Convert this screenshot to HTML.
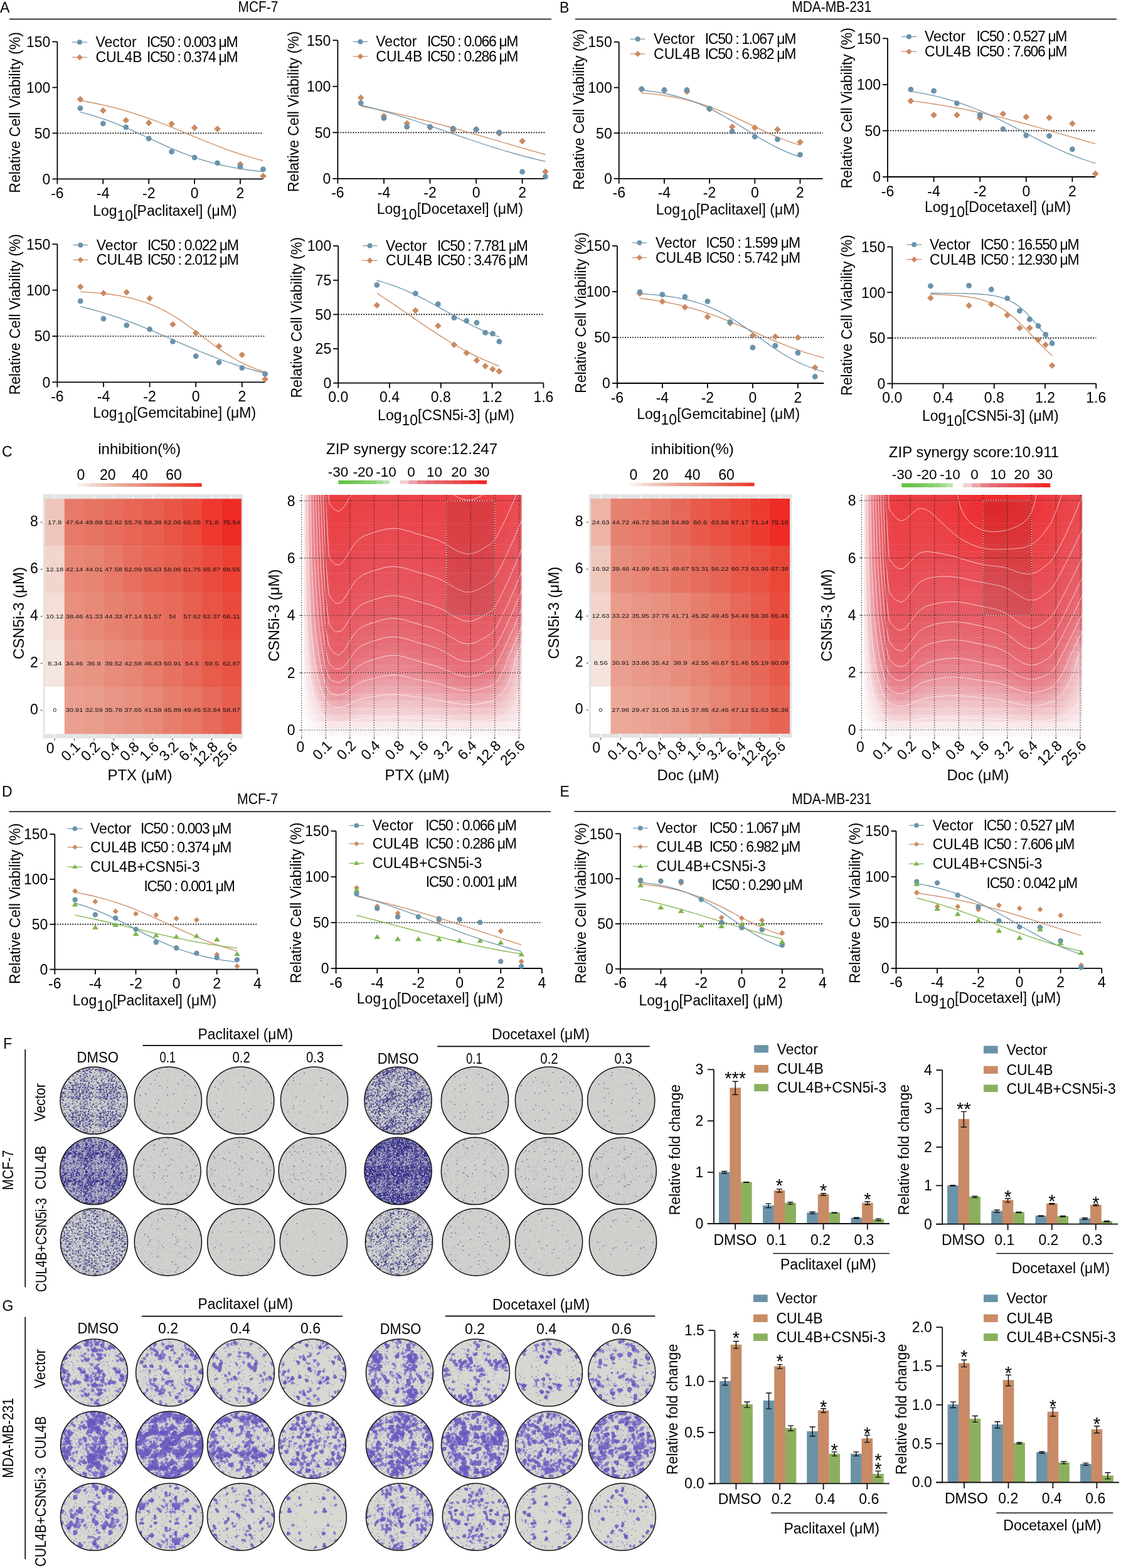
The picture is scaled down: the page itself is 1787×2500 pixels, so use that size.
<!DOCTYPE html>
<html><head><meta charset="utf-8"><title>Figure</title>
<style>html,body{margin:0;padding:0;background:#fff;}svg{display:block;}</style></head>
<body><svg width="1787" height="2500" viewBox="0 0 1787 2500" font-family='"Liberation Sans", Arial, sans-serif' font-size="23">
<rect width="1787" height="2500" fill="#fff"/>
<defs><pattern id="p1" patternUnits="userSpaceOnUse" width="44" height="44"><path d="M15 14h0M9 8h0M28 23h0M18 20h0M39 30h0M4 18h0M7 7h0M3 3h0M40 6h0M43 27h0M34 22h0M43 27h0M-1 27h0M42 44h0M42 0h0M3 4h0M35 34h0M31 34h0M22 26h0M42 39h0M32 16h0M12 13h0M10 35h0M16 20h0M21 36h0M5 25h0M18 31h0M29 21h0M31 7h0M38 2h0M35 32h0M8 21h0M18 24h0M15 20h0M7 16h0M36 3h0M12 44h0M12 0h0M37 4h0M3 23h0M33 19h0M13 18h0M10 28h0M1 4h0M45 4h0M14 39h0M36 30h0M38 37h0M7 31h0M1 14h0M45 14h0M17 32h0M28 27h0M3 20h0M19 38h0M29 6h0M4 25h0M31 38h0M11 17h0M21 30h0M8 1h0M8 45h0M6 33h0M8 42h0M17 39h0M37 21h0M34 40h0M4 29h0M7 23h0M34 22h0M22 9h0M6 35h0M38 19h0M41 33h0M6 41h0M5 13h0M39 31h0M8 4h0M34 27h0M31 4h0M9 12h0M20 33h0M8 28h0M2 24h0M0 22h0M44 22h0M17 9h0M32 32h0M40 17h0M32 11h0M2 18h0M5 35h0M9 29h0M2 21h0M13 19h0M41 11h0M25 32h0M33 26h0M29 39h0M11 22h0M36 35h0M34 16h0M15 30h0M21 30h0M31 22h0M33 16h0M18 2h0M42 24h0M31 4h0M28 42h0M12 34h0M38 2h0M40 8h0M27 16h0M2 27h0M22 17h0M8 25h0M35 33h0M20 42h0M1 24h0M45 24h0M36 35h0M31 37h0M36 38h0M1 18h0M45 18h0M11 40h0M11 42h0M33 36h0M18 13h0M17 25h0M21 25h0M6 22h0M43 22h0M-1 22h0M7 25h0M33 39h0M27 24h0M15 18h0M39 31h0M8 21h0M29 21h0M40 30h0M16 0h0M16 44h0M23 18h0M34 32h0M8 34h0M40 40h0M39 15h0M39 36h0M33 25h0M41 13h0M41 12h0M2 15h0M10 15h0M21 18h0M32 11h0M32 12h0M21 43h0M21 -1h0M12 44h0M12 0h0M30 19h0M12 18h0M31 44h0M31 0h0M44 14h0M0 14h0M26 22h0M6 5h0M9 3h0M24 20h0M13 17h0M28 20h0M24 25h0M4 40h0M25 33h0M1 9h0M23 41h0M35 11h0M13 27h0M33 23h0M32 29h0M28 15h0M0 41h0M44 41h0M32 21h0M11 10h0M35 23h0M2 41h0M7 40h0M14 3h0M3 15h0M36 31h0M27 33h0M4 39h0M26 15h0M23 25h0M30 35h0M10 15h0M8 35h0M28 40h0M0 14h0M44 14h0M43 12h0M-1 12h0M38 33h0M28 24h0M20 30h0M43 28h0M-1 28h0M22 8h0M16 32h0M20 5h0M2 36h0M27 25h0M33 11h0M11 17h0M5 42h0M3 38h0M39 33h0M28 36h0M28 16h0M29 14h0M25 12h0M20 28h0M4 17h0M26 32h0M44 36h0M0 36h0M38 27h0M11 25h0M26 14h0M1 8h0M45 8h0M33 10h0M12 14h0M26 27h0M12 18h0M22 44h0M22 0h0M37 17h0M41 40h0M4 44h0M4 0h0M40 36h0M17 21h0M24 30h0M29 17h0M8 25h0M30 21h0M7 40h0M39 28h0M30 25h0M18 9h0M37 12h0M42 6h0M4 16h0M0 8h0M44 8h0M27 23h0M30 4h0M6 40h0M19 14h0M26 11h0M36 32h0M4 31h0M32 5h0M8 28h0M1 23h0M45 23h0M23 3h0M27 31h0M24 18h0M4 12h0M20 22h0M5 8h0M2 1h0M2 45h0M28 6h0M34 24h0M35 8h0M32 27h0M40 32h0M9 31h0M2 33h0M26 10h0M42 27h0M36 26h0M21 6h0M9 14h0M1 25h0M45 25h0M32 14h0M23 10h0M34 4h0M30 14h0M3 16h0M9 21h0M29 39h0M8 32h0M4 1h0M5 36h0M3 21h0M11 44h0M11 0h0M38 27h0M25 1h0M25 26h0M40 8h0M13 19h0M34 27h0M6 1h0M1 44h0M1 0h0M32 10h0M11 28h0M37 21h0M4 27h0M32 12h0M12 37h0M43 6h0M30 28h0M30 22h0M11 7h0M25 21h0M35 34h0M31 11h0M2 41h0M40 5h0M32 21h0M4 7h0M8 8h0M34 22h0M11 22h0M34 43h0M34 -1h0M30 8h0M14 20h0M12 26h0M32 32h0M4 21h0M35 10h0M12 14h0M39 43h0M39 -1h0M20 2h0M20 16h0M44 30h0M0 30h0M30 35h0M42 8h0M21 14h0M2 40h0M7 39h0M32 2h0M33 18h0M22 5h0M22 27h0M7 31h0M44 19h0M0 19h0M44 35h0M0 35h0M30 38h0M15 15h0M2 31h0M35 19h0M36 18h0M33 18h0M26 28h0M27 36h0M42 37h0M9 24h0M24 33h0M2 5h0M37 32h0M29 20h0M28 12h0M29 42h0M33 28h0M14 18h0M11 19h0M10 22h0M40 17h0M32 22h0M9 28h0M41 3h0M12 42h0M40 1h0M40 45h0M4 38h0M10 16h0M38 36h0M28 28h0M1 37h0M45 37h0M6 24h0M33 32h0M35 36h0M38 33h0M23 34h0M2 30h0M10 12h0M44 18h0M0 18h0M1 22h0M45 22h0M42 27h0M41 27h0M30 25h0M2 3h0M44 32h0M0 32h0M5 22h0M30 34h0M27 38h0M25 0h0M25 44h0M5 40h0M17 32h0M4 9h0M44 28h0M0 28h0M3 8h0M44 44h0M0 0h0M0 44h0M44 0h0M33 5h0M36 13h0M24 37h0M3 37h0" stroke="#403a90" stroke-width="1.3" stroke-linecap="round" stroke-opacity="0.8"/><path d="M37 37h0M28 25h0M39 19h0M37 18h0M1 36h0M45 36h0M24 10h0M40 30h0M38 25h0M2 42h0M29 25h0M16 28h0M26 35h0M16 32h0M40 18h0M32 14h0M7 35h0M15 6h0M40 1h0M40 45h0M17 19h0M1 27h0M45 27h0M39 18h0M38 22h0M9 22h0M9 12h0M33 35h0M43 4h0M-1 4h0M37 13h0M35 15h0M40 12h0M4 13h0M39 32h0M33 21h0M28 35h0M4 19h0M13 4h0M7 20h0M16 2h0M30 7h0M8 18h0M40 43h0M40 -1h0M6 8h0M28 25h0M4 2h0M14 27h0M31 30h0M44 17h0M0 17h0M5 18h0M38 24h0M6 24h0M44 33h0M0 33h0M28 18h0M41 7h0M9 16h0M11 37h0M7 0h0M7 44h0M24 11h0M22 33h0M39 29h0M11 26h0M12 28h0M36 35h0M0 33h0M44 33h0M28 21h0M38 35h0M14 25h0M3 14h0M34 33h0M28 44h0M28 0h0M20 34h0M12 37h0M34 29h0M13 38h0M20 34h0M38 36h0M26 21h0M23 18h0M44 24h0M0 24h0M14 34h0M15 20h0M7 35h0M22 4h0M2 36h0M22 21h0M19 5h0M10 33h0M27 21h0M6 26h0M10 10h0M5 34h0M40 28h0M42 21h0M27 15h0M5 30h0M29 15h0M11 31h0M43 26h0M-1 26h0M34 13h0M29 33h0M29 21h0M44 12h0M0 12h0M35 26h0M35 41h0M16 16h0M17 44h0M17 0h0M2 7h0M2 6h0M41 15h0M34 29h0M14 9h0M11 32h0" stroke="#2e2a7e" stroke-width="2" stroke-linecap="round" stroke-opacity="0.9"/></pattern>
<pattern id="p2" patternUnits="userSpaceOnUse" width="44" height="44"><path d="M3 8h0M4 34h0M16 21h0M14 28h0M18 9h0M19 13h0M5 36h0M30 29h0M39 17h0M17 19h0M18 29h0M0 20h0M44 20h0M24 15h0M1 31h0M45 31h0M0 25h0M44 25h0M7 2h0M8 3h0M7 30h0M32 16h0M29 21h0M22 38h0M14 38h0M30 30h0M0 4h0M44 4h0M1 15h0M42 38h0M37 5h0M31 34h0M36 35h0M6 8h0M35 32h0M39 20h0M39 6h0M42 39h0M15 3h0M24 30h0M15 2h0M12 36h0M4 41h0M11 9h0M5 43h0M5 -1h0M40 14h0M4 29h0M39 0h0M39 44h0M28 38h0M20 25h0M35 10h0M12 29h0M24 24h0M15 41h0M13 30h0M39 18h0M2 10h0M3 6h0M5 15h0M16 20h0M29 30h0M30 16h0M29 24h0M6 24h0M14 30h0M32 11h0M19 20h0M13 2h0M2 44h0M2 0h0M33 19h0M29 12h0M31 42h0M34 20h0M43 41h0M-1 41h0" stroke="#5a58a0" stroke-width="1.1" stroke-linecap="round" stroke-opacity="0.4"/><path d="M3 18h0M20 12h0M27 6h0M33 38h0M3 30h0M12 28h0M30 43h0M30 -1h0M35 15h0" stroke="#2c2a78" stroke-width="1.6" stroke-linecap="round" stroke-opacity="0.9"/></pattern>
<pattern id="p3" patternUnits="userSpaceOnUse" width="44" height="44"><path d="M39 32h0M17 10h0M6 36h0M30 27h0M19 22h0M10 23h0M6 27h0M28 30h0M11 4h0M15 30h0M22 33h0M19 18h0M40 7h0M9 26h0M28 19h0M25 19h0M29 39h0M36 28h0M21 42h0M20 28h0M38 30h0M17 33h0M26 40h0M27 24h0M43 23h0M18 41h0M42 8h0M3 38h0M39 17h0M11 30h0M41 9h0M20 29h0M10 18h0M6 21h0M10 4h0M17 7h0M5 7h0M18 14h0M32 18h0M11 8h0M13 33h0M9 20h0M36 36h0M20 37h0" stroke="#5a58a0" stroke-width="1.1" stroke-linecap="round" stroke-opacity="0.4"/><path d="M28 10h0M4 8h0M35 17h0M37 43h0M40 21h0M0 12h0M44 12h0" stroke="#2c2a78" stroke-width="1.6" stroke-linecap="round" stroke-opacity="0.9"/></pattern>
<pattern id="p4" patternUnits="userSpaceOnUse" width="44" height="44"><path d="M4 10h0M36 1h0M10 5h0M6 23h0M8 18h0M32 32h0M18 35h0M25 36h0M11 16h0M26 42h0M27 21h0M11 12h0M10 43h0M10 -1h0M39 39h0M23 31h0M13 21h0M6 18h0M11 4h0M40 4h0M36 31h0M4 21h0M44 43h0M0 -1h0M0 43h0M44 -1h0M25 34h0M31 13h0M24 26h0M17 36h0M20 33h0M3 20h0M2 28h0M38 24h0M25 27h0M10 17h0M26 28h0M17 21h0M15 24h0M30 14h0M30 37h0M24 43h0M24 -1h0M14 40h0M8 16h0M36 1h0M27 38h0M42 30h0M15 15h0" stroke="#5a58a0" stroke-width="1.1" stroke-linecap="round" stroke-opacity="0.4"/><path d="M28 3h0M1 39h0M45 39h0M28 7h0M19 13h0M38 13h0M32 33h0" stroke="#2c2a78" stroke-width="1.6" stroke-linecap="round" stroke-opacity="0.9"/></pattern>
<pattern id="p5" patternUnits="userSpaceOnUse" width="44" height="44"><path d="M28 38h0M17 14h0M28 18h0M24 11h0M9 40h0M6 7h0M15 3h0M24 36h0M0 20h0M44 20h0M28 40h0M8 23h0M41 2h0M38 2h0M5 31h0M32 28h0M24 32h0M37 30h0M39 37h0M23 32h0M1 40h0M38 43h0M38 -1h0M24 5h0M14 25h0M28 37h0M14 10h0M24 10h0M37 4h0M32 28h0M31 22h0M21 31h0M10 29h0M42 22h0M10 17h0M27 12h0M6 16h0M40 20h0M6 6h0M8 38h0M30 10h0M3 14h0M22 38h0M16 36h0M3 4h0M14 19h0M43 30h0M27 10h0M7 26h0M32 11h0M42 7h0M7 32h0M31 0h0M31 44h0M10 32h0M30 20h0M11 37h0M3 37h0M6 5h0M4 16h0M12 18h0M43 5h0M-1 5h0M30 41h0M19 39h0M2 20h0M42 24h0M30 22h0M7 5h0M11 30h0M31 27h0M22 24h0M6 27h0M42 12h0M41 14h0M18 7h0M5 27h0M5 11h0M4 5h0M29 0h0M29 44h0M31 8h0M36 31h0M10 27h0M26 15h0M29 35h0M5 42h0M3 35h0M4 10h0M11 23h0M8 21h0M33 36h0M25 10h0M41 9h0M37 17h0M37 10h0M7 31h0M3 30h0M42 31h0M37 13h0M36 4h0M33 10h0M1 22h0M45 22h0M20 37h0M2 4h0M16 5h0M30 2h0M16 20h0M4 1h0M9 36h0M17 19h0M39 14h0M41 10h0M11 37h0M0 8h0M44 8h0M43 37h0M-1 37h0M41 43h0M3 10h0M34 3h0M9 30h0M3 40h0M40 21h0M36 37h0M4 38h0M17 19h0M3 2h0M5 38h0M16 15h0M39 28h0M15 21h0M33 17h0M37 29h0M11 16h0M34 18h0M11 16h0M33 5h0M1 7h0M45 7h0M6 18h0M9 42h0M24 21h0M44 40h0M0 40h0M22 23h0M13 38h0M24 42h0M39 35h0M23 43h0M3 7h0M5 44h0M5 0h0M4 11h0M36 31h0M14 16h0M27 27h0M40 10h0M31 32h0M22 23h0M30 38h0M10 36h0M4 25h0M30 21h0M6 23h0M33 24h0M11 26h0M33 11h0M5 37h0M20 44h0M20 0h0M13 37h0M30 42h0M41 9h0M8 34h0M20 23h0M11 37h0M12 18h0M13 2h0M6 37h0M33 17h0M44 16h0M0 16h0M7 31h0M24 14h0M26 40h0M4 6h0M8 8h0M13 34h0M32 20h0M3 10h0M27 26h0M37 24h0M17 42h0M38 37h0M20 0h0M20 44h0M19 34h0M0 43h0M44 -1h0M44 43h0M0 -1h0M20 13h0M6 23h0M15 31h0M26 23h0M5 8h0M33 23h0M30 26h0M42 31h0M1 24h0M45 24h0M15 18h0M9 37h0M24 10h0M25 36h0M11 33h0M31 40h0M28 27h0M31 26h0M34 13h0M12 27h0M16 29h0M28 13h0M11 28h0M16 37h0M31 29h0M19 29h0M3 18h0M12 19h0M11 43h0M9 40h0M44 28h0M0 28h0M6 4h0M26 28h0M33 15h0M18 42h0M34 32h0M25 16h0M3 33h0M3 3h0M8 9h0M21 32h0M42 41h0M26 4h0M21 5h0M27 16h0M16 23h0M33 7h0M3 16h0M37 8h0M8 28h0M29 3h0M15 38h0M20 35h0M28 33h0M28 14h0M17 27h0M5 26h0M41 39h0M38 11h0M9 18h0M26 33h0M5 29h0M17 23h0M33 6h0M26 16h0M33 15h0M12 11h0M44 32h0M0 32h0M26 26h0M19 18h0M8 15h0M31 12h0M11 3h0M22 37h0M20 28h0M18 39h0M36 36h0M29 2h0M36 43h0M7 35h0M25 35h0M27 14h0M1 10h0M12 29h0M29 43h0M18 30h0M7 27h0M2 36h0M0 42h0M44 42h0M10 22h0M12 36h0M17 32h0M42 44h0M42 0h0M43 37h0M-1 37h0M6 26h0M39 38h0M39 43h0M39 -1h0M9 37h0M22 26h0M6 22h0M5 21h0M40 38h0M37 3h0M18 32h0M7 30h0M3 27h0M5 36h0M31 12h0M29 1h0M29 45h0M13 35h0M36 27h0M21 23h0M0 33h0M44 33h0M33 26h0M10 39h0M17 43h0M17 -1h0M36 12h0M4 37h0M1 33h0M7 39h0M17 1h0M34 24h0M39 40h0M34 38h0M1 36h0M45 36h0M5 18h0M40 11h0M25 30h0M17 31h0M34 19h0M29 3h0M30 0h0M30 44h0M10 6h0M15 26h0M38 8h0M32 5h0M13 34h0M43 17h0M-1 17h0M39 4h0M12 25h0M4 2h0M8 31h0M35 11h0M37 39h0M42 25h0M21 7h0M25 44h0M25 0h0M18 16h0M22 40h0M11 42h0M31 0h0M31 44h0M8 2h0M28 2h0M4 36h0M18 22h0M2 38h0M16 17h0M14 33h0M40 42h0M29 38h0M34 6h0M23 40h0M40 16h0M31 21h0M32 14h0M32 32h0M26 37h0M44 18h0M0 18h0M37 14h0M27 27h0M7 0h0M7 44h0M22 19h0M28 9h0M35 8h0M27 43h0M27 -1h0M32 7h0M20 27h0M2 34h0M41 27h0M21 22h0M8 25h0M6 5h0M42 36h0M17 5h0M29 9h0M6 39h0M30 23h0M34 42h0M1 24h0M45 24h0M22 21h0M9 30h0M38 24h0M38 28h0M44 10h0M0 10h0M2 0h0M2 44h0M28 31h0M7 38h0M40 38h0M7 29h0M42 7h0M13 1h0M13 45h0M33 42h0M31 14h0M27 26h0M34 24h0M43 18h0M-1 18h0M20 4h0M13 6h0M4 4h0M30 13h0M37 10h0M38 39h0M35 38h0M26 9h0M13 4h0M30 24h0M1 41h0M16 31h0M40 33h0M44 34h0M0 34h0M41 41h0M30 6h0M26 15h0M23 12h0M32 24h0M29 32h0M6 33h0M16 32h0M38 41h0M31 22h0M37 12h0M3 38h0M37 38h0M1 13h0M45 13h0M9 32h0M2 19h0M19 31h0M30 8h0M38 13h0M12 22h0M43 12h0M11 37h0M11 1h0M35 20h0M39 11h0M2 32h0M3 29h0M39 28h0M6 42h0M5 22h0M34 34h0M10 17h0M14 42h0M6 33h0M38 38h0M42 7h0M17 39h0M7 42h0M42 32h0M8 2h0M18 31h0M18 31h0M34 30h0M34 12h0M24 25h0M3 15h0M1 23h0M45 23h0M11 22h0M3 31h0M39 27h0M43 36h0M-1 36h0M2 3h0M37 3h0M38 36h0M18 44h0M18 0h0M10 34h0M43 37h0M-1 37h0M3 28h0M41 32h0M15 40h0M40 10h0M2 42h0M21 36h0M34 8h0M11 0h0M11 44h0M7 25h0M40 39h0M35 43h0M35 -1h0M7 31h0M36 1h0M22 10h0" stroke="#403a90" stroke-width="1.3" stroke-linecap="round" stroke-opacity="0.8"/><path d="M13 20h0M38 2h0M9 35h0M33 17h0M29 39h0M20 27h0M39 42h0M33 11h0M2 44h0M2 0h0M34 12h0M34 8h0M33 8h0M15 36h0M40 43h0M40 -1h0M2 40h0M24 20h0M40 43h0M40 -1h0M15 27h0M13 34h0M34 40h0M32 40h0M19 21h0M33 12h0M33 1h0M33 45h0M34 4h0M31 16h0M27 14h0M27 42h0M1 28h0M45 28h0M34 19h0M43 30h0M-1 30h0M42 31h0M10 25h0M44 39h0M0 39h0M33 40h0M18 10h0M18 3h0M20 2h0M28 10h0M2 23h0M31 30h0M16 39h0M8 26h0M29 1h0M29 45h0M9 37h0M36 8h0M29 30h0M4 4h0M1 37h0M45 37h0M20 38h0M9 1h0M9 45h0M24 5h0M40 12h0M8 8h0M11 44h0M11 0h0M2 39h0M14 22h0M8 24h0M2 35h0M24 9h0M20 30h0M26 26h0M34 18h0M29 0h0M29 44h0M30 26h0M9 28h0M14 32h0M13 15h0M1 38h0M45 38h0M39 2h0M14 23h0M20 5h0M12 42h0M26 16h0M12 36h0M13 43h0M13 -1h0M16 7h0M1 35h0M45 35h0M43 41h0M-1 41h0M34 32h0M5 13h0M4 37h0M42 41h0M29 32h0M6 26h0M36 8h0M9 4h0M23 1h0M23 45h0M22 14h0M44 4h0M0 4h0M11 27h0M35 37h0M6 35h0M40 22h0M9 31h0M38 9h0M41 16h0M17 5h0M24 30h0M11 29h0M22 30h0M3 11h0M22 33h0M34 34h0M0 35h0M44 35h0M40 15h0M15 36h0M22 12h0M28 21h0M5 37h0M32 6h0M11 27h0M39 40h0M30 23h0M31 13h0M31 3h0M10 33h0M14 29h0M43 23h0M-1 23h0M41 37h0M15 33h0M15 10h0M34 24h0M27 4h0M12 35h0M20 13h0M5 29h0M42 2h0M7 40h0M27 13h0M12 22h0M41 22h0M21 44h0M21 0h0M44 40h0M0 40h0" stroke="#2e2a7e" stroke-width="2" stroke-linecap="round" stroke-opacity="0.9"/></pattern>
<pattern id="p6" patternUnits="userSpaceOnUse" width="44" height="44"><path d="M16 7h0M19 17h0M20 39h0M40 10h0M44 27h0M0 27h0M42 36h0M23 11h0M41 44h0M41 0h0M28 5h0M36 34h0M39 43h0M39 -1h0M43 32h0M17 23h0M22 34h0M28 36h0M23 26h0M42 35h0M41 31h0M6 18h0M13 12h0M6 5h0M21 34h0M38 43h0M26 1h0M26 45h0M8 2h0M38 14h0M32 20h0M26 38h0M29 3h0M28 16h0M43 12h0M-1 12h0M11 41h0M18 4h0M35 40h0M22 7h0M38 15h0M11 2h0M39 10h0M5 16h0M31 44h0M31 0h0M9 27h0M12 38h0M21 30h0M37 24h0M21 0h0M21 44h0M7 30h0M34 25h0M2 33h0M37 38h0M33 29h0M15 16h0M8 28h0M15 36h0M10 12h0M4 12h0M34 36h0" stroke="#5a58a0" stroke-width="1.1" stroke-linecap="round" stroke-opacity="0.4"/><path d="M40 2h0M30 25h0M15 41h0M30 14h0M37 20h0M21 21h0M21 1h0M21 45h0M36 13h0" stroke="#2c2a78" stroke-width="1.6" stroke-linecap="round" stroke-opacity="0.9"/></pattern>
<pattern id="p7" patternUnits="userSpaceOnUse" width="44" height="44"><path d="M29 30h0M33 12h0M21 6h0M12 22h0M3 15h0M36 8h0M19 2h0M32 4h0M8 33h0M20 24h0M27 22h0M19 7h0M6 9h0M11 14h0M39 9h0M6 12h0M6 36h0M42 34h0M42 24h0M20 17h0M29 10h0M23 17h0M29 38h0M29 6h0M26 32h0M24 3h0M4 24h0M32 22h0M32 24h0M36 10h0M37 33h0M5 10h0M13 35h0M28 3h0M32 14h0M38 12h0M4 15h0M20 19h0M24 5h0M12 2h0M43 21h0M-1 21h0M13 7h0M27 0h0M27 44h0M7 29h0M23 31h0M37 14h0M34 35h0M36 24h0M34 2h0M8 25h0" stroke="#5a58a0" stroke-width="1.1" stroke-linecap="round" stroke-opacity="0.4"/><path d="M24 27h0M18 2h0M14 9h0M29 10h0M33 24h0M17 27h0M39 15h0M2 38h0" stroke="#2c2a78" stroke-width="1.6" stroke-linecap="round" stroke-opacity="0.9"/></pattern>
<pattern id="p8" patternUnits="userSpaceOnUse" width="44" height="44"><path d="M40 12h0M14 8h0M26 41h0M32 6h0M16 3h0M7 22h0M7 12h0M11 19h0M38 10h0M27 18h0M13 13h0M34 37h0M32 39h0M32 13h0M10 25h0M27 34h0M40 35h0M43 30h0M30 35h0M22 35h0M38 22h0M15 17h0M27 25h0M22 17h0M32 30h0M41 42h0M1 18h0M45 18h0M33 24h0M27 11h0M17 38h0M30 39h0M40 40h0M38 40h0M40 41h0M18 18h0M20 34h0M43 30h0M-1 30h0M19 4h0M6 3h0M7 0h0M7 44h0M18 13h0M42 7h0M4 40h0M41 22h0M24 15h0M18 12h0M4 43h0M4 -1h0M38 38h0M6 28h0M3 32h0" stroke="#5a58a0" stroke-width="1.1" stroke-linecap="round" stroke-opacity="0.4"/><path d="M3 27h0M7 43h0M7 -1h0M40 19h0M40 34h0M8 38h0M39 11h0M30 13h0M1 20h0M45 20h0" stroke="#2c2a78" stroke-width="1.6" stroke-linecap="round" stroke-opacity="0.9"/></pattern>
<pattern id="p9" patternUnits="userSpaceOnUse" width="44" height="44"><rect width="44" height="44" fill="#37318a"/><path d="M7 28h0M19 26h0M12 16h0M44 41h0M0 41h0M20 40h0M39 9h0M10 20h0M22 14h0M39 20h0M40 11h0M21 5h0M14 32h0M16 14h0M23 2h0M4 4h0M42 8h0M2 1h0M2 45h0M31 29h0M38 33h0M31 16h0M35 0h0M35 44h0M32 29h0M24 4h0M0 5h0M44 5h0M36 8h0M17 38h0M24 8h0M23 40h0M36 28h0M13 9h0M8 8h0M40 15h0M19 13h0M39 16h0M41 27h0M43 18h0M-1 18h0M4 5h0M15 34h0M26 11h0M38 28h0M34 38h0M6 41h0M18 31h0M39 10h0M17 21h0M27 12h0M25 0h0M25 44h0M23 38h0M42 14h0M27 3h0M30 38h0M1 25h0M45 25h0M25 4h0M19 35h0M36 7h0M17 19h0M20 41h0M10 42h0M15 22h0M11 40h0M20 23h0M35 9h0M22 2h0M43 23h0M-1 23h0M34 17h0M12 14h0M26 19h0M17 10h0M5 41h0M15 5h0M3 31h0M37 10h0M6 40h0M9 1h0M9 45h0M2 37h0M20 16h0M27 41h0M0 15h0M44 15h0M16 6h0M4 11h0M44 28h0M0 28h0M28 10h0M17 19h0M25 15h0M41 29h0M8 13h0M28 34h0M40 8h0M9 4h0M38 30h0M18 5h0M32 26h0M20 7h0M41 28h0M4 18h0M6 41h0M22 1h0M38 28h0M37 5h0M7 34h0M30 35h0M33 20h0M24 22h0M2 28h0M22 24h0M24 9h0M42 14h0M29 1h0M29 45h0M8 9h0M24 25h0M27 43h0M27 -1h0M38 24h0M37 36h0M23 0h0M23 44h0M22 6h0M31 22h0M25 22h0M4 30h0M22 4h0M33 42h0M32 9h0M21 11h0M23 3h0M7 31h0M5 15h0M24 12h0M29 10h0M24 10h0M40 13h0M22 33h0M29 7h0M42 22h0M10 18h0M43 33h0M25 4h0M3 21h0M22 42h0M2 32h0M22 41h0M3 28h0M8 22h0M5 33h0M12 42h0M13 10h0M6 16h0M33 6h0M22 7h0M19 6h0M23 4h0M1 41h0M45 41h0M38 39h0M2 10h0M40 11h0M19 20h0M7 10h0M33 18h0M34 9h0M25 40h0M32 1h0M32 45h0M6 9h0M22 28h0M17 11h0M35 13h0M32 11h0M34 1h0M26 40h0M40 5h0M36 11h0M4 11h0M38 32h0M36 38h0M25 42h0M4 15h0M12 14h0M33 7h0M29 29h0M15 29h0M37 1h0M37 45h0M10 5h0M29 12h0M42 43h0M42 -1h0M15 5h0M37 12h0M25 42h0M39 17h0M0 0h0M44 44h0M44 0h0M0 44h0M23 43h0M36 20h0M44 11h0M0 11h0M21 10h0M39 32h0M13 24h0M40 21h0M10 15h0M22 22h0M35 41h0M19 3h0M17 5h0M7 14h0M39 6h0M6 5h0M37 14h0M15 40h0M18 29h0M25 38h0M39 8h0M21 5h0M38 24h0M33 8h0M35 18h0M40 37h0M27 5h0M5 34h0M42 41h0M17 29h0M42 11h0M5 1h0M27 24h0M18 1h0M18 45h0M34 9h0M37 14h0M16 11h0M1 12h0M29 36h0M43 5h0M-1 5h0M38 19h0M17 3h0M28 0h0M28 44h0M24 8h0M27 26h0M24 43h0M18 3h0M24 38h0M35 25h0M12 18h0M43 11h0M-1 11h0M22 33h0M19 29h0M37 11h0M24 42h0M15 19h0M18 20h0M17 41h0M31 6h0M31 9h0M20 13h0M43 13h0M41 14h0M1 36h0M31 31h0M3 6h0M8 41h0M34 33h0M18 5h0M38 11h0M30 35h0M41 17h0M31 15h0M32 8h0M36 34h0M21 32h0M44 29h0M0 29h0M8 15h0M40 25h0M3 17h0M14 1h0M14 45h0M37 4h0M22 15h0M5 14h0M31 31h0M32 20h0M21 14h0M18 36h0M12 23h0M19 15h0M14 5h0M29 42h0M2 32h0M31 29h0M38 24h0M18 17h0M23 40h0M13 33h0M35 37h0M9 18h0M19 35h0M38 31h0M35 24h0M1 13h0M45 13h0M25 4h0M27 17h0M22 12h0M32 18h0M29 39h0M2 26h0M24 5h0M32 41h0M33 18h0M24 40h0M42 11h0M38 1h0M38 45h0M42 22h0M17 41h0M19 28h0M44 10h0M0 10h0M13 32h0M36 30h0M27 9h0M43 34h0M-1 34h0M13 8h0M24 17h0M16 19h0M18 2h0M44 13h0M0 13h0M4 6h0M27 31h0M25 1h0M2 12h0M42 16h0M42 19h0M2 20h0M18 28h0M16 6h0M6 16h0M42 38h0M44 18h0M0 18h0M29 10h0M20 29h0M19 6h0M8 27h0M2 20h0M40 19h0M21 5h0M7 10h0M38 11h0M39 16h0M9 9h0M22 2h0M34 9h0M7 12h0M2 8h0M36 15h0M17 19h0M19 32h0M36 5h0M24 32h0M6 13h0M17 4h0M44 18h0M0 18h0M28 5h0M30 36h0M3 37h0M36 12h0M19 30h0M22 16h0M32 44h0M32 0h0M4 34h0M10 12h0M19 12h0M10 31h0M31 29h0M33 36h0M23 11h0M2 29h0M8 17h0M28 7h0M42 28h0M25 28h0M16 13h0M1 36h0M45 36h0M0 41h0M44 41h0M15 19h0M23 12h0M0 0h0M44 44h0M44 0h0M0 44h0M32 24h0M20 16h0M24 28h0M28 12h0M2 40h0M12 23h0M12 21h0M4 34h0M6 41h0M9 21h0M7 13h0M1 35h0M45 35h0M34 18h0M22 2h0M2 33h0M25 40h0M37 26h0M7 24h0M7 39h0M32 41h0M12 24h0M28 23h0M22 19h0M37 26h0M31 16h0M0 19h0M44 19h0M20 2h0M12 36h0M26 12h0M8 8h0M43 18h0M-1 18h0M10 12h0M42 3h0M0 25h0M44 25h0M2 34h0M20 4h0M19 21h0M10 8h0M36 3h0M5 30h0M22 3h0M34 4h0M43 9h0M-1 9h0M24 10h0M23 38h0M19 16h0M32 16h0M18 24h0M9 1h0M35 10h0M30 10h0M20 16h0M0 34h0M44 34h0M21 42h0M30 1h0M30 45h0M9 38h0M26 20h0M12 3h0M24 5h0M12 15h0M30 22h0M40 13h0M3 34h0M20 22h0M33 12h0M23 8h0M22 9h0M1 39h0M45 39h0M42 26h0M28 15h0M34 11h0M31 9h0M3 40h0M41 19h0M28 17h0M27 15h0M8 13h0M35 13h0M41 23h0M28 2h0M11 13h0M33 18h0M28 3h0M18 43h0M18 -1h0M12 13h0M22 26h0M4 33h0M16 15h0M25 43h0M32 21h0M21 29h0M34 3h0M10 35h0M7 24h0M30 9h0M24 44h0M24 0h0M4 16h0M2 36h0M28 12h0M34 38h0M8 42h0M43 12h0M15 4h0M13 25h0M27 20h0M20 22h0M12 14h0M24 15h0M9 10h0M38 12h0M26 2h0M41 24h0M2 3h0M2 22h0M25 20h0M35 14h0M23 24h0M27 10h0M30 31h0M20 26h0M37 17h0M29 43h0M29 -1h0M39 16h0M14 5h0M28 33h0M10 38h0M35 14h0M29 37h0M22 27h0M32 6h0M8 0h0M8 44h0M19 13h0M36 33h0M0 38h0M44 38h0M16 41h0M29 13h0M26 38h0M32 9h0M41 18h0M42 7h0M5 31h0M32 43h0M32 -1h0M19 2h0M16 20h0M39 43h0M18 14h0M21 22h0M38 19h0M24 17h0M0 29h0M44 29h0M22 22h0M4 31h0M8 30h0M29 19h0M37 18h0M19 33h0M36 42h0M38 32h0M28 26h0M32 2h0M33 12h0M34 28h0M17 21h0M24 20h0M39 39h0M11 19h0M44 18h0M0 18h0M22 6h0M36 0h0M36 44h0M19 43h0M19 -1h0M23 19h0M16 12h0M41 26h0M8 18h0M28 28h0M19 36h0M39 32h0M14 35h0M13 28h0M39 13h0M21 22h0M15 14h0M20 12h0M23 20h0M34 13h0M33 17h0M27 6h0M44 2h0M0 2h0M42 14h0M44 12h0M0 12h0M21 28h0M11 19h0M2 34h0M16 39h0M10 15h0M40 4h0M23 23h0M22 6h0M4 3h0M23 32h0M35 39h0M1 22h0M24 18h0M2 26h0M41 4h0M34 39h0M8 17h0M16 7h0M13 36h0M9 44h0M9 0h0M25 36h0M34 42h0M15 3h0M30 28h0M26 10h0M10 12h0M11 23h0M7 2h0M31 0h0M31 44h0M43 29h0M-1 29h0M17 41h0M36 11h0M24 4h0M15 3h0M42 21h0M25 10h0M42 37h0M27 16h0M39 1h0M37 26h0M26 38h0M31 13h0M7 36h0M28 37h0M24 13h0M33 32h0M37 32h0M30 27h0M24 29h0M26 9h0M33 12h0M2 24h0M41 24h0M9 18h0M22 19h0M1 39h0M45 39h0M17 5h0M28 14h0M20 40h0M28 17h0M9 8h0M7 34h0M33 44h0M33 0h0M28 42h0M11 33h0M14 6h0M39 43h0M39 -1h0M7 41h0M31 44h0M31 0h0M5 30h0M34 41h0M11 17h0M18 20h0M21 32h0M3 33h0M5 1h0M5 45h0M14 44h0M14 0h0M39 27h0M34 0h0M34 44h0M10 25h0M41 22h0M32 0h0M32 44h0M15 20h0M1 1h0M1 45h0M16 10h0M24 3h0M14 21h0M38 6h0M24 40h0M7 15h0M32 5h0M2 35h0M33 17h0M24 8h0M17 18h0M3 21h0M8 18h0M37 22h0M23 16h0M23 41h0M9 11h0M30 23h0M15 31h0M3 42h0M27 18h0M34 40h0M16 6h0M17 42h0M9 26h0M27 33h0M26 4h0M10 33h0M32 10h0M38 43h0M38 -1h0M43 10h0M-1 10h0M11 8h0M0 21h0M44 21h0M33 28h0M6 23h0M37 9h0M8 31h0M24 21h0M23 38h0M13 38h0M33 30h0M0 27h0M44 27h0M30 10h0M14 10h0M34 8h0M26 14h0M43 1h0M-1 45h0M-1 1h0M43 45h0M38 42h0M36 8h0M5 7h0M19 10h0M0 18h0M44 18h0M1 43h0M45 43h0M22 6h0M23 42h0M16 7h0M10 20h0M32 41h0M40 5h0M19 21h0M18 17h0M27 30h0M31 24h0M1 34h0M45 34h0M28 35h0M5 38h0M38 27h0M34 3h0M17 15h0M20 22h0M10 6h0M17 13h0M20 6h0M25 40h0M15 20h0M17 17h0M40 3h0M4 24h0M30 11h0M26 21h0M20 3h0M38 15h0M6 27h0M2 6h0M30 9h0M31 16h0M26 11h0M17 26h0M19 29h0M32 8h0M9 29h0M38 32h0M12 18h0M28 38h0M10 16h0M41 24h0M34 15h0M18 10h0M4 36h0M6 30h0M37 41h0M3 41h0M14 21h0M1 36h0M21 8h0M4 38h0M26 37h0M24 16h0M18 32h0M27 13h0M33 29h0M30 13h0M35 34h0M34 4h0M37 6h0M15 11h0M28 24h0M30 20h0M12 28h0M39 10h0M30 26h0M29 0h0M29 44h0M12 16h0M33 6h0M41 12h0M10 33h0M33 18h0M2 11h0M26 20h0M30 8h0M8 1h0M11 10h0M41 12h0M1 11h0M45 11h0M40 20h0M10 17h0M30 1h0M6 16h0M3 24h0M39 29h0M8 42h0M23 42h0M41 24h0M22 23h0M5 24h0M22 30h0M1 42h0M45 42h0M21 15h0M43 13h0M-1 13h0M14 32h0M25 24h0M25 43h0M43 16h0M18 19h0M28 8h0M9 27h0M32 12h0M32 23h0M23 16h0M4 15h0M7 33h0M21 5h0M40 23h0M33 5h0M15 13h0" stroke="#bdbecd" stroke-width="1.4" stroke-linecap="round" stroke-opacity="0.9"/><path d="M38 19h0M3 6h0M41 39h0M24 42h0M22 15h0M16 9h0M32 22h0M34 34h0M13 6h0M18 11h0M26 33h0M21 38h0M5 36h0M31 25h0M43 13h0M-1 13h0M34 14h0M12 4h0M34 40h0M41 18h0M44 9h0M0 9h0M28 30h0M18 3h0M40 40h0M40 28h0M38 6h0M29 20h0M11 17h0M10 2h0M24 17h0M1 18h0M45 18h0M19 27h0M26 32h0M22 28h0M6 14h0M40 33h0M22 8h0M22 12h0M21 2h0M40 17h0M41 32h0M35 30h0M3 36h0M25 14h0M30 12h0M2 23h0M26 38h0M35 34h0M1 24h0M45 24h0M2 38h0M20 24h0M36 25h0M18 26h0M37 30h0M15 17h0M23 3h0M35 42h0M0 9h0M44 9h0M23 27h0M2 18h0M46 18h0M26 44h0M26 0h0M26 4h0M24 15h0M31 30h0M10 21h0M24 0h0M24 44h0M35 43h0M35 -1h0M34 13h0M42 35h0M3 20h0M22 10h0M13 24h0M27 11h0M36 12h0M17 11h0M10 7h0M0 26h0M44 26h0M17 39h0M14 12h0M21 6h0M38 20h0M24 18h0M30 16h0M26 2h0M1 13h0M45 13h0M25 40h0M18 1h0M18 45h0M14 30h0M3 22h0M34 3h0M16 1h0M16 45h0M20 19h0M21 5h0M13 44h0M13 0h0M26 14h0M24 40h0M26 6h0M28 10h0M31 10h0M36 31h0M40 22h0M43 20h0M-1 20h0M31 2h0M31 46h0M44 4h0M0 4h0M31 43h0M31 -1h0M5 33h0M40 30h0M17 18h0M22 39h0M8 23h0M16 15h0M44 16h0M0 16h0M34 0h0M34 44h0M32 3h0M32 15h0M41 1h0M41 45h0M36 10h0M0 30h0M44 30h0M33 21h0M11 7h0M39 4h0M36 28h0M12 8h0M40 8h0M9 20h0M23 12h0M15 33h0M32 6h0M41 31h0M27 12h0M18 8h0M34 14h0M11 22h0M21 43h0M21 -1h0M15 27h0M36 5h0M6 16h0M22 19h0M13 19h0M24 38h0M3 18h0M17 4h0M15 28h0M23 18h0M21 11h0M22 24h0M37 13h0M39 10h0M7 18h0M42 24h0M-2 24h0M6 6h0M10 44h0M10 0h0M3 38h0M44 6h0M0 6h0M18 15h0M43 21h0M-1 21h0M32 26h0M34 13h0M24 31h0M22 14h0M34 1h0M34 45h0M10 25h0M16 12h0" stroke="#c6c7d2" stroke-width="2.2" stroke-linecap="round" stroke-opacity="0.8"/></pattern>
<pattern id="p10" patternUnits="userSpaceOnUse" width="44" height="44"><path d="M17 12h0M10 32h0M40 15h0M35 14h0M34 10h0M25 18h0M38 34h0M5 4h0M20 10h0M10 42h0M41 1h0M41 45h0M1 28h0M45 28h0M42 39h0M30 32h0M21 22h0M38 5h0M30 32h0M7 34h0M7 43h0M34 20h0M26 43h0M16 9h0M30 40h0M7 34h0M17 30h0M21 42h0M25 42h0M42 6h0M41 33h0M6 25h0M12 2h0M2 16h0M38 3h0M26 38h0M16 32h0M26 34h0M21 43h0M21 -1h0M18 9h0M5 11h0M5 41h0M6 37h0M34 21h0M2 9h0M41 18h0M34 6h0M2 16h0M15 9h0M28 25h0M25 14h0M18 12h0M24 17h0M29 42h0M14 26h0M4 36h0M23 26h0M25 5h0M39 0h0M39 44h0M8 21h0M41 31h0M40 15h0M24 26h0M10 4h0M15 4h0M0 8h0M44 8h0M38 27h0M33 25h0M21 39h0M15 12h0M13 3h0M1 12h0M45 12h0M28 9h0M21 13h0M33 10h0M20 33h0M32 40h0M1 21h0M45 21h0M8 39h0M11 35h0M23 34h0M35 38h0M39 18h0M30 40h0M35 20h0M36 34h0M20 20h0M19 41h0M10 42h0M6 11h0M32 31h0M14 13h0M25 33h0M17 21h0M19 36h0M40 28h0M11 19h0M18 28h0M14 27h0M23 24h0M43 18h0M11 0h0M11 44h0M0 30h0M44 30h0M39 29h0M9 1h0M20 3h0M3 28h0M7 21h0M37 22h0M17 22h0M40 8h0M31 10h0M27 2h0M2 9h0M31 10h0M32 14h0M37 39h0M33 9h0M3 20h0M12 1h0M12 45h0M32 36h0M37 40h0" stroke="#5a58a0" stroke-width="1.1" stroke-linecap="round" stroke-opacity="0.4"/><path d="M25 22h0M44 17h0M0 17h0M34 13h0M41 27h0M44 37h0M0 37h0M27 22h0M7 9h0M3 27h0M9 1h0M9 45h0M26 29h0M4 11h0M39 31h0" stroke="#2c2a78" stroke-width="1.6" stroke-linecap="round" stroke-opacity="0.9"/></pattern>
<pattern id="p11" patternUnits="userSpaceOnUse" width="44" height="44"><path d="M21 16h0M10 26h0M41 7h0M20 15h0M27 11h0M3 30h0M14 28h0M40 26h0M40 35h0M3 11h0M29 21h0M0 36h0M44 36h0M29 19h0M23 8h0M24 6h0M29 41h0M10 12h0M25 38h0M7 17h0M27 7h0M3 33h0M27 26h0M24 4h0M21 21h0M23 7h0M3 23h0M31 29h0M41 16h0M17 14h0M22 30h0M38 4h0M25 34h0M33 19h0M3 14h0M26 34h0M10 14h0M16 2h0M43 16h0M19 43h0M34 12h0M41 36h0M25 20h0M37 40h0M30 14h0M38 29h0M41 36h0M30 39h0M19 27h0M33 19h0M6 36h0M24 20h0M24 13h0M37 13h0M11 28h0M22 14h0M4 20h0M18 24h0M28 12h0M3 3h0M24 41h0M32 41h0M7 9h0M32 18h0M18 37h0M4 41h0M8 26h0M29 25h0M31 13h0M10 29h0M42 3h0M5 44h0M5 0h0M2 6h0M22 14h0M31 20h0M35 5h0M10 8h0M35 44h0M35 0h0M17 10h0M3 8h0M43 42h0M-1 42h0M41 8h0M3 44h0M3 0h0M32 39h0M39 38h0M0 38h0M44 38h0M25 43h0M25 -1h0M9 17h0M6 34h0M26 38h0M24 35h0M16 3h0M3 3h0M1 32h0M32 44h0M32 0h0M35 9h0M8 16h0M15 6h0M34 32h0M18 25h0M26 25h0M27 28h0M43 13h0M-1 13h0M4 6h0M26 21h0M41 24h0M40 37h0M16 10h0M29 18h0M7 2h0M36 43h0M36 -1h0M32 6h0M1 27h0M45 27h0M18 41h0M20 30h0M1 2h0M33 27h0M39 16h0M24 21h0M34 27h0M37 7h0" stroke="#5a58a0" stroke-width="1.1" stroke-linecap="round" stroke-opacity="0.4"/><path d="M29 16h0M35 18h0M7 0h0M7 44h0M22 6h0M33 39h0M14 33h0M30 24h0M4 43h0M4 -1h0M14 3h0M34 42h0" stroke="#2c2a78" stroke-width="1.6" stroke-linecap="round" stroke-opacity="0.9"/></pattern>
<pattern id="p12" patternUnits="userSpaceOnUse" width="44" height="44"><path d="M19 17h0M21 42h0M32 2h0M16 43h0M34 27h0M28 30h0M7 18h0M12 8h0M30 2h0M8 31h0M39 13h0M38 37h0M7 40h0M7 21h0M4 4h0M29 37h0M5 14h0M27 26h0M6 30h0M5 41h0M29 29h0M41 10h0M9 28h0M39 41h0M35 26h0M16 35h0M28 39h0M33 22h0M28 9h0M12 34h0M31 1h0M9 18h0M25 16h0M16 42h0M17 20h0M41 14h0M23 7h0M37 36h0M10 28h0M11 37h0M22 13h0M43 21h0M25 42h0M13 20h0M40 16h0M38 27h0M42 26h0M39 22h0M10 15h0M22 27h0M20 16h0M12 22h0M30 28h0M2 11h0M30 21h0M13 26h0M2 22h0M41 16h0M7 30h0M27 15h0M11 0h0M11 44h0M4 35h0M18 38h0M43 32h0M16 5h0M40 8h0M6 18h0M12 12h0M8 2h0M1 41h0M4 19h0M28 25h0M38 42h0M27 19h0M28 16h0M8 21h0M22 11h0M20 16h0M3 42h0M23 25h0M4 14h0M2 39h0M28 22h0M31 19h0M23 44h0M23 0h0M5 30h0M18 8h0M7 26h0M4 36h0M18 13h0M19 18h0M20 13h0M18 11h0M33 26h0M16 15h0M15 43h0M29 41h0M39 32h0M27 14h0M27 5h0M21 31h0M22 22h0M29 26h0M25 25h0M17 24h0M0 27h0M44 27h0M10 29h0M3 24h0M13 21h0M37 32h0M37 25h0M39 43h0M39 -1h0M38 10h0M5 14h0M24 10h0M44 23h0M0 23h0M42 6h0M1 23h0M45 23h0M36 13h0M43 5h0M41 44h0M41 0h0M32 29h0M29 12h0M0 30h0M44 30h0M32 16h0M16 4h0M3 34h0M18 32h0M39 1h0M1 41h0M45 41h0" stroke="#5a58a0" stroke-width="1.1" stroke-linecap="round" stroke-opacity="0.4"/><path d="M10 9h0M22 33h0M25 37h0M43 3h0M-1 3h0M29 12h0M34 33h0M41 22h0M11 35h0M44 32h0M0 32h0M28 24h0M30 32h0M29 11h0" stroke="#2c2a78" stroke-width="1.6" stroke-linecap="round" stroke-opacity="0.9"/></pattern>
<pattern id="p13" patternUnits="userSpaceOnUse" width="44" height="44"><rect width="44" height="44" fill="#37318a"/><path d="M5 43h0M5 -1h0M20 5h0M43 13h0M38 33h0M27 10h0M36 38h0M13 43h0M13 -1h0M4 4h0M34 36h0M35 8h0M23 4h0M3 19h0M11 8h0M8 4h0M15 25h0M0 22h0M44 22h0M27 2h0M12 31h0M29 15h0M19 12h0M24 10h0M35 40h0M29 33h0M9 35h0M22 41h0M6 8h0M3 15h0M29 20h0M28 14h0M5 4h0M40 29h0M2 0h0M2 44h0M39 38h0M20 11h0M29 9h0M33 43h0M19 25h0M30 43h0M30 -1h0M13 18h0M15 29h0M19 27h0M19 40h0M22 11h0M38 36h0M40 41h0M0 24h0M44 24h0M2 9h0M43 42h0M-1 42h0M13 24h0M2 24h0M43 30h0M-1 30h0M0 5h0M44 5h0M12 24h0M20 26h0M8 18h0M38 35h0M13 8h0M27 13h0M16 12h0M30 43h0M9 17h0M19 10h0M0 16h0M44 16h0M24 38h0M15 44h0M15 0h0M27 14h0M8 1h0M8 45h0M25 3h0M27 11h0M27 22h0M18 8h0M20 8h0M5 43h0M5 -1h0M38 31h0M20 10h0M20 37h0M35 3h0M10 40h0M35 32h0M36 35h0M11 44h0M11 0h0M38 39h0M1 22h0M41 16h0M4 23h0M3 36h0M37 40h0M20 25h0M27 33h0M17 0h0M17 44h0M18 15h0M37 17h0M23 16h0M8 43h0M8 -1h0M22 21h0M23 2h0M40 33h0M40 34h0M28 9h0M6 9h0M5 44h0M5 0h0M15 8h0M12 11h0M35 36h0M2 36h0M25 1h0M10 8h0M36 39h0M6 34h0M6 16h0M0 29h0M44 29h0M21 9h0M6 0h0M6 44h0M36 9h0M19 26h0M9 8h0M20 18h0M34 5h0M36 10h0M41 22h0M3 7h0M8 15h0M24 4h0M11 1h0M11 45h0M23 13h0M15 20h0M13 16h0M42 21h0M5 35h0M22 39h0M37 10h0M42 42h0M8 34h0M27 42h0M38 30h0M29 0h0M29 44h0M36 33h0M44 40h0M0 40h0M7 13h0M7 42h0M8 42h0M35 41h0M18 14h0M18 8h0M7 28h0M34 43h0M7 30h0M43 32h0M29 42h0M10 28h0M29 11h0M42 23h0M7 33h0M29 11h0M7 34h0M4 22h0M26 26h0M15 36h0M32 10h0M43 18h0M-1 18h0M13 14h0M20 11h0M28 6h0M32 19h0M37 44h0M37 0h0M6 24h0M3 42h0M4 11h0M16 31h0M38 22h0M42 25h0M29 19h0M13 24h0M4 15h0M3 32h0M28 6h0M7 27h0M8 30h0M3 12h0M18 22h0M8 5h0M11 38h0M26 11h0M22 34h0M25 24h0M2 10h0M42 2h0M12 4h0M28 3h0M37 13h0M1 10h0M22 41h0M18 41h0M29 4h0M34 39h0M31 8h0M16 18h0M27 23h0M37 27h0M32 42h0M11 1h0M11 45h0M7 1h0M7 45h0M0 1h0M44 45h0M44 1h0M0 45h0M35 35h0M31 40h0M24 6h0M40 21h0M15 39h0M36 42h0M40 36h0M40 38h0M19 5h0M29 40h0M27 15h0M32 31h0M20 31h0M36 30h0M34 41h0M12 2h0M33 1h0M33 45h0M28 0h0M28 44h0M0 32h0M44 32h0M26 8h0M22 7h0M4 6h0M28 18h0M32 18h0M6 43h0M6 -1h0M6 19h0M8 26h0M37 7h0M2 2h0M29 14h0M36 22h0M13 35h0M18 26h0M6 39h0M33 41h0M22 20h0M22 26h0M44 29h0M0 29h0M14 1h0M14 45h0M14 4h0M43 18h0M-1 18h0M12 37h0M18 4h0M20 6h0M6 26h0M21 21h0M8 36h0M29 7h0M40 44h0M40 0h0M39 22h0M14 23h0M6 12h0M14 39h0M20 37h0M28 38h0M43 3h0M33 3h0M11 28h0M9 10h0M9 30h0M19 12h0M18 6h0M5 9h0M31 34h0M18 2h0M12 4h0M38 20h0M38 26h0M25 9h0M8 10h0M10 36h0M12 29h0M17 32h0M9 29h0M10 42h0M34 6h0M35 34h0M30 37h0M29 22h0M16 2h0M28 7h0M37 12h0M8 13h0M11 8h0M20 4h0M29 4h0M32 5h0M30 6h0M37 24h0M4 18h0M35 6h0M30 30h0M40 19h0M33 40h0M4 43h0M27 14h0M11 43h0M11 -1h0M14 36h0M0 42h0M44 42h0M0 26h0M44 26h0M13 11h0M22 41h0M12 39h0M6 30h0M31 6h0M5 3h0M43 0h0M43 44h0M25 38h0M36 6h0M10 32h0M33 9h0M13 39h0M36 34h0M16 30h0M39 7h0M21 4h0M23 35h0M38 7h0M40 33h0M3 34h0M5 8h0M6 14h0M9 17h0M0 15h0M44 15h0M15 40h0M33 27h0M29 36h0M42 16h0M17 28h0M38 30h0M8 7h0M26 24h0M10 12h0M30 5h0M36 12h0M14 35h0M7 34h0M34 7h0M43 5h0M3 13h0M9 38h0M9 13h0M40 2h0M29 42h0M5 28h0M40 19h0M30 0h0M30 44h0M0 39h0M44 39h0M7 37h0M8 36h0M14 3h0M8 32h0M37 30h0M29 35h0M16 6h0M28 9h0M6 6h0M37 15h0M36 36h0M19 33h0M39 41h0M9 34h0M38 6h0M30 14h0M24 6h0M29 10h0M18 42h0M30 2h0M34 2h0M6 12h0M8 44h0M8 0h0M11 42h0M11 20h0M35 43h0M35 -1h0M25 44h0M25 0h0M30 23h0M16 6h0M16 13h0M31 39h0M4 19h0M41 9h0M39 32h0M36 7h0M35 4h0M39 17h0M34 13h0M31 36h0M0 40h0M44 40h0M31 32h0M25 21h0M19 7h0M23 32h0M41 37h0M4 38h0M24 40h0M26 0h0M26 44h0M26 16h0M28 1h0M34 1h0M34 45h0M16 5h0M13 34h0M41 4h0M8 44h0M8 0h0M14 31h0M18 8h0M22 34h0M9 39h0M44 34h0M0 34h0M16 12h0M32 22h0M16 20h0M35 36h0M30 4h0M3 26h0M8 25h0M17 10h0M42 39h0M42 36h0M38 42h0M43 35h0M4 28h0M22 12h0M3 12h0M28 4h0M20 35h0M43 11h0M30 28h0M32 9h0M17 42h0M24 16h0M14 43h0M14 -1h0M36 18h0M0 32h0M44 32h0M16 3h0M12 3h0M42 38h0M14 10h0M37 13h0M31 4h0M33 16h0M21 5h0M10 21h0M9 35h0M26 41h0M32 17h0M39 4h0M29 3h0M15 41h0M19 29h0M7 15h0M12 4h0M33 28h0M37 29h0M39 16h0M29 8h0M5 33h0M29 42h0M27 8h0M1 29h0M45 29h0M39 9h0M35 32h0" stroke="#bdbecd" stroke-width="1.4" stroke-linecap="round" stroke-opacity="0.9"/><path d="M24 39h0M23 43h0M23 -1h0M17 4h0M11 0h0M11 44h0M43 27h0M-1 27h0M5 8h0M36 43h0M36 -1h0M33 33h0M15 16h0M24 2h0M32 42h0M6 23h0M40 2h0M22 38h0M30 38h0M43 29h0M-1 29h0M39 37h0M1 19h0M45 19h0M36 35h0M8 42h0M8 -2h0M29 38h0M29 17h0M36 38h0M27 30h0M25 44h0M25 0h0M6 28h0M33 7h0M41 24h0M0 26h0M44 26h0M30 32h0M24 43h0M24 -1h0M37 43h0M37 -1h0M16 32h0M6 21h0M34 9h0M34 2h0M38 16h0M6 6h0M29 10h0M35 29h0M14 24h0M22 41h0M15 24h0M23 15h0M20 42h0M13 5h0M0 7h0M44 7h0M37 2h0M25 27h0M1 16h0M45 16h0M14 35h0M9 3h0M0 38h0M44 38h0M39 29h0M38 12h0M18 5h0M24 23h0M2 5h0M22 20h0M2 16h0M14 0h0M14 44h0M16 9h0M15 34h0M8 4h0M26 40h0M34 21h0M31 4h0M42 41h0M18 42h0M37 3h0M15 4h0M41 7h0M13 15h0M22 1h0M22 45h0M42 34h0M39 4h0M22 30h0M9 41h0M35 38h0M18 8h0M10 33h0M30 34h0M30 10h0M23 38h0M0 26h0M44 26h0M14 22h0M7 12h0M8 11h0M6 27h0M36 17h0M1 39h0M45 39h0M9 27h0" stroke="#c6c7d2" stroke-width="2.2" stroke-linecap="round" stroke-opacity="0.8"/></pattern>
<pattern id="p14" patternUnits="userSpaceOnUse" width="44" height="44"><path d="M6 2h0M38 35h0M42 33h0M26 7h0M38 23h0M38 34h0M35 28h0M35 19h0M31 23h0M27 43h0M39 32h0M26 10h0M37 18h0M16 38h0M21 31h0M8 33h0M42 27h0M37 25h0M32 20h0M14 41h0M29 41h0M15 11h0M24 26h0M3 4h0M26 1h0M6 42h0M42 40h0M13 43h0M16 36h0M13 42h0M8 3h0M8 27h0M3 29h0M36 36h0M37 30h0M22 23h0M12 24h0M26 22h0M39 35h0M14 39h0M15 22h0M5 30h0M3 7h0M38 40h0M23 35h0M22 2h0M6 27h0M35 21h0M41 40h0M1 4h0M29 42h0M26 34h0M27 29h0M4 37h0M36 38h0M43 32h0M5 25h0M0 33h0M44 33h0M42 10h0M5 36h0M40 11h0M36 32h0M4 27h0M43 16h0M0 0h0M44 44h0M44 0h0M0 44h0M28 42h0M8 29h0M23 21h0M29 18h0M15 20h0M33 27h0M13 15h0M4 37h0M20 6h0M41 27h0M36 18h0M10 10h0M28 42h0M13 21h0M21 27h0M36 28h0M0 30h0M44 30h0M20 40h0M36 34h0M44 38h0M0 38h0M10 42h0M26 24h0M14 36h0M27 26h0M24 42h0M25 29h0M0 1h0M44 45h0M44 1h0M0 45h0M16 35h0M34 22h0M14 27h0M41 14h0M30 3h0M22 10h0M44 24h0M0 24h0M34 40h0M23 25h0M25 33h0M38 25h0M22 10h0M34 42h0M33 10h0M44 24h0M0 24h0M39 6h0M25 6h0M25 5h0" stroke="#5a58a0" stroke-width="1.1" stroke-linecap="round" stroke-opacity="0.4"/><path d="M35 22h0M37 14h0M24 8h0M9 10h0M25 2h0M40 26h0M26 19h0M42 28h0M10 17h0M5 23h0" stroke="#2c2a78" stroke-width="1.6" stroke-linecap="round" stroke-opacity="0.9"/></pattern>
<pattern id="p15" patternUnits="userSpaceOnUse" width="44" height="44"><path d="M25 20h0M14 33h0M14 2h0M24 23h0M36 19h0M30 16h0M22 4h0M20 9h0M18 12h0M31 16h0M18 19h0M28 17h0M33 31h0M15 25h0M28 1h0M28 45h0M18 13h0M16 18h0M42 33h0M13 2h0M33 17h0M2 13h0M7 44h0M7 0h0M11 22h0M2 38h0M22 1h0M22 45h0M26 38h0M21 24h0M41 18h0M25 39h0M29 23h0M15 27h0M34 32h0M9 13h0M23 5h0M34 12h0M13 12h0M10 37h0M16 4h0M35 35h0M3 6h0M2 22h0M28 12h0M35 7h0M15 18h0M19 24h0M24 8h0M2 16h0M16 19h0M2 38h0M4 6h0M20 26h0M4 37h0M21 31h0M19 20h0M18 17h0M19 28h0M31 25h0M6 8h0M22 10h0M16 33h0M41 4h0M12 20h0M6 36h0M43 34h0M-1 34h0M36 12h0M10 3h0M20 18h0M4 30h0M16 29h0M39 4h0M22 34h0M32 15h0M20 8h0M9 11h0M2 27h0M1 25h0M45 25h0M31 38h0M34 21h0M21 31h0M20 12h0M4 7h0M13 26h0M12 10h0M22 2h0M14 42h0M9 22h0M13 12h0M3 0h0M3 44h0M1 18h0M45 18h0M20 25h0M18 22h0M30 26h0M28 4h0M37 23h0M38 33h0M6 35h0M1 34h0M36 2h0M28 8h0M35 30h0M40 11h0M15 20h0M1 20h0M45 20h0M16 15h0M7 13h0M36 16h0M16 12h0M36 28h0M4 6h0M2 3h0M42 4h0M21 23h0M14 12h0M9 8h0M13 29h0M31 11h0M14 7h0M9 17h0M27 0h0M27 44h0M3 6h0" stroke="#5a58a0" stroke-width="1.1" stroke-linecap="round" stroke-opacity="0.4"/><path d="M33 36h0M16 32h0M2 31h0M4 1h0M4 45h0M7 32h0M41 4h0M32 3h0M6 12h0M39 28h0M34 16h0" stroke="#2c2a78" stroke-width="1.6" stroke-linecap="round" stroke-opacity="0.9"/></pattern>
<pattern id="p16" patternUnits="userSpaceOnUse" width="44" height="44"><path d="M19 7h0M17 19h0M0 31h0M44 31h0M28 26h0M28 40h0M21 24h0M41 39h0M8 5h0M40 27h0M1 9h0M45 9h0M15 18h0M12 14h0M24 40h0M31 41h0M0 13h0M44 13h0M39 26h0M14 11h0M37 44h0M37 0h0M28 33h0M32 33h0M20 36h0M28 40h0M40 12h0M22 17h0M5 13h0M43 17h0M-1 17h0M5 20h0M28 36h0M15 28h0M11 43h0M11 -1h0M20 35h0M40 31h0M20 31h0M25 30h0M42 16h0M14 12h0M20 36h0M14 23h0M44 11h0M0 11h0M5 2h0M33 3h0M16 30h0M21 23h0M26 0h0M26 44h0M27 29h0M43 20h0M-1 20h0M23 3h0M18 3h0M25 6h0M34 9h0M7 16h0M36 17h0M42 31h0M9 33h0M6 33h0M24 26h0M40 24h0M18 13h0M27 33h0M21 27h0M32 23h0M3 27h0M2 15h0M25 18h0M37 12h0M22 33h0M25 13h0M37 40h0M27 42h0M42 16h0M2 8h0M41 31h0M1 34h0M39 32h0M35 36h0M9 27h0M3 30h0M30 34h0M34 41h0M2 33h0M37 18h0M16 6h0M13 8h0M29 14h0M9 43h0M9 -1h0M4 29h0M3 28h0M13 3h0M4 5h0M26 30h0M22 32h0M27 18h0M1 24h0M45 24h0M38 39h0M14 25h0M38 5h0M14 10h0M26 5h0M1 33h0M45 33h0M11 24h0M22 27h0M15 13h0M38 20h0M13 12h0M38 23h0M21 34h0M1 33h0M17 3h0M32 8h0M2 18h0M7 20h0M28 22h0M41 8h0M29 10h0M9 3h0M1 4h0M14 28h0M23 31h0M32 9h0M20 32h0M30 28h0M24 28h0M15 38h0M26 22h0M25 14h0M43 42h0M-1 42h0M20 14h0M42 13h0M4 41h0M30 4h0M27 1h0M27 45h0M9 19h0M40 24h0M25 6h0M32 36h0M14 30h0M34 10h0M4 39h0M12 18h0M32 36h0" stroke="#5a58a0" stroke-width="1.1" stroke-linecap="round" stroke-opacity="0.4"/><path d="M27 25h0M28 29h0M29 44h0M29 0h0M32 41h0M8 27h0M27 43h0M18 36h0M19 11h0M35 41h0M27 43h0M27 -1h0M38 36h0M2 15h0" stroke="#2c2a78" stroke-width="1.6" stroke-linecap="round" stroke-opacity="0.9"/></pattern>
<pattern id="p17" patternUnits="userSpaceOnUse" width="44" height="44"><path d="M31 14h0M25 1h0M25 45h0M32 19h0M9 1h0M8 31h0M26 40h0M42 36h0M0 17h0M44 17h0M32 31h0M42 38h0M11 30h0M10 37h0M16 40h0M24 10h0M23 36h0M12 10h0M10 4h0M11 18h0M27 40h0M20 5h0M7 16h0M43 22h0M27 6h0M40 17h0M37 29h0M30 30h0M17 15h0M20 8h0M20 34h0M6 13h0M4 7h0M2 11h0M8 2h0M10 36h0M17 4h0M4 41h0M13 18h0M26 11h0M19 38h0M14 9h0M4 40h0M37 25h0M24 36h0M8 30h0M21 41h0M28 6h0M42 38h0M32 38h0M18 43h0M18 -1h0M28 39h0M14 31h0M30 10h0M2 6h0M8 2h0M4 34h0M44 24h0M0 24h0M35 7h0M16 22h0M2 33h0M23 0h0M23 44h0M33 16h0M31 15h0M37 28h0M2 14h0M24 8h0M5 32h0M31 4h0M6 35h0M17 4h0M9 39h0M41 33h0M10 44h0M10 0h0M27 43h0M11 21h0M30 31h0M32 20h0M14 4h0M14 11h0M18 16h0M13 26h0M32 39h0M27 1h0M27 45h0M33 5h0M24 44h0M24 0h0M24 15h0M10 28h0M4 38h0M41 21h0M40 7h0M39 27h0M5 35h0M15 36h0M27 30h0M4 32h0M43 31h0M-1 31h0M12 38h0M25 19h0M44 3h0M0 3h0M4 25h0M2 24h0M42 12h0M18 37h0M17 20h0M2 26h0M23 26h0M9 24h0M18 40h0M44 11h0M0 11h0M35 5h0M28 16h0M9 9h0M10 26h0M32 30h0M11 26h0M6 35h0M5 13h0M5 20h0M2 34h0M42 14h0M26 35h0M1 36h0M42 40h0M43 5h0M19 0h0M19 44h0M11 6h0M18 9h0M5 4h0M29 19h0M34 8h0M19 7h0M40 38h0M14 38h0M8 22h0M8 5h0M3 33h0M17 38h0M27 26h0M19 24h0M28 28h0M43 28h0M18 0h0M18 44h0M5 2h0M22 4h0M13 15h0M36 1h0M36 45h0M41 32h0M4 27h0M37 42h0M2 43h0M2 -1h0M40 27h0M20 33h0M42 23h0M24 37h0M38 22h0M23 35h0M29 2h0M35 32h0M3 6h0M15 29h0M14 34h0M8 21h0M10 33h0M1 38h0M45 38h0M11 27h0M2 30h0M23 9h0M27 28h0M1 41h0M10 0h0M10 44h0M14 35h0M14 12h0M29 17h0M38 9h0M5 23h0M17 7h0M38 13h0M43 0h0M43 44h0M22 19h0M11 27h0M34 30h0M34 9h0M40 11h0M21 9h0M22 43h0M22 -1h0M28 32h0M39 22h0M31 44h0M31 0h0M28 42h0M5 35h0M40 19h0M43 28h0M27 16h0M22 26h0M34 20h0M0 35h0M44 35h0M24 40h0M4 26h0M27 3h0M40 38h0M31 34h0M33 2h0M35 16h0M19 30h0M25 23h0M10 10h0M33 38h0M25 4h0M19 17h0M36 14h0M7 36h0M36 25h0M33 42h0M36 24h0M1 21h0M45 21h0M24 10h0M22 9h0M19 9h0M18 23h0M34 41h0M22 31h0M26 26h0M5 34h0M2 42h0M28 25h0M18 9h0M5 13h0M14 28h0M19 14h0M26 44h0M26 0h0M28 14h0M25 22h0M33 26h0M23 3h0M22 8h0M0 42h0M44 42h0M6 30h0M30 17h0M38 13h0M3 33h0M30 36h0M42 27h0M25 34h0M9 36h0M3 7h0M11 38h0M15 41h0M22 34h0M39 20h0M40 6h0M12 34h0M15 39h0M4 13h0M40 23h0M40 23h0M35 7h0M26 12h0M10 7h0M11 38h0M14 6h0M9 12h0M4 32h0M43 16h0M-1 16h0M22 0h0M22 44h0M33 41h0M21 37h0M11 10h0M20 9h0M30 17h0M10 28h0M38 4h0M23 40h0M14 20h0M14 13h0M0 6h0M44 6h0M3 40h0M5 20h0M4 25h0M25 3h0M32 2h0M28 31h0M2 40h0M12 12h0M22 29h0M22 13h0M10 27h0M16 12h0M22 5h0M29 35h0M11 2h0M18 38h0M38 1h0M19 9h0M27 7h0M18 8h0M40 16h0M19 41h0M21 15h0M32 29h0M19 9h0M3 3h0M6 39h0M17 44h0M17 0h0M44 31h0M0 31h0M8 11h0M16 3h0M30 20h0M12 37h0M0 7h0M44 7h0M4 13h0M15 32h0M22 27h0M24 21h0" stroke="#403a90" stroke-width="1.3" stroke-linecap="round" stroke-opacity="0.8"/><path d="M19 26h0M2 40h0M29 24h0M20 38h0M3 44h0M3 0h0M28 19h0M36 22h0M21 34h0M37 14h0M17 3h0M1 44h0M45 0h0M45 44h0M1 0h0M3 22h0M32 38h0M31 0h0M31 44h0M7 38h0M18 21h0M14 39h0M10 30h0M4 6h0M41 21h0M3 29h0M15 14h0M10 11h0M28 13h0M18 32h0M8 33h0M36 31h0M23 4h0M20 7h0M4 6h0M5 43h0M5 -1h0M37 18h0M39 40h0M42 22h0M13 42h0M4 36h0M10 20h0M15 34h0M37 33h0M11 15h0M10 32h0M19 38h0M6 35h0M2 40h0M14 19h0M10 2h0M39 28h0M26 25h0M4 36h0M40 13h0M40 9h0M6 3h0M18 22h0M14 27h0M16 21h0M24 3h0M37 16h0M22 3h0M23 12h0M35 39h0M33 19h0M20 15h0M6 17h0M40 37h0M7 10h0M0 18h0M44 18h0M24 3h0M14 35h0M23 13h0M34 15h0M18 15h0M7 29h0M20 30h0M32 38h0M15 30h0M39 32h0M39 7h0M34 39h0M20 43h0M20 -1h0M5 23h0M17 41h0M23 21h0M39 38h0M5 19h0M5 29h0M10 24h0M11 37h0" stroke="#2e2a7e" stroke-width="2" stroke-linecap="round" stroke-opacity="0.9"/></pattern>
<pattern id="p18" patternUnits="userSpaceOnUse" width="44" height="44"><path d="M36 27h0M35 1h0M19 38h0M33 20h0M10 15h0M19 5h0M41 28h0M23 8h0M14 18h0M6 15h0M16 32h0M40 0h0M40 44h0M6 38h0M0 11h0M44 11h0M25 23h0M10 33h0M31 0h0M31 44h0M31 17h0M22 25h0M29 35h0M8 8h0M9 8h0M35 38h0M16 30h0M35 38h0M34 26h0M35 14h0M26 12h0M18 17h0M22 0h0M22 44h0M19 22h0M40 31h0M7 17h0M33 4h0M38 2h0M30 25h0M42 16h0M14 8h0M12 14h0M26 12h0M8 38h0M3 42h0M11 34h0M32 42h0M34 0h0M34 44h0M33 43h0M35 23h0M2 1h0M2 45h0M11 32h0M7 25h0M33 25h0M32 35h0M32 0h0M32 44h0M29 25h0M36 11h0M6 2h0M20 7h0M34 26h0M16 15h0M4 6h0M39 8h0M24 25h0M33 7h0M17 6h0M5 16h0M23 14h0M17 24h0M1 38h0M1 18h0M45 18h0M31 0h0M31 44h0M6 1h0M6 45h0M6 26h0M33 42h0M23 39h0M18 23h0M42 1h0M40 13h0M19 41h0M19 40h0M30 6h0M43 1h0M-1 1h0M30 14h0M42 11h0M8 11h0M31 18h0M27 40h0M31 36h0M12 4h0M22 8h0M33 24h0M26 9h0M18 36h0M28 14h0M24 23h0M37 28h0M4 4h0M10 36h0M17 0h0M17 44h0M28 20h0M10 3h0" stroke="#5a58a0" stroke-width="1.1" stroke-linecap="round" stroke-opacity="0.4"/><path d="M31 23h0M41 9h0M16 36h0M32 10h0M11 32h0M18 0h0M18 44h0M20 41h0M22 18h0M16 4h0M38 6h0" stroke="#2c2a78" stroke-width="1.6" stroke-linecap="round" stroke-opacity="0.9"/></pattern>
<pattern id="p19" patternUnits="userSpaceOnUse" width="44" height="44"><path d="M43 25h0M17 28h0M6 14h0M34 21h0M17 43h0M23 20h0M4 26h0M22 12h0M41 27h0M24 38h0M17 43h0M17 -1h0M30 17h0M20 43h0M27 1h0M27 45h0M38 18h0M13 21h0M9 29h0M27 20h0M21 15h0M30 37h0M2 28h0M36 44h0M36 0h0M34 42h0M28 37h0M32 11h0M32 27h0M23 10h0M42 36h0M35 11h0M8 8h0M17 15h0M33 18h0M44 2h0M0 2h0M17 38h0M22 30h0M37 28h0M8 2h0M43 18h0M-1 18h0M23 5h0M22 16h0M7 30h0M30 27h0M37 43h0M37 3h0M23 29h0M39 24h0M20 13h0M10 37h0M1 32h0M45 32h0M43 2h0M8 12h0M36 36h0M40 27h0M23 22h0M24 32h0M13 40h0M8 43h0M8 -1h0M21 2h0M4 29h0M40 4h0" stroke="#5a58a0" stroke-width="1.1" stroke-linecap="round" stroke-opacity="0.4"/><path d="M1 15h0M45 15h0M35 9h0M18 12h0M0 5h0M44 5h0M15 28h0M31 29h0" stroke="#2c2a78" stroke-width="1.6" stroke-linecap="round" stroke-opacity="0.9"/></pattern>
<pattern id="p20" patternUnits="userSpaceOnUse" width="44" height="44"><path d="M11 0h0M11 44h0M19 4h0M26 3h0M14 20h0M40 4h0M6 35h0M1 40h0M45 40h0M25 12h0M37 34h0M15 35h0M9 27h0M23 36h0M14 18h0M34 23h0M30 28h0M29 39h0M21 29h0M16 1h0M33 8h0M36 40h0M29 8h0M15 17h0M3 20h0M25 15h0M8 4h0M28 1h0M28 45h0M16 10h0M23 32h0M40 28h0M44 42h0M0 42h0M28 10h0M21 8h0M44 20h0M0 20h0M33 2h0M6 8h0M11 16h0M12 19h0M18 5h0M3 16h0M4 19h0M0 24h0M44 24h0M3 30h0M18 43h0M18 -1h0M12 21h0" stroke="#5a58a0" stroke-width="1.1" stroke-linecap="round" stroke-opacity="0.4"/><path d="M33 15h0M15 28h0M43 39h0M18 32h0" stroke="#2c2a78" stroke-width="1.6" stroke-linecap="round" stroke-opacity="0.9"/></pattern>
<pattern id="p21" patternUnits="userSpaceOnUse" width="44" height="44"><path d="M10 4h0M6 8h0M16 13h0M5 40h0M29 44h0M29 0h0M31 33h0M9 12h0M11 8h0M2 28h0M28 16h0M20 4h0M43 22h0M4 27h0M27 4h0M28 1h0M2 22h0M42 21h0M2 1h0M2 45h0M3 36h0M11 4h0M22 27h0M19 28h0M4 2h0M5 8h0M13 8h0M21 34h0M2 19h0M3 19h0M8 4h0M42 43h0M42 -1h0M37 20h0M16 15h0M39 40h0M36 32h0M34 19h0M14 13h0M43 36h0M-1 36h0M16 27h0M38 31h0M1 13h0M45 13h0M37 43h0M37 -1h0M20 5h0M8 14h0M18 40h0M3 26h0M35 23h0M32 29h0M29 4h0M41 16h0M15 20h0M11 31h0M2 41h0M39 17h0M39 39h0M4 22h0M14 12h0M39 24h0M7 0h0M7 44h0M36 20h0M39 38h0M38 6h0M11 26h0M37 33h0M42 4h0M19 0h0M19 44h0M28 30h0M28 34h0M34 16h0M1 35h0M45 35h0M19 27h0M25 32h0M40 22h0M36 22h0M14 32h0M39 43h0M39 -1h0M12 37h0M5 38h0M6 1h0M6 45h0M13 22h0M0 12h0M44 12h0M20 24h0M7 18h0M33 20h0M37 39h0M3 6h0M30 39h0M22 30h0M22 21h0M0 36h0M44 36h0M20 3h0M44 20h0M0 20h0M33 6h0M6 5h0M23 1h0M23 45h0M40 30h0M4 5h0M20 44h0M20 0h0M42 36h0M1 10h0M45 10h0M23 8h0M38 23h0M0 37h0M44 37h0M33 31h0M2 24h0M1 24h0M45 24h0M34 14h0M39 29h0M42 9h0M22 18h0M10 23h0M27 32h0M40 4h0M4 11h0M7 14h0M32 14h0M8 42h0M2 24h0M35 6h0M33 42h0M42 38h0M35 41h0M29 37h0M36 24h0M44 6h0M0 6h0M12 34h0M31 37h0M6 3h0M1 28h0M45 28h0M1 14h0M10 23h0M28 27h0M41 22h0M10 26h0M40 23h0M2 23h0M12 10h0M18 25h0M17 31h0M38 31h0M28 14h0M31 35h0M5 42h0M42 23h0M31 33h0M19 34h0M43 11h0M3 22h0M31 15h0M35 13h0M15 20h0M5 40h0M38 26h0M2 24h0M21 14h0M20 36h0M33 0h0M33 44h0M2 38h0M39 31h0M14 25h0M19 37h0M27 17h0M43 35h0M-1 35h0M18 26h0M8 10h0M22 23h0M25 21h0M38 14h0M1 4h0M9 10h0M43 18h0M-1 18h0M39 18h0M16 38h0M16 2h0M37 27h0M10 13h0M9 12h0M34 27h0M18 36h0M37 39h0M42 36h0M21 8h0M41 31h0M39 14h0M7 36h0M41 36h0M41 24h0M17 36h0M37 11h0M1 12h0M45 12h0M15 38h0M11 4h0M1 29h0M45 29h0M5 32h0M25 29h0M3 34h0M29 11h0M20 42h0M34 18h0M13 10h0M12 43h0M12 -1h0M0 42h0M44 42h0M28 15h0M37 25h0M1 29h0M45 29h0M41 9h0M42 28h0M38 6h0M32 30h0M3 9h0M8 2h0M13 14h0M6 38h0M40 16h0M1 20h0M0 8h0M44 8h0M15 9h0M3 35h0M42 27h0M43 14h0M-1 14h0M41 22h0M40 6h0M3 0h0M3 44h0M39 28h0M6 2h0M26 40h0M3 10h0M18 25h0M34 8h0M20 40h0M32 22h0M40 26h0M4 34h0M17 1h0M17 45h0M2 17h0M24 6h0M42 14h0M14 35h0M42 4h0M3 20h0M42 23h0M5 32h0M27 17h0M31 42h0M28 8h0M38 13h0M24 36h0M30 1h0M30 45h0M36 33h0M8 16h0M32 32h0M43 28h0M-1 28h0M39 17h0M5 16h0M42 23h0M43 0h0M-1 44h0M-1 0h0M43 44h0M9 7h0M44 30h0M0 30h0M2 19h0M28 16h0M9 7h0M8 37h0M30 19h0M13 33h0M5 20h0M39 19h0M15 32h0M12 19h0M6 42h0M4 20h0M43 31h0M-1 31h0M11 29h0M23 28h0M30 2h0M11 38h0M31 5h0M10 30h0M22 14h0M6 3h0M2 39h0M6 4h0M16 24h0M12 10h0M41 24h0M26 12h0M26 23h0M2 38h0M16 31h0" stroke="#403a90" stroke-width="1.3" stroke-linecap="round" stroke-opacity="0.8"/><path d="M43 12h0M-1 12h0M21 31h0M34 3h0M36 24h0M19 42h0M19 39h0M8 35h0M22 30h0M30 34h0M12 44h0M12 0h0M10 36h0M0 22h0M44 22h0M32 0h0M32 44h0M36 33h0M34 40h0M17 34h0M11 42h0M34 21h0M15 34h0M24 43h0M24 -1h0M7 43h0M7 -1h0M27 32h0M11 17h0M24 22h0M43 25h0M-1 25h0M28 24h0M20 8h0M36 38h0M17 7h0M35 17h0M27 4h0M39 27h0M43 21h0M-1 21h0M30 35h0M18 8h0M21 36h0M24 40h0M29 36h0M40 38h0M34 43h0M34 -1h0M42 33h0M15 7h0M17 26h0M7 2h0M18 36h0M7 36h0M44 7h0M0 7h0M8 43h0M8 -1h0M21 40h0M36 2h0M17 7h0M43 33h0M-1 33h0M35 28h0M1 23h0M45 23h0M0 35h0M44 35h0M8 6h0M22 14h0M43 31h0M-1 31h0M31 36h0M28 32h0M10 43h0M10 -1h0M43 30h0M-1 30h0M2 39h0M41 32h0M17 34h0M22 34h0M20 33h0M32 36h0M41 36h0M9 16h0M28 0h0M28 44h0M11 41h0M7 21h0M4 21h0M3 10h0M9 12h0M31 37h0M8 26h0M10 35h0M2 18h0" stroke="#2e2a7e" stroke-width="2" stroke-linecap="round" stroke-opacity="0.9"/></pattern>
<pattern id="p22" patternUnits="userSpaceOnUse" width="44" height="44"><path d="M36 28h0M33 13h0M22 8h0M22 6h0M41 12h0M27 24h0M19 39h0M28 34h0M8 7h0M2 34h0M26 4h0M20 23h0M21 27h0M43 16h0M28 34h0M37 19h0M24 32h0M29 34h0M25 10h0M27 22h0M30 20h0M25 33h0M13 16h0M4 19h0M8 27h0M8 15h0M18 41h0M13 22h0M26 30h0M41 26h0M1 10h0M45 10h0M8 32h0M42 20h0M25 12h0M30 11h0M29 14h0M26 40h0M41 33h0M9 25h0M20 23h0M35 43h0M35 -1h0M11 23h0M43 21h0M-1 21h0M20 7h0M3 26h0M10 34h0M35 20h0M7 39h0M22 23h0M15 18h0M23 34h0M18 25h0M39 1h0M39 45h0M6 43h0M14 8h0M40 41h0M2 39h0M20 9h0M26 33h0M23 20h0M2 20h0M4 14h0M42 43h0M42 -1h0M43 18h0M-1 18h0M21 38h0M18 10h0M22 20h0M42 18h0M3 14h0M33 34h0M22 10h0M28 5h0M2 2h0M14 36h0M36 4h0M38 25h0M18 29h0M9 8h0M30 42h0M10 25h0M21 1h0M42 42h0M35 7h0M33 10h0M10 32h0M8 10h0M14 42h0M23 21h0M35 31h0M26 28h0" stroke="#5a58a0" stroke-width="1.1" stroke-linecap="round" stroke-opacity="0.4"/><path d="M22 30h0M15 20h0M0 22h0M44 22h0M30 0h0M30 44h0M2 40h0M26 4h0M34 7h0M35 14h0M16 30h0M15 36h0" stroke="#2c2a78" stroke-width="1.6" stroke-linecap="round" stroke-opacity="0.9"/></pattern>
<pattern id="p23" patternUnits="userSpaceOnUse" width="44" height="44"><path d="M16 34h0M17 18h0M35 21h0M23 0h0M23 44h0M28 13h0M8 28h0M18 11h0M19 11h0M18 33h0M1 38h0M45 38h0M29 28h0M7 28h0M0 25h0M44 25h0M16 40h0M4 22h0M25 42h0M20 18h0M23 35h0M31 16h0M31 22h0M32 21h0M7 8h0M42 1h0M26 34h0M17 35h0M23 42h0M38 4h0M32 14h0M31 37h0M30 37h0M18 17h0M39 31h0M26 43h0M26 38h0M11 15h0M22 43h0M22 -1h0M43 24h0M-1 24h0M30 32h0M24 32h0M19 25h0M38 36h0M8 23h0M25 32h0M15 27h0M44 36h0M0 36h0M4 1h0M4 45h0M7 2h0M4 32h0M44 11h0M0 11h0M5 41h0M31 26h0M14 14h0M35 38h0M7 9h0M9 3h0M37 20h0M27 41h0M18 32h0M5 24h0M7 43h0M32 11h0M27 5h0M10 26h0M1 13h0M45 13h0" stroke="#5a58a0" stroke-width="1.1" stroke-linecap="round" stroke-opacity="0.4"/><path d="M23 0h0M23 44h0M36 6h0M44 18h0M0 18h0M28 10h0M3 12h0M10 26h0" stroke="#2c2a78" stroke-width="1.6" stroke-linecap="round" stroke-opacity="0.9"/></pattern>
<pattern id="p24" patternUnits="userSpaceOnUse" width="44" height="44"><path d="M14 42h0M31 6h0M41 5h0M4 26h0M43 1h0M43 45h0M42 32h0M31 16h0M17 12h0M22 11h0M4 16h0M3 32h0M9 12h0M19 32h0M37 36h0M11 36h0M41 25h0M41 28h0M11 10h0M35 9h0M42 43h0M33 6h0M4 37h0M10 13h0M25 30h0M19 19h0M25 24h0M27 17h0M0 5h0M44 5h0M10 24h0M12 9h0M38 7h0M38 26h0M26 44h0M26 0h0M6 31h0M34 42h0M17 13h0M12 16h0M25 20h0M7 3h0M11 11h0M2 0h0M2 44h0M14 38h0M23 29h0M15 42h0M31 1h0M25 9h0M3 41h0M40 25h0M40 1h0M37 17h0M10 12h0M20 35h0M20 42h0M12 0h0M12 44h0M37 19h0M32 28h0" stroke="#5a58a0" stroke-width="1.1" stroke-linecap="round" stroke-opacity="0.4"/><path d="M14 9h0M32 12h0M9 10h0M6 20h0M38 6h0M29 1h0M29 45h0" stroke="#2c2a78" stroke-width="1.6" stroke-linecap="round" stroke-opacity="0.9"/></pattern>
<filter id="soft" x="-5%" y="-5%" width="110%" height="110%"><feGaussianBlur stdDeviation="0.7"/></filter>
<pattern id="p25" patternUnits="userSpaceOnUse" width="56" height="56"><path d="M44 34h0M40 6h0M0 29h0M56 29h0M28 19h0M41 51h0M26 28h0M41 38h0M49 28h0M42 29h0M16 38h0M3 53h0M44 15h0M20 3h0M40 14h0M11 9h0M39 3h0M46 54h0M36 12h0M30 11h0M24 10h0M26 6h0M6 19h0M16 1h0M16 57h0M22 11h0M31 2h0M0 19h0M56 19h0M29 33h0M53 27h0M35 31h0M38 20h0M43 46h0M4 49h0M35 51h0M2 20h0M32 18h0M42 28h0M25 3h0M51 49h0M44 28h0M34 23h0M39 24h0M31 54h0M18 35h0M27 55h0M27 -1h0M34 10h0M35 28h0M46 6h0M37 5h0M42 1h0M42 57h0M52 4h0M30 30h0M39 19h0M37 10h0M20 13h0M19 1h0M19 57h0M30 23h0M28 50h0M44 10h0M8 15h0M46 39h0M49 6h0M53 12h0M12 26h0M28 27h0M50 17h0M55 11h0M-1 11h0M49 14h0M40 15h0M40 8h0M8 26h0M22 48h0M50 14h0M39 10h0M36 38h0M21 2h0M12 45h0M9 13h0M52 15h0M45 2h0M18 5h0M41 49h0M32 44h0M37 15h0M29 10h0M43 2h0M29 44h0M30 19h0M42 31h0M42 53h0M34 7h0M7 10h0M16 11h0M40 4h0M51 9h0M28 27h0M18 13h0M26 10h0M31 47h0M34 39h0M31 2h0M43 14h0M32 36h0M32 3h0M7 41h0M49 11h0M23 16h0M24 9h0M20 46h0M32 2h0M42 49h0M53 30h0M37 3h0M33 13h0M34 56h0M34 0h0M36 6h0M53 21h0M2 28h0M53 48h0M23 17h0M47 3h0M30 33h0M32 18h0M45 18h0M52 22h0M39 21h0M43 47h0M48 8h0M50 22h0M25 7h0M13 29h0M3 19h0M43 49h0M34 18h0M42 53h0M23 44h0M52 51h0M50 50h0M50 16h0M49 34h0M11 41h0M26 33h0M23 56h0M23 0h0M53 24h0M1 22h0M57 22h0M38 54h0M25 46h0M16 7h0M29 13h0M38 0h0M38 56h0M34 11h0M25 15h0M39 50h0M22 41h0M25 44h0M38 39h0M10 11h0M15 43h0M30 5h0M25 35h0M21 15h0M9 11h0M27 53h0M39 22h0M40 15h0M37 14h0M44 20h0M32 4h0M18 36h0M29 32h0M21 34h0M38 24h0M39 38h0M38 15h0M23 14h0M15 49h0M1 22h0M44 10h0M42 26h0M43 55h0M43 -1h0M35 34h0M2 8h0M48 26h0M53 37h0M34 11h0M20 53h0M47 10h0M4 50h0M42 28h0M46 21h0M48 19h0M32 26h0M11 28h0M3 15h0M38 14h0M19 26h0M39 27h0M20 9h0M48 45h0M48 2h0M40 25h0M39 46h0M47 41h0M12 9h0M34 50h0M25 48h0M33 27h0M41 43h0M36 41h0M36 48h0M48 24h0M49 19h0M36 7h0M10 14h0M47 34h0M38 9h0M15 4h0M25 12h0M29 34h0M30 11h0M43 55h0M43 -1h0M36 21h0M14 26h0M42 15h0M22 15h0M42 18h0M54 54h0M55 44h0M31 13h0M41 27h0M17 7h0M37 11h0M36 34h0M41 50h0M41 40h0M44 20h0M38 16h0M48 29h0M41 17h0M25 40h0M32 49h0M31 20h0M46 7h0M41 13h0M45 13h0M38 10h0M35 38h0M19 23h0M34 10h0M48 34h0M39 38h0M24 46h0M37 27h0" stroke="#a093d6" stroke-width="1.6" stroke-linecap="round" stroke-opacity="0.5"/><path d="M30 17h0M35 29h0M29 7h0M43 16h0M16 5h0M22 54h0M43 24h0M36 17h0M47 44h0M30 45h0M8 53h0M47 7h0M44 47h0M26 39h0M4 45h0M17 40h0M49 6h0M43 4h0M33 23h0M26 39h0M34 54h0M41 15h0M36 25h0M35 6h0M34 23h0M36 2h0M23 4h0M33 8h0M39 24h0M17 9h0M38 21h0M6 31h0M21 54h0M27 10h0M48 40h0M20 40h0M30 15h0M40 19h0M33 25h0M48 22h0M52 1h0M52 57h0M41 9h0M29 17h0M31 53h0M38 50h0M12 42h0M56 35h0M0 35h0M17 28h0M2 43h0M39 36h0M25 41h0M34 47h0M31 13h0M47 56h0M47 0h0M6 34h0M21 13h0M18 41h0M5 49h0M4 56h0M4 0h0M36 41h0M54 48h0M36 46h0M18 52h0M55 21h0M-1 21h0M45 42h0M27 7h0M44 0h0M44 56h0M48 16h0M30 1h0M30 57h0M35 31h0M29 16h0M33 47h0M29 25h0M32 3h0M48 24h0M45 8h0M45 47h0M3 15h0M49 46h0M28 11h0M10 16h0M53 7h0M33 16h0M25 16h0M38 25h0M40 21h0M50 17h0M5 18h0M9 14h0M37 48h0M25 8h0M6 5h0M31 18h0M34 35h0M46 17h0M29 55h0M29 -1h0M53 32h0M28 32h0M52 43h0M15 34h0M15 34h0" stroke="#7d6dcb" stroke-width="2" stroke-linecap="round" stroke-opacity="0.7"/><path d="M44 49h0M45 48h0M42 49h0M34 16h0M35 17h0M34 14h0M5 22h0M4 22h0M6 23h0M34 23h0M35 24h0M35 24h0M46 12h0M47 11h0M46 10h0M22 3h0M23 1h0M23 57h0M21 4h0M51 2h0M51 58h0M50 3h0M50 1h0M50 57h0M19 42h0M20 42h0M20 42h0M53 13h0M51 12h0M53 12h0M40 6h0M42 6h0M40 8h0M37 32h0M37 34h0M36 33h0M39 10h0M40 9h0M38 11h0M56 32h0M0 32h0M56 33h0M0 33h0M55 33h0M-1 33h0M29 13h0M28 14h0M29 11h0M33 11h0M33 13h0M33 9h0M34 19h0M34 18h0M33 19h0M46 25h0M47 26h0M47 24h0M15 19h0M13 19h0M15 20h0M23 39h0M24 38h0M24 37h0M29 24h0M29 25h0M28 23h0M46 3h0M45 3h0M46 4h0M23 31h0M24 30h0M22 31h0M14 21h0M15 22h0M14 22h0M34 47h0M34 49h0M33 47h0M43 39h0M44 40h0M41 39h0M47 1h0M47 57h0M49 2h0M49 58h0M46 1h0M46 57h0M50 38h0M51 37h0M48 38h0M50 25h0M51 24h0M51 26h0M45 14h0M44 13h0M44 13h0M38 22h0M38 24h0M39 24h0M43 26h0M44 24h0M45 25h0M14 20h0M16 20h0M13 20h0M36 26h0M37 27h0M37 27h0M56 23h0M0 23h0M57 24h0M1 24h0M56 22h0M0 22h0M19 34h0M18 33h0M21 35h0M35 33h0M34 32h0M36 34h0M26 11h0M25 10h0M27 12h0M36 5h0M37 6h0M36 6h0" stroke="#7361c7" stroke-width="3.4" stroke-linecap="round" stroke-opacity="0.8"/><path d="M37 25h0M39 24h0M39 23h0M9 20h0M8 18h0M11 20h0M46 37h0M48 37h0M46 39h0M16 55h0M16 -1h0M17 57h0M17 1h0M14 54h0M14 -2h0M9 20h0M7 21h0M7 19h0M26 15h0M26 17h0M24 16h0M46 32h0M49 32h0M44 31h0M41 24h0M39 24h0M40 26h0M45 3h0M45 59h0M45 0h0M45 56h0M47 4h0M42 13h0M43 15h0M41 15h0M25 9h0M27 10h0M26 11h0M42 53h0M42 -3h0M40 53h0M44 54h0M44 -2h0M22 4h0M20 3h0M20 59h0M19 4h0M52 19h0M52 16h0M50 17h0M27 41h0M29 39h0M25 40h0M54 9h0M-2 9h0M53 7h0M53 7h0" stroke="#6450bd" stroke-width="5.1" stroke-linecap="round" stroke-opacity="0.8"/></pattern>
<pattern id="p26" patternUnits="userSpaceOnUse" width="56" height="56"><path d="M43 35h0M18 39h0M31 16h0M12 44h0M26 31h0M52 28h0M6 42h0M40 54h0M54 22h0M8 45h0M37 4h0M22 20h0M40 38h0M27 19h0M45 12h0M52 32h0M29 6h0M55 34h0M-1 34h0M19 24h0M4 3h0M11 42h0M23 27h0M7 43h0M11 7h0M37 45h0M40 52h0M45 17h0M40 32h0M25 37h0M2 30h0M23 53h0M47 2h0M10 18h0M20 50h0M33 18h0M9 5h0M2 31h0M36 7h0M37 24h0M6 16h0M55 24h0M-1 24h0M13 54h0M20 28h0M28 31h0M4 20h0M38 25h0M25 19h0M3 24h0M6 45h0M36 26h0M31 24h0M18 28h0M17 27h0M42 10h0M32 43h0M50 31h0M49 24h0M40 21h0M27 2h0M19 46h0M37 53h0M17 26h0M45 53h0M23 36h0M53 41h0M20 44h0M10 41h0M17 45h0M45 45h0M10 4h0M37 19h0M42 16h0M40 34h0M22 4h0M7 16h0M24 10h0M42 18h0M17 19h0M40 34h0M45 26h0M40 49h0M21 39h0M14 13h0M17 15h0M52 21h0M14 11h0M37 7h0M41 43h0M31 37h0M32 49h0M12 23h0M5 26h0M13 20h0M15 54h0M9 44h0M23 15h0M15 8h0M3 16h0M37 10h0M45 21h0M17 26h0M2 8h0M21 41h0M20 49h0M28 27h0M43 13h0M5 22h0M34 25h0M47 28h0M33 15h0M18 51h0M50 56h0M50 0h0M25 23h0M16 44h0M40 18h0M35 32h0M55 30h0M22 24h0M39 25h0M16 1h0M16 57h0M36 19h0M16 8h0M41 15h0M13 19h0M35 36h0M2 25h0M33 6h0M15 52h0M20 34h0M4 40h0M37 35h0M50 16h0M8 52h0M33 41h0M18 21h0M17 41h0M48 26h0M16 39h0M53 37h0M53 27h0M17 44h0M45 14h0M7 1h0M7 57h0M52 27h0M54 2h0M34 18h0M28 40h0M19 21h0M14 37h0M18 21h0M9 40h0M38 20h0M14 19h0M32 33h0M44 31h0" stroke="#a093d6" stroke-width="1.6" stroke-linecap="round" stroke-opacity="0.5"/><path d="M2 38h0M13 7h0M21 13h0M33 36h0M18 29h0M9 21h0M17 30h0M35 42h0M16 30h0M46 18h0M54 46h0M40 41h0M24 1h0M24 57h0M8 12h0M0 3h0M56 3h0M48 26h0M38 24h0M12 24h0M8 37h0M21 0h0M21 56h0M21 22h0M28 31h0M34 43h0M11 53h0M49 12h0M24 9h0M30 39h0M21 21h0M10 34h0M14 15h0M48 20h0M51 49h0M40 33h0M14 27h0M32 8h0M16 52h0M48 21h0M55 45h0M-1 45h0M9 0h0M9 56h0M23 41h0M46 9h0M35 15h0M35 2h0M6 51h0M14 13h0M10 52h0M35 11h0M46 13h0M48 25h0M18 33h0M52 35h0M34 13h0M15 23h0M4 49h0M15 42h0M10 24h0M19 30h0M50 24h0M29 23h0M9 32h0M5 1h0M5 57h0M27 55h0M27 -1h0" stroke="#7d6dcb" stroke-width="2" stroke-linecap="round" stroke-opacity="0.7"/><path d="M35 28h0M35 29h0M35 26h0M30 39h0M32 39h0M29 39h0M55 29h0M-1 29h0M54 29h0M54 30h0M-2 30h0M50 25h0M51 23h0M52 25h0M5 38h0M7 39h0M6 37h0M11 33h0M11 31h0M10 34h0M33 31h0M35 32h0M34 29h0M15 17h0M15 18h0M17 16h0M20 23h0M18 24h0M18 24h0M17 22h0M17 23h0M16 21h0M27 34h0M29 33h0M26 34h0M37 32h0M38 31h0M38 34h0M41 1h0M41 57h0M41 -1h0M41 55h0M41 2h0M48 41h0M47 40h0M47 40h0M14 2h0M14 58h0M15 1h0M15 57h0M15 4h0M33 31h0M32 33h0M34 33h0M46 36h0M46 37h0M47 36h0M22 23h0M21 25h0M20 24h0M42 5h0M40 5h0M42 4h0M32 55h0M32 -1h0M33 54h0M33 -2h0M31 54h0M31 -2h0M37 37h0M36 38h0M36 36h0M37 15h0M36 16h0M35 15h0M32 50h0M31 50h0M33 52h0" stroke="#7361c7" stroke-width="3.4" stroke-linecap="round" stroke-opacity="0.8"/><path d="M26 27h0M27 29h0M24 26h0M31 36h0M33 37h0M31 34h0M3 43h0M2 45h0M58 45h0M1 43h0M57 43h0M24 32h0M26 31h0M26 31h0M43 22h0M43 19h0M41 21h0M49 19h0M51 18h0M46 18h0M43 20h0M41 20h0M42 22h0M22 15h0M24 15h0M22 17h0M18 49h0M16 50h0M19 51h0M6 51h0M7 50h0M8 50h0M42 5h0M44 6h0M44 5h0M38 4h0M39 2h0M39 58h0M40 5h0" stroke="#6450bd" stroke-width="4.6" stroke-linecap="round" stroke-opacity="0.8"/></pattern>
<pattern id="p27" patternUnits="userSpaceOnUse" width="56" height="56"><path d="M28 14h0M37 43h0M40 14h0M30 7h0M11 2h0M3 54h0M3 54h0M10 3h0M54 30h0M55 34h0M-1 34h0M49 36h0M1 17h0M57 17h0M11 32h0M42 17h0M39 14h0M26 11h0M49 1h0M1 20h0M9 5h0M50 40h0M40 54h0M2 43h0M34 10h0M43 38h0M50 1h0M50 57h0M42 2h0M1 30h0M57 30h0M20 45h0M23 51h0M10 39h0M36 36h0M44 15h0M47 16h0M13 38h0M45 45h0M53 6h0M45 49h0M8 26h0M26 45h0M50 7h0M17 14h0M26 26h0M53 39h0M3 49h0M10 42h0M19 29h0M7 48h0M29 40h0M7 54h0M0 20h0M56 20h0M55 1h0M-1 1h0M29 32h0M21 22h0M31 21h0M52 17h0M36 53h0M27 21h0M44 39h0M52 50h0M27 48h0M6 33h0M44 41h0M14 31h0M22 40h0M15 4h0M5 4h0M43 3h0M30 24h0M9 39h0M14 38h0M15 34h0M49 34h0M52 38h0M3 52h0M7 31h0M3 39h0M21 5h0M28 39h0M43 3h0M21 34h0M19 46h0M16 36h0M24 19h0M33 1h0M33 57h0M6 34h0M19 5h0M14 48h0M40 6h0M10 25h0M52 37h0M31 20h0M20 13h0M55 1h0M55 57h0M-1 1h0M-1 57h0M56 35h0M0 35h0M54 25h0M56 47h0M0 47h0M51 46h0M4 36h0M18 55h0M18 -1h0M55 43h0M26 38h0M19 14h0M49 53h0M10 37h0M26 54h0M13 39h0M42 34h0M24 54h0M7 44h0M39 18h0M55 55h0M55 -1h0M-1 55h0M-1 -1h0M1 19h0M57 19h0M32 42h0M30 1h0M30 57h0M50 27h0M24 41h0M39 17h0M40 14h0M18 36h0M56 49h0M0 49h0M49 6h0M53 54h0" stroke="#a093d6" stroke-width="1.6" stroke-linecap="round" stroke-opacity="0.5"/><path d="M31 43h0M26 36h0M45 22h0M4 30h0M42 50h0M23 27h0M45 53h0M16 56h0M16 0h0M45 23h0M31 43h0M23 46h0M18 8h0M36 17h0M45 12h0M30 8h0M23 9h0M30 50h0M44 8h0M46 31h0M49 29h0M15 41h0M9 32h0M44 30h0M48 50h0M29 50h0M37 12h0M23 21h0M37 27h0M50 24h0M28 5h0M7 56h0M7 0h0M49 18h0M7 9h0M6 19h0M26 20h0M9 55h0M9 -1h0M28 20h0M9 52h0M31 5h0M52 12h0M52 36h0M47 15h0M51 1h0M51 57h0M46 53h0M21 22h0M46 39h0M13 0h0M13 56h0M17 53h0M4 38h0" stroke="#7d6dcb" stroke-width="2" stroke-linecap="round" stroke-opacity="0.7"/><path d="M47 28h0M45 28h0M46 29h0M30 33h0M29 34h0M28 33h0M45 5h0M46 4h0M44 6h0M29 6h0M30 7h0M29 4h0M46 35h0M44 34h0M47 35h0M52 45h0M52 43h0M53 45h0M32 15h0M33 14h0M33 16h0M23 10h0M23 8h0M25 10h0M11 37h0M9 36h0M11 38h0M16 41h0M16 42h0M17 42h0M54 30h0M-2 30h0M55 29h0M-1 29h0M53 29h0M4 35h0M5 35h0M2 36h0M17 45h0M16 44h0M18 44h0M28 17h0M26 16h0M27 15h0M41 46h0M42 48h0M40 45h0M15 47h0M14 47h0M14 48h0M9 15h0M10 14h0M7 15h0M31 32h0M29 31h0M32 31h0" stroke="#7361c7" stroke-width="3.4" stroke-linecap="round" stroke-opacity="0.8"/><path d="M40 14h0M38 12h0M38 13h0M11 53h0M11 -3h0M9 52h0M14 52h0M5 49h0M7 51h0M5 47h0M15 50h0M15 52h0M16 47h0M3 30h0M59 30h0M4 32h0M5 32h0M13 54h0M13 -2h0M15 53h0M15 -3h0M14 57h0M14 1h0" stroke="#6450bd" stroke-width="5.6" stroke-linecap="round" stroke-opacity="0.8"/></pattern>
<pattern id="p28" patternUnits="userSpaceOnUse" width="56" height="56"><path d="M50 24h0M47 55h0M47 -1h0M21 42h0M27 47h0M47 43h0M55 3h0M24 50h0M11 25h0M54 7h0M5 1h0M5 57h0M55 20h0M-1 20h0M41 43h0M31 10h0M27 49h0M32 28h0M7 11h0M16 32h0M5 20h0M40 40h0M14 54h0M52 52h0M9 22h0M43 16h0M19 21h0M18 12h0M38 9h0M7 48h0M7 17h0M45 35h0M54 36h0M7 27h0M4 21h0M6 21h0M36 15h0M18 19h0M50 4h0M56 55h0M56 -1h0M0 55h0M0 -1h0M34 42h0M27 34h0M7 11h0M1 11h0M57 11h0M36 49h0M45 10h0M3 2h0M2 4h0M10 3h0M10 16h0M10 21h0M6 54h0M41 27h0M55 2h0M-1 2h0M39 45h0M48 18h0M50 29h0M56 15h0M0 15h0M13 17h0M13 10h0M1 22h0M55 20h0M-1 20h0M35 53h0M10 17h0M12 30h0M16 56h0M16 0h0M50 7h0M43 33h0M1 1h0M12 2h0M50 22h0M33 3h0M41 52h0M55 47h0M53 6h0M56 53h0M0 53h0M14 11h0M0 41h0M56 41h0M15 11h0M5 48h0M4 10h0M30 14h0M12 23h0M3 49h0M30 22h0M5 49h0M44 29h0M53 5h0M49 22h0M12 23h0M47 28h0M56 52h0M0 52h0M21 33h0M54 13h0M4 21h0M55 10h0M38 41h0M1 48h0M45 19h0M38 9h0M15 56h0M15 0h0M11 26h0M5 18h0M50 30h0M3 51h0M34 37h0M23 30h0M56 6h0M0 6h0M50 49h0M38 7h0M1 45h0M57 45h0M47 28h0M50 44h0" stroke="#a093d6" stroke-width="1.6" stroke-linecap="round" stroke-opacity="0.5"/><path d="M7 11h0M2 51h0M2 16h0M13 2h0M54 3h0M21 41h0M1 19h0M57 19h0M40 44h0M6 23h0M43 36h0M40 9h0M22 22h0M44 12h0M4 8h0M50 21h0M28 3h0M29 35h0M49 17h0M55 40h0M-1 40h0M42 34h0M7 15h0M37 40h0M49 48h0M43 10h0M19 21h0M26 24h0M15 15h0M19 21h0M53 51h0M17 20h0M37 50h0M3 43h0M10 16h0M28 7h0M21 37h0M44 28h0M54 1h0M54 57h0M44 52h0M13 54h0M55 41h0M-1 41h0M55 4h0M-1 4h0M21 22h0M50 56h0M50 0h0M51 40h0" stroke="#7d6dcb" stroke-width="2" stroke-linecap="round" stroke-opacity="0.7"/><path d="M3 30h0M2 31h0M58 31h0M5 29h0M45 35h0M46 34h0M43 35h0M53 41h0M55 41h0M-1 41h0M53 43h0M46 32h0M47 30h0M48 33h0M18 21h0M19 20h0M17 22h0M11 12h0M12 13h0M10 13h0M30 36h0M31 37h0M31 35h0M14 18h0M12 19h0M15 17h0M8 21h0M7 19h0M7 22h0M44 54h0M45 53h0M46 54h0M4 48h0M4 46h0M2 47h0M12 3h0M12 1h0M12 57h0M11 2h0M4 8h0M2 8h0M3 8h0M44 46h0M42 46h0M45 46h0M18 15h0M17 14h0M20 15h0M35 34h0M35 35h0M36 33h0" stroke="#7361c7" stroke-width="3.4" stroke-linecap="round" stroke-opacity="0.8"/><path d="M46 0h0M46 56h0M47 2h0M47 58h0M44 -1h0M44 55h0M40 16h0M41 18h0M42 17h0M36 39h0M37 37h0M38 40h0M28 44h0M28 46h0M26 43h0M29 12h0M30 10h0M31 12h0M19 13h0M18 12h0M17 15h0M4 5h0M6 3h0M5 3h0M5 59h0M46 54h0M46 -2h0M45 56h0M45 0h0M44 54h0M44 -2h0M5 21h0M6 19h0M7 20h0" stroke="#6450bd" stroke-width="4.6" stroke-linecap="round" stroke-opacity="0.8"/></pattern>
<pattern id="p29" patternUnits="userSpaceOnUse" width="56" height="56"><path d="M17 19h0M38 47h0M24 33h0M43 5h0M9 12h0M53 4h0M35 40h0M33 54h0M7 41h0M46 13h0M16 19h0M5 18h0M44 46h0M6 2h0M36 2h0M20 30h0M16 44h0M38 48h0M37 33h0M38 43h0M6 53h0M2 38h0M37 47h0M38 49h0M43 52h0M40 48h0M41 53h0M39 33h0M43 36h0M35 34h0M45 30h0M43 28h0M2 2h0M14 53h0M27 24h0M20 7h0M21 4h0M25 36h0M23 6h0M37 53h0M28 30h0M13 12h0M32 23h0M25 48h0M15 36h0M43 42h0M26 51h0M25 23h0M13 12h0M29 4h0M46 13h0M14 12h0M34 25h0M31 4h0M19 14h0M20 32h0M43 27h0M41 47h0M35 51h0M53 23h0M7 32h0M36 20h0M44 48h0M50 20h0M37 50h0M40 53h0M16 11h0M41 19h0M31 41h0M19 32h0M30 12h0M33 0h0M33 56h0M48 31h0M15 4h0M53 5h0M42 53h0M50 24h0M38 16h0M45 36h0M15 9h0M26 32h0M55 27h0M-1 27h0M15 32h0M12 50h0M2 23h0M48 41h0M18 29h0M33 10h0M33 35h0M26 31h0M17 31h0M23 15h0M29 6h0M44 44h0M52 49h0M35 50h0M40 25h0M10 34h0M52 7h0M4 2h0M50 11h0M35 9h0M36 1h0M36 57h0M32 34h0M26 21h0M37 43h0M26 46h0M3 21h0M20 43h0M49 3h0M28 10h0M28 23h0M38 42h0M45 30h0M38 35h0M52 8h0M12 9h0M38 38h0M12 33h0M38 24h0M17 8h0M22 31h0M47 41h0M2 37h0M47 26h0M20 15h0M52 49h0M39 28h0M53 48h0M20 25h0M55 22h0M15 2h0M5 31h0M53 27h0M44 27h0M3 45h0M36 33h0M41 37h0M31 54h0M47 13h0M33 30h0M43 51h0M0 27h0M56 27h0M37 52h0M17 18h0M43 52h0M18 18h0M29 22h0M7 53h0M38 31h0M25 16h0M31 14h0M49 13h0M14 26h0M37 1h0M37 57h0M23 10h0M42 29h0M12 51h0M14 30h0M48 23h0M41 9h0M41 9h0M49 41h0M11 8h0M1 17h0M57 17h0M43 37h0M49 37h0M13 23h0M7 1h0M7 57h0M17 10h0M10 5h0M35 34h0M29 53h0M42 40h0M5 15h0M24 23h0M11 4h0M42 43h0M39 41h0M40 43h0M13 10h0M35 37h0M0 24h0M56 24h0M26 27h0M11 10h0M18 16h0M14 39h0M8 11h0M29 54h0M48 27h0M44 41h0M41 44h0M29 31h0M3 53h0M32 32h0M30 42h0M29 27h0M13 8h0M54 32h0M24 30h0M17 25h0M37 1h0M37 57h0M20 28h0M27 13h0M33 28h0M48 37h0M40 19h0M40 32h0M48 14h0M5 4h0M4 29h0M37 39h0M3 39h0M27 6h0M42 31h0M31 33h0M8 8h0M36 17h0M39 26h0M43 3h0M49 51h0M49 11h0M20 34h0M20 27h0M10 53h0M42 43h0M42 48h0M31 32h0M8 5h0M30 4h0M43 52h0M1 8h0M57 8h0M5 19h0M10 14h0M22 27h0M33 43h0M0 31h0M56 31h0M15 0h0M15 56h0M41 42h0M55 22h0M-1 22h0M49 53h0M41 40h0M55 28h0M-1 28h0M37 33h0M31 0h0M31 56h0M32 7h0M35 39h0M36 23h0M12 45h0M22 41h0M15 8h0M43 33h0M49 26h0M29 24h0M2 7h0M37 34h0M52 8h0M55 41h0M-1 41h0M38 38h0M55 43h0M-1 43h0M29 37h0M28 42h0M40 53h0M12 32h0M29 48h0M53 45h0M54 22h0M12 48h0M17 6h0M4 43h0" stroke="#a093d6" stroke-width="1.6" stroke-linecap="round" stroke-opacity="0.5"/><path d="M8 5h0M34 34h0M9 47h0M47 41h0M23 18h0M18 31h0M45 44h0M30 37h0M5 9h0M45 32h0M32 1h0M32 57h0M38 16h0M38 49h0M45 46h0M1 27h0M57 27h0M10 5h0M40 39h0M24 5h0M33 33h0M20 29h0M4 43h0M56 44h0M0 44h0M39 40h0M46 31h0M31 49h0M53 31h0M23 18h0M0 4h0M56 4h0M30 29h0M39 29h0M35 26h0M43 21h0M2 26h0M40 53h0M28 37h0M31 35h0M13 8h0M40 34h0M28 15h0M10 5h0M39 49h0M11 54h0M11 55h0M11 -1h0M45 31h0M54 47h0M34 21h0M34 17h0M13 12h0M52 37h0M21 4h0M41 48h0M38 48h0M15 52h0M35 4h0M41 46h0M49 37h0M39 38h0M47 31h0M33 15h0M53 9h0M32 50h0M39 45h0M47 36h0M56 17h0M0 17h0M13 54h0M7 4h0M12 19h0M15 44h0M38 29h0M49 43h0M27 22h0M34 53h0M44 53h0M28 29h0M12 28h0M23 51h0M10 3h0M29 41h0M46 33h0M32 10h0M51 45h0M3 46h0M34 32h0M26 32h0M26 27h0M33 1h0M33 57h0M14 54h0M4 16h0M26 39h0M31 49h0M37 3h0M10 22h0M33 18h0M28 35h0M35 50h0M48 43h0M52 4h0M26 26h0M0 32h0M56 32h0M37 43h0M41 51h0M34 44h0M23 48h0M54 35h0M46 3h0M34 45h0M50 18h0M40 2h0" stroke="#7d6dcb" stroke-width="2" stroke-linecap="round" stroke-opacity="0.7"/><path d="M37 37h0M36 36h0M37 36h0M17 15h0M16 13h0M16 13h0M18 21h0M17 19h0M19 21h0M17 7h0M17 6h0M19 8h0M38 35h0M38 37h0M38 37h0M46 1h0M46 57h0M45 0h0M45 56h0M44 1h0M44 57h0M37 33h0M36 31h0M38 33h0M13 48h0M14 49h0M14 50h0M12 47h0M11 46h0M10 47h0M27 49h0M27 50h0M28 47h0M30 5h0M29 7h0M31 4h0M33 45h0M33 44h0M32 46h0M44 45h0M43 44h0M42 45h0M38 41h0M40 41h0M40 40h0M39 1h0M39 57h0M38 0h0M38 56h0M39 2h0M16 37h0M15 36h0M17 36h0M41 13h0M39 13h0M39 13h0M37 49h0M39 49h0M36 48h0M31 25h0M32 24h0M32 27h0M36 43h0M34 42h0M35 42h0M10 9h0M9 9h0M10 10h0M44 39h0M42 39h0M45 39h0M29 35h0M28 36h0M27 35h0M30 52h0M31 51h0M30 50h0M46 38h0M45 40h0M45 37h0M46 16h0M45 16h0M46 14h0M26 29h0M27 30h0M24 30h0M32 26h0M31 25h0M32 24h0M19 32h0M19 30h0M18 30h0M45 44h0M46 43h0M43 43h0M36 42h0M35 40h0M36 43h0M39 12h0M37 11h0M38 10h0M43 49h0M44 48h0M43 48h0M31 1h0M31 57h0M32 2h0M29 1h0M29 57h0M6 5h0M6 6h0M7 3h0M43 17h0M43 19h0M42 16h0M55 17h0M-1 17h0M55 15h0M-1 15h0M56 18h0M0 18h0M49 7h0M48 6h0M49 8h0M39 6h0M39 8h0M38 8h0M56 37h0M0 37h0M57 38h0M1 38h0M56 35h0M0 35h0" stroke="#7361c7" stroke-width="3.4" stroke-linecap="round" stroke-opacity="0.8"/><path d="M45 50h0M47 50h0M47 51h0M36 24h0M35 22h0M37 21h0M16 34h0M18 34h0M18 35h0M39 41h0M39 43h0M40 43h0M41 30h0M40 32h0M41 27h0M20 10h0M22 12h0M22 12h0M36 54h0M36 -2h0M34 55h0M34 -1h0M34 53h0M34 -3h0M37 38h0M39 37h0M39 37h0M54 12h0M-2 12h0M54 14h0M-2 14h0M52 10h0M47 33h0M45 32h0M45 35h0M41 41h0M42 43h0M43 41h0M44 54h0M44 -2h0M43 55h0M43 -1h0M42 53h0M34 17h0M36 16h0M34 19h0M36 34h0M35 36h0M34 35h0M41 54h0M41 -2h0M43 53h0M43 55h0M43 -1h0M48 38h0M48 36h0M47 36h0M37 37h0M38 39h0M39 36h0M1 17h0M57 17h0M1 20h0M57 20h0M3 18h0M59 18h0" stroke="#6450bd" stroke-width="5.1" stroke-linecap="round" stroke-opacity="0.8"/></pattern>
<pattern id="p30" patternUnits="userSpaceOnUse" width="56" height="56"><path d="M52 45h0M19 31h0M14 48h0M39 40h0M44 56h0M44 0h0M21 45h0M17 14h0M53 2h0M39 49h0M16 49h0M18 50h0M29 43h0M19 16h0M18 46h0M32 29h0M36 22h0M45 56h0M45 0h0M26 3h0M29 0h0M29 56h0M19 45h0M8 45h0M15 46h0M2 49h0M15 43h0M33 3h0M1 27h0M57 27h0M45 56h0M45 0h0M6 45h0M22 52h0M10 22h0M14 36h0M44 53h0M11 52h0M12 53h0M14 28h0M8 23h0M23 46h0M21 28h0M37 25h0M9 53h0M6 32h0M29 14h0M48 4h0M28 1h0M28 57h0M44 45h0M19 6h0M26 14h0M14 34h0M38 17h0M32 40h0M46 47h0M17 49h0M15 30h0M38 49h0M14 41h0M35 27h0M9 51h0M6 45h0M49 47h0M41 8h0M16 44h0M9 21h0M38 12h0M20 44h0M30 5h0M31 42h0M37 42h0M14 19h0M21 1h0M21 57h0M15 52h0M27 48h0M13 51h0M41 38h0M6 55h0M6 -1h0M44 55h0M44 -1h0M30 34h0M39 1h0M39 57h0M50 44h0M0 43h0M56 43h0M10 37h0M2 45h0M33 11h0M4 55h0M4 -1h0M14 41h0M11 23h0M35 10h0M8 48h0M3 4h0M31 2h0M20 50h0M38 4h0M9 51h0M38 53h0M33 16h0M20 16h0M25 44h0M27 54h0M23 32h0M13 1h0M13 57h0M40 28h0M4 2h0M14 45h0M36 40h0M36 3h0M13 2h0M27 30h0M25 51h0M47 51h0M56 55h0M56 -1h0M0 55h0M0 -1h0M8 38h0M55 53h0M38 49h0M23 28h0M2 3h0M28 17h0M27 10h0M6 22h0M28 51h0M34 5h0M1 55h0M1 -1h0M17 36h0M40 38h0M15 29h0M17 13h0M39 53h0M11 56h0M11 0h0M6 45h0M9 15h0M3 54h0M24 42h0M17 50h0M11 42h0M4 48h0M9 2h0M41 13h0M16 42h0M53 35h0M2 27h0M7 40h0M2 19h0M8 19h0M2 54h0M13 43h0M9 46h0M41 47h0M48 13h0M47 30h0M16 41h0M24 27h0M55 45h0M8 30h0M45 41h0M14 40h0M39 15h0M14 37h0M10 1h0M49 28h0M35 43h0M14 43h0M55 29h0M34 14h0M54 22h0" stroke="#a093d6" stroke-width="1.6" stroke-linecap="round" stroke-opacity="0.5"/><path d="M23 17h0M38 49h0M12 30h0M22 41h0M17 25h0M36 3h0M33 32h0M48 8h0M27 28h0M23 38h0M15 45h0M3 16h0M45 4h0M2 35h0M4 46h0M14 51h0M17 31h0M44 15h0M3 10h0M31 54h0M36 54h0M13 24h0M15 51h0M12 52h0M7 50h0M20 48h0M12 45h0M13 50h0M32 45h0M12 49h0M40 17h0M37 1h0M37 57h0M18 43h0M39 6h0M40 11h0M48 38h0M40 24h0M6 6h0M7 39h0M30 10h0M37 10h0M34 14h0M4 55h0M4 -1h0M8 54h0M32 55h0M32 -1h0M8 43h0M42 34h0M30 38h0M15 48h0M18 42h0M20 31h0M42 56h0M42 0h0M49 30h0M35 19h0M25 2h0M23 43h0M21 42h0M28 51h0M23 1h0M23 57h0M53 39h0M48 36h0M26 30h0M6 49h0M16 48h0M52 50h0" stroke="#7d6dcb" stroke-width="2" stroke-linecap="round" stroke-opacity="0.7"/><path d="M6 56h0M6 0h0M5 55h0M5 -1h0M8 56h0M8 0h0M35 50h0M34 51h0M33 51h0M11 44h0M12 45h0M11 45h0M19 39h0M18 37h0M19 38h0M51 32h0M52 31h0M49 32h0M28 13h0M28 12h0M30 12h0M22 43h0M23 41h0M23 41h0M32 1h0M32 57h0M33 2h0M33 58h0M34 0h0M34 56h0M18 53h0M17 54h0M17 53h0M10 46h0M8 46h0M11 46h0M18 33h0M17 35h0M16 32h0M32 24h0M32 23h0M31 23h0M28 50h0M29 49h0M29 50h0M23 38h0M23 36h0M24 39h0M37 9h0M37 11h0M38 8h0M46 41h0M48 40h0M46 39h0M50 18h0M50 20h0M52 19h0M32 16h0M30 15h0M31 15h0M44 29h0M44 30h0M45 30h0M41 2h0M41 58h0M43 1h0M43 57h0M40 3h0M8 46h0M7 45h0M7 48h0M22 1h0M22 57h0M24 1h0M24 57h0M21 1h0M21 57h0M19 25h0M18 24h0M18 26h0M22 52h0M23 52h0M22 53h0" stroke="#7361c7" stroke-width="3.4" stroke-linecap="round" stroke-opacity="0.8"/><path d="M21 40h0M21 38h0M23 41h0M38 56h0M38 0h0M40 54h0M40 -2h0M37 57h0M37 1h0M8 47h0M10 46h0M10 45h0M8 51h0M6 52h0M6 50h0M33 19h0M35 19h0M35 17h0M30 32h0M28 32h0M31 30h0M0 47h0M56 47h0M0 49h0M56 49h0M-2 47h0M54 47h0M12 43h0M14 42h0M14 44h0M19 50h0M17 50h0M18 48h0M5 43h0M6 41h0M4 42h0M53 42h0M52 44h0M51 42h0M24 45h0M24 43h0M22 46h0M42 8h0M40 7h0M44 8h0" stroke="#6450bd" stroke-width="4.6" stroke-linecap="round" stroke-opacity="0.8"/></pattern>
<pattern id="p31" patternUnits="userSpaceOnUse" width="56" height="56"><path d="M8 56h0M8 0h0M48 7h0M40 48h0M2 33h0M48 16h0M5 28h0M9 22h0M11 25h0M16 30h0M15 28h0M30 38h0M49 40h0M35 28h0M7 1h0M7 57h0M45 33h0M21 21h0M20 34h0M50 26h0M49 24h0M42 40h0M34 31h0M26 26h0M6 55h0M6 -1h0M17 52h0M34 29h0M49 29h0M18 9h0M13 11h0M21 9h0M21 20h0M29 36h0M46 38h0M38 21h0M31 41h0M49 29h0M54 44h0M21 20h0M41 36h0M24 5h0M15 43h0M13 37h0M33 13h0M52 24h0M48 20h0M18 17h0M1 38h0M41 26h0M9 22h0M36 33h0M29 6h0M12 41h0M47 45h0M52 21h0M25 24h0M36 42h0M26 20h0M35 50h0M15 6h0M36 40h0M17 6h0M41 36h0M32 38h0M46 54h0M29 13h0M23 17h0M24 31h0M37 50h0M29 24h0M34 19h0M42 5h0M22 22h0M34 40h0M19 28h0M53 24h0M15 26h0M9 6h0M51 20h0M40 22h0M6 39h0M31 23h0M17 13h0M17 1h0M17 57h0M5 29h0M25 3h0M32 22h0M31 20h0M30 20h0M20 37h0M46 1h0M46 57h0M53 29h0M14 23h0M21 19h0M44 27h0M32 15h0M41 21h0M23 32h0M27 22h0" stroke="#a093d6" stroke-width="1.6" stroke-linecap="round" stroke-opacity="0.5"/><path d="M12 26h0M28 27h0M18 27h0M26 27h0M16 36h0M10 26h0M44 28h0M7 49h0M44 22h0M8 11h0M45 15h0M40 30h0M42 34h0M48 29h0M18 41h0M56 24h0M0 24h0M15 11h0M30 29h0M8 52h0M14 18h0M23 39h0M11 14h0M27 38h0M30 6h0M15 51h0M21 49h0M24 26h0M36 36h0M48 27h0M38 34h0M36 21h0M35 29h0M52 13h0M18 1h0M18 57h0M18 28h0M43 8h0M19 17h0M47 11h0M27 18h0" stroke="#7d6dcb" stroke-width="2" stroke-linecap="round" stroke-opacity="0.7"/><path d="M47 23h0M46 24h0M48 24h0M38 27h0M39 28h0M37 29h0M51 31h0M51 30h0M49 30h0M38 15h0M36 14h0M37 16h0M14 18h0M13 17h0M15 20h0M24 35h0M23 35h0M25 36h0M43 23h0M44 23h0M42 22h0M50 25h0M51 24h0M52 25h0M15 25h0M15 23h0M15 23h0M53 32h0M51 31h0M51 32h0M26 22h0M27 23h0M27 24h0M32 7h0M32 9h0M33 7h0M17 17h0M16 16h0M18 16h0M33 9h0M32 9h0M35 9h0" stroke="#7361c7" stroke-width="3.4" stroke-linecap="round" stroke-opacity="0.8"/><path d="M37 28h0M38 30h0M35 27h0M22 34h0M24 36h0M23 36h0M23 34h0M24 36h0M25 35h0M51 24h0M53 25h0M50 26h0M25 15h0M27 14h0M27 16h0M29 44h0M31 45h0M31 42h0M34 36h0M32 35h0M32 35h0M51 27h0M53 26h0M53 26h0M-3 26h0" stroke="#6450bd" stroke-width="4.6" stroke-linecap="round" stroke-opacity="0.8"/></pattern>
<pattern id="p32" patternUnits="userSpaceOnUse" width="56" height="56"><path d="M52 7h0M51 54h0M49 19h0M21 27h0M47 32h0M12 17h0M27 34h0M38 1h0M38 57h0M14 17h0M36 8h0M4 3h0M6 0h0M6 56h0M53 1h0M53 57h0M43 20h0M23 10h0M42 35h0M34 25h0M25 37h0M1 33h0M57 33h0M27 17h0M41 55h0M41 -1h0M7 49h0M10 19h0M18 8h0M48 1h0M48 57h0M17 15h0M18 41h0M11 36h0M9 33h0M23 13h0M46 41h0M9 39h0M21 32h0M30 28h0M23 22h0M17 4h0M6 32h0M1 41h0M57 41h0M49 26h0M19 48h0M41 29h0M24 44h0M55 42h0M-1 42h0M50 20h0M49 30h0M1 52h0M57 52h0M4 52h0M8 54h0M53 36h0M10 16h0M51 44h0M50 21h0M6 46h0M42 21h0M1 9h0M57 9h0M26 25h0M40 24h0M55 16h0M-1 16h0M13 16h0M19 34h0M28 39h0M45 23h0M19 11h0M21 21h0M54 37h0M51 33h0M0 10h0M56 10h0M30 35h0M13 20h0M19 32h0M12 2h0M35 13h0M23 50h0M23 48h0M29 32h0M45 30h0M9 15h0M34 28h0M46 9h0M21 21h0M2 29h0M10 37h0M22 23h0M23 31h0M39 23h0M7 36h0M47 45h0M25 10h0M38 42h0M24 53h0M35 9h0M28 54h0M8 48h0M45 56h0M45 0h0M11 18h0M30 34h0M53 17h0M14 22h0M51 15h0M34 35h0M5 23h0M40 47h0M36 39h0M18 20h0M52 39h0M6 31h0M51 12h0M13 37h0M26 35h0M31 30h0M4 35h0M8 45h0M29 2h0M15 27h0M5 44h0M50 1h0M50 57h0M29 45h0M34 10h0M26 52h0M48 33h0M46 28h0M46 23h0" stroke="#a093d6" stroke-width="1.6" stroke-linecap="round" stroke-opacity="0.5"/><path d="M3 48h0M25 25h0M45 40h0M53 44h0M47 25h0M26 22h0M50 19h0M3 45h0M2 7h0M48 15h0M7 23h0M20 25h0M22 17h0M5 28h0M45 16h0M49 21h0M41 33h0M46 21h0M29 21h0M53 36h0M41 54h0M10 29h0M5 45h0M55 20h0M-1 20h0M13 40h0M16 39h0M9 29h0M2 28h0M47 6h0M35 39h0M3 24h0M26 39h0M18 23h0M32 32h0M41 15h0M42 28h0M55 44h0M-1 44h0M16 10h0M19 18h0M46 16h0M15 25h0M2 45h0M39 34h0M30 7h0M8 18h0M11 27h0M22 54h0M49 30h0M3 26h0" stroke="#7d6dcb" stroke-width="2" stroke-linecap="round" stroke-opacity="0.7"/><path d="M13 49h0M11 48h0M15 49h0M3 52h0M2 51h0M58 51h0M5 52h0M50 16h0M50 17h0M49 14h0M44 6h0M43 7h0M43 6h0M55 17h0M-1 17h0M54 15h0M-2 15h0M53 16h0M2 23h0M58 23h0M0 23h0M56 23h0M2 24h0M28 25h0M29 26h0M30 25h0M8 26h0M9 27h0M9 25h0M33 5h0M33 4h0M33 4h0M24 31h0M23 32h0M25 31h0M22 34h0M23 36h0M22 33h0M25 45h0M27 46h0M27 46h0M17 16h0M16 15h0M17 14h0M6 26h0M8 26h0M5 25h0M46 15h0M46 16h0M47 16h0M54 16h0M54 18h0M-2 18h0M55 15h0M-1 15h0M23 5h0M24 5h0M24 5h0M3 12h0M5 12h0M2 10h0" stroke="#7361c7" stroke-width="3.4" stroke-linecap="round" stroke-opacity="0.8"/><path d="M53 31h0M-3 31h0M51 33h0M51 30h0M3 22h0M59 22h0M2 24h0M58 24h0M2 19h0M58 19h0M25 39h0M23 37h0M26 37h0M38 11h0M41 10h0M36 12h0M5 43h0M5 46h0M5 41h0M38 32h0M36 34h0M35 32h0" stroke="#6450bd" stroke-width="5.6" stroke-linecap="round" stroke-opacity="0.8"/></pattern>
<pattern id="p33" patternUnits="userSpaceOnUse" width="56" height="56"><path d="M51 8h0M36 8h0M5 44h0M23 30h0M44 50h0M30 31h0M25 39h0M36 37h0M48 19h0M43 4h0M35 23h0M6 53h0M9 21h0M6 29h0M48 43h0M44 48h0M46 41h0M21 1h0M21 57h0M39 33h0M34 16h0M51 25h0M23 37h0M7 3h0M46 53h0M46 33h0M37 33h0M44 38h0M37 8h0M35 43h0M22 49h0M27 28h0M31 15h0M43 33h0M23 9h0M2 8h0M54 23h0M51 55h0M51 -1h0M28 48h0M31 25h0M23 25h0M2 30h0M27 53h0M8 2h0M33 4h0M0 20h0M56 20h0M41 39h0M37 25h0M33 22h0M38 1h0M38 57h0M40 9h0M34 35h0M2 17h0M44 33h0M8 14h0M40 20h0M21 27h0M49 28h0M54 14h0M55 11h0M-1 11h0M45 18h0M32 33h0M42 50h0M20 11h0M47 56h0M47 0h0M29 15h0M41 36h0M4 1h0M4 57h0M43 5h0M37 4h0M39 30h0M45 29h0M38 25h0M28 44h0M2 15h0M23 3h0M10 24h0M38 8h0M16 51h0M28 28h0M51 55h0M51 -1h0M30 41h0M25 34h0M42 27h0M53 20h0M55 55h0M-1 55h0M32 52h0M48 12h0M27 21h0M27 25h0M40 32h0M0 26h0M56 26h0M41 26h0M30 30h0M37 7h0M40 17h0M19 53h0M9 9h0M47 32h0M8 14h0M12 31h0M29 21h0M13 15h0M36 9h0M12 54h0M46 40h0M5 24h0M36 42h0M50 36h0M46 50h0M53 28h0M51 3h0M32 17h0M36 43h0M32 27h0M52 23h0M40 47h0M2 1h0M2 57h0M46 42h0M29 25h0M36 25h0M31 29h0M49 21h0M50 52h0M21 28h0M24 38h0M1 20h0M57 20h0M53 4h0M52 3h0M29 43h0M40 34h0M36 38h0M53 8h0M55 16h0M51 0h0M51 56h0M43 37h0M3 51h0M41 24h0M41 29h0M1 47h0M34 32h0M44 41h0M51 46h0M45 32h0M37 33h0M6 39h0M26 51h0M51 13h0M55 18h0M53 46h0M23 9h0M50 14h0M5 48h0M36 27h0M33 36h0M44 6h0M1 27h0M57 27h0M35 21h0M38 17h0M33 16h0M3 27h0M47 4h0M43 47h0M35 39h0M39 35h0M31 25h0M38 23h0M42 46h0M31 31h0M46 27h0M37 36h0M37 47h0M48 38h0M30 48h0M53 0h0M53 56h0M3 26h0M33 21h0M20 19h0M37 16h0M40 31h0M6 33h0M10 10h0M50 47h0M37 41h0M56 15h0M0 15h0M9 10h0M15 8h0M41 15h0M49 14h0M34 13h0M1 17h0M41 26h0M45 39h0M47 10h0M6 13h0M49 21h0M46 48h0M51 48h0M40 44h0M26 25h0M39 15h0M32 29h0M41 4h0M35 44h0M40 23h0M30 29h0M9 53h0M45 16h0M6 31h0M34 18h0M40 41h0M39 33h0M3 52h0M1 32h0M57 32h0M38 4h0M46 7h0M31 35h0M29 13h0M4 7h0M10 11h0M49 7h0M50 28h0M17 15h0M53 29h0M47 46h0M54 16h0M28 31h0M51 2h0M42 54h0M23 4h0M25 55h0M25 -1h0M36 44h0M21 24h0M52 55h0M52 -1h0M48 22h0M49 53h0M32 20h0M50 54h0M40 28h0M27 8h0M30 25h0M33 39h0M4 52h0M54 39h0M22 12h0M23 27h0M21 31h0M53 29h0M56 16h0M0 16h0M34 34h0M36 42h0M26 15h0M41 7h0M50 27h0M42 13h0M37 16h0M8 40h0M51 33h0M33 29h0M0 45h0M56 45h0M42 20h0M34 25h0M2 40h0M33 45h0M13 27h0M46 15h0M2 3h0M29 20h0M35 32h0M48 23h0M44 52h0M33 47h0M41 41h0M38 41h0M46 15h0M48 46h0M9 13h0M47 20h0M27 33h0M18 7h0M15 34h0M8 34h0M43 37h0M42 2h0M30 6h0M39 27h0M13 17h0M36 20h0M55 55h0M55 -1h0M-1 55h0M-1 -1h0M55 20h0M-1 20h0M43 44h0M20 51h0M41 33h0M48 46h0M25 36h0M37 17h0M11 40h0M30 47h0M7 27h0M44 35h0M42 31h0M34 48h0M45 26h0M7 26h0M47 40h0M18 44h0M13 8h0M30 54h0M43 31h0M6 51h0M35 25h0M40 25h0M36 24h0M18 15h0M4 23h0M45 28h0M4 55h0M4 -1h0M55 37h0M-1 37h0M5 37h0M41 34h0M53 38h0M23 35h0M26 31h0M52 8h0M42 25h0M25 25h0M14 10h0M32 13h0M17 44h0M48 32h0M18 11h0M31 51h0M20 19h0M30 34h0M45 4h0M4 11h0M31 19h0M4 4h0M43 3h0M24 25h0M15 51h0M52 28h0M40 28h0M6 10h0M45 1h0M45 57h0M50 50h0M38 3h0M24 32h0M33 32h0M22 32h0M25 9h0M35 9h0M33 44h0M43 10h0M14 2h0M2 30h0M39 25h0M35 11h0M32 16h0M47 44h0M19 24h0M25 12h0M44 16h0M50 41h0M31 24h0M43 20h0M50 49h0M52 53h0M40 38h0M30 17h0M10 49h0M41 8h0M9 15h0M45 25h0M11 54h0M5 25h0M40 15h0M45 15h0M35 25h0M15 7h0M37 32h0M30 27h0M35 32h0M2 6h0M18 37h0M9 47h0M47 10h0M39 29h0M35 16h0M32 8h0M42 38h0M31 3h0M50 32h0M49 16h0M48 33h0M34 45h0M53 23h0M13 42h0M9 41h0M51 55h0M51 -1h0M39 21h0M48 21h0M47 21h0M24 18h0M43 11h0M11 37h0M41 16h0M50 53h0M5 37h0M17 9h0M43 34h0M43 43h0M42 8h0M48 14h0M53 43h0M15 51h0M34 10h0M17 27h0M37 14h0M54 49h0M30 22h0M38 21h0M21 8h0M51 21h0M47 3h0M35 32h0M55 52h0M-1 52h0M45 52h0M32 8h0M29 38h0M32 12h0M39 19h0M21 1h0M45 18h0M35 22h0M40 34h0M13 42h0M32 41h0M35 50h0M52 19h0M44 26h0M23 10h0M44 16h0M39 8h0M32 12h0M49 41h0M24 48h0M12 5h0M31 28h0M33 50h0M3 34h0M47 18h0M43 29h0M31 49h0M15 45h0M44 11h0M18 35h0M48 13h0M12 10h0M22 47h0M46 1h0M46 57h0M41 40h0M10 12h0M28 3h0M46 44h0M32 31h0M54 2h0M31 34h0M55 38h0M-1 38h0M2 47h0M22 26h0M47 17h0M33 30h0M36 12h0M30 33h0M49 17h0M21 35h0M42 13h0M48 13h0M51 6h0M37 23h0M2 46h0M55 55h0M55 -1h0M-1 55h0M-1 -1h0" stroke="#a093d6" stroke-width="1.6" stroke-linecap="round" stroke-opacity="0.5"/><path d="M42 31h0M39 47h0M55 34h0M-1 34h0M36 38h0M41 7h0M32 7h0M27 19h0M45 43h0M35 12h0M14 6h0M2 28h0M29 38h0M21 21h0M13 54h0M53 5h0M20 9h0M34 25h0M41 32h0M32 25h0M14 11h0M29 30h0M21 13h0M5 12h0M17 18h0M49 18h0M43 44h0M13 37h0M8 55h0M8 -1h0M39 34h0M38 39h0M40 10h0M4 27h0M14 32h0M41 38h0M49 3h0M52 52h0M21 33h0M13 38h0M52 53h0M12 9h0M41 27h0M4 24h0M44 17h0M47 7h0M33 30h0M52 30h0M35 28h0M38 34h0M42 34h0M45 27h0M32 24h0M39 26h0M41 2h0M53 54h0M36 35h0M37 12h0M55 54h0M-1 54h0M3 6h0M41 3h0M35 17h0M38 15h0M19 4h0M37 19h0M48 18h0M14 12h0M54 16h0M46 11h0M39 30h0M13 2h0M8 12h0M40 13h0M39 25h0M47 11h0M38 13h0M22 41h0M25 3h0M38 35h0M47 53h0M49 40h0M43 52h0M39 51h0M5 31h0M44 10h0M6 44h0M50 42h0M33 15h0M52 12h0M25 17h0M29 33h0M37 55h0M37 -1h0M10 5h0M28 12h0M2 1h0M2 57h0M38 28h0M39 27h0M42 25h0M46 36h0M32 28h0M31 34h0M44 46h0M52 35h0M5 34h0M56 30h0M0 30h0M29 23h0M39 55h0M39 -1h0M45 33h0M11 41h0M50 39h0M26 7h0M33 10h0M53 33h0M42 32h0M48 8h0M49 39h0M50 27h0M18 33h0M37 38h0M51 30h0M55 24h0M-1 24h0M11 22h0M0 4h0M56 4h0M54 1h0M54 57h0M53 42h0M38 13h0M14 10h0M45 35h0M36 55h0M36 -1h0M23 31h0M45 48h0M16 1h0M16 57h0M42 7h0M24 26h0M25 11h0M31 56h0M31 0h0M36 26h0M55 1h0M55 57h0M-1 1h0M-1 57h0M52 31h0M28 33h0M0 33h0M56 33h0M10 26h0M54 43h0M38 22h0M34 22h0M16 56h0M16 0h0M51 32h0M54 19h0M1 6h0M57 6h0M28 27h0M43 19h0M30 54h0M46 28h0M18 1h0M18 57h0M54 16h0M10 21h0M33 0h0M33 56h0M31 35h0M9 6h0M43 6h0M35 30h0M6 41h0M46 19h0M38 34h0M49 26h0M45 2h0M14 3h0M42 24h0M45 20h0M35 31h0M45 28h0M23 24h0M12 50h0M13 12h0M17 40h0M10 19h0M39 33h0M24 37h0M35 24h0M49 19h0M30 18h0M44 55h0M44 -1h0M46 38h0M45 19h0M35 29h0M31 43h0M25 36h0M45 17h0M51 50h0M52 40h0M42 34h0M33 38h0M9 47h0M49 20h0M21 15h0" stroke="#7d6dcb" stroke-width="2" stroke-linecap="round" stroke-opacity="0.7"/><path d="M43 52h0M44 52h0M42 52h0M39 1h0M39 57h0M38 0h0M38 56h0M41 2h0M41 58h0M33 26h0M33 24h0M34 26h0M3 31h0M2 29h0M3 29h0M18 29h0M18 27h0M19 27h0M22 33h0M21 34h0M21 32h0M37 18h0M39 18h0M38 18h0M42 35h0M41 36h0M41 36h0M31 49h0M33 49h0M30 50h0M15 37h0M16 39h0M14 36h0M25 7h0M27 7h0M26 9h0M44 25h0M45 24h0M45 24h0M29 23h0M28 21h0M29 21h0M15 6h0M16 7h0M15 4h0M40 29h0M39 30h0M39 30h0M25 14h0M26 16h0M26 13h0M6 20h0M4 21h0M6 21h0M40 17h0M39 16h0M38 18h0M32 12h0M34 12h0M31 11h0M40 38h0M42 38h0M42 37h0M48 11h0M47 11h0M47 13h0M27 8h0M29 7h0M29 8h0M46 7h0M44 7h0M47 8h0M36 53h0M35 52h0M38 53h0M40 31h0M38 31h0M40 30h0M51 3h0M53 3h0M51 5h0M50 6h0M48 7h0M51 5h0M31 24h0M29 23h0M31 25h0M39 19h0M38 19h0M41 18h0M44 40h0M44 42h0M45 39h0M33 28h0M31 29h0M33 29h0M36 36h0M37 35h0M35 36h0M34 31h0M34 33h0M32 31h0M51 26h0M51 28h0M50 26h0M54 53h0M53 54h0M53 -2h0M52 52h0M43 28h0M44 29h0M41 28h0M33 22h0M31 22h0M33 24h0M51 6h0M51 4h0M52 5h0M51 18h0M52 20h0M52 18h0M2 12h0M58 12h0M2 11h0M1 11h0M57 11h0M48 29h0M47 29h0M48 31h0M28 45h0M28 47h0M26 45h0M40 51h0M41 53h0M38 52h0M31 27h0M30 27h0M30 27h0M54 50h0M55 50h0M-1 50h0M53 48h0M38 32h0M37 32h0M37 34h0M41 8h0M40 6h0M40 6h0M37 7h0M36 5h0M35 7h0M29 19h0M28 20h0M28 18h0M47 3h0M48 3h0M46 5h0M41 26h0M40 25h0M42 25h0M50 19h0M48 18h0M51 18h0M40 9h0M39 10h0M39 7h0M34 26h0M35 27h0M34 28h0M38 27h0M37 29h0M37 26h0M17 34h0M16 33h0M19 35h0M48 48h0M48 47h0M49 48h0M42 53h0M42 55h0M42 -1h0M40 53h0M10 18h0M11 19h0M10 19h0M36 7h0M35 7h0M35 7h0M48 3h0M50 3h0M49 2h0M49 58h0M16 6h0M18 6h0M15 5h0M47 26h0M49 27h0M47 27h0M44 37h0M44 38h0M45 35h0M50 3h0M51 4h0M52 2h0M40 30h0M41 31h0M38 30h0M55 6h0M-1 6h0M56 8h0M0 8h0M56 5h0M0 5h0M7 32h0M5 32h0M7 34h0M15 56h0M15 0h0M17 55h0M17 -1h0M16 55h0M16 -1h0M36 18h0M37 18h0M36 17h0M41 2h0M41 58h0M41 4h0M40 1h0M40 57h0M30 32h0M31 34h0M29 33h0" stroke="#7361c7" stroke-width="3.4" stroke-linecap="round" stroke-opacity="0.8"/><path d="M49 54h0M49 -2h0M50 52h0M51 55h0M51 -1h0M52 17h0M54 19h0M-2 19h0M53 15h0M-3 15h0M35 24h0M34 27h0M37 24h0M46 38h0M46 41h0M45 36h0M32 41h0M32 43h0M29 42h0M24 54h0M24 -2h0M24 57h0M24 1h0M22 53h0M37 26h0M38 24h0M34 25h0M48 21h0M50 23h0M48 24h0M53 4h0M-3 4h0M51 2h0M51 58h0M54 2h0M54 58h0M-2 2h0M-2 58h0M42 20h0M43 18h0M41 23h0M0 47h0M56 47h0M1 45h0M57 45h0M2 45h0M58 45h0M53 44h0M-3 44h0M56 44h0M0 44h0M54 42h0M-2 42h0M29 29h0M28 27h0M30 32h0M46 44h0M47 41h0M43 43h0M53 21h0M-3 21h0M55 23h0M-1 23h0M52 19h0M49 27h0M51 28h0M50 29h0M24 36h0M22 36h0M22 36h0M1 12h0M57 12h0M0 14h0M56 14h0M-2 12h0M54 12h0M32 25h0M33 27h0M35 26h0M36 27h0M38 30h0M37 30h0M33 35h0M32 33h0M30 35h0M37 14h0M39 11h0M35 14h0M47 15h0M45 14h0M45 17h0M35 41h0M33 43h0M35 39h0M52 18h0M54 20h0M-2 20h0M51 20h0M40 37h0M38 37h0M41 40h0" stroke="#6450bd" stroke-width="5.6" stroke-linecap="round" stroke-opacity="0.8"/></pattern>
<pattern id="p34" patternUnits="userSpaceOnUse" width="56" height="56"><path d="M14 14h0M28 20h0M10 12h0M8 33h0M47 38h0M34 11h0M15 37h0M17 41h0M6 19h0M0 40h0M56 40h0M45 4h0M30 42h0M1 27h0M52 6h0M28 10h0M0 18h0M56 18h0M14 48h0M44 36h0M29 23h0M30 50h0M34 37h0M21 15h0M49 17h0M24 37h0M11 9h0M32 42h0M5 23h0M39 11h0M38 54h0M23 6h0M10 49h0M25 2h0M54 45h0M13 8h0M9 20h0M6 24h0M44 41h0M40 8h0M12 8h0M10 14h0M28 24h0M52 38h0M51 17h0M13 25h0M25 53h0M48 38h0M44 18h0M32 53h0M13 4h0M25 51h0M2 13h0M41 46h0M50 55h0M50 -1h0M10 22h0M22 10h0M26 15h0M21 48h0M25 37h0M14 35h0M10 28h0M55 35h0M-1 35h0M56 7h0M0 7h0M23 53h0M6 14h0M39 49h0M0 1h0M0 57h0M56 1h0M56 57h0M54 52h0M47 2h0M22 39h0M4 17h0M30 19h0M31 43h0M7 14h0M35 38h0M42 6h0M21 4h0M11 56h0M11 0h0M15 5h0M5 18h0M24 40h0M7 47h0M12 35h0M30 44h0M9 4h0M37 55h0M37 -1h0M4 5h0M24 5h0M14 11h0M51 30h0M13 19h0M28 37h0M12 50h0M15 9h0M5 51h0M15 51h0M17 40h0M8 15h0M14 33h0M47 49h0M2 47h0M33 49h0M43 12h0M19 40h0M16 28h0M53 10h0M30 39h0M6 45h0M22 20h0M13 39h0M12 48h0M29 51h0M43 15h0M27 52h0M5 17h0M48 3h0M34 13h0M28 35h0M29 48h0M1 11h0M57 11h0M4 34h0M2 51h0M5 50h0M14 6h0M35 52h0M5 20h0M25 42h0M38 40h0M26 31h0M15 54h0M48 24h0M15 14h0M47 39h0M39 46h0M25 6h0M5 12h0M39 53h0M9 6h0M31 47h0M11 49h0M6 15h0M2 49h0M15 38h0M40 25h0M14 36h0M35 17h0M2 55h0M2 -1h0M24 53h0M33 53h0M29 45h0M52 32h0M15 29h0M33 48h0M5 11h0M3 12h0M51 52h0M56 8h0M0 8h0M18 31h0M20 19h0M24 17h0M46 6h0M5 21h0M55 53h0M-1 53h0M36 17h0M5 52h0M30 7h0M39 55h0M3 28h0M52 17h0M6 55h0M6 -1h0M47 10h0M18 18h0M7 46h0M13 17h0M37 23h0M42 49h0M49 54h0M26 42h0M11 24h0M21 40h0M38 3h0M24 24h0M11 23h0M54 41h0M12 20h0M28 9h0M53 16h0M9 25h0M54 18h0M5 36h0M1 9h0M20 6h0M48 1h0M1 3h0M57 3h0M17 6h0M47 56h0M47 0h0M44 48h0M24 13h0M42 41h0M54 45h0M52 26h0M39 44h0M33 16h0M50 51h0M32 35h0M46 23h0M34 24h0M12 18h0M26 10h0M22 31h0M44 7h0M7 21h0M8 22h0M24 38h0M15 40h0M7 12h0M28 43h0M31 52h0M20 37h0M12 48h0M11 7h0M7 51h0M18 51h0M29 5h0M9 39h0M13 48h0M42 2h0M49 13h0M52 9h0M14 4h0M52 55h0M52 -1h0M42 25h0M28 55h0M28 -1h0M16 49h0M24 46h0M4 28h0M22 38h0M26 7h0M19 11h0M23 54h0M36 41h0M11 11h0M54 13h0M36 46h0M25 49h0M21 24h0M45 41h0M15 49h0M46 52h0M17 31h0M55 56h0M55 0h0M-1 56h0M-1 0h0M29 45h0M52 4h0M1 29h0M57 29h0M40 49h0M30 35h0M35 47h0M3 17h0M0 1h0M0 57h0M56 1h0M56 57h0M34 48h0M26 27h0M37 15h0M14 52h0M31 4h0M20 21h0M31 15h0M48 1h0M8 55h0M8 -1h0M50 45h0M22 11h0M54 8h0M14 45h0M4 55h0M4 9h0M52 45h0M52 9h0M13 26h0M16 46h0M33 54h0M40 20h0M10 8h0M16 53h0M15 4h0M25 38h0M35 46h0M36 43h0M15 40h0M11 1h0M11 57h0M49 10h0M2 12h0M35 29h0M22 44h0M49 30h0M36 3h0M38 14h0M37 34h0M2 39h0M48 30h0M19 51h0M17 36h0M13 6h0M7 30h0M52 43h0M42 16h0M31 48h0M40 49h0M29 54h0M28 41h0M28 1h0M8 1h0M27 55h0M27 -1h0M55 34h0M-1 34h0M6 9h0M24 49h0M10 23h0M55 46h0M-1 46h0M42 40h0M55 54h0M-1 54h0M25 45h0M30 51h0M13 39h0M40 47h0M54 53h0M42 47h0M47 22h0M6 12h0M43 11h0M6 48h0M1 31h0M57 31h0M25 41h0M18 14h0M30 5h0M7 27h0M19 35h0M1 3h0M57 3h0M39 27h0M28 2h0M34 46h0M56 9h0M0 9h0M28 12h0M4 30h0M3 49h0M33 33h0M33 46h0M23 53h0M13 41h0M13 28h0M17 13h0M37 43h0M56 6h0M0 6h0M53 11h0M50 19h0M10 21h0M10 7h0M52 52h0M52 7h0M16 32h0M19 12h0M47 2h0M18 55h0M18 -1h0M8 31h0M18 21h0M19 4h0M49 40h0M41 7h0M22 20h0M35 4h0M34 8h0M4 3h0M1 4h0M20 48h0M30 1h0M30 57h0M24 38h0M28 39h0M8 10h0M38 44h0M48 21h0M26 47h0M34 44h0M44 48h0M48 39h0M11 24h0M9 18h0M50 4h0M7 39h0M44 3h0M21 46h0M7 50h0M17 17h0M50 34h0M11 21h0M45 35h0M53 19h0M31 45h0M5 1h0M5 57h0M43 47h0M4 11h0M2 5h0M18 6h0M27 49h0M50 24h0M42 51h0M49 8h0M33 48h0M26 45h0M32 3h0M42 4h0M24 43h0M50 11h0M54 20h0M4 27h0M21 31h0M44 31h0M35 5h0M19 37h0M47 28h0M22 44h0M8 48h0M55 29h0M-1 29h0M5 44h0M43 41h0M29 36h0M23 27h0M13 39h0M32 23h0M10 7h0M9 11h0M31 54h0M47 55h0M24 13h0M3 7h0M46 37h0M14 41h0M53 16h0M16 36h0M12 16h0M52 1h0M52 57h0M8 22h0M47 43h0M28 30h0M4 49h0M54 42h0M32 41h0M22 35h0M23 28h0M18 12h0M28 45h0M43 10h0M9 36h0M21 33h0M35 40h0M35 16h0M10 33h0M17 13h0M18 27h0M12 53h0M45 47h0M29 35h0M50 6h0M7 50h0M17 44h0M29 35h0M3 22h0M4 7h0M13 48h0M16 24h0M28 47h0M47 41h0M56 38h0M0 38h0M49 21h0M55 5h0M23 13h0M35 2h0M43 15h0M24 49h0M4 7h0M47 16h0M55 35h0M-1 35h0M48 5h0M15 21h0M33 55h0M33 -1h0M45 21h0M27 35h0M16 50h0M19 54h0M29 6h0M0 4h0M56 4h0M1 55h0M1 -1h0M57 55h0M57 -1h0M52 27h0M2 47h0M46 3h0M7 1h0M7 57h0M23 43h0M25 11h0M8 23h0M44 50h0M5 31h0M20 43h0M4 56h0M4 0h0M32 42h0M8 41h0M8 37h0M49 28h0M0 24h0M56 24h0M40 27h0M14 41h0M7 39h0M12 19h0M56 40h0M0 40h0M26 54h0M13 36h0M33 32h0M26 23h0M47 32h0M39 14h0M8 26h0M16 10h0M3 40h0M16 37h0M1 11h0M57 11h0M52 1h0M4 16h0M8 34h0M52 21h0M2 17h0M20 14h0M11 47h0M55 37h0M-1 37h0M15 30h0M11 4h0M4 53h0M13 12h0M31 8h0M8 36h0M2 17h0M16 7h0M26 22h0M8 6h0M15 38h0M5 42h0M46 8h0M21 48h0M19 39h0M13 2h0M56 49h0M0 49h0M40 44h0M14 20h0M16 12h0M50 55h0M50 -1h0M34 6h0M12 51h0M3 5h0M16 2h0M8 42h0M41 55h0M41 -1h0M50 27h0M8 3h0M6 26h0M30 43h0M31 51h0M40 38h0M14 35h0M30 16h0M52 10h0M24 5h0M1 29h0M9 18h0M7 17h0M18 12h0M25 39h0M54 10h0M10 19h0M19 15h0M50 19h0M28 42h0M13 20h0M53 46h0M11 51h0M2 20h0M42 18h0M54 55h0M31 25h0M4 42h0M12 40h0M32 21h0M25 2h0M5 2h0M8 11h0M2 13h0M47 46h0M19 50h0M53 8h0M15 19h0M51 14h0M37 30h0M54 10h0M31 51h0M54 25h0M22 4h0M4 44h0M35 25h0M41 45h0M49 9h0M35 7h0M2 17h0M53 46h0M38 7h0M32 44h0M42 54h0M56 1h0M0 1h0M50 0h0M50 56h0M33 31h0M7 7h0M29 48h0M3 36h0M19 47h0M20 42h0M10 22h0M52 3h0M45 21h0M49 50h0M0 15h0M56 15h0M19 43h0M1 45h0M57 45h0M49 3h0M4 19h0M50 28h0M4 34h0M14 55h0M14 -1h0M20 14h0M11 9h0M4 4h0M10 25h0M7 34h0M46 12h0M52 1h0M52 57h0M53 1h0M53 57h0M53 38h0M15 8h0M33 31h0M7 5h0M48 13h0M49 19h0M10 53h0M22 52h0M24 3h0M37 50h0M37 43h0M35 38h0M10 53h0M5 34h0M28 36h0M27 52h0M27 41h0M25 26h0M19 52h0M50 56h0M50 0h0M13 9h0M29 54h0M38 54h0M37 18h0M5 33h0M29 5h0M45 40h0M56 49h0M0 49h0M11 25h0M13 15h0M7 36h0M47 2h0M20 24h0M6 11h0" stroke="#a093d6" stroke-width="1.6" stroke-linecap="round" stroke-opacity="0.5"/><path d="M26 19h0M34 36h0M16 38h0M54 8h0M14 31h0M30 53h0M43 51h0M19 14h0M43 19h0M21 4h0M14 1h0M14 57h0M6 33h0M1 30h0M57 30h0M18 16h0M16 43h0M39 47h0M36 1h0M36 57h0M7 9h0M20 52h0M47 26h0M44 10h0M17 46h0M12 34h0M38 37h0M32 8h0M37 25h0M13 39h0M54 17h0M51 19h0M49 53h0M4 4h0M49 18h0M46 7h0M43 38h0M23 23h0M18 1h0M18 57h0M5 42h0M21 44h0M42 0h0M42 56h0M32 36h0M14 21h0M38 16h0M49 40h0M14 21h0M40 46h0M23 45h0M47 6h0M44 15h0M48 14h0M46 23h0M14 10h0M6 47h0M16 3h0M6 3h0M37 26h0M55 43h0M-1 43h0M1 7h0M57 7h0M41 23h0M56 8h0M0 8h0M41 10h0M23 54h0M9 12h0M36 47h0M11 44h0M47 11h0M16 20h0M5 45h0M51 6h0M3 54h0M7 18h0M48 46h0M13 12h0M32 48h0M18 35h0M26 2h0M10 10h0M30 25h0M50 17h0M4 43h0M21 1h0M21 57h0M7 12h0M34 14h0M27 55h0M27 -1h0M46 2h0M42 55h0M42 -1h0M10 48h0M55 13h0M-1 13h0M46 53h0M35 49h0M10 14h0M39 24h0M15 1h0M15 57h0M12 56h0M12 0h0M1 8h0M57 8h0M46 3h0M44 5h0M25 42h0M48 2h0M10 11h0M11 38h0M17 27h0M29 0h0M29 56h0M11 55h0M11 -1h0M21 24h0M30 20h0M42 21h0M38 40h0M51 7h0M24 38h0M14 42h0M20 18h0M47 10h0M3 5h0M31 36h0M43 20h0M4 10h0M32 6h0M5 27h0M7 41h0M46 43h0M7 52h0M24 45h0M15 4h0M7 41h0M2 21h0M42 1h0M42 57h0M49 54h0M13 13h0M4 49h0M17 11h0M17 48h0M46 8h0M15 14h0M14 56h0M14 0h0M33 47h0M49 51h0M34 1h0M34 57h0M23 38h0M16 26h0M11 38h0M10 9h0M7 48h0M40 24h0M23 36h0M43 6h0M28 19h0M26 7h0M23 26h0M45 14h0M49 47h0M55 45h0M-1 45h0M27 3h0M16 41h0M15 45h0M28 38h0M8 43h0M36 14h0M1 2h0M57 2h0M41 21h0M0 43h0M56 43h0M32 0h0M32 56h0M1 16h0M57 16h0M42 8h0M6 14h0M26 5h0M22 45h0M15 10h0M31 43h0M22 36h0M7 14h0M22 19h0M50 47h0M11 17h0M18 40h0M38 51h0M21 44h0M3 4h0M12 6h0M9 3h0M43 11h0M51 40h0M21 10h0M9 45h0M17 55h0M17 -1h0M22 45h0M12 27h0M52 8h0M51 2h0M5 50h0M14 3h0M15 10h0M12 48h0M45 6h0M16 47h0M6 10h0M52 23h0M5 16h0M36 44h0M23 8h0M41 35h0M21 53h0M48 3h0M43 8h0M17 48h0M12 46h0M51 13h0M26 3h0M4 4h0M34 47h0M23 42h0M39 32h0M41 3h0M17 40h0M23 21h0M2 37h0M39 16h0M21 19h0M47 24h0M52 44h0M6 13h0M45 24h0M49 6h0M27 44h0M24 27h0M22 54h0M46 42h0M10 40h0M46 6h0M10 23h0M25 53h0M42 8h0M15 15h0M11 25h0M35 21h0M33 8h0M54 0h0M54 56h0M20 8h0M25 45h0M36 38h0M23 51h0M42 36h0M32 51h0M19 52h0M36 5h0M34 53h0M51 53h0M38 1h0M38 57h0M21 4h0M17 33h0M42 12h0M47 25h0M4 20h0M24 51h0M54 43h0M46 12h0M25 11h0M55 34h0M-1 34h0M47 10h0M52 2h0M36 15h0M10 24h0M6 51h0M5 34h0M18 10h0M26 22h0M30 30h0M13 11h0M44 53h0" stroke="#7d6dcb" stroke-width="2" stroke-linecap="round" stroke-opacity="0.7"/><path d="M3 27h0M4 28h0M2 26h0M58 26h0M42 50h0M44 50h0M42 52h0M44 43h0M44 45h0M42 43h0M5 54h0M5 -2h0M6 55h0M6 -1h0M4 56h0M4 0h0M31 0h0M31 56h0M32 -1h0M32 55h0M33 1h0M33 57h0M54 2h0M54 58h0M-2 2h0M-2 58h0M55 1h0M55 57h0M-1 1h0M-1 57h0M52 2h0M52 58h0M50 39h0M50 37h0M48 39h0M39 53h0M40 52h0M41 53h0M39 16h0M40 15h0M40 16h0M50 5h0M51 3h0M48 4h0M36 6h0M35 5h0M37 4h0M20 37h0M20 35h0M19 35h0M42 49h0M43 50h0M42 47h0M30 48h0M29 50h0M31 48h0M32 18h0M31 20h0M32 20h0M10 50h0M9 48h0M11 48h0M8 22h0M6 22h0M8 24h0M36 40h0M36 39h0M34 41h0M14 21h0M13 22h0M15 20h0M7 0h0M7 56h0M6 1h0M6 57h0M8 2h0M8 58h0M27 47h0M29 47h0M28 46h0M42 18h0M41 19h0M41 17h0M31 21h0M29 22h0M32 20h0M35 7h0M34 6h0M33 8h0M54 42h0M-2 42h0M55 43h0M-1 43h0M53 43h0M51 31h0M49 32h0M51 33h0M13 15h0M13 13h0M12 15h0M36 6h0M35 5h0M37 4h0M14 34h0M15 36h0M15 34h0M34 37h0M33 38h0M35 35h0M1 38h0M57 38h0M2 39h0M1 36h0M57 36h0M47 2h0M47 58h0M47 4h0M45 3h0M7 49h0M7 50h0M7 47h0M52 4h0M51 3h0M52 3h0M22 42h0M21 44h0M23 42h0M4 2h0M4 58h0M2 3h0M5 3h0M51 6h0M52 7h0M50 5h0M6 17h0M7 15h0M8 18h0M26 23h0M26 25h0M25 22h0M26 39h0M25 37h0M28 38h0M26 55h0M26 -1h0M27 53h0M26 53h0M44 53h0M45 53h0M42 54h0M55 47h0M-1 47h0M55 48h0M-1 48h0M53 47h0M25 36h0M25 38h0M26 35h0M43 55h0M43 -1h0M42 56h0M42 0h0M42 56h0M42 0h0M24 27h0M23 28h0M22 26h0M51 14h0M51 12h0M49 15h0M5 11h0M4 12h0M7 11h0M22 2h0M22 58h0M22 3h0M22 3h0M16 12h0M14 11h0M15 11h0M39 26h0M37 26h0M40 26h0M46 52h0M46 54h0M46 54h0M28 9h0M28 10h0M28 10h0M50 8h0M48 7h0M51 7h0M17 42h0M16 43h0M15 43h0M49 55h0M49 -1h0M47 56h0M47 0h0M47 55h0M47 -1h0M15 28h0M14 29h0M14 29h0M7 7h0M5 6h0M5 7h0M32 44h0M33 44h0M33 45h0M38 46h0M39 47h0M36 46h0M38 11h0M39 12h0M39 10h0M4 28h0M5 29h0M4 30h0M49 13h0M48 14h0M47 14h0M42 30h0M40 30h0M43 30h0M6 48h0M6 49h0M5 49h0M23 44h0M24 43h0M21 43h0M19 41h0M18 42h0M18 41h0M9 2h0M9 58h0M11 0h0M11 56h0M11 0h0M11 56h0M52 6h0M52 8h0M51 6h0M51 15h0M53 15h0M50 14h0M40 23h0M41 24h0M39 21h0M33 28h0M34 27h0M33 26h0M47 46h0M46 45h0M46 44h0M26 17h0M26 16h0M28 17h0M19 28h0M17 27h0M18 26h0M8 29h0M8 27h0M9 29h0M36 44h0M36 45h0M34 43h0M39 4h0M38 3h0M38 5h0M19 35h0M20 35h0M19 34h0M30 46h0M29 45h0M31 47h0M41 36h0M40 36h0M41 35h0M29 27h0M30 25h0M31 26h0M9 12h0M8 11h0M9 14h0M38 39h0M37 41h0M37 40h0M40 13h0M39 14h0M40 14h0M23 17h0M22 19h0M22 19h0M51 47h0M51 45h0M52 46h0M17 4h0M16 3h0M17 3h0M7 13h0M7 15h0M8 14h0M47 19h0M45 19h0M46 20h0M2 21h0M58 21h0M1 21h0M57 21h0M3 23h0M42 13h0M40 13h0M43 12h0M39 44h0M41 44h0M40 42h0M17 17h0M17 15h0M16 16h0M19 43h0M19 44h0M18 42h0M11 20h0M10 19h0M10 19h0M42 30h0M42 32h0M41 31h0M49 54h0M49 -2h0M48 53h0M48 56h0M48 0h0M14 44h0M12 44h0M15 45h0M49 6h0M49 8h0M51 7h0" stroke="#7361c7" stroke-width="3.4" stroke-linecap="round" stroke-opacity="0.8"/><path d="M54 20h0M-2 20h0M57 18h0M1 18h0M57 18h0M1 18h0M37 9h0M34 9h0M39 12h0M35 18h0M37 21h0M33 21h0M51 6h0M55 5h0M-1 5h0M54 4h0M54 60h0M-2 4h0M-2 60h0M23 26h0M20 25h0M25 23h0M43 13h0M45 16h0M46 15h0M53 48h0M-3 48h0M55 45h0M-1 45h0M51 51h0M4 22h0M3 25h0M59 25h0M1 20h0M57 20h0M16 41h0M20 41h0M17 45h0M26 43h0M23 42h0M23 45h0M42 1h0M42 57h0M45 3h0M45 59h0M39 3h0M39 59h0M42 9h0M41 6h0M44 7h0M13 19h0M10 17h0M11 22h0M14 46h0M10 47h0M10 47h0M48 37h0M52 36h0M45 39h0M21 35h0M24 33h0M22 39h0M37 46h0M40 45h0M34 44h0M2 50h0M58 50h0M5 52h0M5 -4h0M2 54h0M2 -2h0M58 54h0M58 -2h0M22 8h0M19 9h0M23 11h0" stroke="#6450bd" stroke-width="7.6" stroke-linecap="round" stroke-opacity="0.8"/></pattern>
<pattern id="p35" patternUnits="userSpaceOnUse" width="56" height="56"><path d="M14 18h0M1 10h0M57 10h0M34 15h0M16 27h0M39 30h0M8 14h0M11 22h0M12 9h0M53 23h0M32 33h0M14 20h0M13 37h0M53 23h0M48 34h0M20 26h0M11 31h0M13 38h0M13 44h0M4 15h0M45 27h0M2 7h0M55 24h0M-1 24h0M12 24h0M8 6h0M5 38h0M24 38h0M25 15h0M55 33h0M-1 33h0M17 46h0M17 17h0M5 35h0M47 51h0M13 44h0M29 52h0M8 18h0M47 27h0M13 16h0M6 6h0M34 5h0M0 39h0M56 39h0M7 34h0M54 45h0M9 25h0M17 22h0M36 18h0M49 51h0M17 1h0M17 57h0M17 21h0M28 21h0M30 30h0M54 30h0M27 16h0M53 9h0M15 25h0M24 16h0M11 39h0M19 42h0M20 20h0M5 42h0M1 30h0M57 30h0M6 54h0M54 21h0M42 21h0M9 19h0M8 21h0M17 56h0M17 0h0M3 7h0M10 28h0M4 25h0M13 26h0M22 50h0M55 38h0M-1 38h0M47 17h0M2 23h0M3 37h0M19 16h0M2 38h0M48 32h0M52 11h0M15 39h0M40 41h0M49 15h0M0 36h0M56 36h0M24 49h0M10 23h0M25 3h0M20 14h0M30 38h0M1 36h0M16 22h0M15 32h0M36 8h0M13 25h0M7 1h0M47 8h0M2 55h0M2 -1h0M0 12h0M56 12h0M13 25h0M15 22h0M26 17h0M12 33h0M34 52h0M9 1h0M9 57h0M27 27h0M47 40h0M11 25h0M52 10h0M14 22h0M33 16h0M1 26h0M17 38h0M54 6h0M19 32h0M40 9h0M8 47h0M46 5h0M51 17h0M42 16h0M3 12h0M10 46h0M3 32h0M13 29h0M51 23h0M6 17h0M5 13h0M3 12h0M7 26h0M32 3h0M50 32h0M3 41h0M19 24h0M49 44h0M18 14h0M13 24h0M9 37h0M14 19h0M37 50h0M5 20h0M47 17h0M21 42h0M44 33h0M23 17h0M12 26h0M54 20h0M26 19h0M45 18h0M4 12h0M4 19h0M19 29h0M19 38h0M51 24h0M11 9h0M8 21h0M48 27h0M32 14h0M21 19h0M36 9h0M46 56h0M46 0h0M47 52h0M27 34h0M32 23h0M43 38h0M15 25h0M5 7h0M24 25h0M10 38h0M49 40h0M49 11h0M48 23h0M9 19h0M47 22h0M37 22h0M13 29h0M30 15h0M2 37h0M34 20h0M24 16h0M55 20h0M-1 20h0M7 51h0M35 26h0M39 6h0M52 11h0M53 10h0M50 19h0M44 26h0M9 7h0M8 9h0M16 37h0M48 41h0M31 2h0M3 27h0M9 13h0M39 21h0M43 17h0M4 20h0M33 50h0M54 43h0M41 20h0M11 25h0M53 31h0M37 6h0M50 24h0M27 11h0M10 18h0M10 11h0M16 3h0M53 29h0M2 24h0M42 26h0M9 40h0M28 9h0M51 21h0M14 13h0M46 20h0M8 13h0M1 26h0M57 26h0M23 34h0M31 51h0M21 29h0M39 30h0M5 23h0M25 3h0M7 34h0M1 48h0M46 33h0M53 26h0M17 20h0M13 22h0M35 31h0M21 21h0M9 11h0M48 25h0M44 20h0M15 9h0M7 29h0M10 48h0M1 49h0M39 3h0M54 43h0M54 36h0M23 9h0M50 27h0M20 16h0M52 15h0M48 19h0M51 23h0M15 17h0M25 2h0M42 36h0M30 36h0M46 47h0M48 22h0M32 48h0M7 17h0M27 8h0M20 50h0M29 18h0M55 50h0M14 50h0M8 31h0M26 13h0M13 50h0M49 51h0M3 53h0M4 6h0M20 22h0M32 40h0M4 19h0M25 34h0M18 50h0M8 20h0M12 22h0M5 25h0M45 34h0M19 20h0M13 18h0M38 29h0M14 33h0M47 28h0M51 13h0M0 11h0M56 11h0M41 17h0M55 1h0M55 57h0M-1 1h0M-1 57h0M10 17h0M56 37h0M0 37h0M54 34h0M30 31h0M20 29h0M26 23h0M30 19h0M23 23h0M23 5h0M13 23h0M8 0h0M8 56h0M56 52h0M0 52h0M55 11h0M-1 11h0M0 46h0M56 46h0M51 34h0M23 10h0M27 29h0M21 21h0M42 40h0M19 37h0M34 5h0M3 30h0M37 24h0M55 53h0M-1 53h0" stroke="#a093d6" stroke-width="1.6" stroke-linecap="round" stroke-opacity="0.5"/><path d="M11 24h0M20 11h0M55 27h0M-1 27h0M51 15h0M31 14h0M52 26h0M18 32h0M35 11h0M9 27h0M55 18h0M-1 18h0M7 21h0M16 53h0M14 45h0M26 4h0M0 52h0M56 52h0M11 53h0M34 5h0M42 20h0M22 18h0M11 36h0M32 16h0M17 14h0M47 20h0M19 12h0M7 26h0M13 49h0M4 53h0M36 41h0M52 21h0M2 30h0M54 19h0M13 4h0M8 26h0M49 27h0M2 9h0M4 17h0M2 29h0M48 42h0M40 13h0M18 50h0M55 42h0M-1 42h0M1 18h0M57 18h0M2 29h0M18 20h0M7 1h0M7 57h0M17 34h0M54 31h0M12 21h0M56 23h0M0 23h0M1 17h0M57 17h0M35 46h0M11 14h0M19 28h0M11 5h0M18 24h0M19 33h0M38 3h0M5 42h0M9 38h0M6 43h0M30 28h0M39 34h0M7 9h0M48 27h0M19 16h0M15 19h0M1 21h0M57 21h0M55 46h0M-1 46h0M45 37h0M28 42h0M4 16h0M11 31h0M10 2h0M27 35h0M51 28h0M35 18h0M44 26h0M15 32h0M11 23h0M56 55h0M56 -1h0M0 55h0M0 -1h0M28 26h0M20 9h0M1 35h0M57 35h0M54 22h0M49 36h0M6 37h0M7 38h0M29 52h0M10 20h0M54 22h0M12 5h0M34 47h0M28 10h0M48 22h0M13 19h0M10 17h0M54 16h0M54 13h0M22 27h0M53 43h0M24 45h0M2 41h0M21 52h0M48 45h0M43 25h0M16 14h0M21 55h0M21 -1h0M2 37h0M8 20h0M22 2h0M47 26h0M37 43h0M47 18h0M31 55h0M31 -1h0M49 11h0M14 2h0M18 30h0M54 42h0M44 25h0M7 42h0M1 28h0M57 28h0M3 37h0M3 48h0" stroke="#7d6dcb" stroke-width="2" stroke-linecap="round" stroke-opacity="0.7"/><path d="M53 28h0M52 27h0M54 28h0M-2 28h0M52 2h0M52 58h0M53 4h0M51 3h0M42 48h0M42 47h0M41 49h0M29 9h0M29 7h0M27 9h0M1 24h0M57 24h0M1 23h0M57 23h0M1 26h0M57 26h0M13 41h0M14 41h0M14 41h0M11 36h0M12 36h0M11 37h0M15 15h0M14 15h0M14 16h0M23 25h0M23 23h0M21 25h0M55 29h0M-1 29h0M56 28h0M0 28h0M55 31h0M-1 31h0M3 15h0M4 14h0M2 15h0M58 15h0M23 35h0M22 36h0M21 34h0M26 32h0M27 34h0M25 31h0M56 11h0M0 11h0M57 10h0M1 10h0M54 11h0M-2 11h0M5 14h0M6 12h0M5 12h0M5 22h0M5 24h0M4 21h0M46 48h0M46 46h0M44 48h0M9 18h0M9 16h0M11 17h0M33 43h0M32 41h0M34 42h0M16 30h0M17 29h0M16 29h0M9 16h0M10 17h0M9 18h0M17 33h0M18 34h0M16 34h0M45 11h0M44 9h0M45 9h0M4 14h0M4 15h0M5 13h0M37 19h0M38 19h0M36 20h0M39 20h0M39 21h0M40 20h0M4 28h0M3 26h0M2 28h0M18 18h0M17 18h0M20 18h0M52 24h0M52 26h0M50 24h0M5 31h0M4 33h0M3 32h0M55 31h0M-1 31h0M56 32h0M0 32h0M53 32h0M6 19h0M5 18h0M7 18h0M20 53h0M19 51h0M19 54h0M19 -2h0M15 12h0M16 11h0M16 13h0M7 55h0M7 -1h0M6 53h0M8 55h0M8 -1h0M48 25h0M49 24h0M49 25h0M33 17h0M34 16h0M34 16h0M13 29h0M12 28h0M15 29h0M10 24h0M11 26h0M10 26h0M12 11h0M11 13h0M13 13h0M42 13h0M44 13h0M44 13h0M49 44h0M49 46h0M49 43h0M5 8h0M6 9h0M5 9h0M27 24h0M26 24h0M29 24h0M15 17h0M14 17h0M15 15h0" stroke="#7361c7" stroke-width="3.4" stroke-linecap="round" stroke-opacity="0.8"/><path d="M50 36h0M48 35h0M50 39h0M13 15h0M16 16h0M14 17h0M49 23h0M47 22h0M51 21h0M14 27h0M17 28h0M11 27h0M28 24h0M29 26h0M31 24h0M27 22h0M28 25h0M25 21h0M7 3h0M7 59h0M5 3h0M5 59h0M10 4h0M33 40h0M34 38h0M30 39h0M6 21h0M3 21h0M3 22h0M25 24h0M23 26h0M22 22h0M53 20h0M-3 20h0M52 23h0M51 19h0M15 22h0M15 19h0M17 24h0M3 46h0M59 46h0M2 48h0M58 48h0M4 44h0M5 48h0M8 49h0M3 50h0M59 50h0M40 18h0M40 15h0M42 20h0M2 7h0M58 7h0M0 9h0M56 9h0M2 5h0M58 5h0" stroke="#6450bd" stroke-width="5.6" stroke-linecap="round" stroke-opacity="0.8"/></pattern>
<pattern id="p36" patternUnits="userSpaceOnUse" width="56" height="56"><path d="M53 31h0M54 20h0M38 8h0M54 47h0M46 51h0M8 48h0M49 52h0M35 36h0M18 7h0M28 45h0M44 35h0M38 5h0M30 24h0M38 2h0M30 47h0M37 20h0M39 45h0M43 13h0M50 13h0M25 7h0M3 10h0M42 37h0M9 1h0M46 10h0M31 48h0M41 44h0M39 45h0M36 30h0M52 6h0M53 1h0M53 57h0M36 25h0M41 25h0M15 0h0M15 56h0M11 6h0M2 48h0M20 13h0M6 54h0M36 24h0M48 20h0M34 5h0M7 26h0M50 46h0M53 50h0M43 43h0M45 48h0M54 11h0M38 28h0M30 37h0M5 3h0M48 3h0M36 41h0M38 2h0M30 35h0M36 38h0M32 15h0M43 52h0M37 25h0M1 9h0M57 9h0M33 16h0M2 15h0M44 38h0M38 18h0M10 13h0M33 12h0M28 37h0M54 51h0M37 24h0M36 8h0M7 22h0M47 52h0M51 33h0M46 33h0M3 34h0M20 43h0M37 41h0M11 38h0M11 6h0M28 22h0M23 31h0M42 33h0M55 1h0M55 57h0M-1 1h0M-1 57h0M23 54h0M34 14h0M54 54h0M30 41h0M42 25h0M5 47h0M13 4h0M46 3h0M31 14h0M50 34h0M12 53h0M54 53h0M41 25h0M25 26h0M53 30h0M31 7h0M36 33h0M32 46h0M29 23h0M44 49h0M39 11h0M2 13h0M50 46h0M41 6h0M28 22h0M52 49h0M38 39h0M32 33h0M12 11h0M44 56h0M44 0h0M50 4h0M35 24h0M22 16h0M40 6h0M20 9h0M10 34h0M17 44h0M38 15h0M0 16h0M56 16h0M31 8h0M51 0h0M51 56h0M30 32h0M35 28h0M38 36h0M46 50h0M28 18h0M1 15h0M41 38h0M40 43h0M34 36h0M21 29h0M37 35h0M37 14h0M35 15h0M36 13h0M20 26h0M47 54h0M30 30h0M29 43h0M34 6h0M46 55h0M42 16h0M53 42h0M44 35h0M4 22h0M4 44h0M35 4h0M38 48h0M12 22h0M45 50h0M38 20h0M37 29h0M37 19h0M29 33h0M32 49h0M34 26h0M20 15h0M21 50h0M39 34h0M43 11h0M2 5h0M53 50h0M23 7h0M10 41h0M40 40h0M32 46h0M6 26h0M35 42h0M28 45h0M38 1h0M38 57h0M45 42h0M17 13h0M37 18h0M30 34h0M51 9h0M33 30h0M50 50h0M9 11h0M13 21h0M39 45h0M48 49h0M25 34h0M28 25h0M25 26h0M50 44h0M38 15h0M38 48h0M56 5h0M0 5h0M47 9h0M3 2h0M40 6h0M35 45h0M55 13h0M-1 13h0M33 12h0M12 27h0M42 38h0M15 50h0M35 23h0M36 26h0M50 1h0M50 57h0M41 16h0M26 40h0M41 52h0M47 11h0M4 51h0M10 21h0M43 42h0M49 14h0M45 38h0M39 36h0M42 44h0M29 4h0M2 29h0M56 55h0M56 -1h0M0 55h0M0 -1h0M38 52h0M40 43h0M51 46h0M4 7h0M24 42h0M12 51h0M35 39h0M42 32h0M7 55h0M27 38h0M44 10h0M22 21h0M45 20h0M38 37h0M23 33h0" stroke="#a093d6" stroke-width="1.6" stroke-linecap="round" stroke-opacity="0.5"/><path d="M2 10h0M40 41h0M38 10h0M55 38h0M-1 38h0M33 14h0M20 45h0M29 38h0M49 11h0M2 56h0M2 0h0M2 49h0M5 55h0M5 -1h0M41 14h0M53 54h0M43 33h0M31 16h0M31 22h0M41 44h0M39 34h0M24 20h0M38 52h0M9 9h0M17 9h0M9 16h0M8 45h0M41 7h0M54 42h0M5 32h0M33 16h0M2 37h0M55 3h0M-1 3h0M10 14h0M12 34h0M48 15h0M22 30h0M45 39h0M23 18h0M36 12h0M47 55h0M47 -1h0M30 22h0M25 13h0M17 30h0M54 20h0M13 53h0M29 18h0M45 49h0M38 36h0M29 51h0M49 7h0M52 54h0M41 36h0M1 36h0M57 36h0M44 46h0M43 12h0M2 35h0M25 34h0M14 47h0M30 10h0M30 34h0M14 5h0M31 14h0M53 53h0M1 22h0M57 22h0M52 46h0M12 15h0M51 47h0M7 43h0M42 7h0M13 5h0M31 42h0M43 48h0M32 52h0M31 45h0M20 26h0M6 34h0M51 46h0M34 20h0M6 8h0M2 48h0M32 8h0M51 53h0M40 45h0M22 10h0M42 27h0M48 39h0M19 46h0M37 6h0M32 13h0M23 36h0M10 55h0M10 -1h0M20 11h0M25 29h0M49 4h0" stroke="#7d6dcb" stroke-width="2" stroke-linecap="round" stroke-opacity="0.7"/><path d="M31 11h0M33 10h0M32 12h0M37 9h0M38 8h0M37 10h0M29 12h0M29 10h0M31 12h0M2 10h0M3 9h0M3 9h0M1 2h0M1 58h0M57 2h0M57 58h0M0 3h0M56 3h0M2 2h0M2 58h0M19 35h0M19 34h0M18 37h0M36 21h0M35 20h0M35 22h0M51 32h0M50 31h0M49 33h0M35 44h0M34 43h0M34 43h0M20 32h0M21 33h0M18 31h0M42 40h0M42 38h0M43 38h0M55 21h0M-1 21h0M54 22h0M-2 22h0M57 21h0M1 21h0M23 5h0M24 5h0M21 6h0M45 48h0M46 47h0M47 48h0M55 5h0M-1 5h0M55 7h0M-1 7h0M56 4h0M0 4h0M28 33h0M29 34h0M28 32h0M5 2h0M5 58h0M5 3h0M6 1h0M6 57h0M42 48h0M43 49h0M41 47h0M43 49h0M45 49h0M42 50h0M52 32h0M54 33h0M-2 33h0M53 34h0M13 10h0M13 8h0M13 11h0M54 0h0M54 56h0M-2 0h0M-2 56h0M55 1h0M55 57h0M-1 1h0M-1 57h0M55 0h0M55 56h0M-1 0h0M-1 56h0M36 1h0M36 57h0M38 2h0M38 58h0M35 0h0M35 56h0M48 1h0M48 57h0M48 3h0M47 2h0M47 58h0M52 51h0M52 52h0M51 50h0M28 20h0M28 22h0M27 21h0M18 51h0M20 51h0M18 53h0M32 48h0M31 49h0M33 46h0M43 50h0M44 51h0M43 49h0M7 53h0M5 54h0M6 55h0M6 -1h0M14 2h0M14 58h0M13 2h0M16 2h0M16 58h0M46 36h0M48 36h0M48 37h0M31 10h0M30 9h0M30 10h0M37 33h0M38 35h0M37 35h0" stroke="#7361c7" stroke-width="3.4" stroke-linecap="round" stroke-opacity="0.8"/><path d="M26 22h0M27 24h0M26 20h0M55 12h0M-1 12h0M57 12h0M1 12h0M57 11h0M1 11h0M23 39h0M23 37h0M21 39h0M26 29h0M25 31h0M27 31h0M29 52h0M27 51h0M31 52h0M34 38h0M32 39h0M32 37h0M4 42h0M3 40h0M2 42h0M58 42h0M46 15h0M44 17h0M47 14h0M10 18h0M9 20h0M7 18h0M34 29h0M36 29h0M37 29h0M44 15h0M45 17h0M42 16h0M49 2h0M49 58h0M47 3h0M47 59h0M51 2h0M51 58h0M17 39h0M15 38h0M17 37h0M37 26h0M35 25h0M39 28h0M42 39h0M44 40h0M44 39h0M47 7h0M45 8h0M45 7h0M50 25h0M53 24h0M51 27h0M41 48h0M44 48h0M41 50h0" stroke="#6450bd" stroke-width="4.6" stroke-linecap="round" stroke-opacity="0.8"/></pattern>
<pattern id="p37" patternUnits="userSpaceOnUse" width="56" height="56"><path d="M19 32h0M14 30h0M29 47h0M49 10h0M21 33h0M56 8h0M0 8h0M50 7h0M51 45h0M12 2h0M46 51h0M38 21h0M19 19h0M36 2h0M2 43h0M34 26h0M26 29h0M28 23h0M12 3h0M34 19h0M29 35h0M0 28h0M56 28h0M24 45h0M29 33h0M46 2h0M27 36h0M36 29h0M17 17h0M37 44h0M8 19h0M39 43h0M45 27h0M56 41h0M0 41h0M27 12h0M5 37h0M17 20h0M2 44h0M33 30h0M29 35h0M20 32h0M37 1h0M37 57h0M40 51h0M38 43h0M35 46h0M6 24h0M28 48h0M13 15h0M11 22h0M55 33h0M8 2h0M16 42h0M17 31h0M9 48h0M31 18h0M23 32h0M17 48h0M14 13h0M21 38h0M46 25h0M18 49h0M40 32h0M51 44h0M27 40h0M41 21h0M19 30h0M45 24h0M35 8h0M0 44h0M56 44h0M41 41h0M5 46h0M28 39h0M7 19h0M44 26h0M19 19h0M15 32h0M20 23h0M32 24h0M9 21h0M11 11h0M23 46h0M27 41h0M33 3h0M8 28h0M10 42h0M37 0h0M37 56h0M37 41h0M6 55h0M6 -1h0M28 32h0M27 24h0M19 51h0M31 40h0M34 17h0M5 37h0M4 29h0M36 26h0M1 36h0M57 36h0M52 16h0M28 41h0M35 22h0M8 34h0M6 23h0M15 22h0M13 29h0M21 39h0M16 48h0M5 33h0M12 37h0M34 27h0M37 29h0M26 33h0M41 37h0M4 10h0M4 47h0M1 8h0M57 8h0M17 14h0M12 17h0M43 50h0M8 20h0M25 36h0M40 22h0M10 22h0M48 17h0M42 19h0M27 5h0M22 11h0M18 22h0M22 50h0M21 23h0M8 14h0M22 3h0M25 22h0M30 44h0M7 4h0M42 31h0M7 4h0M44 30h0M4 28h0M12 50h0M33 34h0M33 24h0M16 50h0M7 1h0M7 57h0M41 13h0M4 12h0M48 26h0M21 26h0M49 24h0M48 14h0M42 55h0M42 -1h0M20 32h0M41 33h0M1 35h0M57 35h0M23 39h0M24 31h0M23 49h0M34 16h0M38 26h0M20 32h0M24 48h0M52 43h0M12 42h0M50 7h0M42 13h0M42 52h0M21 46h0M40 15h0M48 26h0M29 17h0M30 24h0M15 51h0M49 32h0M17 1h0M17 57h0M37 21h0M43 25h0M46 25h0M19 40h0M24 19h0M17 0h0M17 56h0M38 50h0M4 30h0M51 47h0M20 42h0M29 8h0M17 21h0M21 38h0M10 6h0M32 47h0M25 20h0M19 7h0M17 45h0M1 45h0M57 45h0M35 39h0M24 40h0M28 42h0M27 37h0M50 36h0M28 39h0M9 23h0M6 47h0M38 26h0M14 37h0M25 48h0M19 11h0M23 34h0M12 20h0M7 22h0M51 21h0M18 44h0M32 31h0M53 25h0M42 53h0M10 53h0M44 44h0M11 29h0M46 29h0M29 40h0M35 12h0M16 44h0M17 48h0M11 16h0M17 40h0M50 17h0M21 42h0M27 23h0M46 26h0M40 44h0M12 18h0M39 25h0M31 46h0M33 49h0M15 18h0M3 32h0M9 26h0M29 53h0M18 35h0M22 25h0M28 27h0M36 19h0M36 54h0M46 45h0M53 4h0M6 24h0M55 50h0M-1 50h0M47 40h0M20 45h0M38 29h0M22 27h0M7 53h0M36 4h0M13 51h0M6 20h0M21 24h0M48 12h0M54 21h0M32 9h0M32 10h0M49 15h0M7 26h0M14 1h0M40 16h0M13 16h0M46 53h0M39 42h0M20 51h0M24 28h0M8 42h0M3 14h0M19 47h0M22 40h0M18 27h0M26 50h0M54 26h0M16 43h0M37 23h0M47 4h0M7 27h0M46 4h0M20 53h0M17 12h0M10 21h0M35 18h0M54 44h0M55 6h0M-1 6h0M35 33h0M30 20h0M51 25h0M39 5h0M8 51h0M35 19h0M16 35h0M31 47h0M33 34h0M52 38h0M41 35h0M39 31h0M10 23h0M36 12h0M12 17h0M36 20h0M34 17h0M29 19h0M20 33h0M35 43h0M44 27h0M49 25h0M11 50h0M51 32h0M25 53h0M11 39h0M39 43h0M11 51h0M21 35h0M41 18h0M44 21h0M23 51h0M28 39h0M44 12h0M43 15h0M22 50h0M32 24h0M32 9h0M19 49h0M25 36h0M11 23h0M29 30h0M33 3h0M44 49h0M27 54h0M29 22h0M1 47h0M57 47h0M23 47h0M28 53h0M41 5h0M24 55h0M24 -1h0M35 20h0M17 26h0M21 35h0M8 12h0M25 9h0M39 31h0M1 18h0M57 18h0M35 45h0M15 39h0M41 22h0M41 28h0M19 1h0M28 21h0M5 24h0M9 34h0M22 39h0M17 13h0M33 31h0M20 20h0M18 46h0M15 24h0M45 11h0M29 15h0M10 45h0M2 13h0M34 37h0M46 55h0M46 -1h0M21 52h0M22 26h0M12 18h0M35 12h0M12 44h0M20 51h0M1 10h0M38 55h0M38 -1h0M7 4h0M15 14h0M40 46h0M35 13h0M2 46h0M36 48h0M56 2h0M0 2h0M0 18h0M56 18h0M39 23h0M37 54h0M45 30h0M32 14h0M22 4h0M25 33h0M4 28h0M2 13h0M36 30h0M12 13h0M1 9h0M57 9h0M56 14h0M0 14h0M14 45h0M16 41h0M30 24h0M25 42h0M31 16h0M37 31h0M13 20h0M26 6h0M30 18h0" stroke="#a093d6" stroke-width="1.6" stroke-linecap="round" stroke-opacity="0.5"/><path d="M34 27h0M29 30h0M39 12h0M45 38h0M41 54h0M10 55h0M10 -1h0M17 3h0M41 13h0M25 20h0M39 51h0M28 48h0M34 6h0M20 14h0M27 42h0M40 14h0M32 37h0M31 30h0M17 52h0M35 17h0M34 22h0M19 55h0M19 -1h0M40 42h0M23 26h0M20 29h0M28 20h0M21 28h0M21 45h0M32 7h0M29 1h0M29 57h0M16 17h0M9 15h0M39 35h0M23 26h0M33 20h0M32 15h0M11 45h0M44 24h0M18 45h0M20 29h0M4 41h0M34 27h0M41 24h0M36 23h0M36 18h0M54 13h0M7 19h0M38 21h0M24 35h0M29 35h0M10 37h0M21 37h0M38 24h0M41 24h0M31 23h0M45 50h0M5 11h0M23 48h0M14 5h0M22 48h0M10 12h0M16 39h0M40 28h0M6 19h0M17 51h0M32 8h0M23 43h0M11 46h0M17 24h0M17 26h0M23 42h0M18 24h0M32 47h0M9 29h0M36 36h0M17 39h0M12 17h0M38 12h0M52 2h0M52 25h0M37 12h0M26 23h0M56 19h0M0 19h0M37 24h0M21 24h0M48 45h0M21 9h0M18 54h0M54 8h0M18 35h0M23 46h0M55 33h0M-1 33h0M49 39h0M22 30h0M2 49h0M18 32h0M24 49h0M26 3h0M56 4h0M0 4h0M14 38h0M10 56h0M10 0h0M23 37h0M17 1h0M17 57h0M10 52h0M38 24h0M15 26h0M14 21h0M26 30h0M33 21h0M22 21h0M14 49h0M7 29h0M19 46h0M11 44h0M13 13h0M17 53h0M23 36h0M37 3h0M10 20h0M16 18h0M14 39h0M42 17h0M8 26h0M41 40h0M17 35h0M35 10h0M25 23h0M16 21h0M42 15h0M29 15h0M22 39h0M9 32h0M12 18h0M52 52h0M36 18h0M44 16h0M34 32h0M26 1h0M26 57h0M48 48h0M20 32h0M21 14h0M7 38h0M1 1h0M1 57h0M57 1h0M57 57h0M18 44h0M15 43h0M52 37h0M3 5h0M9 21h0M50 21h0M43 46h0M40 30h0M39 48h0M26 14h0M14 33h0M52 12h0M40 6h0M43 11h0M13 26h0M45 23h0M27 51h0" stroke="#7d6dcb" stroke-width="2" stroke-linecap="round" stroke-opacity="0.7"/><path d="M29 37h0M28 36h0M27 37h0M31 23h0M31 24h0M32 24h0M56 23h0M0 23h0M56 22h0M0 22h0M57 25h0M1 25h0M13 13h0M15 12h0M14 11h0M9 23h0M8 25h0M10 24h0M12 44h0M14 44h0M11 44h0M2 47h0M4 46h0M3 49h0M13 46h0M12 47h0M12 47h0M24 31h0M23 29h0M26 31h0M41 18h0M42 17h0M40 17h0M38 27h0M38 28h0M40 26h0M46 25h0M48 25h0M46 27h0M50 17h0M51 15h0M50 15h0M19 33h0M18 31h0M18 34h0M38 33h0M37 32h0M37 34h0M35 13h0M34 12h0M37 13h0M32 26h0M31 26h0M31 26h0M35 42h0M37 42h0M34 40h0M14 19h0M13 18h0M13 20h0M40 48h0M39 50h0M41 47h0M42 30h0M43 31h0M43 30h0M36 22h0M35 22h0M35 22h0M28 32h0M29 33h0M28 33h0M48 35h0M49 37h0M49 37h0M31 26h0M33 25h0M30 25h0M36 20h0M35 21h0M36 18h0M20 52h0M19 52h0M19 52h0M39 52h0M37 53h0M40 52h0M32 33h0M33 34h0M30 34h0M24 21h0M25 23h0M25 22h0M31 18h0M30 17h0M33 17h0M51 39h0M50 40h0M50 37h0M18 1h0M18 57h0M19 0h0M19 56h0M18 -1h0M18 55h0M24 54h0M24 -2h0M25 55h0M25 -1h0M23 53h0M9 34h0M11 33h0M10 35h0M25 42h0M26 44h0M27 41h0M16 44h0M17 43h0M15 45h0M44 21h0M46 22h0M43 22h0M55 40h0M-1 40h0M55 38h0M-1 38h0M54 41h0M-2 41h0M56 6h0M0 6h0M57 6h0M1 6h0M56 8h0M0 8h0M20 23h0M21 24h0M18 23h0M17 2h0M17 58h0M15 1h0M15 57h0M16 0h0M16 56h0M14 23h0M14 25h0M14 22h0M2 50h0M58 50h0M3 52h0M3 49h0M55 28h0M-1 28h0M56 27h0M0 27h0M57 28h0M1 28h0M29 21h0M28 20h0M29 19h0M18 46h0M20 46h0M17 48h0M14 46h0M15 45h0M15 45h0M9 27h0M7 27h0M10 28h0M13 51h0M12 52h0M15 51h0M37 18h0M35 18h0M36 19h0M50 29h0M48 30h0M49 30h0M42 4h0M43 4h0M42 6h0M25 47h0M27 47h0M26 47h0M29 21h0M30 21h0M27 20h0M43 23h0M44 21h0M44 22h0M46 41h0M47 40h0M44 41h0M5 37h0M3 37h0M6 37h0M47 13h0M46 13h0M49 14h0" stroke="#7361c7" stroke-width="3.4" stroke-linecap="round" stroke-opacity="0.8"/><path d="M42 7h0M42 9h0M44 6h0M42 13h0M41 10h0M44 13h0M34 21h0M35 23h0M32 19h0M5 37h0M7 36h0M6 35h0M7 55h0M7 -1h0M8 57h0M8 1h0M9 55h0M9 -1h0M39 44h0M38 42h0M37 43h0M17 20h0M19 22h0M19 22h0M27 34h0M28 31h0M26 36h0M10 53h0M10 50h0M11 55h0M11 -1h0M9 35h0M9 38h0M7 34h0M19 36h0M21 35h0M17 35h0M15 53h0M15 -3h0M17 53h0M17 51h0M44 31h0M42 33h0M46 32h0M33 36h0M32 39h0M36 36h0M29 25h0M30 27h0M31 27h0M26 47h0M26 50h0M27 45h0M5 26h0M7 27h0M7 27h0M20 41h0M19 43h0M18 41h0M15 47h0M14 49h0M15 50h0M6 10h0M8 8h0M6 8h0M9 41h0M8 43h0M11 40h0M23 16h0M26 15h0M26 17h0M19 24h0M21 26h0M21 25h0M45 5h0M43 3h0M43 59h0M46 7h0M23 46h0M23 48h0M21 44h0M22 13h0M20 13h0M20 14h0" stroke="#6450bd" stroke-width="5.1" stroke-linecap="round" stroke-opacity="0.8"/></pattern>
<pattern id="p38" patternUnits="userSpaceOnUse" width="56" height="56"><path d="M36 16h0M4 26h0M17 2h0M28 38h0M15 44h0M6 30h0M1 1h0M1 57h0M57 1h0M57 57h0M10 6h0M25 36h0M44 32h0M53 40h0M3 8h0M32 9h0M12 54h0M31 33h0M52 13h0M41 34h0M9 1h0M9 57h0M27 54h0M3 50h0M5 54h0M41 7h0M1 30h0M57 30h0M15 49h0M6 4h0M45 37h0M54 2h0M1 49h0M57 49h0M43 38h0M49 34h0M27 5h0M34 8h0M54 9h0M49 50h0M24 35h0M3 35h0M20 11h0M37 40h0M49 44h0M1 22h0M57 22h0M45 6h0M53 43h0M0 22h0M56 22h0M8 29h0M20 55h0M20 -1h0M56 12h0M0 12h0M7 23h0M5 19h0M52 35h0M10 41h0M49 49h0M16 45h0M26 35h0M8 26h0M23 46h0M11 17h0M10 38h0M47 5h0M54 7h0M54 31h0M35 39h0M29 5h0M28 16h0M42 11h0M6 31h0M30 48h0M6 8h0M17 41h0M53 55h0M53 -1h0M43 4h0M20 0h0M20 56h0M44 12h0M35 41h0M18 43h0M19 20h0M54 53h0M7 25h0M50 27h0M5 55h0M5 -1h0M54 4h0M16 5h0M16 53h0M25 4h0M14 9h0M8 34h0M7 48h0M20 27h0M38 12h0M21 9h0M55 50h0M-1 50h0M22 32h0M55 55h0M-1 55h0M1 2h0M30 37h0M22 24h0M40 37h0M13 42h0M42 27h0M1 49h0M57 49h0M50 8h0M45 16h0M44 20h0M41 4h0M6 26h0M49 55h0M49 -1h0M44 46h0M48 29h0M13 9h0M22 52h0M12 54h0M24 2h0M43 7h0M48 51h0M40 38h0M51 17h0M19 31h0M50 2h0M9 43h0M55 51h0M-1 51h0M7 21h0M3 2h0M48 46h0M33 46h0M45 5h0M17 46h0M6 23h0M52 3h0M45 29h0M5 12h0M34 6h0M22 18h0M38 48h0M7 43h0M41 32h0M0 9h0M56 9h0M21 37h0M45 30h0M42 22h0M2 25h0M56 54h0M0 54h0M13 38h0M41 7h0M42 45h0M54 52h0M52 41h0M14 52h0M25 40h0M49 53h0M55 9h0M-1 9h0M12 46h0M47 34h0M4 54h0M48 4h0M44 9h0M5 49h0M52 46h0M1 36h0M57 36h0M15 47h0M13 53h0M37 38h0M16 29h0M55 4h0M-1 4h0M24 22h0M13 47h0M49 0h0M49 56h0M8 20h0M25 39h0M50 37h0M20 55h0M21 55h0M21 -1h0M35 20h0M43 20h0M51 41h0M4 5h0M49 3h0M2 5h0M17 26h0M0 32h0M56 32h0M45 14h0M55 14h0M10 29h0M11 4h0M52 32h0M18 16h0M35 34h0M0 38h0M56 38h0M55 10h0M-1 10h0M8 51h0M40 37h0M43 7h0M10 2h0M23 38h0M7 46h0M28 33h0M48 29h0M11 51h0M16 44h0M35 21h0M38 14h0M45 11h0M16 35h0M51 36h0M54 47h0M55 38h0M-1 38h0M11 2h0M0 23h0M56 23h0M19 25h0M7 27h0M51 28h0M53 21h0M23 30h0M54 22h0M1 40h0M57 40h0M4 54h0M52 26h0M18 45h0M29 14h0M2 15h0M25 7h0M47 26h0M51 49h0M18 49h0M6 36h0M43 44h0M13 52h0M11 48h0M46 54h0M16 35h0M48 37h0M6 48h0M35 22h0M4 22h0M53 20h0M7 31h0M35 40h0M3 45h0M27 32h0M19 52h0M18 3h0M54 5h0M47 10h0M2 15h0M11 35h0M44 27h0M43 11h0M45 49h0M14 29h0M47 25h0M51 31h0M26 55h0M26 -1h0M11 56h0M11 0h0M53 38h0M14 27h0M3 27h0M3 30h0M52 25h0M33 17h0M51 56h0M51 0h0M42 10h0M54 8h0M13 38h0M8 51h0M17 31h0M42 51h0M15 51h0M13 17h0M10 4h0M40 30h0M40 5h0M26 53h0M18 46h0M3 29h0M48 24h0M44 34h0M36 32h0M7 47h0M49 24h0M37 52h0M20 31h0M11 51h0M9 23h0M43 28h0M2 8h0M49 4h0M52 28h0M53 2h0M27 17h0M33 14h0M15 8h0M5 33h0M18 3h0M46 33h0M1 21h0M34 36h0M1 48h0M57 48h0M16 51h0M6 50h0M47 41h0M10 52h0M11 46h0M37 36h0M8 8h0M33 49h0M7 28h0M29 4h0M24 48h0M27 37h0M28 44h0M40 5h0M44 35h0M49 35h0M17 46h0M17 8h0M42 4h0M4 44h0M28 54h0M15 27h0M49 8h0M11 29h0M24 17h0M38 5h0M9 1h0M9 57h0M54 48h0M27 51h0M34 50h0M16 22h0M54 13h0M1 48h0M37 54h0M54 26h0M45 20h0M1 55h0M57 55h0M43 22h0M36 10h0M23 10h0M4 48h0M12 43h0M1 2h0M57 2h0M15 53h0M14 14h0M4 44h0M46 27h0M51 53h0M1 52h0M57 52h0M51 32h0M15 50h0M47 2h0M0 21h0M56 21h0M42 32h0M46 29h0M45 48h0M13 17h0M41 32h0M9 0h0M9 56h0M12 24h0M54 50h0M27 45h0M50 15h0M5 19h0M20 12h0M31 51h0M10 42h0M16 25h0M36 1h0M22 45h0M9 13h0M43 33h0M47 43h0M38 21h0M2 15h0M49 13h0M1 50h0M57 50h0M38 9h0M55 33h0M-1 33h0M34 21h0M4 37h0M8 8h0M2 1h0M2 57h0M22 53h0M10 34h0M41 41h0M54 27h0M7 23h0M46 4h0M17 28h0M28 2h0M54 54h0M46 3h0M26 14h0M43 12h0M15 44h0M51 31h0M31 46h0M12 56h0M12 0h0M56 45h0M0 45h0M13 38h0M11 50h0M54 8h0M55 2h0M-1 2h0M24 55h0M24 -1h0M55 53h0M-1 53h0M17 43h0M15 47h0M22 53h0M46 4h0M15 49h0M46 14h0M48 37h0M36 5h0M7 2h0M56 3h0M0 3h0M35 43h0M47 52h0M4 54h0M39 17h0M39 4h0M5 35h0M18 18h0M7 26h0M53 4h0M17 47h0M24 46h0M40 29h0M53 6h0M19 50h0M10 5h0M18 23h0M56 11h0M0 11h0M1 41h0M57 41h0M8 4h0M52 6h0M43 40h0M35 18h0M15 33h0M11 55h0M11 -1h0M0 42h0M56 42h0M52 52h0M21 42h0M7 6h0M0 51h0M56 51h0M19 40h0M20 9h0M55 26h0M-1 26h0M36 33h0M0 52h0M56 52h0M40 12h0M42 11h0M8 7h0M7 46h0M38 25h0M18 54h0M10 7h0M50 21h0M1 49h0M55 30h0M5 50h0M55 5h0M-1 5h0M13 44h0M3 12h0M40 27h0M13 49h0M50 31h0M28 14h0M40 55h0M40 -1h0M15 42h0M5 55h0M5 -1h0M48 4h0M21 8h0M2 36h0M41 41h0M35 39h0M17 44h0M7 28h0M36 0h0M36 56h0M50 21h0M53 28h0M51 7h0M53 49h0M52 10h0M18 49h0M48 7h0M55 44h0M-1 44h0" stroke="#a093d6" stroke-width="1.6" stroke-linecap="round" stroke-opacity="0.5"/><path d="M47 7h0M26 47h0M4 45h0M1 38h0M57 38h0M4 8h0M39 7h0M46 9h0M3 33h0M50 23h0M52 32h0M12 51h0M46 40h0M49 18h0M51 13h0M13 47h0M4 55h0M4 -1h0M26 12h0M8 45h0M54 31h0M46 28h0M43 9h0M11 25h0M47 52h0M48 19h0M2 4h0M2 2h0M50 53h0M15 52h0M26 43h0M1 34h0M57 34h0M13 49h0M48 2h0M15 54h0M41 5h0M49 50h0M28 47h0M11 49h0M23 48h0M21 49h0M24 1h0M24 57h0M53 5h0M34 16h0M50 6h0M2 16h0M4 46h0M45 49h0M12 34h0M5 47h0M54 39h0M48 55h0M48 -1h0M15 2h0M27 53h0M43 35h0M19 44h0M48 19h0M10 40h0M6 23h0M4 47h0M39 48h0M10 0h0M10 56h0M52 31h0M56 31h0M0 31h0M11 24h0M0 8h0M56 8h0M34 8h0M22 45h0M1 53h0M57 53h0M47 47h0M48 10h0M5 1h0M5 57h0M26 55h0M26 -1h0M54 42h0M53 0h0M53 56h0M12 41h0M38 45h0M1 39h0M57 39h0M55 14h0M-1 14h0M17 52h0M8 36h0M10 43h0M43 5h0M6 0h0M6 56h0M52 1h0M52 57h0M43 54h0M54 42h0M26 12h0M47 7h0M17 42h0M50 13h0M24 39h0M55 35h0M-1 35h0M12 12h0M11 21h0M46 13h0M24 3h0M26 9h0M43 44h0M55 3h0M-1 3h0M38 13h0M50 6h0M47 41h0M24 39h0M56 38h0M0 38h0M7 2h0M17 2h0M52 2h0M49 27h0M20 46h0M9 48h0M54 49h0M41 54h0M29 15h0M20 17h0M6 54h0M54 4h0M22 49h0M22 1h0M22 57h0M41 26h0M50 30h0M34 0h0M34 56h0M43 24h0M46 26h0M2 4h0M56 17h0M0 17h0M11 54h0M39 11h0M1 7h0M57 7h0M13 48h0M23 9h0M53 16h0M11 11h0M42 26h0M39 30h0M39 29h0M52 5h0M48 9h0M3 25h0M48 28h0M11 45h0M48 5h0M46 39h0M19 48h0M33 23h0M39 14h0M54 2h0M29 16h0M16 35h0M5 5h0M55 9h0M-1 9h0M51 23h0M33 21h0M53 55h0M53 -1h0M20 3h0M32 25h0M45 26h0M6 11h0M52 53h0M50 16h0M43 38h0M10 7h0M29 48h0M28 21h0M8 24h0M21 2h0M25 35h0M52 44h0M54 16h0M0 53h0M56 53h0M45 9h0M4 29h0M44 46h0M37 15h0M28 3h0M34 13h0M41 53h0M43 55h0M43 -1h0M51 46h0M42 5h0M7 14h0M24 15h0M44 39h0M46 4h0M52 53h0M4 53h0M19 27h0M14 34h0M53 33h0M6 0h0M6 56h0M1 30h0M57 30h0M51 6h0M52 24h0M45 5h0M12 43h0" stroke="#7d6dcb" stroke-width="2" stroke-linecap="round" stroke-opacity="0.7"/><path d="M44 49h0M45 48h0M43 51h0M2 0h0M2 56h0M58 0h0M58 56h0M4 0h0M4 56h0M3 1h0M3 57h0M22 38h0M23 37h0M22 36h0M29 2h0M29 58h0M31 1h0M31 57h0M28 3h0M52 18h0M52 16h0M53 18h0M42 3h0M41 3h0M43 2h0M43 58h0M9 48h0M8 49h0M9 46h0M54 7h0M-2 7h0M54 5h0M-2 5h0M54 8h0M-2 8h0M18 22h0M17 22h0M19 23h0M45 50h0M45 49h0M44 50h0M50 55h0M50 -1h0M49 55h0M49 -1h0M49 54h0M48 8h0M49 10h0M49 9h0M41 52h0M40 50h0M42 50h0M49 46h0M50 46h0M48 47h0M23 10h0M21 10h0M24 9h0M6 53h0M7 52h0M6 51h0M54 47h0M-2 47h0M55 48h0M-1 48h0M53 46h0M7 47h0M6 46h0M8 49h0M51 3h0M50 2h0M50 58h0M53 3h0M9 50h0M8 50h0M8 51h0M15 21h0M15 23h0M13 21h0M11 14h0M10 15h0M11 12h0M34 4h0M35 4h0M32 4h0M30 45h0M29 44h0M30 46h0M11 47h0M12 46h0M10 48h0M7 51h0M6 52h0M8 49h0M41 45h0M43 45h0M43 45h0M12 32h0M10 33h0M13 32h0M49 14h0M51 14h0M51 14h0M52 18h0M54 19h0M54 18h0M-2 18h0M12 1h0M12 57h0M12 -1h0M12 55h0M11 2h0M11 58h0M15 8h0M15 6h0M16 9h0M14 46h0M13 47h0M14 47h0M31 14h0M30 15h0M30 15h0M15 44h0M13 45h0M15 46h0M6 3h0M4 3h0M7 3h0M40 7h0M41 7h0M38 6h0M6 54h0M7 52h0M5 53h0M53 35h0M54 33h0M52 34h0M56 8h0M0 8h0M54 8h0M-2 8h0M54 8h0M-2 8h0M23 33h0M24 33h0M22 31h0M5 51h0M7 51h0M6 50h0M20 44h0M20 43h0M19 43h0M45 20h0M44 22h0M43 20h0M55 12h0M-1 12h0M57 11h0M1 11h0M55 13h0M-1 13h0M30 33h0M30 34h0M29 34h0M46 38h0M47 39h0M47 36h0M46 28h0M47 26h0M45 29h0M14 35h0M14 37h0M14 33h0M38 51h0M37 52h0M39 50h0M12 51h0M13 52h0M11 52h0M55 0h0M55 56h0M-1 0h0M-1 56h0M56 -1h0M56 55h0M0 -1h0M0 55h0M56 0h0M56 56h0M0 0h0M0 56h0M52 3h0M52 5h0M51 4h0M33 28h0M34 29h0M32 28h0M34 53h0M33 51h0M32 52h0M12 28h0M11 27h0M12 30h0M7 53h0M6 52h0M6 53h0M51 19h0M50 17h0M51 20h0M53 7h0M52 8h0M55 7h0M-1 7h0M24 38h0M25 39h0M25 37h0M51 23h0M49 22h0M49 22h0M55 55h0M55 -1h0M-1 55h0M-1 -1h0M56 54h0M56 -2h0M0 54h0M0 -2h0M56 56h0M56 0h0M0 56h0M0 0h0M4 7h0M3 6h0M5 6h0M51 53h0M50 51h0M49 52h0M53 25h0M53 24h0M53 24h0M50 6h0M49 6h0M52 7h0M2 3h0M58 3h0M1 1h0M1 57h0M57 1h0M57 57h0M0 4h0M56 4h0M34 24h0M34 26h0M33 23h0M19 16h0M18 15h0M20 15h0M49 19h0M49 20h0M50 18h0M3 52h0M4 52h0M2 53h0M58 53h0M10 36h0M10 34h0M8 36h0" stroke="#7361c7" stroke-width="3.4" stroke-linecap="round" stroke-opacity="0.8"/><path d="M3 26h0M59 26h0M1 28h0M57 28h0M4 23h0M34 36h0M36 38h0M37 35h0M47 10h0M49 9h0M49 13h0M32 48h0M30 51h0M33 51h0M8 29h0M11 30h0M5 27h0M5 5h0M7 3h0M7 59h0M8 5h0M43 55h0M43 -1h0M45 58h0M45 2h0M42 53h0M42 -3h0M29 36h0M27 38h0M31 38h0M16 53h0M16 -3h0M15 50h0M16 56h0M16 0h0M0 27h0M56 27h0M-1 24h0M55 24h0M0 30h0M56 30h0M43 50h0M43 53h0M43 -3h0M43 53h0M43 -3h0M15 43h0M13 46h0M17 45h0M10 44h0M7 44h0M8 45h0M2 54h0M2 -2h0M58 54h0M58 -2h0M1 52h0M57 52h0M5 56h0M5 0h0M14 3h0M14 59h0M12 6h0M13 0h0M13 56h0M8 4h0M11 5h0M10 6h0M36 14h0M33 15h0M33 15h0M26 20h0M29 18h0M27 17h0M10 44h0M11 47h0M7 44h0M11 41h0M12 38h0M11 38h0" stroke="#6450bd" stroke-width="6.4" stroke-linecap="round" stroke-opacity="0.8"/></pattern>
<pattern id="p39" patternUnits="userSpaceOnUse" width="56" height="56"><path d="M28 29h0M44 39h0M3 32h0M56 23h0M0 23h0M15 15h0M13 17h0M55 20h0M-1 20h0M42 50h0M4 54h0M42 54h0M2 47h0M29 42h0M4 15h0M42 1h0M42 57h0M2 46h0M24 38h0M45 24h0M54 19h0M27 50h0M53 33h0M28 49h0M45 21h0M2 16h0M8 13h0M53 16h0M49 6h0M53 32h0M37 14h0M44 28h0M32 25h0M6 1h0M6 57h0M31 35h0M11 53h0M55 50h0M-1 50h0M16 15h0M39 25h0M53 6h0M48 27h0M31 24h0M4 31h0M14 13h0M14 4h0M8 29h0M50 33h0M12 40h0M56 54h0M0 54h0M53 47h0M16 27h0M20 32h0M25 19h0M36 36h0M14 1h0M14 57h0M52 11h0M5 14h0M52 53h0M45 27h0M56 7h0M0 7h0M3 19h0M2 4h0M39 52h0M49 31h0M56 24h0M0 24h0M28 44h0M4 51h0M38 33h0M13 53h0M21 10h0M6 18h0M7 24h0M5 13h0M50 5h0M5 37h0M48 31h0M20 18h0M39 24h0M1 21h0M57 21h0M55 34h0M-1 34h0M27 28h0M21 42h0M18 41h0M4 38h0M19 46h0M1 19h0M57 19h0M37 25h0M48 19h0M14 24h0M29 43h0M9 47h0M25 9h0M33 45h0M47 36h0M23 29h0M14 18h0M14 41h0M13 7h0M45 6h0M9 29h0M49 28h0M48 37h0M53 11h0M1 35h0M57 35h0M9 39h0M49 19h0M54 35h0M13 46h0M18 1h0M18 57h0M51 40h0M18 54h0M51 41h0M13 53h0M1 30h0M57 30h0M48 44h0M27 10h0M27 51h0M18 52h0M22 24h0M48 40h0M49 15h0M1 32h0M57 32h0M55 30h0M-1 30h0M42 38h0M45 24h0M46 44h0M3 14h0M54 24h0M17 41h0M10 11h0M46 18h0M44 52h0M51 20h0M30 45h0M38 47h0M6 1h0M6 57h0M53 12h0M2 53h0M7 47h0M49 7h0M43 41h0M16 15h0M51 45h0M17 55h0M17 -1h0M52 13h0M51 11h0M6 13h0M22 50h0M3 37h0M14 30h0M14 56h0M14 0h0M50 44h0M50 27h0M22 39h0M55 13h0M-1 13h0M37 47h0M53 38h0M52 55h0M52 -1h0M26 34h0M35 39h0M22 45h0M48 55h0M48 -1h0M50 50h0M32 54h0M14 55h0M14 -1h0M24 54h0M50 37h0M36 38h0M18 11h0M43 20h0M3 20h0M15 53h0M10 29h0M45 16h0M36 23h0M22 50h0M18 52h0M46 34h0M39 34h0M29 53h0M50 2h0M45 33h0M21 47h0M5 29h0M50 25h0M26 1h0M12 10h0M52 49h0M11 47h0M43 56h0M43 0h0M55 27h0M-1 27h0M28 9h0M40 38h0M46 23h0M31 41h0M12 39h0M37 12h0M20 12h0M42 37h0M1 40h0M57 40h0M14 4h0M48 20h0M32 43h0M41 21h0M6 14h0M34 49h0M55 10h0M-1 10h0M36 49h0M34 18h0M13 43h0M10 28h0M31 40h0M6 33h0M23 55h0M23 -1h0M39 22h0M7 48h0M52 39h0M20 51h0M49 40h0M11 23h0M52 41h0M39 44h0M19 1h0M19 57h0M22 10h0M9 49h0M37 28h0M5 27h0M6 41h0M27 10h0M45 17h0M53 5h0M27 19h0M3 38h0M6 45h0M17 21h0M45 38h0M20 18h0M42 47h0M23 6h0M36 36h0M34 46h0M5 55h0M5 -1h0M37 37h0M26 35h0M3 46h0M5 21h0M3 51h0M15 35h0M42 16h0M36 52h0M52 51h0M26 33h0M3 12h0M49 32h0M45 47h0M56 33h0M0 33h0M41 41h0M22 51h0M54 12h0M11 37h0M33 42h0M6 44h0M21 51h0M41 46h0M27 36h0M23 47h0M54 35h0M50 37h0M50 49h0M45 42h0M41 45h0M31 36h0M30 46h0M53 25h0M53 40h0M28 45h0M49 52h0M50 39h0M48 30h0M0 34h0M56 34h0M8 31h0M47 13h0M53 2h0M49 19h0M32 48h0M8 24h0M47 50h0M31 52h0M53 38h0M31 49h0M36 0h0M36 56h0M32 48h0M54 54h0M45 46h0M38 44h0M33 18h0M31 41h0M25 55h0M25 -1h0M40 24h0M3 21h0M33 54h0M36 39h0M29 36h0M15 29h0M53 22h0M12 43h0M49 38h0M56 26h0M0 26h0M26 42h0M48 39h0M50 53h0M21 6h0M18 45h0M48 4h0M21 32h0M46 44h0M27 55h0M27 -1h0M11 16h0M19 47h0M7 43h0M18 3h0M33 7h0M10 19h0M1 27h0M57 27h0M48 24h0M45 37h0M25 49h0M21 34h0" stroke="#a093d6" stroke-width="1.6" stroke-linecap="round" stroke-opacity="0.5"/><path d="M40 20h0M54 47h0M46 51h0M6 49h0M14 50h0M28 39h0M2 28h0M34 51h0M25 53h0M23 49h0M2 8h0M18 36h0M2 42h0M19 43h0M48 14h0M50 3h0M40 50h0M32 13h0M48 49h0M51 44h0M52 39h0M2 32h0M8 13h0M42 51h0M51 40h0M48 41h0M21 0h0M21 56h0M46 4h0M21 20h0M55 44h0M-1 44h0M30 47h0M48 35h0M15 18h0M22 48h0M29 39h0M39 42h0M3 53h0M43 48h0M41 11h0M51 39h0M56 16h0M0 16h0M24 53h0M29 43h0M3 3h0M13 18h0M13 17h0M53 45h0M43 35h0M52 39h0M15 18h0M5 3h0M55 32h0M-1 32h0M35 44h0M26 9h0M26 48h0M34 27h0M1 26h0M57 26h0M55 16h0M-1 16h0M10 1h0M10 57h0M39 13h0M29 52h0M18 51h0M6 55h0M6 -1h0M41 39h0M6 24h0M18 35h0M48 20h0M7 39h0M47 43h0M32 44h0M32 37h0M46 49h0M35 34h0M2 30h0M10 47h0M47 55h0M47 -1h0M19 47h0M38 35h0M52 44h0M35 1h0M35 57h0M17 18h0M31 38h0M8 46h0M13 42h0M37 7h0M37 36h0M46 22h0M1 27h0M57 27h0M55 6h0M-1 6h0M12 17h0M51 6h0M43 34h0M39 48h0M45 21h0M30 51h0M41 5h0M31 55h0M31 -1h0M6 55h0M6 -1h0M45 15h0M50 56h0M50 0h0M43 6h0M24 32h0M9 20h0M40 31h0M44 32h0M24 44h0M42 53h0M53 25h0M8 53h0M53 35h0M16 1h0M16 57h0M41 39h0M30 53h0M53 6h0M39 18h0M28 40h0M51 43h0M16 53h0M37 40h0M2 37h0M3 7h0M46 30h0M43 51h0M9 4h0M18 51h0M10 20h0M24 13h0M37 3h0M6 32h0M53 24h0" stroke="#7d6dcb" stroke-width="2" stroke-linecap="round" stroke-opacity="0.7"/><path d="M50 5h0M49 3h0M50 3h0M28 35h0M28 36h0M30 34h0M56 48h0M0 48h0M54 48h0M-2 48h0M57 47h0M1 47h0M47 44h0M48 43h0M49 43h0M22 25h0M22 23h0M22 26h0M51 42h0M50 43h0M52 40h0M49 42h0M48 43h0M47 42h0M32 19h0M32 20h0M33 20h0M38 41h0M38 40h0M39 40h0M47 48h0M49 48h0M46 49h0M40 1h0M40 57h0M41 2h0M41 58h0M39 2h0M3 27h0M2 28h0M58 28h0M2 29h0M43 38h0M41 39h0M43 40h0M46 37h0M48 37h0M45 37h0M38 32h0M39 32h0M39 33h0M37 0h0M37 56h0M38 0h0M38 56h0M36 2h0M36 58h0M25 43h0M24 42h0M25 45h0M34 16h0M35 15h0M35 15h0M38 14h0M38 15h0M38 15h0M23 19h0M23 17h0M24 17h0M44 41h0M44 40h0M43 41h0M1 39h0M57 39h0M1 38h0M57 38h0M1 38h0M57 38h0M32 9h0M30 8h0M32 7h0M51 11h0M52 9h0M52 12h0M7 54h0M7 -2h0M7 56h0M7 0h0M8 53h0M54 49h0M-2 49h0M53 50h0M55 51h0M-1 51h0M29 31h0M27 32h0M29 29h0M25 16h0M25 18h0M24 15h0M13 26h0M12 26h0M12 26h0M38 42h0M40 43h0M37 43h0M51 33h0M52 32h0M51 35h0M2 39h0M58 39h0M3 40h0M1 38h0M57 38h0M30 45h0M32 45h0M29 45h0M33 43h0M34 45h0M32 42h0M18 5h0M17 4h0M17 4h0M38 22h0M39 21h0M39 23h0M41 47h0M42 47h0M41 45h0M49 47h0M47 46h0M49 45h0M25 3h0M26 3h0M26 1h0M26 57h0M30 53h0M29 54h0M32 53h0M51 17h0M51 16h0M50 17h0M5 24h0M3 24h0M4 26h0M54 20h0M-2 20h0M53 21h0M53 21h0M36 46h0M36 47h0M35 47h0M26 46h0M25 45h0M24 46h0M13 2h0M13 58h0M14 1h0M14 57h0M14 3h0M29 6h0M28 5h0M30 8h0M14 34h0M14 36h0M16 34h0" stroke="#7361c7" stroke-width="3.4" stroke-linecap="round" stroke-opacity="0.8"/><path d="M36 51h0M33 51h0M38 50h0M31 49h0M29 48h0M32 47h0M4 5h0M3 3h0M3 59h0M59 3h0M59 59h0M5 7h0M34 17h0M33 19h0M34 14h0M32 37h0M33 39h0M33 35h0M45 16h0M43 15h0M43 18h0M20 41h0M18 41h0M19 39h0M24 2h0M24 58h0M22 4h0M22 4h0M4 32h0M5 33h0M5 33h0M30 39h0M28 38h0M28 39h0M40 49h0M38 49h0M42 48h0M10 3h0M10 59h0M11 1h0M11 57h0M12 4h0M3 51h0M59 51h0M3 49h0M59 49h0M2 54h0M2 -2h0M58 54h0M58 -2h0M40 48h0M42 47h0M38 47h0M20 22h0M22 24h0M21 20h0M52 34h0M53 36h0M-3 36h0M53 32h0M39 49h0M36 49h0M36 50h0M10 33h0M9 31h0M12 33h0M19 25h0M18 27h0M18 28h0M17 36h0M15 36h0M19 38h0M12 42h0M10 43h0M12 45h0" stroke="#6450bd" stroke-width="5.1" stroke-linecap="round" stroke-opacity="0.8"/></pattern>
<pattern id="p40" patternUnits="userSpaceOnUse" width="56" height="56"><path d="M34 5h0M51 18h0M36 49h0M37 39h0M50 13h0M34 17h0M34 48h0M4 42h0M50 47h0M13 1h0M13 57h0M13 5h0M24 49h0M33 32h0M3 19h0M29 12h0M17 48h0M7 39h0M5 18h0M31 1h0M27 23h0M28 1h0M28 57h0M24 6h0M53 43h0M9 16h0M4 21h0M49 35h0M55 55h0M55 -1h0M-1 55h0M-1 -1h0M13 5h0M11 8h0M15 36h0M22 53h0M9 4h0M42 14h0M30 53h0M13 25h0M40 49h0M3 15h0M34 46h0M48 16h0M29 15h0M16 45h0M12 24h0M32 4h0M12 50h0M52 8h0M44 5h0M13 6h0M14 46h0M41 5h0M47 20h0M36 48h0M10 34h0M31 21h0M23 40h0M47 16h0M4 24h0M39 7h0M3 42h0M5 19h0M10 34h0M11 31h0M1 0h0M1 56h0M57 0h0M57 56h0M53 3h0M4 50h0M12 28h0M54 55h0M28 1h0M11 12h0M48 51h0M35 25h0M9 41h0M18 45h0M26 23h0M24 29h0M55 23h0M-1 23h0M4 31h0M2 30h0M43 17h0M41 15h0M24 2h0M8 55h0M8 -1h0M55 18h0M-1 18h0M40 20h0M2 26h0M9 26h0M48 29h0M55 51h0M-1 51h0M14 8h0M16 13h0M24 8h0M19 44h0M54 2h0M52 32h0M53 41h0M8 51h0M19 17h0M51 16h0M12 44h0M23 35h0M16 27h0M45 29h0M34 23h0M2 40h0M16 44h0M13 21h0M46 17h0M7 39h0M3 10h0M21 55h0M21 -1h0M2 13h0M8 9h0M19 26h0M18 21h0M45 42h0M34 24h0M23 45h0M32 1h0M32 57h0M22 21h0M46 49h0M43 22h0M4 22h0M11 10h0M9 19h0M20 24h0M4 54h0M13 54h0M39 17h0M51 6h0M11 40h0M34 22h0M40 55h0M40 -1h0M21 5h0M10 41h0M55 11h0M-1 11h0M38 43h0M52 14h0M12 48h0M7 43h0M34 54h0M8 18h0M16 36h0M26 7h0M9 45h0M22 48h0M13 47h0M32 39h0M5 6h0M32 23h0M1 32h0M46 13h0M3 1h0M3 57h0M6 38h0M55 21h0M-1 21h0M35 1h0M35 57h0M26 2h0M14 23h0M34 1h0M34 57h0M30 19h0M3 17h0M16 42h0M53 1h0M53 57h0M50 22h0M4 21h0M11 35h0M56 41h0M0 41h0M56 14h0M0 14h0M42 48h0M18 3h0M21 8h0M21 28h0M40 8h0M49 47h0M1 30h0M57 30h0M49 52h0M41 23h0M5 26h0M8 15h0M55 52h0M-1 52h0M5 21h0M14 20h0M2 14h0M23 52h0M48 48h0M13 30h0M48 16h0M6 8h0M54 15h0M48 40h0M12 19h0M26 13h0M49 25h0M7 55h0M7 -1h0M15 14h0M26 11h0M13 52h0M13 37h0M49 22h0M32 21h0M15 2h0M28 13h0M50 31h0M35 48h0M2 54h0M11 26h0M47 28h0M7 21h0M17 12h0M24 52h0M38 15h0M5 3h0M34 32h0M52 20h0M4 1h0M47 47h0M17 24h0M5 4h0M29 14h0M4 18h0M36 26h0M9 1h0M20 50h0M44 15h0M7 38h0M8 0h0M8 56h0M1 27h0M32 18h0M56 8h0M0 8h0M44 4h0M10 13h0M44 8h0M46 28h0M39 27h0M12 6h0M32 47h0M29 17h0M46 44h0M8 19h0M51 40h0M38 11h0M55 11h0M27 25h0M53 32h0M28 15h0M3 26h0M20 22h0M9 17h0M34 14h0M41 24h0M19 14h0M37 9h0M53 38h0M3 1h0M3 57h0M16 23h0M3 44h0M2 15h0M46 15h0M24 44h0M7 12h0M30 16h0M55 40h0M-1 40h0M20 3h0M50 52h0M8 25h0M15 55h0M15 -1h0M37 50h0M46 30h0M25 23h0M10 46h0M23 9h0M5 16h0M35 48h0M8 51h0M8 29h0M20 8h0M35 11h0M7 16h0M6 51h0M43 3h0M4 22h0M36 3h0M30 35h0M37 46h0M55 54h0M-1 54h0M26 26h0M39 33h0M55 9h0M-1 9h0M24 55h0M8 27h0M13 39h0M51 48h0M49 53h0M10 20h0M10 55h0M10 -1h0M54 24h0M13 50h0M32 36h0M15 19h0M4 18h0M55 42h0M44 54h0M24 40h0M16 54h0M54 55h0M54 -1h0M49 33h0M19 32h0M26 4h0M39 16h0M17 20h0M40 33h0M48 34h0M11 28h0M33 52h0M17 31h0M2 45h0M11 26h0M15 20h0M6 25h0M54 4h0M31 5h0M5 39h0M47 49h0M47 21h0M48 41h0M8 20h0M53 26h0M17 5h0M17 16h0M31 11h0M27 11h0M42 2h0M55 48h0M-1 48h0M5 25h0M0 45h0M56 45h0M46 49h0M51 45h0M42 48h0M12 40h0M45 56h0M45 0h0M47 22h0M27 12h0M49 27h0M18 18h0M51 23h0M3 14h0M0 39h0M56 39h0" stroke="#a093d6" stroke-width="1.6" stroke-linecap="round" stroke-opacity="0.5"/><path d="M52 27h0M19 17h0M48 50h0M8 50h0M2 19h0M45 20h0M29 11h0M7 3h0M15 7h0M48 27h0M31 1h0M31 57h0M2 6h0M6 22h0M50 28h0M18 16h0M45 24h0M29 15h0M38 39h0M10 41h0M18 13h0M39 18h0M9 29h0M38 52h0M17 51h0M53 47h0M49 10h0M50 4h0M22 10h0M13 29h0M38 40h0M11 18h0M7 19h0M16 20h0M15 25h0M16 10h0M5 21h0M13 26h0M7 31h0M32 56h0M32 0h0M50 2h0M22 8h0M51 53h0M1 24h0M57 24h0M11 19h0M8 17h0M24 38h0M0 26h0M56 26h0M24 54h0M5 30h0M17 26h0M3 27h0M16 7h0M29 21h0M16 53h0M16 45h0M54 27h0M11 3h0M10 31h0M9 53h0M14 14h0M11 6h0M12 31h0M26 26h0M2 40h0M1 24h0M57 24h0M53 14h0M38 7h0M49 3h0M12 12h0M4 0h0M4 56h0M52 17h0M2 23h0M38 22h0M20 20h0M19 29h0M48 35h0M7 19h0M10 47h0M53 31h0M47 7h0M2 48h0M17 28h0M42 41h0M30 8h0M54 21h0M8 11h0M52 5h0M14 25h0M11 47h0M23 3h0M25 16h0M55 16h0M-1 16h0M6 27h0M33 24h0M36 23h0M33 36h0M54 52h0M45 35h0M7 20h0M5 1h0M5 57h0M22 12h0M56 49h0M0 49h0M9 55h0M9 -1h0M5 32h0M46 21h0M15 52h0M53 54h0M8 40h0M12 3h0M54 19h0M21 17h0M50 43h0M9 49h0M0 52h0M56 52h0M2 44h0M16 51h0M44 2h0M32 49h0M7 19h0M40 48h0M33 13h0M32 43h0M23 35h0M25 55h0M25 -1h0M46 13h0M37 56h0M37 0h0M36 3h0M4 39h0M12 42h0M10 46h0M31 1h0M31 57h0M12 4h0M7 56h0M7 0h0M51 50h0M28 19h0M6 39h0M8 4h0M25 10h0" stroke="#7d6dcb" stroke-width="2" stroke-linecap="round" stroke-opacity="0.7"/><path d="M26 16h0M25 17h0M24 16h0M53 27h0M54 28h0M-2 28h0M54 28h0M-2 28h0M7 43h0M7 45h0M8 42h0M16 3h0M14 2h0M16 5h0M25 54h0M25 -2h0M25 53h0M26 54h0M26 -2h0M17 36h0M18 36h0M15 36h0M9 29h0M8 31h0M10 31h0M17 56h0M17 0h0M19 56h0M19 0h0M18 54h0M18 -2h0M31 19h0M32 18h0M30 20h0M0 3h0M56 3h0M0 5h0M56 5h0M2 2h0M58 2h0M14 38h0M15 37h0M13 39h0M25 25h0M24 26h0M24 24h0M30 14h0M32 13h0M29 13h0M2 37h0M58 37h0M2 35h0M58 35h0M2 35h0M58 35h0M45 1h0M45 57h0M46 -1h0M46 55h0M44 -1h0M44 55h0M24 2h0M24 58h0M23 1h0M23 57h0M25 3h0M4 9h0M3 11h0M3 8h0M6 18h0M7 19h0M5 20h0M18 3h0M18 5h0M18 5h0M6 5h0M7 4h0M7 7h0M12 48h0M13 49h0M14 47h0M18 46h0M17 45h0M17 45h0M50 28h0M50 30h0M48 28h0M8 19h0M8 20h0M7 20h0M11 26h0M12 25h0M12 28h0M26 1h0M26 57h0M27 2h0M27 58h0M25 2h0M51 22h0M52 20h0M52 20h0M8 8h0M7 10h0M9 8h0M48 21h0M47 22h0M47 22h0M24 5h0M24 4h0M26 5h0M13 29h0M14 28h0M11 29h0M8 25h0M9 24h0M7 26h0M5 35h0M7 35h0M6 36h0M48 31h0M49 29h0M46 30h0M52 0h0M52 56h0M51 1h0M51 57h0M52 -1h0M52 55h0M15 40h0M13 40h0M16 39h0M12 26h0M13 25h0M11 28h0M12 5h0M13 6h0M11 6h0M13 19h0M13 17h0M14 19h0M31 2h0M31 58h0M30 2h0M30 58h0M30 3h0M47 29h0M48 28h0M46 31h0M54 36h0M-2 36h0M56 36h0M0 36h0M56 37h0M0 37h0M12 6h0M11 7h0M11 7h0M20 10h0M19 11h0M20 9h0M42 23h0M43 23h0M40 22h0M16 55h0M16 -1h0M17 56h0M17 0h0M14 56h0M14 0h0M16 6h0M18 6h0M16 4h0M51 39h0M51 41h0M52 40h0M11 53h0M9 53h0M10 51h0M43 3h0M43 2h0M43 58h0M41 4h0M29 50h0M27 50h0M27 49h0" stroke="#7361c7" stroke-width="3.4" stroke-linecap="round" stroke-opacity="0.8"/><path d="M14 47h0M14 49h0M17 47h0M26 48h0M26 50h0M25 45h0M1 40h0M57 40h0M-2 41h0M54 41h0M-1 38h0M55 38h0M45 11h0M44 14h0M43 10h0M15 10h0M16 12h0M16 7h0M7 14h0M4 14h0M5 12h0M31 3h0M31 59h0M29 1h0M29 57h0M33 2h0M33 58h0M38 26h0M41 27h0M36 28h0M47 21h0M50 21h0M46 23h0M2 50h0M58 50h0M3 53h0M3 -3h0M59 53h0M59 -3h0M1 48h0M57 48h0M32 35h0M32 38h0M29 35h0M47 28h0M46 31h0M48 26h0M38 13h0M41 14h0M36 14h0M12 13h0M10 11h0M13 11h0M3 28h0M2 30h0M58 30h0M4 31h0M8 21h0M7 19h0M11 23h0M20 20h0M22 17h0M23 21h0M45 12h0M43 10h0M42 12h0M52 36h0M54 37h0M-2 37h0M54 37h0M-2 37h0" stroke="#6450bd" stroke-width="5.6" stroke-linecap="round" stroke-opacity="0.8"/></pattern>
<pattern id="p41" patternUnits="userSpaceOnUse" width="56" height="56"><path d="M55 55h0M55 -1h0M-1 55h0M-1 -1h0M6 24h0M25 50h0M6 39h0M15 48h0M8 24h0M39 55h0M39 -1h0M42 20h0M6 6h0M24 7h0M38 37h0M33 43h0M16 10h0M50 46h0M6 53h0M13 33h0M18 24h0M53 28h0M27 39h0M50 23h0M37 6h0M17 22h0M47 1h0M11 30h0M41 52h0M32 46h0M48 29h0M52 22h0M22 10h0M12 28h0M7 15h0M22 17h0M23 23h0M9 15h0M6 55h0M6 -1h0M22 27h0M37 23h0M2 25h0M8 21h0M48 15h0M38 52h0M23 6h0M4 6h0M10 32h0M34 34h0M44 21h0M31 51h0M17 29h0M18 32h0M48 52h0M33 12h0M54 44h0M43 15h0M38 42h0M21 26h0M54 3h0M4 51h0M53 10h0M22 14h0M45 18h0M4 11h0M54 49h0M3 55h0M3 -1h0M29 37h0M53 46h0M0 35h0M56 35h0M16 22h0M36 4h0M22 3h0M34 8h0M44 6h0M7 14h0M2 16h0M40 54h0M40 15h0M3 16h0M13 17h0M23 17h0M11 36h0M38 34h0M33 19h0M15 41h0M23 3h0M8 46h0M26 20h0M34 22h0M6 11h0M10 3h0M30 24h0M36 51h0M46 44h0M28 45h0M29 8h0M43 43h0M38 29h0M10 16h0M40 21h0M4 24h0M25 23h0M13 18h0M10 4h0M45 48h0M7 1h0M7 57h0M54 17h0M17 6h0M37 38h0M55 42h0M-1 42h0M32 42h0M16 2h0M12 4h0M40 52h0M14 27h0M47 23h0M5 22h0M47 47h0M48 25h0M20 37h0M44 22h0M38 28h0M34 15h0M27 12h0M9 4h0M52 47h0M7 11h0M10 50h0M8 7h0M34 29h0M35 54h0M5 12h0M28 36h0M36 37h0M36 51h0M13 2h0M44 56h0M44 0h0M49 4h0M41 17h0M44 49h0M36 44h0M53 13h0M48 28h0M10 22h0M49 44h0M9 28h0M45 17h0M23 32h0M7 28h0M6 40h0M46 8h0M8 33h0M31 43h0M15 17h0M16 29h0M6 4h0M53 17h0M41 23h0M43 53h0M14 24h0M17 18h0M7 52h0M47 1h0M47 57h0M24 20h0M49 45h0M25 3h0M30 33h0M12 17h0M33 22h0M26 4h0M3 39h0M46 32h0M24 36h0M29 54h0M9 19h0M14 46h0M16 40h0M6 15h0M14 18h0M18 10h0M55 23h0M48 43h0M17 51h0M21 31h0M45 26h0M33 37h0M37 7h0M37 33h0M26 28h0M26 24h0M7 48h0M43 8h0M1 16h0M57 16h0M39 51h0M26 18h0M40 13h0M24 12h0M8 21h0M1 36h0M57 36h0M14 19h0" stroke="#a093d6" stroke-width="1.6" stroke-linecap="round" stroke-opacity="0.5"/><path d="M14 28h0M54 2h0M43 47h0M28 26h0M30 19h0M54 35h0M12 29h0M49 5h0M27 28h0M29 45h0M25 28h0M1 24h0M57 24h0M37 28h0M47 24h0M50 24h0M43 21h0M9 45h0M42 31h0M10 31h0M15 28h0M33 27h0M39 15h0M48 3h0M52 10h0M27 9h0M43 12h0M29 33h0M14 22h0M7 11h0M54 14h0M5 10h0M34 24h0M51 18h0M24 51h0M48 13h0M11 33h0M14 20h0M48 42h0M11 36h0M3 11h0M15 19h0M22 52h0M36 49h0M38 12h0M39 15h0M41 34h0M36 2h0M30 51h0M55 3h0M-1 3h0M54 33h0M10 50h0M29 10h0M47 7h0M43 22h0M42 27h0M50 7h0M6 52h0M39 38h0M3 21h0M42 47h0M28 44h0M6 49h0M40 24h0M50 18h0M16 20h0M25 30h0M55 54h0M-1 54h0M15 14h0M47 46h0M53 26h0M33 51h0M9 32h0M10 12h0M38 55h0M38 -1h0M28 1h0M28 57h0M21 51h0M26 21h0M36 13h0M28 13h0" stroke="#7d6dcb" stroke-width="2" stroke-linecap="round" stroke-opacity="0.7"/><path d="M9 7h0M8 5h0M11 7h0M20 18h0M18 18h0M19 19h0M51 24h0M50 25h0M53 25h0M14 24h0M15 25h0M16 24h0M17 3h0M16 2h0M16 58h0M16 3h0M40 56h0M40 0h0M40 54h0M40 -2h0M40 57h0M40 1h0M37 53h0M38 52h0M36 52h0M40 46h0M40 45h0M40 48h0M34 7h0M33 6h0M34 8h0M8 7h0M7 6h0M7 8h0M53 27h0M52 29h0M54 28h0M-2 28h0M56 24h0M0 24h0M57 25h0M1 25h0M57 25h0M1 25h0M39 55h0M39 -1h0M38 54h0M40 55h0M40 -1h0M24 25h0M24 23h0M23 25h0M45 44h0M46 43h0M45 45h0M39 9h0M39 10h0M40 9h0M43 32h0M43 31h0M42 32h0M2 55h0M2 -1h0M58 55h0M58 -1h0M3 57h0M3 1h0M1 57h0M1 1h0M57 57h0M57 1h0M1 6h0M57 6h0M1 5h0M57 5h0M1 5h0M57 5h0M12 27h0M11 25h0M13 27h0M31 42h0M32 43h0M29 42h0M10 13h0M11 12h0M12 13h0M20 15h0M18 15h0M21 16h0M23 25h0M24 25h0M22 24h0M17 4h0M16 3h0M19 5h0M36 43h0M37 44h0M35 42h0M53 22h0M55 23h0M-1 23h0M54 21h0M-2 21h0M46 35h0M47 36h0M44 36h0M41 47h0M43 46h0M40 47h0" stroke="#7361c7" stroke-width="3.4" stroke-linecap="round" stroke-opacity="0.8"/><path d="M43 20h0M42 22h0M41 18h0M14 1h0M14 57h0M11 1h0M11 57h0M14 3h0M4 11h0M2 10h0M58 10h0M3 8h0M37 16h0M37 14h0M37 18h0M16 55h0M16 -1h0M18 56h0M18 0h0M15 53h0M8 26h0M6 24h0M8 23h0M40 53h0M39 50h0M38 54h0M38 -2h0M44 1h0M44 57h0M43 3h0M43 59h0M43 3h0M43 59h0M41 22h0M41 20h0M42 20h0M2 22h0M58 22h0M2 20h0M58 20h0M1 19h0M57 19h0M7 34h0M9 36h0M7 37h0M54 29h0M-2 29h0M55 27h0M-1 27h0M53 28h0M11 18h0M12 15h0M11 20h0" stroke="#6450bd" stroke-width="5.1" stroke-linecap="round" stroke-opacity="0.8"/></pattern>
<pattern id="p42" patternUnits="userSpaceOnUse" width="56" height="56"><path d="M41 54h0M19 7h0M18 15h0M20 48h0M52 46h0M3 39h0M43 30h0M48 49h0M31 19h0M39 21h0M34 52h0M19 1h0M19 57h0M47 39h0M26 32h0M53 41h0M51 55h0M41 17h0M36 54h0M34 22h0M51 30h0M52 1h0M52 57h0M44 50h0M17 26h0M36 14h0M35 48h0M34 8h0M54 9h0M12 50h0M55 40h0M-1 40h0M51 2h0M26 14h0M12 41h0M43 4h0M22 54h0M1 54h0M49 44h0M3 4h0M42 51h0M39 49h0M54 14h0M34 16h0M7 4h0M19 53h0M40 2h0M46 28h0M52 37h0M14 50h0M22 45h0M48 18h0M12 39h0M46 18h0M2 46h0M55 31h0M52 48h0M11 47h0M48 48h0M49 10h0M4 45h0M54 49h0M6 53h0M50 41h0M27 43h0M49 23h0M56 43h0M0 43h0M34 15h0M47 5h0M15 42h0M41 12h0M27 6h0M4 45h0M38 1h0M38 57h0M22 44h0M37 21h0M11 46h0M35 11h0M39 19h0M22 0h0M22 56h0M15 25h0M10 41h0M33 31h0M50 55h0M48 52h0M50 9h0M46 32h0M51 52h0M42 53h0M52 48h0M27 2h0M41 52h0M21 34h0M42 55h0M10 51h0M21 55h0M6 52h0M13 34h0M49 54h0M42 2h0M22 9h0M43 47h0M11 26h0M48 52h0M48 52h0M10 44h0M20 42h0M0 20h0M56 20h0M20 49h0M5 55h0M5 -1h0M47 50h0M14 36h0M3 49h0M54 25h0M32 15h0M23 3h0M1 48h0M20 33h0M47 8h0M7 31h0M53 53h0M16 42h0M50 2h0M52 32h0M24 49h0M51 43h0M38 4h0M18 42h0M20 14h0M36 16h0M52 6h0M54 37h0M7 49h0M41 14h0M26 56h0M26 0h0M17 47h0M10 45h0M33 54h0M27 5h0M42 33h0M3 56h0M3 0h0M16 23h0M47 46h0M48 8h0M9 46h0M31 38h0M48 53h0M44 2h0M5 2h0M52 53h0M34 54h0M56 14h0M0 14h0M51 15h0" stroke="#a093d6" stroke-width="1.6" stroke-linecap="round" stroke-opacity="0.5"/><path d="M49 11h0M8 49h0M42 55h0M42 -1h0M5 55h0M5 -1h0M46 3h0M42 9h0M8 41h0M2 40h0M37 52h0M31 47h0M26 11h0M40 4h0M28 52h0M18 17h0M41 4h0M55 5h0M-1 5h0M52 38h0M55 49h0M-1 49h0M48 48h0M43 2h0M24 30h0M12 31h0M39 50h0M43 49h0M19 13h0M39 34h0M48 9h0M35 55h0M35 -1h0M12 7h0M23 20h0M8 51h0M52 39h0M50 55h0M50 -1h0M11 49h0M43 52h0M7 55h0M7 -1h0M6 11h0M6 51h0M4 44h0M51 46h0M34 25h0M52 31h0M42 29h0M43 47h0M2 33h0M43 53h0M50 36h0M50 54h0M14 55h0M14 -1h0M43 54h0M47 54h0M55 22h0M-1 22h0M11 47h0M45 32h0M44 45h0M30 35h0M34 40h0M51 55h0M51 -1h0M1 41h0M57 41h0M4 28h0" stroke="#7d6dcb" stroke-width="2" stroke-linecap="round" stroke-opacity="0.7"/><path d="M3 15h0M3 13h0M1 15h0M57 15h0M47 41h0M48 43h0M49 41h0M48 18h0M47 17h0M47 18h0M42 32h0M41 33h0M43 33h0M1 36h0M57 36h0M0 35h0M56 35h0M-1 37h0M55 37h0M1 43h0M57 43h0M0 44h0M56 44h0M1 44h0M57 44h0M49 3h0M51 2h0M49 4h0M47 2h0M47 58h0M48 3h0M48 2h0M48 58h0M47 30h0M47 29h0M47 32h0M27 54h0M27 -2h0M27 53h0M28 53h0M18 42h0M19 41h0M18 43h0M55 3h0M-1 3h0M54 2h0M54 58h0M-2 2h0M-2 58h0M54 3h0M-2 3h0M38 41h0M38 42h0M37 39h0M56 53h0M0 53h0M55 54h0M55 -2h0M-1 54h0M-1 -2h0M55 52h0M-1 52h0M13 2h0M13 58h0M14 3h0M11 1h0M11 57h0M6 46h0M6 45h0M7 45h0M11 44h0M12 45h0M11 46h0M5 53h0M4 52h0M4 51h0M41 48h0M42 49h0M41 46h0M36 50h0M34 49h0M37 51h0M16 26h0M17 25h0M17 26h0M52 47h0M52 45h0M51 46h0" stroke="#7361c7" stroke-width="3.4" stroke-linecap="round" stroke-opacity="0.8"/><path d="M2 20h0M58 20h0M0 21h0M56 21h0M4 21h0M0 48h0M56 48h0M2 47h0M58 47h0M2 48h0M58 48h0M18 38h0M19 40h0M20 40h0M4 52h0M2 52h0M58 52h0M3 53h0M1 53h0M57 53h0M0 51h0M56 51h0M0 54h0M0 -2h0M56 54h0M56 -2h0M40 30h0M41 28h0M40 28h0M16 40h0M14 41h0M18 41h0M52 48h0M54 47h0M-2 47h0M52 50h0M23 11h0M23 13h0M23 9h0M4 48h0M2 47h0M58 47h0M6 48h0M25 20h0M23 21h0M23 20h0M31 1h0M31 57h0M32 2h0M32 58h0M30 -1h0M30 55h0M56 37h0M0 37h0M56 39h0M0 39h0M56 35h0M0 35h0" stroke="#6450bd" stroke-width="4.3" stroke-linecap="round" stroke-opacity="0.8"/></pattern>
<pattern id="p43" patternUnits="userSpaceOnUse" width="56" height="56"><path d="M50 10h0M48 17h0M27 41h0M38 53h0M21 34h0M25 34h0M3 27h0M22 23h0M2 36h0M44 1h0M44 57h0M1 24h0M41 36h0M23 48h0M19 48h0M34 1h0M34 57h0M52 2h0M47 2h0M48 23h0M1 20h0M29 54h0M38 14h0M36 32h0M55 18h0M-1 18h0M3 25h0M25 25h0M50 9h0M53 40h0M51 50h0M34 52h0M41 7h0M0 15h0M56 15h0M34 29h0M45 20h0M1 43h0M41 47h0M47 29h0M18 29h0M6 25h0M49 41h0M16 38h0M55 46h0M52 33h0M26 45h0M14 32h0M7 34h0M53 42h0M8 40h0M38 55h0M38 -1h0M13 51h0M13 21h0M44 0h0M44 56h0M2 32h0M14 51h0M13 3h0M52 33h0M15 20h0M47 8h0M8 37h0M2 31h0M36 21h0M4 23h0M51 16h0M28 5h0M19 32h0M7 4h0M36 52h0M19 12h0M7 46h0M53 41h0M42 48h0M42 56h0M42 0h0M5 46h0M51 30h0M14 18h0M46 50h0M7 38h0M7 40h0M13 22h0M4 19h0M15 32h0" stroke="#a093d6" stroke-width="1.6" stroke-linecap="round" stroke-opacity="0.5"/><path d="M54 37h0M41 31h0M14 40h0M1 3h0M57 3h0M25 9h0M53 14h0M8 52h0M41 21h0M10 42h0M45 15h0M55 46h0M-1 46h0M33 44h0M52 31h0M5 23h0M40 23h0M28 43h0M49 11h0M53 28h0M14 46h0M29 54h0M45 40h0M20 14h0M21 33h0M32 2h0M6 49h0M46 31h0M26 39h0M51 53h0M29 3h0M13 20h0M14 34h0M7 25h0" stroke="#7d6dcb" stroke-width="2" stroke-linecap="round" stroke-opacity="0.7"/><path d="M2 33h0M4 33h0M1 33h0M57 33h0M36 2h0M36 58h0M34 2h0M37 3h0M40 42h0M42 41h0M40 43h0M26 29h0M25 31h0M27 29h0M45 11h0M46 12h0M44 10h0M38 26h0M36 26h0M39 25h0M50 47h0M50 48h0M52 47h0M54 49h0M52 48h0M55 49h0M-1 49h0M0 38h0M56 38h0M1 40h0M57 40h0M-1 39h0M55 39h0M24 50h0M24 49h0M25 51h0M34 21h0M35 22h0M35 20h0M10 45h0M9 44h0M10 44h0" stroke="#7361c7" stroke-width="3.4" stroke-linecap="round" stroke-opacity="0.8"/><path d="M28 13h0M28 15h0M28 15h0M6 28h0M7 29h0M5 25h0M6 39h0M8 40h0M8 40h0M10 56h0M10 0h0M11 58h0M11 2h0M9 55h0M9 -1h0M23 20h0M25 18h0M24 18h0M43 8h0M45 8h0M42 6h0" stroke="#6450bd" stroke-width="4.6" stroke-linecap="round" stroke-opacity="0.8"/></pattern>
<pattern id="p44" patternUnits="userSpaceOnUse" width="56" height="56"><path d="M51 43h0M22 2h0M14 39h0M16 11h0M16 39h0M40 34h0M34 17h0M2 39h0M17 18h0M29 51h0M56 30h0M0 30h0M47 3h0M30 47h0M19 18h0M21 50h0M32 27h0M51 42h0M20 54h0M16 24h0M4 5h0M26 42h0M12 33h0M3 43h0M18 43h0M9 51h0M52 28h0M46 3h0M20 13h0M10 29h0M51 23h0M18 2h0M48 46h0M11 16h0M21 30h0M30 41h0" stroke="#a093d6" stroke-width="1.6" stroke-linecap="round" stroke-opacity="0.5"/><path d="M2 34h0M39 17h0M14 37h0M16 2h0M22 46h0M48 39h0M7 43h0M12 30h0M41 27h0M25 49h0M48 38h0M5 38h0M26 26h0M24 6h0" stroke="#7d6dcb" stroke-width="2" stroke-linecap="round" stroke-opacity="0.7"/><path d="M56 3h0M0 3h0M54 4h0M-2 4h0M55 2h0M55 58h0M-1 2h0M-1 58h0M29 37h0M30 37h0M29 35h0M31 48h0M30 48h0M32 47h0M11 2h0M12 3h0M13 2h0M19 23h0M20 24h0M18 24h0" stroke="#7361c7" stroke-width="3.4" stroke-linecap="round" stroke-opacity="0.8"/><path d="M11 36h0M11 38h0M13 37h0M13 0h0M13 56h0M13 -2h0M13 54h0M15 2h0M15 58h0" stroke="#6450bd" stroke-width="4.6" stroke-linecap="round" stroke-opacity="0.8"/></pattern>
<pattern id="p45" patternUnits="userSpaceOnUse" width="56" height="56"><path d="M14 43h0M0 17h0M56 17h0M7 24h0M32 10h0M33 30h0M4 21h0M7 50h0M22 29h0M1 23h0M57 23h0M37 41h0M15 13h0M54 52h0M31 5h0M15 54h0M19 17h0M6 31h0M25 2h0M8 33h0M14 55h0M14 -1h0M28 22h0M38 24h0M1 18h0M57 18h0M53 25h0M33 10h0M51 32h0M28 15h0M45 52h0M22 20h0M2 18h0M8 52h0M44 55h0M44 -1h0M4 32h0M52 13h0M7 2h0M7 22h0M19 22h0M17 44h0M6 43h0M15 12h0M46 24h0M39 53h0M22 18h0M1 13h0M57 13h0M3 10h0M24 5h0M18 21h0M35 29h0M54 40h0M8 41h0M56 6h0M0 6h0M51 1h0M51 57h0M26 42h0M19 7h0M54 20h0M16 23h0M50 15h0M47 18h0M55 47h0M19 7h0M8 8h0M15 34h0M2 11h0M6 42h0M18 34h0M56 42h0M0 42h0M18 18h0M40 54h0M9 9h0M20 6h0M14 1h0M14 57h0M48 50h0M16 0h0M16 56h0M11 53h0M39 5h0M54 6h0M10 20h0M13 1h0M13 57h0M0 32h0M56 32h0M19 6h0M6 9h0M42 36h0M48 54h0M49 22h0M5 0h0M5 56h0M47 55h0M47 -1h0M52 38h0M46 17h0M43 15h0M53 48h0M11 45h0M7 21h0M6 19h0M19 35h0M38 54h0M22 34h0M18 1h0M18 57h0M10 51h0M6 38h0M46 13h0M53 9h0M6 17h0M9 2h0M41 54h0M34 20h0M50 7h0M12 20h0M0 2h0M56 2h0M11 26h0M44 31h0M44 16h0M9 3h0M18 20h0M56 1h0M56 57h0M0 1h0M0 57h0M45 20h0M23 22h0M23 3h0M25 24h0M19 1h0M19 57h0M27 27h0M46 3h0M29 4h0M22 26h0M2 13h0M51 51h0M40 47h0M38 42h0M13 39h0M50 8h0M51 25h0M11 33h0M11 21h0M56 6h0M0 6h0M5 13h0M27 18h0M48 2h0M13 11h0M8 19h0M45 49h0M3 6h0M14 9h0M46 13h0M14 9h0M28 23h0M4 52h0M4 34h0M27 4h0M8 38h0M0 14h0M56 14h0M21 46h0M17 12h0M52 5h0M9 56h0M9 0h0M56 10h0M0 10h0M17 21h0M46 23h0M35 30h0M45 3h0M28 31h0M24 51h0M9 21h0M20 10h0M7 50h0M13 3h0M7 8h0M4 25h0M3 14h0M0 10h0M56 10h0M41 0h0M41 56h0M36 8h0M41 30h0M33 10h0M25 43h0M47 25h0M46 45h0M51 6h0M8 8h0M8 18h0M14 39h0M14 6h0M48 18h0M10 54h0M20 55h0M21 20h0M56 20h0M0 20h0M8 21h0M16 43h0M13 15h0M16 13h0M7 22h0M8 41h0M10 4h0M7 10h0M28 44h0M23 28h0M14 21h0M49 48h0M11 5h0" stroke="#a093d6" stroke-width="1.6" stroke-linecap="round" stroke-opacity="0.5"/><path d="M5 12h0M17 45h0M47 7h0M8 18h0M13 48h0M39 6h0M38 9h0M51 1h0M51 57h0M32 41h0M23 3h0M1 4h0M57 4h0M55 21h0M-1 21h0M44 54h0M19 28h0M21 0h0M21 56h0M13 55h0M13 -1h0M10 19h0M18 37h0M52 52h0M54 40h0M32 20h0M19 22h0M23 53h0M44 15h0M6 9h0M52 47h0M43 18h0M15 38h0M15 19h0M39 25h0M5 51h0M11 20h0M13 11h0M5 53h0M44 3h0M26 12h0M16 5h0M37 12h0M42 15h0M19 43h0M4 15h0M36 8h0M48 53h0M27 43h0M48 54h0M0 37h0M56 37h0M7 5h0M44 42h0M54 24h0M47 47h0M51 16h0M10 7h0M37 51h0M4 44h0M6 1h0M6 57h0M17 2h0M35 7h0M13 17h0M13 30h0M2 5h0M2 12h0M48 9h0M4 1h0M4 57h0M14 9h0M10 53h0M44 15h0M52 14h0M18 20h0M9 4h0M17 40h0M7 44h0M14 24h0M16 48h0M43 47h0M42 38h0M9 25h0M45 53h0M14 12h0M34 35h0" stroke="#7d6dcb" stroke-width="2" stroke-linecap="round" stroke-opacity="0.7"/><path d="M7 21h0M8 21h0M6 22h0M29 9h0M30 9h0M29 10h0M50 30h0M50 28h0M49 31h0M50 24h0M49 26h0M49 23h0M47 15h0M46 15h0M47 17h0M21 4h0M22 2h0M21 5h0M7 22h0M7 24h0M7 24h0M43 56h0M43 0h0M43 57h0M43 1h0M42 57h0M42 1h0M5 5h0M5 7h0M5 4h0M48 54h0M48 -2h0M50 54h0M50 -2h0M49 53h0M46 54h0M44 54h0M44 -2h0M47 53h0M49 6h0M50 7h0M49 4h0M51 29h0M53 30h0M50 29h0M42 49h0M42 50h0M43 48h0M25 52h0M24 51h0M26 53h0M21 17h0M20 16h0M20 16h0M45 53h0M47 54h0M44 54h0M24 9h0M25 11h0M23 8h0M15 23h0M16 25h0M13 23h0M51 15h0M50 14h0M52 16h0M1 35h0M57 35h0M-1 34h0M55 34h0M-1 36h0M55 36h0M14 4h0M14 2h0M14 58h0M13 3h0M20 53h0M18 54h0M18 -2h0M19 52h0M8 41h0M6 41h0M9 42h0M5 18h0M7 18h0M6 16h0M2 15h0M58 15h0M3 16h0M2 17h0M58 17h0M20 12h0M19 13h0M22 12h0M30 36h0M29 36h0M29 36h0M38 22h0M38 24h0M39 21h0" stroke="#7361c7" stroke-width="3.4" stroke-linecap="round" stroke-opacity="0.8"/><path d="M26 22h0M24 21h0M25 24h0M53 13h0M52 15h0M50 12h0M6 29h0M4 29h0M6 31h0M17 6h0M18 5h0M18 8h0M24 3h0M25 1h0M25 57h0M24 5h0M49 14h0M49 16h0M51 13h0M11 47h0M10 49h0M9 47h0M40 20h0M42 18h0M41 18h0M25 11h0M23 9h0M23 11h0M24 26h0M25 24h0M23 24h0M1 26h0M57 26h0M1 29h0M57 29h0M1 24h0M57 24h0M26 34h0M27 36h0M24 35h0M22 19h0M21 17h0M23 21h0M15 0h0M15 56h0M16 -1h0M16 55h0M13 1h0M13 57h0M11 5h0M11 7h0M11 7h0M2 30h0M58 30h0M0 32h0M56 32h0M0 32h0M56 32h0" stroke="#6450bd" stroke-width="4.6" stroke-linecap="round" stroke-opacity="0.8"/></pattern>
<pattern id="p46" patternUnits="userSpaceOnUse" width="56" height="56"><path d="M28 40h0M27 49h0M30 10h0M50 4h0M12 21h0M34 17h0M4 28h0M18 18h0M11 16h0M38 28h0M42 25h0M28 26h0M17 22h0M7 28h0M21 40h0M11 2h0M42 50h0M32 42h0M12 17h0M44 41h0M36 45h0M50 34h0M30 29h0M34 41h0M28 44h0M13 23h0M38 17h0M45 44h0M5 14h0M33 43h0M40 36h0M53 48h0M23 35h0M8 33h0M4 46h0M9 12h0M4 26h0M26 33h0M51 16h0M24 53h0M54 2h0M32 38h0M35 27h0M2 27h0M55 41h0M-1 41h0M55 50h0M-1 50h0M15 48h0M34 46h0M20 4h0M39 52h0M40 54h0M32 26h0M34 24h0M41 1h0M41 57h0M38 3h0M35 44h0M33 39h0M33 30h0M24 41h0M22 47h0M39 27h0M24 23h0M13 16h0M18 46h0M34 33h0M30 24h0M33 7h0M8 12h0M35 46h0M53 43h0M30 39h0M29 35h0M21 33h0M6 5h0M43 48h0M9 3h0M20 49h0M30 48h0M5 20h0M36 23h0M23 50h0M36 22h0M48 55h0M48 -1h0M20 14h0M32 48h0M15 28h0M31 14h0M54 46h0M7 39h0M30 19h0M39 34h0M40 36h0M31 26h0M12 18h0M13 10h0M15 23h0M48 3h0M25 39h0M51 35h0M43 29h0M39 28h0M5 49h0M22 21h0M1 10h0M57 10h0M14 23h0M40 15h0M33 50h0M29 44h0M45 37h0M45 13h0M41 52h0M52 49h0M40 15h0M32 33h0M20 26h0M28 28h0M1 44h0M57 44h0M51 3h0M55 37h0M31 28h0M40 34h0M8 23h0M22 0h0M22 56h0M43 42h0M9 14h0M54 24h0M2 35h0M24 26h0M47 6h0M21 22h0M45 49h0M5 33h0M15 32h0M20 3h0M26 36h0M12 21h0M33 29h0M7 17h0M27 41h0M19 33h0M31 47h0M50 31h0M3 1h0M3 57h0M27 40h0M53 5h0M28 23h0M24 23h0M14 44h0M20 6h0M14 4h0M30 18h0M15 46h0M19 38h0M20 48h0M35 29h0" stroke="#a093d6" stroke-width="1.6" stroke-linecap="round" stroke-opacity="0.5"/><path d="M44 49h0M36 30h0M27 44h0M28 53h0M40 37h0M16 1h0M16 57h0M26 53h0M45 26h0M38 19h0M35 46h0M54 56h0M54 0h0M28 11h0M42 15h0M37 5h0M28 7h0M22 38h0M48 50h0M38 31h0M10 1h0M10 57h0M1 32h0M57 32h0M28 4h0M28 46h0M8 2h0M15 55h0M15 -1h0M41 25h0M5 5h0M20 21h0M11 6h0M49 29h0M15 40h0M19 14h0M55 0h0M55 56h0M-1 0h0M-1 56h0M48 30h0M34 38h0M19 8h0M10 3h0M5 6h0M45 45h0M5 6h0M19 49h0M42 48h0M17 23h0M55 22h0M-1 22h0M16 50h0M40 31h0M20 42h0M22 21h0M36 27h0M14 38h0M25 15h0M43 2h0M21 31h0M36 34h0M20 1h0M20 57h0M13 10h0M8 52h0M35 29h0M37 52h0M32 28h0M11 8h0M23 36h0M1 16h0M57 16h0" stroke="#7d6dcb" stroke-width="2" stroke-linecap="round" stroke-opacity="0.7"/><path d="M26 45h0M26 46h0M26 46h0M37 49h0M35 48h0M38 47h0M54 1h0M54 57h0M-2 1h0M-2 57h0M53 1h0M53 57h0M56 0h0M56 56h0M0 0h0M0 56h0M21 38h0M20 38h0M20 39h0M46 52h0M45 53h0M48 51h0M36 41h0M36 43h0M35 42h0M39 28h0M39 30h0M40 29h0M25 30h0M26 29h0M24 30h0M19 9h0M19 7h0M18 10h0M19 43h0M18 44h0M21 42h0M22 50h0M24 51h0M22 49h0M2 44h0M58 44h0M1 43h0M57 43h0M3 44h0M48 45h0M50 44h0M47 44h0M43 22h0M43 21h0M43 21h0M4 19h0M4 17h0M5 18h0M39 27h0M39 28h0M40 26h0M26 27h0M25 28h0M24 27h0M1 16h0M57 16h0M1 18h0M57 18h0M-1 16h0M55 16h0M30 40h0M31 39h0M31 41h0M48 8h0M47 6h0M47 6h0M54 7h0M54 6h0M-2 6h0M54 6h0M-2 6h0M40 39h0M42 39h0M40 38h0M18 14h0M17 13h0M18 16h0" stroke="#7361c7" stroke-width="3.4" stroke-linecap="round" stroke-opacity="0.8"/><path d="M25 42h0M27 41h0M27 41h0M36 25h0M37 23h0M37 23h0M56 0h0M56 56h0M0 0h0M0 56h0M54 1h0M54 57h0M-2 1h0M-2 57h0M54 0h0M54 56h0M-2 0h0M-2 56h0M40 41h0M39 39h0M40 39h0M48 13h0M49 15h0M48 11h0M54 18h0M-2 18h0M53 16h0M54 16h0M-2 16h0M4 21h0M2 22h0M58 22h0M2 21h0M58 21h0M13 42h0M12 40h0M11 42h0M46 3h0M46 5h0M44 3h0M22 33h0M20 32h0M23 34h0M24 8h0M26 7h0M22 8h0M33 32h0M33 30h0M31 32h0M9 7h0M9 5h0M7 7h0M16 22h0M16 23h0M14 22h0" stroke="#6450bd" stroke-width="4.3" stroke-linecap="round" stroke-opacity="0.8"/></pattern>
<pattern id="p47" patternUnits="userSpaceOnUse" width="56" height="56"><path d="M11 15h0M31 19h0M1 40h0M57 40h0M1 5h0M57 5h0M17 55h0M17 -1h0M12 23h0M2 19h0M13 31h0M11 29h0M5 6h0M52 43h0M28 20h0M56 9h0M0 9h0M9 18h0M5 40h0M2 23h0M44 15h0M9 27h0M18 18h0M33 15h0M1 3h0M57 3h0M52 34h0M20 3h0M5 34h0M17 43h0M41 37h0M15 16h0M42 41h0M13 8h0M44 49h0M48 14h0M46 43h0M50 19h0M4 8h0M45 16h0M9 3h0M52 36h0M6 40h0M3 44h0M17 43h0M54 22h0M52 31h0M1 54h0M49 46h0M26 56h0M26 0h0M45 54h0M29 14h0M16 40h0M22 52h0M19 54h0M25 36h0M21 50h0M50 49h0M55 29h0M-1 29h0M9 11h0M56 16h0M0 16h0M46 51h0M37 19h0M2 37h0M6 19h0M54 16h0M1 21h0M57 21h0" stroke="#a093d6" stroke-width="1.6" stroke-linecap="round" stroke-opacity="0.5"/><path d="M24 56h0M24 0h0M51 38h0M35 50h0M11 38h0M48 15h0M1 8h0M57 8h0M2 23h0M56 32h0M0 32h0M28 35h0M49 17h0M29 1h0M29 57h0M31 44h0M7 46h0M51 3h0M46 36h0M10 38h0M8 32h0M0 8h0M56 8h0M4 27h0M48 34h0M10 11h0M41 2h0M30 4h0M15 23h0M24 34h0" stroke="#7d6dcb" stroke-width="2" stroke-linecap="round" stroke-opacity="0.7"/><path d="M10 38h0M11 38h0M8 39h0M3 9h0M2 9h0M58 9h0M5 9h0M36 18h0M35 20h0M37 17h0M8 22h0M7 21h0M7 21h0M4 52h0M5 51h0M3 52h0M11 26h0M12 26h0M9 27h0M30 33h0M31 34h0M28 34h0M54 17h0M54 19h0M-2 19h0M54 16h0M-2 16h0M12 17h0M11 16h0M11 16h0" stroke="#7361c7" stroke-width="3.4" stroke-linecap="round" stroke-opacity="0.8"/><path d="M11 21h0M13 20h0M9 21h0M13 44h0M12 42h0M11 45h0M32 46h0M30 47h0M31 44h0M51 3h0M53 5h0M53 3h0M-3 3h0M2 7h0M58 7h0M4 8h0M4 6h0" stroke="#6450bd" stroke-width="4.6" stroke-linecap="round" stroke-opacity="0.8"/></pattern>
<pattern id="p48" patternUnits="userSpaceOnUse" width="56" height="56"><path d="M45 1h0M45 57h0M46 4h0M20 50h0M27 36h0M48 13h0M49 22h0M46 17h0M47 5h0M2 16h0M0 10h0M56 10h0M55 10h0M-1 10h0M35 8h0M51 50h0M35 14h0M38 25h0M46 39h0M36 52h0M41 8h0M19 10h0M12 51h0M49 14h0M51 0h0M51 56h0M2 6h0M7 8h0M4 47h0M5 44h0M27 2h0M2 9h0M55 21h0M-1 21h0M14 39h0M43 17h0M41 29h0M42 4h0M45 36h0M43 12h0M14 25h0M3 48h0M16 2h0M26 54h0M46 46h0M29 26h0M31 22h0M23 27h0M42 11h0M38 13h0M23 15h0M40 0h0M40 56h0M30 41h0M33 9h0M7 51h0M41 7h0M40 55h0M40 -1h0M3 46h0M25 18h0M2 0h0M2 56h0M55 52h0M-1 52h0M49 55h0M49 -1h0M32 8h0M51 1h0M51 57h0M31 21h0M50 33h0M37 21h0M3 2h0M9 3h0M47 40h0M37 37h0M49 20h0" stroke="#a093d6" stroke-width="1.6" stroke-linecap="round" stroke-opacity="0.5"/><path d="M40 25h0M24 3h0M16 1h0M16 57h0M3 22h0M3 18h0M48 51h0M5 33h0M47 8h0M39 50h0M27 38h0M22 45h0M32 7h0M25 51h0M47 54h0M44 18h0M0 30h0M56 30h0M33 41h0M40 18h0M41 52h0M32 2h0M49 36h0M33 49h0M34 32h0M44 5h0M44 56h0M44 0h0M55 40h0M-1 40h0M45 28h0" stroke="#7d6dcb" stroke-width="2" stroke-linecap="round" stroke-opacity="0.7"/><path d="M3 2h0M3 58h0M3 0h0M3 56h0M2 2h0M2 58h0M58 2h0M58 58h0M39 33h0M39 32h0M40 33h0M45 42h0M44 40h0M46 43h0M36 31h0M36 32h0M37 32h0M53 2h0M53 58h0M53 0h0M53 56h0M53 0h0M53 56h0M43 38h0M44 38h0M44 38h0M46 44h0M48 44h0M47 45h0M18 42h0M17 41h0M17 42h0M13 51h0M15 51h0M12 50h0M22 51h0M22 50h0M21 50h0" stroke="#7361c7" stroke-width="3.4" stroke-linecap="round" stroke-opacity="0.8"/><path d="M41 23h0M40 25h0M41 21h0M45 41h0M45 43h0M47 41h0M32 25h0M31 27h0M30 25h0M9 13h0M8 14h0M10 15h0M24 34h0M25 33h0M23 36h0" stroke="#6450bd" stroke-width="4.6" stroke-linecap="round" stroke-opacity="0.8"/></pattern></defs>
<text x="0" y="19.5">A</text>
<text x="411.5" y="19" text-anchor="middle" textLength="63.8" lengthAdjust="spacingAndGlyphs">MCF-7</text>
<line x1="15" y1="30.5" x2="879" y2="30.5" stroke="#000" stroke-width="1.6"/>
<text x="892" y="19.5">B</text>
<text x="1325.7" y="19" text-anchor="middle" textLength="127" lengthAdjust="spacingAndGlyphs">MDA-MB-231</text>
<line x1="917" y1="30.5" x2="1780" y2="30.5" stroke="#000" stroke-width="1.6"/>
<line x1="91.4" y1="212.4" x2="419.5" y2="212.4" stroke="#000" stroke-width="1.7" stroke-dasharray="1.9 2.1"/>
<path d="M91.4 66.5V285.4H419.5" fill="none" stroke="#000" stroke-width="1.8"/>
<line x1="83.4" y1="285.4" x2="91.4" y2="285.4" stroke="#000" stroke-width="1.8"/>
<text x="80.4" y="293.7" text-anchor="end">0</text>
<line x1="83.4" y1="212.4" x2="91.4" y2="212.4" stroke="#000" stroke-width="1.8"/>
<text x="80.4" y="220.7" text-anchor="end">50</text>
<line x1="83.4" y1="139.5" x2="91.4" y2="139.5" stroke="#000" stroke-width="1.8"/>
<text x="80.4" y="147.8" text-anchor="end">100</text>
<line x1="83.4" y1="66.5" x2="91.4" y2="66.5" stroke="#000" stroke-width="1.8"/>
<text x="80.4" y="74.8" text-anchor="end">150</text>
<line x1="91.4" y1="285.4" x2="91.4" y2="293.4" stroke="#000" stroke-width="1.8"/>
<text x="91.4" y="315.9" text-anchor="middle">-6</text>
<line x1="164.3" y1="285.4" x2="164.3" y2="293.4" stroke="#000" stroke-width="1.8"/>
<text x="164.3" y="315.9" text-anchor="middle">-4</text>
<line x1="237.2" y1="285.4" x2="237.2" y2="293.4" stroke="#000" stroke-width="1.8"/>
<text x="237.2" y="315.9" text-anchor="middle">-2</text>
<line x1="310.1" y1="285.4" x2="310.1" y2="293.4" stroke="#000" stroke-width="1.8"/>
<text x="310.1" y="315.9" text-anchor="middle">0</text>
<line x1="383" y1="285.4" x2="383" y2="293.4" stroke="#000" stroke-width="1.8"/>
<text x="383" y="315.9" text-anchor="middle">2</text>
<text x="32.3" y="179.4" text-anchor="middle" transform="rotate(-90 32.3 179.4)">Relative Cell Viability (%)</text>
<text x="148.2" y="343.6">Log<tspan dy="8.5">10</tspan><tspan dy="-8.5">[Paclitaxel] (μM)</tspan></text>
<polyline points="127.9,160.5 135.3,161.7 142.8,163 150.3,164.5 157.8,166 165.2,167.6 172.7,169.4 180.2,171.2 187.7,173.2 195.1,175.2 202.6,177.4 210.1,179.7 217.6,182.1 225.1,184.6 232.5,187.2 240,189.8 247.5,192.6 255,195.5 262.4,198.4 269.9,201.4 277.4,204.4 284.9,207.5 292.3,210.6 299.8,213.7 307.3,216.8 314.8,219.9 322.2,223 329.7,226.1 337.2,229 344.7,232 352.2,234.8 359.6,237.6 367.1,240.3 374.6,242.9 382.1,245.4 389.5,247.8 397,250 404.5,252.2 412,254.3 419.5,256.2" fill="none" stroke="#cb8a60" stroke-width="1.3"/>
<polyline points="127.9,178.7 135.3,180.6 142.8,182.7 150.3,184.9 157.8,187.3 165.2,189.8 172.7,192.4 180.2,195.3 187.7,198.2 195.1,201.3 202.6,204.5 210.1,207.8 217.6,211.1 225.1,214.5 232.5,218 240,221.5 247.5,224.9 255,228.4 262.4,231.8 269.9,235.1 277.4,238.3 284.9,241.4 292.3,244.4 299.8,247.2 307.3,249.9 314.8,252.5 322.2,254.9 329.7,257.1 337.2,259.2 344.7,261.2 352.2,263 359.6,264.7 367.1,266.2 374.6,267.6 382.1,268.9 389.5,270 397,271.1 404.5,272 412,272.9 419.5,273.7" fill="none" stroke="#6a93ab" stroke-width="1.3"/>
<path d="M127.9 153.1L133.2 158.4L127.9 163.7L122.6 158.4Z" fill="#cb8a60"/>
<path d="M164.3 170.9L169.6 176.2L164.3 181.5L159 176.2Z" fill="#cb8a60"/>
<path d="M200.8 186.4L206.1 191.7L200.8 197L195.4 191.7Z" fill="#cb8a60"/>
<path d="M237.2 190.6L242.5 195.9L237.2 201.2L231.9 195.9Z" fill="#cb8a60"/>
<path d="M273.6 192.2L278.9 197.5L273.6 202.8L268.3 197.5Z" fill="#cb8a60"/>
<path d="M310.1 198.4L315.4 203.7L310.1 209L304.8 203.7Z" fill="#cb8a60"/>
<path d="M346.6 200.3L351.9 205.6L346.6 210.9L341.3 205.6Z" fill="#cb8a60"/>
<path d="M383 256.6L388.3 261.9L383 267.2L377.7 261.9Z" fill="#cb8a60"/>
<path d="M419.5 275.4L424.8 280.7L419.5 286L414.2 280.7Z" fill="#cb8a60"/>
<circle cx="127.9" cy="172.6" r="4.4" fill="#6a93ab"/>
<circle cx="164.3" cy="197" r="4.4" fill="#6a93ab"/>
<circle cx="200.8" cy="202.8" r="4.4" fill="#6a93ab"/>
<circle cx="237.2" cy="220.9" r="4.4" fill="#6a93ab"/>
<circle cx="273.6" cy="241.9" r="4.4" fill="#6a93ab"/>
<circle cx="310.1" cy="251.1" r="4.4" fill="#6a93ab"/>
<circle cx="346.6" cy="259.9" r="4.4" fill="#6a93ab"/>
<circle cx="383" cy="266" r="4.4" fill="#6a93ab"/>
<circle cx="419.5" cy="269.9" r="4.4" fill="#6a93ab"/>
<line x1="115" y1="67.3" x2="139" y2="67.3" stroke="#6a93ab" stroke-width="1.2"/>
<circle cx="127" cy="67.3" r="4" fill="#6a93ab"/>
<text x="152.4" y="75.1">Vector</text>
<text x="234.1" y="75.1" textLength="145.5" lengthAdjust="spacing">IC50 : 0.003 μM</text>
<line x1="115" y1="91.4" x2="139" y2="91.4" stroke="#cb8a60" stroke-width="1.2"/>
<path d="M127 86.6L131.8 91.4L127 96.2L122.2 91.4Z" fill="#cb8a60"/>
<text x="152.4" y="99.2">CUL4B</text>
<text x="234.1" y="99.2" textLength="145.5" lengthAdjust="spacing">IC50 : 0.374 μM</text>
<line x1="538.4" y1="211.3" x2="869.4" y2="211.3" stroke="#000" stroke-width="1.7" stroke-dasharray="1.9 2.1"/>
<path d="M538.4 64.3V284.8H869.4" fill="none" stroke="#000" stroke-width="1.8"/>
<line x1="530.4" y1="284.8" x2="538.4" y2="284.8" stroke="#000" stroke-width="1.8"/>
<text x="527.4" y="293.1" text-anchor="end">0</text>
<line x1="530.4" y1="211.3" x2="538.4" y2="211.3" stroke="#000" stroke-width="1.8"/>
<text x="527.4" y="219.6" text-anchor="end">50</text>
<line x1="530.4" y1="137.8" x2="538.4" y2="137.8" stroke="#000" stroke-width="1.8"/>
<text x="527.4" y="146.1" text-anchor="end">100</text>
<line x1="530.4" y1="64.3" x2="538.4" y2="64.3" stroke="#000" stroke-width="1.8"/>
<text x="527.4" y="72.6" text-anchor="end">150</text>
<line x1="538.4" y1="284.8" x2="538.4" y2="292.8" stroke="#000" stroke-width="1.8"/>
<text x="538.4" y="315.3" text-anchor="middle">-6</text>
<line x1="612" y1="284.8" x2="612" y2="292.8" stroke="#000" stroke-width="1.8"/>
<text x="612" y="315.3" text-anchor="middle">-4</text>
<line x1="685.5" y1="284.8" x2="685.5" y2="292.8" stroke="#000" stroke-width="1.8"/>
<text x="685.5" y="315.3" text-anchor="middle">-2</text>
<line x1="759.1" y1="284.8" x2="759.1" y2="292.8" stroke="#000" stroke-width="1.8"/>
<text x="759.1" y="315.3" text-anchor="middle">0</text>
<line x1="832.6" y1="284.8" x2="832.6" y2="292.8" stroke="#000" stroke-width="1.8"/>
<text x="832.6" y="315.3" text-anchor="middle">2</text>
<text x="475.5" y="178" text-anchor="middle" transform="rotate(-90 475.5 178)">Relative Cell Viability (%)</text>
<text x="600.7" y="341.2">Log<tspan dy="8.5">10</tspan><tspan dy="-8.5">[Docetaxel] (μM)</tspan></text>
<polyline points="575.2,169.1 582.7,170.6 590.3,172.1 597.8,173.6 605.4,175.1 612.9,176.7 620.4,178.4 628,180.1 635.5,181.8 643.1,183.6 650.6,185.4 658.2,187.2 665.7,189.1 673.3,191 680.8,192.9 688.3,194.9 695.9,196.9 703.4,198.9 711,201 718.5,203 726.1,205.1 733.6,207.3 741.2,209.4 748.7,211.6 756.3,213.7 763.8,215.9 771.3,218.1 778.9,220.3 786.4,222.5 794,224.7 801.5,227 809.1,229.2 816.6,231.4 824.2,233.6 831.7,235.8 839.2,237.9 846.8,240.1 854.3,242.2 861.9,244.4 869.4,246.5" fill="none" stroke="#cb8a60" stroke-width="1.3"/>
<polyline points="575.2,167.6 582.7,169.5 590.3,171.4 597.8,173.4 605.4,175.5 612.9,177.6 620.4,179.8 628,182.1 635.5,184.4 643.1,186.7 650.6,189.1 658.2,191.5 665.7,194 673.3,196.5 680.8,199.1 688.3,201.7 695.9,204.3 703.4,206.9 711,209.5 718.5,212.1 726.1,214.7 733.6,217.3 741.2,219.9 748.7,222.5 756.3,225 763.8,227.5 771.3,230 778.9,232.5 786.4,234.9 794,237.2 801.5,239.5 809.1,241.7 816.6,243.9 824.2,246 831.7,248.1 839.2,250.1 846.8,252 854.3,253.9 861.9,255.7 869.4,257.4" fill="none" stroke="#6a93ab" stroke-width="1.3"/>
<path d="M575.2 150.4L580.5 155.7L575.2 161L569.9 155.7Z" fill="#cb8a60"/>
<path d="M612 179.8L617.3 185.1L612 190.4L606.7 185.1Z" fill="#cb8a60"/>
<path d="M648.7 191.4L654 196.7L648.7 202L643.4 196.7Z" fill="#cb8a60"/>
<path d="M685.5 197.8L690.8 203.1L685.5 208.4L680.2 203.1Z" fill="#cb8a60"/>
<path d="M722.3 202.5L727.6 207.8L722.3 213.1L717 207.8Z" fill="#cb8a60"/>
<path d="M759.1 201.1L764.4 206.4L759.1 211.7L753.8 206.4Z" fill="#cb8a60"/>
<path d="M795.9 207.5L801.2 212.8L795.9 218.1L790.6 212.8Z" fill="#cb8a60"/>
<path d="M832.6 219.7L837.9 225L832.6 230.3L827.3 225Z" fill="#cb8a60"/>
<path d="M869.4 268.5L874.7 273.8L869.4 279.1L864.1 273.8Z" fill="#cb8a60"/>
<circle cx="575.2" cy="164.3" r="4.4" fill="#6a93ab"/>
<circle cx="612" cy="188.4" r="4.4" fill="#6a93ab"/>
<circle cx="648.7" cy="202.2" r="4.4" fill="#6a93ab"/>
<circle cx="685.5" cy="202.2" r="4.4" fill="#6a93ab"/>
<circle cx="722.3" cy="205" r="4.4" fill="#6a93ab"/>
<circle cx="759.1" cy="206.4" r="4.4" fill="#6a93ab"/>
<circle cx="795.9" cy="211.2" r="4.4" fill="#6a93ab"/>
<circle cx="832.6" cy="273.8" r="4.4" fill="#6a93ab"/>
<circle cx="869.4" cy="281.7" r="4.4" fill="#6a93ab"/>
<line x1="562.4" y1="66.5" x2="586.4" y2="66.5" stroke="#6a93ab" stroke-width="1.2"/>
<circle cx="574.4" cy="66.5" r="4" fill="#6a93ab"/>
<text x="599.3" y="74.3">Vector</text>
<text x="681" y="74.3" textLength="145.5" lengthAdjust="spacing">IC50 : 0.066 μM</text>
<line x1="562.4" y1="90" x2="586.4" y2="90" stroke="#cb8a60" stroke-width="1.2"/>
<path d="M574.4 85.2L579.2 90L574.4 94.8L569.6 90Z" fill="#cb8a60"/>
<text x="599.3" y="97.8">CUL4B</text>
<text x="681" y="97.8" textLength="145.5" lengthAdjust="spacing">IC50 : 0.286 μM</text>
<line x1="986.7" y1="212.2" x2="1311.6" y2="212.2" stroke="#000" stroke-width="1.7" stroke-dasharray="1.9 2.1"/>
<path d="M986.7 67V284.8H1311.6" fill="none" stroke="#000" stroke-width="1.8"/>
<line x1="978.7" y1="284.8" x2="986.7" y2="284.8" stroke="#000" stroke-width="1.8"/>
<text x="975.7" y="293.1" text-anchor="end">0</text>
<line x1="978.7" y1="212.2" x2="986.7" y2="212.2" stroke="#000" stroke-width="1.8"/>
<text x="975.7" y="220.5" text-anchor="end">50</text>
<line x1="978.7" y1="139.6" x2="986.7" y2="139.6" stroke="#000" stroke-width="1.8"/>
<text x="975.7" y="147.9" text-anchor="end">100</text>
<line x1="978.7" y1="67" x2="986.7" y2="67" stroke="#000" stroke-width="1.8"/>
<text x="975.7" y="75.3" text-anchor="end">150</text>
<line x1="986.7" y1="284.8" x2="986.7" y2="292.8" stroke="#000" stroke-width="1.8"/>
<text x="986.7" y="315.3" text-anchor="middle">-6</text>
<line x1="1058.9" y1="284.8" x2="1058.9" y2="292.8" stroke="#000" stroke-width="1.8"/>
<text x="1058.9" y="315.3" text-anchor="middle">-4</text>
<line x1="1131.1" y1="284.8" x2="1131.1" y2="292.8" stroke="#000" stroke-width="1.8"/>
<text x="1131.1" y="315.3" text-anchor="middle">-2</text>
<line x1="1203.3" y1="284.8" x2="1203.3" y2="292.8" stroke="#000" stroke-width="1.8"/>
<text x="1203.3" y="315.3" text-anchor="middle">0</text>
<line x1="1275.5" y1="284.8" x2="1275.5" y2="292.8" stroke="#000" stroke-width="1.8"/>
<text x="1275.5" y="315.3" text-anchor="middle">2</text>
<text x="931" y="174.6" text-anchor="middle" transform="rotate(-90 931 174.6)">Relative Cell Viability (%)</text>
<text x="1045.7" y="342.2">Log<tspan dy="8.5">10</tspan><tspan dy="-8.5">[Paclitaxel] (μM)</tspan></text>
<polyline points="1022.8,148.2 1029.3,148.8 1035.8,149.4 1042.2,150.1 1048.7,150.9 1055.2,151.8 1061.7,152.8 1068.2,153.8 1074.6,155 1081.1,156.3 1087.6,157.6 1094.1,159.1 1100.6,160.8 1107,162.5 1113.5,164.4 1120,166.4 1126.5,168.6 1133,170.8 1139.4,173.3 1145.9,175.8 1152.4,178.5 1158.9,181.2 1165.3,184.1 1171.8,187.1 1178.3,190.1 1184.8,193.2 1191.3,196.3 1197.7,199.4 1204.2,202.5 1210.7,205.6 1217.2,208.6 1223.7,211.6 1230.1,214.5 1236.6,217.3 1243.1,220 1249.6,222.5 1256.1,225 1262.5,227.3 1269,229.5 1275.5,231.5" fill="none" stroke="#cb8a60" stroke-width="1.3"/>
<polyline points="1022.8,143.7 1029.3,144.5 1035.8,145.3 1042.2,146.2 1048.7,147.2 1055.2,148.3 1061.7,149.6 1068.2,151 1074.6,152.5 1081.1,154.2 1087.6,156 1094.1,158 1100.6,160.2 1107,162.6 1113.5,165.1 1120,167.8 1126.5,170.8 1133,173.9 1139.4,177.2 1145.9,180.6 1152.4,184.2 1158.9,188 1165.3,191.9 1171.8,195.8 1178.3,199.8 1184.8,203.9 1191.3,207.9 1197.7,212 1204.2,215.9 1210.7,219.8 1217.2,223.6 1223.7,227.3 1230.1,230.8 1236.6,234.2 1243.1,237.4 1249.6,240.4 1256.1,243.2 1262.5,245.8 1269,248.2 1275.5,250.5" fill="none" stroke="#6a93ab" stroke-width="1.3"/>
<path d="M1022.8 137.3L1028.1 142.6L1022.8 147.9L1017.5 142.6Z" fill="#cb8a60"/>
<path d="M1058.9 139.2L1064.2 144.5L1058.9 149.8L1053.6 144.5Z" fill="#cb8a60"/>
<path d="M1095 140.7L1100.3 146L1095 151.3L1089.7 146Z" fill="#cb8a60"/>
<path d="M1131.1 168.7L1136.4 174L1131.1 179.3L1125.8 174Z" fill="#cb8a60"/>
<path d="M1167.2 196.9L1172.5 202.2L1167.2 207.5L1161.9 202.2Z" fill="#cb8a60"/>
<path d="M1203.3 198.3L1208.6 203.6L1203.3 208.9L1198 203.6Z" fill="#cb8a60"/>
<path d="M1239.4 201.1L1244.7 206.4L1239.4 211.7L1234.1 206.4Z" fill="#cb8a60"/>
<path d="M1275.5 221.3L1280.8 226.6L1275.5 231.9L1270.2 226.6Z" fill="#cb8a60"/>
<circle cx="1022.8" cy="141.8" r="4.4" fill="#6a93ab"/>
<circle cx="1058.9" cy="143.5" r="4.4" fill="#6a93ab"/>
<circle cx="1095" cy="143.5" r="4.4" fill="#6a93ab"/>
<circle cx="1131.1" cy="173.1" r="4.4" fill="#6a93ab"/>
<circle cx="1167.2" cy="209.7" r="4.4" fill="#6a93ab"/>
<circle cx="1203.3" cy="218" r="4.4" fill="#6a93ab"/>
<circle cx="1239.4" cy="222.2" r="4.4" fill="#6a93ab"/>
<circle cx="1275.5" cy="246.6" r="4.4" fill="#6a93ab"/>
<line x1="1004.6" y1="62.3" x2="1028.6" y2="62.3" stroke="#6a93ab" stroke-width="1.2"/>
<circle cx="1016.6" cy="62.3" r="4" fill="#6a93ab"/>
<text x="1042.1" y="70.1">Vector</text>
<text x="1123.8" y="70.1" textLength="145.5" lengthAdjust="spacing">IC50 : 1.067 μM</text>
<line x1="1004.6" y1="85.9" x2="1028.6" y2="85.9" stroke="#cb8a60" stroke-width="1.2"/>
<path d="M1016.6 81.1L1021.4 85.9L1016.6 90.7L1011.8 85.9Z" fill="#cb8a60"/>
<text x="1042.1" y="93.7">CUL4B</text>
<text x="1123.8" y="93.7" textLength="145.5" lengthAdjust="spacing">IC50 : 6.982 μM</text>
<line x1="1415" y1="208.4" x2="1746.2" y2="208.4" stroke="#000" stroke-width="1.7" stroke-dasharray="1.9 2.1"/>
<path d="M1415 61.3V282H1746.2" fill="none" stroke="#000" stroke-width="1.8"/>
<line x1="1407" y1="282" x2="1415" y2="282" stroke="#000" stroke-width="1.8"/>
<text x="1404" y="290.3" text-anchor="end">0</text>
<line x1="1407" y1="208.4" x2="1415" y2="208.4" stroke="#000" stroke-width="1.8"/>
<text x="1404" y="216.7" text-anchor="end">50</text>
<line x1="1407" y1="134.9" x2="1415" y2="134.9" stroke="#000" stroke-width="1.8"/>
<text x="1404" y="143.2" text-anchor="end">100</text>
<line x1="1407" y1="61.3" x2="1415" y2="61.3" stroke="#000" stroke-width="1.8"/>
<text x="1404" y="69.6" text-anchor="end">150</text>
<line x1="1415" y1="282" x2="1415" y2="290" stroke="#000" stroke-width="1.8"/>
<text x="1415" y="312.5" text-anchor="middle">-6</text>
<line x1="1488.6" y1="282" x2="1488.6" y2="290" stroke="#000" stroke-width="1.8"/>
<text x="1488.6" y="312.5" text-anchor="middle">-4</text>
<line x1="1562.2" y1="282" x2="1562.2" y2="290" stroke="#000" stroke-width="1.8"/>
<text x="1562.2" y="312.5" text-anchor="middle">-2</text>
<line x1="1635.8" y1="282" x2="1635.8" y2="290" stroke="#000" stroke-width="1.8"/>
<text x="1635.8" y="312.5" text-anchor="middle">0</text>
<line x1="1709.4" y1="282" x2="1709.4" y2="290" stroke="#000" stroke-width="1.8"/>
<text x="1709.4" y="312.5" text-anchor="middle">2</text>
<text x="1358.5" y="172.3" text-anchor="middle" transform="rotate(-90 1358.5 172.3)">Relative Cell Viability (%)</text>
<text x="1474" y="337.7">Log<tspan dy="8.5">10</tspan><tspan dy="-8.5">[Docetaxel] (μM)</tspan></text>
<polyline points="1451.8,160.6 1459.3,161.6 1466.9,162.6 1474.4,163.7 1482,164.8 1489.5,166 1497.1,167.2 1504.6,168.4 1512.2,169.7 1519.7,171.1 1527.3,172.5 1534.8,173.9 1542.4,175.4 1549.9,177 1557.5,178.6 1565,180.2 1572.6,181.9 1580.1,183.7 1587.7,185.5 1595.2,187.3 1602.8,189.2 1610.3,191.1 1617.9,193.1 1625.4,195 1633,197.1 1640.5,199.1 1648.1,201.2 1655.6,203.3 1663.2,205.5 1670.7,207.6 1678.3,209.8 1685.8,212 1693.4,214.2 1700.9,216.4 1708.5,218.6 1716,220.7 1723.6,222.9 1731.1,225.1 1738.7,227.2 1746.2,229.4" fill="none" stroke="#cb8a60" stroke-width="1.3"/>
<polyline points="1451.8,145.6 1459.3,146.8 1466.9,148.1 1474.4,149.6 1482,151.1 1489.5,152.8 1497.1,154.6 1504.6,156.6 1512.2,158.7 1519.7,160.9 1527.3,163.3 1534.8,165.9 1542.4,168.6 1549.9,171.5 1557.5,174.5 1565,177.7 1572.6,181 1580.1,184.5 1587.7,188 1595.2,191.7 1602.8,195.5 1610.3,199.3 1617.9,203.2 1625.4,207.2 1633,211.1 1640.5,215.1 1648.1,219 1655.6,222.9 1663.2,226.7 1670.7,230.4 1678.3,234 1685.8,237.5 1693.4,240.9 1700.9,244.1 1708.5,247.2 1716,250.1 1723.6,252.9 1731.1,255.5 1738.7,258 1746.2,260.3" fill="none" stroke="#6a93ab" stroke-width="1.3"/>
<path d="M1451.8 155.6L1457.1 160.9L1451.8 166.2L1446.5 160.9Z" fill="#cb8a60"/>
<path d="M1488.6 178.1L1493.9 183.4L1488.6 188.7L1483.3 183.4Z" fill="#cb8a60"/>
<path d="M1525.4 178.1L1530.7 183.4L1525.4 188.7L1520.1 183.4Z" fill="#cb8a60"/>
<path d="M1562.2 182.4L1567.5 187.7L1562.2 193L1556.9 187.7Z" fill="#cb8a60"/>
<path d="M1599 176.2L1604.3 181.5L1599 186.8L1593.7 181.5Z" fill="#cb8a60"/>
<path d="M1635.8 181.1L1641.1 186.4L1635.8 191.7L1630.5 186.4Z" fill="#cb8a60"/>
<path d="M1672.6 182.4L1677.9 187.7L1672.6 193L1667.3 187.7Z" fill="#cb8a60"/>
<path d="M1709.4 191.7L1714.7 197L1709.4 202.3L1704.1 197Z" fill="#cb8a60"/>
<path d="M1746.2 271.8L1751.5 277.1L1746.2 282.4L1740.9 277.1Z" fill="#cb8a60"/>
<circle cx="1451.8" cy="142.7" r="4.4" fill="#6a93ab"/>
<circle cx="1488.6" cy="144.9" r="4.4" fill="#6a93ab"/>
<circle cx="1525.4" cy="164.6" r="4.4" fill="#6a93ab"/>
<circle cx="1562.2" cy="183.4" r="4.4" fill="#6a93ab"/>
<circle cx="1599" cy="205.9" r="4.4" fill="#6a93ab"/>
<circle cx="1635.8" cy="215.8" r="4.4" fill="#6a93ab"/>
<circle cx="1672.6" cy="216.7" r="4.4" fill="#6a93ab"/>
<circle cx="1709.4" cy="237.9" r="4.4" fill="#6a93ab"/>
<line x1="1437" y1="58.5" x2="1461" y2="58.5" stroke="#6a93ab" stroke-width="1.2"/>
<circle cx="1449" cy="58.5" r="4" fill="#6a93ab"/>
<text x="1474" y="66.3">Vector</text>
<text x="1556.5" y="66.3" textLength="145" lengthAdjust="spacing">IC50 : 0.527 μM</text>
<line x1="1437" y1="82.2" x2="1461" y2="82.2" stroke="#cb8a60" stroke-width="1.2"/>
<path d="M1449 77.4L1453.8 82.2L1449 87L1444.2 82.2Z" fill="#cb8a60"/>
<text x="1474" y="90">CUL4B</text>
<text x="1556.5" y="90" textLength="145" lengthAdjust="spacing">IC50 : 7.606 μM</text>
<line x1="91.4" y1="536" x2="422.6" y2="536" stroke="#000" stroke-width="1.7" stroke-dasharray="1.9 2.1"/>
<path d="M91.4 389.3V609.3H422.6" fill="none" stroke="#000" stroke-width="1.8"/>
<line x1="83.4" y1="609.3" x2="91.4" y2="609.3" stroke="#000" stroke-width="1.8"/>
<text x="80.4" y="617.6" text-anchor="end">0</text>
<line x1="83.4" y1="536" x2="91.4" y2="536" stroke="#000" stroke-width="1.8"/>
<text x="80.4" y="544.3" text-anchor="end">50</text>
<line x1="83.4" y1="462.6" x2="91.4" y2="462.6" stroke="#000" stroke-width="1.8"/>
<text x="80.4" y="470.9" text-anchor="end">100</text>
<line x1="83.4" y1="389.3" x2="91.4" y2="389.3" stroke="#000" stroke-width="1.8"/>
<text x="80.4" y="397.6" text-anchor="end">150</text>
<line x1="91.4" y1="609.3" x2="91.4" y2="617.3" stroke="#000" stroke-width="1.8"/>
<text x="91.4" y="639.8" text-anchor="middle">-6</text>
<line x1="165" y1="609.3" x2="165" y2="617.3" stroke="#000" stroke-width="1.8"/>
<text x="165" y="639.8" text-anchor="middle">-4</text>
<line x1="238.6" y1="609.3" x2="238.6" y2="617.3" stroke="#000" stroke-width="1.8"/>
<text x="238.6" y="639.8" text-anchor="middle">-2</text>
<line x1="312.2" y1="609.3" x2="312.2" y2="617.3" stroke="#000" stroke-width="1.8"/>
<text x="312.2" y="639.8" text-anchor="middle">0</text>
<line x1="385.8" y1="609.3" x2="385.8" y2="617.3" stroke="#000" stroke-width="1.8"/>
<text x="385.8" y="639.8" text-anchor="middle">2</text>
<text x="32" y="501.3" text-anchor="middle" transform="rotate(-90 32 501.3)">Relative Cell Viability (%)</text>
<text x="148.2" y="665.6">Log<tspan dy="8.5">10</tspan><tspan dy="-8.5">[Gemcitabine] (μM)</tspan></text>
<polyline points="128.2,465.2 135.7,465.6 143.3,466.1 150.8,466.7 158.4,467.3 165.9,468.1 173.5,469 181,470 188.6,471.2 196.1,472.6 203.7,474.2 211.2,475.9 218.8,478 226.3,480.3 233.9,482.8 241.4,485.7 249,488.9 256.5,492.5 264.1,496.4 271.6,500.7 279.2,505.2 286.7,510.1 294.3,515.3 301.8,520.7 309.4,526.3 316.9,532 324.5,537.8 332,543.5 339.6,549.1 347.1,554.6 354.7,559.9 362.2,564.9 369.8,569.6 377.3,574 384.9,578.1 392.4,581.8 400,585.1 407.5,588.1 415.1,590.9 422.6,593.3" fill="none" stroke="#cb8a60" stroke-width="1.3"/>
<polyline points="128.2,488.7 135.7,490.6 143.3,492.5 150.8,494.6 158.4,496.7 165.9,499 173.5,501.4 181,503.8 188.6,506.4 196.1,509.1 203.7,511.9 211.2,514.7 218.8,517.7 226.3,520.7 233.9,523.8 241.4,527 249,530.2 256.5,533.4 264.1,536.7 271.6,540 279.2,543.3 286.7,546.6 294.3,549.9 301.8,553.2 309.4,556.4 316.9,559.5 324.5,562.6 332,565.7 339.6,568.6 347.1,571.5 354.7,574.3 362.2,577 369.8,579.6 377.3,582.1 384.9,584.5 392.4,586.8 400,588.9 407.5,591 415.1,593 422.6,594.8" fill="none" stroke="#6a93ab" stroke-width="1.3"/>
<path d="M128.2 451.9L133.5 457.2L128.2 462.5L122.9 457.2Z" fill="#cb8a60"/>
<path d="M165 462.2L170.3 467.5L165 472.8L159.7 467.5Z" fill="#cb8a60"/>
<path d="M201.8 460.7L207.1 466L201.8 471.3L196.5 466Z" fill="#cb8a60"/>
<path d="M238.6 470.5L243.9 475.8L238.6 481.1L233.3 475.8Z" fill="#cb8a60"/>
<path d="M275.4 512L280.7 517.3L275.4 522.6L270.1 517.3Z" fill="#cb8a60"/>
<path d="M312.2 525.8L317.5 531.1L312.2 536.4L306.9 531.1Z" fill="#cb8a60"/>
<path d="M349 546.7L354.3 552L349 557.3L343.7 552Z" fill="#cb8a60"/>
<path d="M385.8 560.4L391.1 565.7L385.8 571L380.5 565.7Z" fill="#cb8a60"/>
<path d="M422.6 599.3L427.9 604.6L422.6 609.9L417.3 604.6Z" fill="#cb8a60"/>
<circle cx="128.2" cy="480.1" r="4.4" fill="#6a93ab"/>
<circle cx="165" cy="508.1" r="4.4" fill="#6a93ab"/>
<circle cx="201.8" cy="518.7" r="4.4" fill="#6a93ab"/>
<circle cx="238.6" cy="525" r="4.4" fill="#6a93ab"/>
<circle cx="275.4" cy="544.5" r="4.4" fill="#6a93ab"/>
<circle cx="312.2" cy="567.8" r="4.4" fill="#6a93ab"/>
<circle cx="349" cy="577.8" r="4.4" fill="#6a93ab"/>
<circle cx="385.8" cy="586.6" r="4.4" fill="#6a93ab"/>
<circle cx="422.6" cy="596.2" r="4.4" fill="#6a93ab"/>
<line x1="116.3" y1="390.7" x2="140.3" y2="390.7" stroke="#6a93ab" stroke-width="1.2"/>
<circle cx="128.3" cy="390.7" r="4" fill="#6a93ab"/>
<text x="153.8" y="398.5">Vector</text>
<text x="235" y="398.5" textLength="146" lengthAdjust="spacing">IC50 : 0.022 μM</text>
<line x1="116.3" y1="414.3" x2="140.3" y2="414.3" stroke="#cb8a60" stroke-width="1.2"/>
<path d="M128.3 409.5L133.1 414.3L128.3 419.1L123.5 414.3Z" fill="#cb8a60"/>
<text x="153.8" y="422.1">CUL4B</text>
<text x="235" y="422.1" textLength="146" lengthAdjust="spacing">IC50 : 2.012 μM</text>
<line x1="983.9" y1="538" x2="1313.3" y2="538" stroke="#000" stroke-width="1.7" stroke-dasharray="1.9 2.1"/>
<path d="M983.9 392.1V611H1313.3" fill="none" stroke="#000" stroke-width="1.8"/>
<line x1="975.9" y1="611" x2="983.9" y2="611" stroke="#000" stroke-width="1.8"/>
<text x="972.9" y="619.3" text-anchor="end">0</text>
<line x1="975.9" y1="538" x2="983.9" y2="538" stroke="#000" stroke-width="1.8"/>
<text x="972.9" y="546.3" text-anchor="end">50</text>
<line x1="975.9" y1="465.1" x2="983.9" y2="465.1" stroke="#000" stroke-width="1.8"/>
<text x="972.9" y="473.4" text-anchor="end">100</text>
<line x1="975.9" y1="392.1" x2="983.9" y2="392.1" stroke="#000" stroke-width="1.8"/>
<text x="972.9" y="400.4" text-anchor="end">150</text>
<line x1="983.9" y1="611" x2="983.9" y2="619" stroke="#000" stroke-width="1.8"/>
<text x="983.9" y="641.5" text-anchor="middle">-6</text>
<line x1="1055.9" y1="611" x2="1055.9" y2="619" stroke="#000" stroke-width="1.8"/>
<text x="1055.9" y="641.5" text-anchor="middle">-4</text>
<line x1="1127.9" y1="611" x2="1127.9" y2="619" stroke="#000" stroke-width="1.8"/>
<text x="1127.9" y="641.5" text-anchor="middle">-2</text>
<line x1="1199.9" y1="611" x2="1199.9" y2="619" stroke="#000" stroke-width="1.8"/>
<text x="1199.9" y="641.5" text-anchor="middle">0</text>
<line x1="1271.9" y1="611" x2="1271.9" y2="619" stroke="#000" stroke-width="1.8"/>
<text x="1271.9" y="641.5" text-anchor="middle">2</text>
<text x="934" y="498.7" text-anchor="middle" transform="rotate(-90 934 498.7)">Relative Cell Viability (%)</text>
<text x="1015.2" y="668.3">Log<tspan dy="8.5">10</tspan><tspan dy="-8.5">[Gemcitabine] (μM)</tspan></text>
<polyline points="1019.9,475.6 1027.4,476.5 1034.9,477.5 1042.5,478.6 1050,479.8 1057.5,481.1 1065,482.5 1072.6,484.1 1080.1,485.7 1087.6,487.5 1095.1,489.4 1102.7,491.4 1110.2,493.6 1117.7,495.9 1125.2,498.3 1132.7,500.9 1140.3,503.6 1147.8,506.4 1155.3,509.3 1162.8,512.3 1170.4,515.4 1177.9,518.6 1185.4,521.9 1192.9,525.2 1200.5,528.5 1208,531.8 1215.5,535.1 1223,538.4 1230.5,541.6 1238.1,544.8 1245.6,547.9 1253.1,550.9 1260.6,553.8 1268.2,556.6 1275.7,559.2 1283.2,561.8 1290.7,564.2 1298.3,566.5 1305.8,568.6 1313.3,570.6" fill="none" stroke="#cb8a60" stroke-width="1.3"/>
<polyline points="1019.9,468.3 1027.4,468.7 1034.9,469.3 1042.5,469.9 1050,470.6 1057.5,471.5 1065,472.5 1072.6,473.6 1080.1,474.9 1087.6,476.3 1095.1,478 1102.7,479.9 1110.2,482.1 1117.7,484.5 1125.2,487.2 1132.7,490.3 1140.3,493.6 1147.8,497.3 1155.3,501.3 1162.8,505.6 1170.4,510.2 1177.9,515.1 1185.4,520.3 1192.9,525.6 1200.5,531 1208,536.5 1215.5,542 1223,547.4 1230.5,552.7 1238.1,557.8 1245.6,562.7 1253.1,567.3 1260.6,571.5 1268.2,575.5 1275.7,579.2 1283.2,582.5 1290.7,585.5 1298.3,588.2 1305.8,590.6 1313.3,592.7" fill="none" stroke="#6a93ab" stroke-width="1.3"/>
<path d="M1019.9 462.7L1025.2 468L1019.9 473.3L1014.6 468Z" fill="#cb8a60"/>
<path d="M1055.9 475.5L1061.2 480.8L1055.9 486.1L1050.6 480.8Z" fill="#cb8a60"/>
<path d="M1091.9 484.6L1097.2 489.9L1091.9 495.2L1086.6 489.9Z" fill="#cb8a60"/>
<path d="M1127.9 499.9L1133.2 505.2L1127.9 510.5L1122.6 505.2Z" fill="#cb8a60"/>
<path d="M1163.9 509.8L1169.2 515.1L1163.9 520.4L1158.6 515.1Z" fill="#cb8a60"/>
<path d="M1199.9 529.8L1205.2 535.1L1199.9 540.4L1194.6 535.1Z" fill="#cb8a60"/>
<path d="M1235.9 531.4L1241.2 536.7L1235.9 542L1230.6 536.7Z" fill="#cb8a60"/>
<path d="M1271.9 532.9L1277.2 538.2L1271.9 543.5L1266.6 538.2Z" fill="#cb8a60"/>
<path d="M1299.3 580.7L1304.6 586L1299.3 591.3L1294 586Z" fill="#cb8a60"/>
<circle cx="1019.9" cy="465.7" r="4.4" fill="#6a93ab"/>
<circle cx="1055.9" cy="469.7" r="4.4" fill="#6a93ab"/>
<circle cx="1091.9" cy="473.1" r="4.4" fill="#6a93ab"/>
<circle cx="1127.9" cy="480.5" r="4.4" fill="#6a93ab"/>
<circle cx="1163.9" cy="513.5" r="4.4" fill="#6a93ab"/>
<circle cx="1199.9" cy="554.2" r="4.4" fill="#6a93ab"/>
<circle cx="1235.9" cy="551.2" r="4.4" fill="#6a93ab"/>
<circle cx="1271.9" cy="562.6" r="4.4" fill="#6a93ab"/>
<circle cx="1299.3" cy="600.5" r="4.4" fill="#6a93ab"/>
<line x1="1007.4" y1="387.1" x2="1031.4" y2="387.1" stroke="#6a93ab" stroke-width="1.2"/>
<circle cx="1019.4" cy="387.1" r="4" fill="#6a93ab"/>
<text x="1044.9" y="394.9">Vector</text>
<text x="1125.2" y="394.9" textLength="151" lengthAdjust="spacing">IC50 :  1.599 μM</text>
<line x1="1007.4" y1="410.7" x2="1031.4" y2="410.7" stroke="#cb8a60" stroke-width="1.2"/>
<path d="M1019.4 405.9L1024.2 410.7L1019.4 415.5L1014.6 410.7Z" fill="#cb8a60"/>
<text x="1044.9" y="418.5">CUL4B</text>
<text x="1125.2" y="418.5" textLength="151" lengthAdjust="spacing">IC50 :  5.742 μM</text>
<line x1="539.2" y1="501.4" x2="866.4" y2="501.4" stroke="#000" stroke-width="1.7" stroke-dasharray="1.9 2.1"/>
<path d="M539.2 392.1V610.7H866.4" fill="none" stroke="#000" stroke-width="1.8"/>
<line x1="531.2" y1="610.7" x2="539.2" y2="610.7" stroke="#000" stroke-width="1.8"/>
<text x="528.2" y="619" text-anchor="end">0</text>
<line x1="531.2" y1="556.1" x2="539.2" y2="556.1" stroke="#000" stroke-width="1.8"/>
<text x="528.2" y="564.4" text-anchor="end">25</text>
<line x1="531.2" y1="501.4" x2="539.2" y2="501.4" stroke="#000" stroke-width="1.8"/>
<text x="528.2" y="509.7" text-anchor="end">50</text>
<line x1="531.2" y1="446.8" x2="539.2" y2="446.8" stroke="#000" stroke-width="1.8"/>
<text x="528.2" y="455.1" text-anchor="end">75</text>
<line x1="531.2" y1="392.1" x2="539.2" y2="392.1" stroke="#000" stroke-width="1.8"/>
<text x="528.2" y="400.4" text-anchor="end">100</text>
<line x1="539.2" y1="610.7" x2="539.2" y2="618.7" stroke="#000" stroke-width="1.8"/>
<text x="539.2" y="641.2" text-anchor="middle">0.0</text>
<line x1="621" y1="610.7" x2="621" y2="618.7" stroke="#000" stroke-width="1.8"/>
<text x="621" y="641.2" text-anchor="middle">0.4</text>
<line x1="702.8" y1="610.7" x2="702.8" y2="618.7" stroke="#000" stroke-width="1.8"/>
<text x="702.8" y="641.2" text-anchor="middle">0.8</text>
<line x1="784.6" y1="610.7" x2="784.6" y2="618.7" stroke="#000" stroke-width="1.8"/>
<text x="784.6" y="641.2" text-anchor="middle">1.2</text>
<line x1="866.4" y1="610.7" x2="866.4" y2="618.7" stroke="#000" stroke-width="1.8"/>
<text x="866.4" y="641.2" text-anchor="middle">1.6</text>
<text x="481" y="506.3" text-anchor="middle" transform="rotate(-90 481 506.3)">Relative Cell Viability (%)</text>
<text x="602.1" y="669.7">Log<tspan dy="8.5">10</tspan><tspan dy="-8.5">[CSN5i-3] (μM)</tspan></text>
<polyline points="600.8,467.5 605.8,470.7 610.8,474 615.8,477.3 620.8,480.6 625.8,484 630.8,487.4 635.8,490.8 640.8,494.3 645.8,497.7 650.8,501.2 655.8,504.6 660.8,508.1 665.8,511.5 670.8,515 675.8,518.4 680.8,521.7 685.8,525.1 690.8,528.4 695.8,531.7 700.8,534.9 705.8,538.1 710.8,541.2 715.8,544.2 720.8,547.2 725.8,550.2 730.8,553 735.8,555.8 740.8,558.6 745.8,561.2 750.8,563.8 755.8,566.3 760.8,568.8 765.8,571.1 770.8,573.4 775.8,575.6 780.8,577.7 785.8,579.8 790.8,581.8 795.8,583.7" fill="none" stroke="#cb8a60" stroke-width="1.3"/>
<polyline points="600.8,447.2 605.8,448.5 610.8,450 615.8,451.5 620.8,453.1 625.8,454.9 630.8,456.7 635.8,458.6 640.8,460.5 645.8,462.6 650.8,464.8 655.8,467.1 660.8,469.4 665.8,471.8 670.8,474.3 675.8,476.9 680.8,479.5 685.8,482.2 690.8,485 695.8,487.8 700.8,490.6 705.8,493.4 710.8,496.2 715.8,499.1 720.8,501.9 725.8,504.7 730.8,507.4 735.8,510.2 740.8,512.8 745.8,515.5 750.8,518 755.8,520.5 760.8,522.9 765.8,525.2 770.8,527.4 775.8,529.6 780.8,531.6 785.8,533.6 790.8,535.5 795.8,537.3" fill="none" stroke="#6a93ab" stroke-width="1.3"/>
<path d="M600.8 481.5L606.1 486.8L600.8 492.1L595.5 486.8Z" fill="#cb8a60"/>
<path d="M662.3 489.8L667.6 495.1L662.3 500.4L657 495.1Z" fill="#cb8a60"/>
<path d="M698.3 514.2L703.6 519.5L698.3 524.8L693 519.5Z" fill="#cb8a60"/>
<path d="M723.9 544.4L729.2 549.7L723.9 555L718.6 549.7Z" fill="#cb8a60"/>
<path d="M743.7 557.5L749 562.8L743.7 568.1L738.4 562.8Z" fill="#cb8a60"/>
<path d="M759.9 569.3L765.2 574.6L759.9 579.9L754.6 574.6Z" fill="#cb8a60"/>
<path d="M773.6 578.5L778.9 583.8L773.6 589.1L768.3 583.8Z" fill="#cb8a60"/>
<path d="M785.4 583.5L790.7 588.8L785.4 594.1L780.1 588.8Z" fill="#cb8a60"/>
<path d="M795.8 586.8L801.1 592.1L795.8 597.4L790.5 592.1Z" fill="#cb8a60"/>
<circle cx="600.8" cy="454.4" r="4.4" fill="#6a93ab"/>
<circle cx="662.3" cy="468" r="4.4" fill="#6a93ab"/>
<circle cx="698.3" cy="484.8" r="4.4" fill="#6a93ab"/>
<circle cx="723.9" cy="506.6" r="4.4" fill="#6a93ab"/>
<circle cx="743.7" cy="511.5" r="4.4" fill="#6a93ab"/>
<circle cx="759.9" cy="514.5" r="4.4" fill="#6a93ab"/>
<circle cx="773.6" cy="530.3" r="4.4" fill="#6a93ab"/>
<circle cx="785.4" cy="532" r="4.4" fill="#6a93ab"/>
<circle cx="795.8" cy="544.5" r="4.4" fill="#6a93ab"/>
<line x1="577.6" y1="391.8" x2="601.6" y2="391.8" stroke="#6a93ab" stroke-width="1.2"/>
<circle cx="589.6" cy="391.8" r="4" fill="#6a93ab"/>
<text x="615.1" y="399.6">Vector</text>
<text x="697.1" y="399.6" textLength="144.7" lengthAdjust="spacing">IC50 : 7.781 μM</text>
<line x1="577.6" y1="415.4" x2="601.6" y2="415.4" stroke="#cb8a60" stroke-width="1.2"/>
<path d="M589.6 410.6L594.4 415.4L589.6 420.2L584.8 415.4Z" fill="#cb8a60"/>
<text x="615.1" y="423.2">CUL4B</text>
<text x="697.1" y="423.2" textLength="144.7" lengthAdjust="spacing">IC50 : 3.476 μM</text>
<line x1="1422.3" y1="538.9" x2="1747.3" y2="538.9" stroke="#000" stroke-width="1.7" stroke-dasharray="1.9 2.1"/>
<path d="M1422.3 393.5V611.6H1747.3" fill="none" stroke="#000" stroke-width="1.8"/>
<line x1="1414.3" y1="611.6" x2="1422.3" y2="611.6" stroke="#000" stroke-width="1.8"/>
<text x="1411.3" y="619.9" text-anchor="end">0</text>
<line x1="1414.3" y1="538.9" x2="1422.3" y2="538.9" stroke="#000" stroke-width="1.8"/>
<text x="1411.3" y="547.2" text-anchor="end">50</text>
<line x1="1414.3" y1="466.2" x2="1422.3" y2="466.2" stroke="#000" stroke-width="1.8"/>
<text x="1411.3" y="474.5" text-anchor="end">100</text>
<line x1="1414.3" y1="393.5" x2="1422.3" y2="393.5" stroke="#000" stroke-width="1.8"/>
<text x="1411.3" y="401.8" text-anchor="end">150</text>
<line x1="1422.3" y1="611.6" x2="1422.3" y2="619.6" stroke="#000" stroke-width="1.8"/>
<text x="1422.3" y="642.1" text-anchor="middle">0.0</text>
<line x1="1503.5" y1="611.6" x2="1503.5" y2="619.6" stroke="#000" stroke-width="1.8"/>
<text x="1503.5" y="642.1" text-anchor="middle">0.4</text>
<line x1="1584.8" y1="611.6" x2="1584.8" y2="619.6" stroke="#000" stroke-width="1.8"/>
<text x="1584.8" y="642.1" text-anchor="middle">0.8</text>
<line x1="1666" y1="611.6" x2="1666" y2="619.6" stroke="#000" stroke-width="1.8"/>
<text x="1666" y="642.1" text-anchor="middle">1.2</text>
<line x1="1747.3" y1="611.6" x2="1747.3" y2="619.6" stroke="#000" stroke-width="1.8"/>
<text x="1747.3" y="642.1" text-anchor="middle">1.6</text>
<text x="1358.5" y="502.6" text-anchor="middle" transform="rotate(-90 1358.5 502.6)">Relative Cell Viability (%)</text>
<text x="1469.9" y="670.7">Log<tspan dy="8.5">10</tspan><tspan dy="-8.5">[CSN5i-3] (μM)</tspan></text>
<polyline points="1483.4,469.2 1488.4,469.3 1493.4,469.5 1498.3,469.6 1503.3,469.8 1508.3,470.1 1513.2,470.4 1518.2,470.7 1523.2,471.1 1528.1,471.5 1533.1,472 1538.1,472.6 1543.1,473.3 1548,474.1 1553,475.1 1558,476.1 1562.9,477.4 1567.9,478.8 1572.9,480.4 1577.8,482.3 1582.8,484.4 1587.8,486.7 1592.7,489.4 1597.7,492.3 1602.7,495.6 1607.6,499.2 1612.6,503.2 1617.6,507.4 1622.5,511.9 1627.5,516.7 1632.5,521.7 1637.4,526.9 1642.4,532.2 1647.4,537.5 1652.3,542.8 1657.3,548 1662.3,553.1 1667.3,557.9 1672.2,562.5 1677.2,566.9" fill="none" stroke="#cb8a60" stroke-width="1.3"/>
<polyline points="1483.4,467.5 1488.4,467.5 1493.4,467.5 1498.3,467.6 1503.3,467.6 1508.3,467.6 1513.2,467.6 1518.2,467.7 1523.2,467.7 1528.1,467.8 1533.1,467.9 1538.1,468 1543.1,468.1 1548,468.3 1553,468.5 1558,468.7 1562.9,469 1567.9,469.4 1572.9,469.9 1577.8,470.5 1582.8,471.3 1587.8,472.2 1592.7,473.4 1597.7,474.8 1602.7,476.5 1607.6,478.5 1612.6,481 1617.6,483.9 1622.5,487.2 1627.5,491.1 1632.5,495.5 1637.4,500.4 1642.4,505.7 1647.4,511.3 1652.3,517.2 1657.3,523 1662.3,528.8 1667.3,534.4 1672.2,539.5 1677.2,544.3" fill="none" stroke="#6a93ab" stroke-width="1.3"/>
<path d="M1483.4 469.8L1488.7 475.1L1483.4 480.4L1478.1 475.1Z" fill="#cb8a60"/>
<path d="M1544.6 482L1549.9 487.3L1544.6 492.6L1539.3 487.3Z" fill="#cb8a60"/>
<path d="M1580.3 479.7L1585.6 485L1580.3 490.3L1575 485Z" fill="#cb8a60"/>
<path d="M1605.7 497.1L1611 502.4L1605.7 507.7L1600.4 502.4Z" fill="#cb8a60"/>
<path d="M1625.4 517.6L1630.7 522.9L1625.4 528.2L1620.1 522.9Z" fill="#cb8a60"/>
<path d="M1641.4 517.6L1646.7 522.9L1641.4 528.2L1636.1 522.9Z" fill="#cb8a60"/>
<path d="M1655.1 536.5L1660.4 541.8L1655.1 547.1L1649.8 541.8Z" fill="#cb8a60"/>
<path d="M1666.8 544.4L1672.1 549.7L1666.8 555L1661.5 549.7Z" fill="#cb8a60"/>
<path d="M1677.2 577.4L1682.5 582.7L1677.2 588L1671.9 582.7Z" fill="#cb8a60"/>
<circle cx="1483.4" cy="456" r="4.4" fill="#6a93ab"/>
<circle cx="1544.6" cy="455.4" r="4.4" fill="#6a93ab"/>
<circle cx="1580.3" cy="461.5" r="4.4" fill="#6a93ab"/>
<circle cx="1605.7" cy="475.7" r="4.4" fill="#6a93ab"/>
<circle cx="1625.4" cy="495.7" r="4.4" fill="#6a93ab"/>
<circle cx="1641.4" cy="509.2" r="4.4" fill="#6a93ab"/>
<circle cx="1655.1" cy="519.6" r="4.4" fill="#6a93ab"/>
<circle cx="1666.8" cy="533.4" r="4.4" fill="#6a93ab"/>
<circle cx="1677.2" cy="547.5" r="4.4" fill="#6a93ab"/>
<line x1="1445.2" y1="390.1" x2="1469.2" y2="390.1" stroke="#6a93ab" stroke-width="1.2"/>
<circle cx="1457.2" cy="390.1" r="4" fill="#6a93ab"/>
<text x="1482" y="397.9">Vector</text>
<text x="1563" y="397.9" textLength="157.6" lengthAdjust="spacing">IC50 : 16.550 μM</text>
<line x1="1445.2" y1="413.7" x2="1469.2" y2="413.7" stroke="#cb8a60" stroke-width="1.2"/>
<path d="M1457.2 408.9L1462 413.7L1457.2 418.5L1452.4 413.7Z" fill="#cb8a60"/>
<text x="1482" y="421.5">CUL4B</text>
<text x="1563" y="421.5" textLength="157.6" lengthAdjust="spacing">IC50 : 12.930 μM</text>
<text x="3" y="727.5">C</text>
<rect x="68.7" y="787.8" width="318.4" height="389.4" fill="#e3e3e3"/>
<line x1="87.2" y1="787.8" x2="87.2" y2="1177.2" stroke="#fff" stroke-width="1.1"/>
<line x1="118.5" y1="787.8" x2="118.5" y2="1177.2" stroke="#fff" stroke-width="1.1"/>
<line x1="149.8" y1="787.8" x2="149.8" y2="1177.2" stroke="#fff" stroke-width="1.1"/>
<line x1="181.1" y1="787.8" x2="181.1" y2="1177.2" stroke="#fff" stroke-width="1.1"/>
<line x1="212.3" y1="787.8" x2="212.3" y2="1177.2" stroke="#fff" stroke-width="1.1"/>
<line x1="243.7" y1="787.8" x2="243.7" y2="1177.2" stroke="#fff" stroke-width="1.1"/>
<line x1="275" y1="787.8" x2="275" y2="1177.2" stroke="#fff" stroke-width="1.1"/>
<line x1="306.2" y1="787.8" x2="306.2" y2="1177.2" stroke="#fff" stroke-width="1.1"/>
<line x1="337.6" y1="787.8" x2="337.6" y2="1177.2" stroke="#fff" stroke-width="1.1"/>
<line x1="368.9" y1="787.8" x2="368.9" y2="1177.2" stroke="#fff" stroke-width="1.1"/>
<line x1="68.7" y1="832.8" x2="387.1" y2="832.8" stroke="#fff" stroke-width="1.1"/>
<line x1="68.7" y1="907.7" x2="387.1" y2="907.7" stroke="#fff" stroke-width="1.1"/>
<line x1="68.7" y1="982.6" x2="387.1" y2="982.6" stroke="#fff" stroke-width="1.1"/>
<line x1="68.7" y1="1057.5" x2="387.1" y2="1057.5" stroke="#fff" stroke-width="1.1"/>
<line x1="68.7" y1="1132.4" x2="387.1" y2="1132.4" stroke="#fff" stroke-width="1.1"/>
<rect x="71.5" y="795.3" width="31.6" height="75.2" fill="#efc5ba"/>
<rect x="102.8" y="795.3" width="31.6" height="75.2" fill="#e77a68"/>
<rect x="134.1" y="795.3" width="31.6" height="75.2" fill="#e77463"/>
<rect x="165.4" y="795.3" width="31.6" height="75.2" fill="#e76d5d"/>
<rect x="196.7" y="795.3" width="31.6" height="75.2" fill="#e76656"/>
<rect x="228" y="795.3" width="31.6" height="75.2" fill="#e75f4f"/>
<rect x="259.3" y="795.3" width="31.6" height="75.2" fill="#e85646"/>
<rect x="290.6" y="795.3" width="31.6" height="75.2" fill="#ea4b3c"/>
<rect x="321.9" y="795.3" width="31.6" height="75.2" fill="#ed382f"/>
<rect x="353.2" y="795.3" width="31.6" height="75.2" fill="#ee2a26"/>
<rect x="71.5" y="870.2" width="31.6" height="75.2" fill="#f2d5cc"/>
<rect x="102.8" y="870.2" width="31.6" height="75.2" fill="#e88776"/>
<rect x="134.1" y="870.2" width="31.6" height="75.2" fill="#e78371"/>
<rect x="165.4" y="870.2" width="31.6" height="75.2" fill="#e77a68"/>
<rect x="196.7" y="870.2" width="31.6" height="75.2" fill="#e76f5e"/>
<rect x="228" y="870.2" width="31.6" height="75.2" fill="#e76656"/>
<rect x="259.3" y="870.2" width="31.6" height="75.2" fill="#e76050"/>
<rect x="290.6" y="870.2" width="31.6" height="75.2" fill="#e85747"/>
<rect x="321.9" y="870.2" width="31.6" height="75.2" fill="#ea4b3d"/>
<rect x="353.2" y="870.2" width="31.6" height="75.2" fill="#ec4134"/>
<rect x="71.5" y="945.1" width="31.6" height="75.2" fill="#f4ded6"/>
<rect x="102.8" y="945.1" width="31.6" height="75.2" fill="#e88f7f"/>
<rect x="134.1" y="945.1" width="31.6" height="75.2" fill="#e88978"/>
<rect x="165.4" y="945.1" width="31.6" height="75.2" fill="#e78271"/>
<rect x="196.7" y="945.1" width="31.6" height="75.2" fill="#e77b69"/>
<rect x="228" y="945.1" width="31.6" height="75.2" fill="#e7705f"/>
<rect x="259.3" y="945.1" width="31.6" height="75.2" fill="#e76a5a"/>
<rect x="290.6" y="945.1" width="31.6" height="75.2" fill="#e76151"/>
<rect x="321.9" y="945.1" width="31.6" height="75.2" fill="#e85545"/>
<rect x="353.2" y="945.1" width="31.6" height="75.2" fill="#ea4a3c"/>
<rect x="71.5" y="1020.1" width="31.6" height="75.2" fill="#f5e5df"/>
<rect x="102.8" y="1020.1" width="31.6" height="75.2" fill="#e99888"/>
<rect x="134.1" y="1020.1" width="31.6" height="75.2" fill="#e99383"/>
<rect x="165.4" y="1020.1" width="31.6" height="75.2" fill="#e88d7d"/>
<rect x="196.7" y="1020.1" width="31.6" height="75.2" fill="#e88675"/>
<rect x="228" y="1020.1" width="31.6" height="75.2" fill="#e77c6a"/>
<rect x="259.3" y="1020.1" width="31.6" height="75.2" fill="#e77261"/>
<rect x="290.6" y="1020.1" width="31.6" height="75.2" fill="#e76959"/>
<rect x="321.9" y="1020.1" width="31.6" height="75.2" fill="#e85c4c"/>
<rect x="353.2" y="1020.1" width="31.6" height="75.2" fill="#e85444"/>
<rect x="71.5" y="1095" width="31.6" height="75.2" fill="#ffffff"/>
<rect x="102.8" y="1095" width="31.6" height="75.2" fill="#eaa090"/>
<rect x="134.1" y="1095" width="31.6" height="75.2" fill="#ea9c8c"/>
<rect x="165.4" y="1095" width="31.6" height="75.2" fill="#e99585"/>
<rect x="196.7" y="1095" width="31.6" height="75.2" fill="#e99181"/>
<rect x="228" y="1095" width="31.6" height="75.2" fill="#e88878"/>
<rect x="259.3" y="1095" width="31.6" height="75.2" fill="#e77e6c"/>
<rect x="290.6" y="1095" width="31.6" height="75.2" fill="#e77664"/>
<rect x="321.9" y="1095" width="31.6" height="75.2" fill="#e76b5a"/>
<rect x="353.2" y="1095" width="31.6" height="75.2" fill="#e85e4e"/>
<text x="87.2" y="835.8" font-size="8.2" text-anchor="middle" fill="#111" textLength="22.4" lengthAdjust="spacingAndGlyphs">17.8</text>
<text x="118.5" y="835.8" font-size="8.2" text-anchor="middle" fill="#111" textLength="28" lengthAdjust="spacingAndGlyphs">47.64</text>
<text x="149.8" y="835.8" font-size="8.2" text-anchor="middle" fill="#111" textLength="28" lengthAdjust="spacingAndGlyphs">49.89</text>
<text x="181.1" y="835.8" font-size="8.2" text-anchor="middle" fill="#111" textLength="28" lengthAdjust="spacingAndGlyphs">52.82</text>
<text x="212.3" y="835.8" font-size="8.2" text-anchor="middle" fill="#111" textLength="28" lengthAdjust="spacingAndGlyphs">55.76</text>
<text x="243.7" y="835.8" font-size="8.2" text-anchor="middle" fill="#111" textLength="28" lengthAdjust="spacingAndGlyphs">58.38</text>
<text x="275" y="835.8" font-size="8.2" text-anchor="middle" fill="#111" textLength="28" lengthAdjust="spacingAndGlyphs">62.06</text>
<text x="306.2" y="835.8" font-size="8.2" text-anchor="middle" fill="#111" textLength="28" lengthAdjust="spacingAndGlyphs">66.05</text>
<text x="337.6" y="835.8" font-size="8.2" text-anchor="middle" fill="#111" textLength="22.4" lengthAdjust="spacingAndGlyphs">71.8</text>
<text x="368.9" y="835.8" font-size="8.2" text-anchor="middle" fill="#111" textLength="28" lengthAdjust="spacingAndGlyphs">75.54</text>
<text x="87.2" y="910.7" font-size="8.2" text-anchor="middle" fill="#111" textLength="28" lengthAdjust="spacingAndGlyphs">12.18</text>
<text x="118.5" y="910.7" font-size="8.2" text-anchor="middle" fill="#111" textLength="28" lengthAdjust="spacingAndGlyphs">42.14</text>
<text x="149.8" y="910.7" font-size="8.2" text-anchor="middle" fill="#111" textLength="28" lengthAdjust="spacingAndGlyphs">44.01</text>
<text x="181.1" y="910.7" font-size="8.2" text-anchor="middle" fill="#111" textLength="28" lengthAdjust="spacingAndGlyphs">47.58</text>
<text x="212.3" y="910.7" font-size="8.2" text-anchor="middle" fill="#111" textLength="28" lengthAdjust="spacingAndGlyphs">52.09</text>
<text x="243.7" y="910.7" font-size="8.2" text-anchor="middle" fill="#111" textLength="28" lengthAdjust="spacingAndGlyphs">55.63</text>
<text x="275" y="910.7" font-size="8.2" text-anchor="middle" fill="#111" textLength="28" lengthAdjust="spacingAndGlyphs">58.06</text>
<text x="306.2" y="910.7" font-size="8.2" text-anchor="middle" fill="#111" textLength="28" lengthAdjust="spacingAndGlyphs">61.75</text>
<text x="337.6" y="910.7" font-size="8.2" text-anchor="middle" fill="#111" textLength="28" lengthAdjust="spacingAndGlyphs">65.87</text>
<text x="368.9" y="910.7" font-size="8.2" text-anchor="middle" fill="#111" textLength="28" lengthAdjust="spacingAndGlyphs">69.55</text>
<text x="87.2" y="985.6" font-size="8.2" text-anchor="middle" fill="#111" textLength="28" lengthAdjust="spacingAndGlyphs">10.12</text>
<text x="118.5" y="985.6" font-size="8.2" text-anchor="middle" fill="#111" textLength="28" lengthAdjust="spacingAndGlyphs">38.46</text>
<text x="149.8" y="985.6" font-size="8.2" text-anchor="middle" fill="#111" textLength="28" lengthAdjust="spacingAndGlyphs">41.33</text>
<text x="181.1" y="985.6" font-size="8.2" text-anchor="middle" fill="#111" textLength="28" lengthAdjust="spacingAndGlyphs">44.33</text>
<text x="212.3" y="985.6" font-size="8.2" text-anchor="middle" fill="#111" textLength="28" lengthAdjust="spacingAndGlyphs">47.14</text>
<text x="243.7" y="985.6" font-size="8.2" text-anchor="middle" fill="#111" textLength="28" lengthAdjust="spacingAndGlyphs">51.57</text>
<text x="275" y="985.6" font-size="8.2" text-anchor="middle" fill="#111" textLength="11.2" lengthAdjust="spacingAndGlyphs">54</text>
<text x="306.2" y="985.6" font-size="8.2" text-anchor="middle" fill="#111" textLength="28" lengthAdjust="spacingAndGlyphs">57.62</text>
<text x="337.6" y="985.6" font-size="8.2" text-anchor="middle" fill="#111" textLength="28" lengthAdjust="spacingAndGlyphs">62.37</text>
<text x="368.9" y="985.6" font-size="8.2" text-anchor="middle" fill="#111" textLength="28" lengthAdjust="spacingAndGlyphs">66.11</text>
<text x="87.2" y="1060.5" font-size="8.2" text-anchor="middle" fill="#111" textLength="22.4" lengthAdjust="spacingAndGlyphs">8.34</text>
<text x="118.5" y="1060.5" font-size="8.2" text-anchor="middle" fill="#111" textLength="28" lengthAdjust="spacingAndGlyphs">34.46</text>
<text x="149.8" y="1060.5" font-size="8.2" text-anchor="middle" fill="#111" textLength="22.4" lengthAdjust="spacingAndGlyphs">36.9</text>
<text x="181.1" y="1060.5" font-size="8.2" text-anchor="middle" fill="#111" textLength="28" lengthAdjust="spacingAndGlyphs">39.52</text>
<text x="212.3" y="1060.5" font-size="8.2" text-anchor="middle" fill="#111" textLength="28" lengthAdjust="spacingAndGlyphs">42.58</text>
<text x="243.7" y="1060.5" font-size="8.2" text-anchor="middle" fill="#111" textLength="28" lengthAdjust="spacingAndGlyphs">46.83</text>
<text x="275" y="1060.5" font-size="8.2" text-anchor="middle" fill="#111" textLength="28" lengthAdjust="spacingAndGlyphs">50.91</text>
<text x="306.2" y="1060.5" font-size="8.2" text-anchor="middle" fill="#111" textLength="22.4" lengthAdjust="spacingAndGlyphs">54.5</text>
<text x="337.6" y="1060.5" font-size="8.2" text-anchor="middle" fill="#111" textLength="22.4" lengthAdjust="spacingAndGlyphs">59.5</text>
<text x="368.9" y="1060.5" font-size="8.2" text-anchor="middle" fill="#111" textLength="28" lengthAdjust="spacingAndGlyphs">62.87</text>
<text x="87.2" y="1135.4" font-size="8.2" text-anchor="middle" fill="#111" textLength="5.6" lengthAdjust="spacingAndGlyphs">0</text>
<text x="118.5" y="1135.4" font-size="8.2" text-anchor="middle" fill="#111" textLength="28" lengthAdjust="spacingAndGlyphs">30.91</text>
<text x="149.8" y="1135.4" font-size="8.2" text-anchor="middle" fill="#111" textLength="28" lengthAdjust="spacingAndGlyphs">32.59</text>
<text x="181.1" y="1135.4" font-size="8.2" text-anchor="middle" fill="#111" textLength="28" lengthAdjust="spacingAndGlyphs">35.78</text>
<text x="212.3" y="1135.4" font-size="8.2" text-anchor="middle" fill="#111" textLength="28" lengthAdjust="spacingAndGlyphs">37.65</text>
<text x="243.7" y="1135.4" font-size="8.2" text-anchor="middle" fill="#111" textLength="28" lengthAdjust="spacingAndGlyphs">41.58</text>
<text x="275" y="1135.4" font-size="8.2" text-anchor="middle" fill="#111" textLength="28" lengthAdjust="spacingAndGlyphs">45.89</text>
<text x="306.2" y="1135.4" font-size="8.2" text-anchor="middle" fill="#111" textLength="28" lengthAdjust="spacingAndGlyphs">49.45</text>
<text x="337.6" y="1135.4" font-size="8.2" text-anchor="middle" fill="#111" textLength="28" lengthAdjust="spacingAndGlyphs">53.94</text>
<text x="368.9" y="1135.4" font-size="8.2" text-anchor="middle" fill="#111" textLength="28" lengthAdjust="spacingAndGlyphs">58.87</text>
<line x1="64.7" y1="832.8" x2="67.7" y2="832.8" stroke="#333" stroke-width="1"/>
<text x="60.7" y="839" text-anchor="end">8</text>
<line x1="64.7" y1="907.7" x2="67.7" y2="907.7" stroke="#333" stroke-width="1"/>
<text x="60.7" y="913.9" text-anchor="end">6</text>
<line x1="64.7" y1="982.6" x2="67.7" y2="982.6" stroke="#333" stroke-width="1"/>
<text x="60.7" y="988.8" text-anchor="end">4</text>
<line x1="64.7" y1="1057.5" x2="67.7" y2="1057.5" stroke="#333" stroke-width="1"/>
<text x="60.7" y="1063.7" text-anchor="end">2</text>
<line x1="64.7" y1="1132.4" x2="67.7" y2="1132.4" stroke="#333" stroke-width="1"/>
<text x="60.7" y="1138.6" text-anchor="end">0</text>
<line x1="87.2" y1="1177.2" x2="87.2" y2="1180.7" stroke="#333" stroke-width="1"/>
<text x="80.2" y="1201.2" text-anchor="middle">0</text>
<line x1="118.5" y1="1177.2" x2="118.5" y2="1180.7" stroke="#333" stroke-width="1"/>
<text x="129.4" y="1192.2" text-anchor="end" transform="rotate(-45 129.4 1192.2)">0.1</text>
<line x1="149.8" y1="1177.2" x2="149.8" y2="1180.7" stroke="#333" stroke-width="1"/>
<text x="160.8" y="1192.2" text-anchor="end" transform="rotate(-45 160.8 1192.2)">0.2</text>
<line x1="181.1" y1="1177.2" x2="181.1" y2="1180.7" stroke="#333" stroke-width="1"/>
<text x="192.1" y="1192.2" text-anchor="end" transform="rotate(-45 192.1 1192.2)">0.4</text>
<line x1="212.3" y1="1177.2" x2="212.3" y2="1180.7" stroke="#333" stroke-width="1"/>
<text x="223.3" y="1192.2" text-anchor="end" transform="rotate(-45 223.3 1192.2)">0.8</text>
<line x1="243.7" y1="1177.2" x2="243.7" y2="1180.7" stroke="#333" stroke-width="1"/>
<text x="254.7" y="1192.2" text-anchor="end" transform="rotate(-45 254.7 1192.2)">1.6</text>
<line x1="275" y1="1177.2" x2="275" y2="1180.7" stroke="#333" stroke-width="1"/>
<text x="286" y="1192.2" text-anchor="end" transform="rotate(-45 286 1192.2)">3.2</text>
<line x1="306.2" y1="1177.2" x2="306.2" y2="1180.7" stroke="#333" stroke-width="1"/>
<text x="317.2" y="1192.2" text-anchor="end" transform="rotate(-45 317.2 1192.2)">6.4</text>
<line x1="337.6" y1="1177.2" x2="337.6" y2="1180.7" stroke="#333" stroke-width="1"/>
<text x="348.6" y="1192.2" text-anchor="end" transform="rotate(-45 348.6 1192.2)">12.8</text>
<line x1="368.9" y1="1177.2" x2="368.9" y2="1180.7" stroke="#333" stroke-width="1"/>
<text x="379.9" y="1192.2" text-anchor="end" transform="rotate(-45 379.9 1192.2)">25.6</text>
<text x="223" y="1243.5" text-anchor="middle" font-size="24">PTX (μM)</text>
<text x="38.5" y="977.6" text-anchor="middle" font-size="24" transform="rotate(-90 38.5 977.6)">CSN5i-3 (μM)</text>
<text x="222.3" y="723.5" text-anchor="middle" font-size="24">inhibition(%)</text>
<rect x="123.3" y="770.4" width="10.2" height="5.8" fill="#f9f0ec"/>
<rect x="133.2" y="770.4" width="10.2" height="5.8" fill="#f5e4de"/>
<rect x="143.1" y="770.4" width="10.2" height="5.8" fill="#f2d6cd"/>
<rect x="153" y="770.4" width="10.2" height="5.8" fill="#f0ccc1"/>
<rect x="162.9" y="770.4" width="10.2" height="5.8" fill="#efc1b6"/>
<rect x="172.8" y="770.4" width="10.2" height="5.8" fill="#eeb8ab"/>
<rect x="182.7" y="770.4" width="10.2" height="5.8" fill="#ecaea0"/>
<rect x="192.6" y="770.4" width="10.2" height="5.8" fill="#eba394"/>
<rect x="202.5" y="770.4" width="10.2" height="5.8" fill="#e99a8a"/>
<rect x="212.4" y="770.4" width="10.2" height="5.8" fill="#e99383"/>
<rect x="222.3" y="770.4" width="10.2" height="5.8" fill="#e88a7a"/>
<rect x="232.3" y="770.4" width="10.2" height="5.8" fill="#e78271"/>
<rect x="242.2" y="770.4" width="10.2" height="5.8" fill="#e77968"/>
<rect x="252.1" y="770.4" width="10.2" height="5.8" fill="#e77160"/>
<rect x="262" y="770.4" width="10.2" height="5.8" fill="#e76858"/>
<rect x="271.9" y="770.4" width="10.2" height="5.8" fill="#e85f4f"/>
<rect x="281.8" y="770.4" width="10.2" height="5.8" fill="#e85646"/>
<rect x="291.7" y="770.4" width="10.2" height="5.8" fill="#ea4b3d"/>
<rect x="301.6" y="770.4" width="10.2" height="5.8" fill="#ec4134"/>
<rect x="311.5" y="770.4" width="10.2" height="5.8" fill="#ed342c"/>
<text x="128.8" y="765" text-anchor="middle">0</text>
<text x="171.8" y="765" text-anchor="middle">20</text>
<text x="223" y="765" text-anchor="middle">40</text>
<text x="277" y="765" text-anchor="middle">60</text>
<rect x="938.9" y="787.8" width="323.2" height="388.4" fill="#e3e3e3"/>
<line x1="957.6" y1="787.8" x2="957.6" y2="1176.2" stroke="#fff" stroke-width="1.1"/>
<line x1="989.3" y1="787.8" x2="989.3" y2="1176.2" stroke="#fff" stroke-width="1.1"/>
<line x1="1021" y1="787.8" x2="1021" y2="1176.2" stroke="#fff" stroke-width="1.1"/>
<line x1="1052.7" y1="787.8" x2="1052.7" y2="1176.2" stroke="#fff" stroke-width="1.1"/>
<line x1="1084.4" y1="787.8" x2="1084.4" y2="1176.2" stroke="#fff" stroke-width="1.1"/>
<line x1="1116.1" y1="787.8" x2="1116.1" y2="1176.2" stroke="#fff" stroke-width="1.1"/>
<line x1="1147.8" y1="787.8" x2="1147.8" y2="1176.2" stroke="#fff" stroke-width="1.1"/>
<line x1="1179.5" y1="787.8" x2="1179.5" y2="1176.2" stroke="#fff" stroke-width="1.1"/>
<line x1="1211.2" y1="787.8" x2="1211.2" y2="1176.2" stroke="#fff" stroke-width="1.1"/>
<line x1="1242.9" y1="787.8" x2="1242.9" y2="1176.2" stroke="#fff" stroke-width="1.1"/>
<line x1="938.9" y1="832.5" x2="1262.1" y2="832.5" stroke="#fff" stroke-width="1.1"/>
<line x1="938.9" y1="907.4" x2="1262.1" y2="907.4" stroke="#fff" stroke-width="1.1"/>
<line x1="938.9" y1="982.2" x2="1262.1" y2="982.2" stroke="#fff" stroke-width="1.1"/>
<line x1="938.9" y1="1057.2" x2="1262.1" y2="1057.2" stroke="#fff" stroke-width="1.1"/>
<line x1="938.9" y1="1132" x2="1262.1" y2="1132" stroke="#fff" stroke-width="1.1"/>
<rect x="941.8" y="795" width="32" height="75.2" fill="#edb3a5"/>
<rect x="973.5" y="795" width="32" height="75.2" fill="#e78170"/>
<rect x="1005.2" y="795" width="32" height="75.2" fill="#e77c6a"/>
<rect x="1036.9" y="795" width="32" height="75.2" fill="#e77362"/>
<rect x="1068.6" y="795" width="32" height="75.2" fill="#e76858"/>
<rect x="1100.2" y="795" width="32" height="75.2" fill="#e85a4a"/>
<rect x="1131.9" y="795" width="32" height="75.2" fill="#e95242"/>
<rect x="1163.6" y="795" width="32" height="75.2" fill="#eb483a"/>
<rect x="1195.3" y="795" width="32" height="75.2" fill="#ed3b30"/>
<rect x="1227" y="795" width="32" height="75.2" fill="#ee2b27"/>
<rect x="941.8" y="869.9" width="32" height="75.2" fill="#efc8bd"/>
<rect x="973.5" y="869.9" width="32" height="75.2" fill="#e88d7d"/>
<rect x="1005.2" y="869.9" width="32" height="75.2" fill="#e88777"/>
<rect x="1036.9" y="869.9" width="32" height="75.2" fill="#e77f6e"/>
<rect x="1068.6" y="869.9" width="32" height="75.2" fill="#e77564"/>
<rect x="1100.2" y="869.9" width="32" height="75.2" fill="#e76c5c"/>
<rect x="1131.9" y="869.9" width="32" height="75.2" fill="#e76555"/>
<rect x="1163.6" y="869.9" width="32" height="75.2" fill="#e85949"/>
<rect x="1195.3" y="869.9" width="32" height="75.2" fill="#e95243"/>
<rect x="1227" y="869.9" width="32" height="75.2" fill="#eb4739"/>
<rect x="941.8" y="944.8" width="32" height="75.2" fill="#f2d4cb"/>
<rect x="973.5" y="944.8" width="32" height="75.2" fill="#ea9b8b"/>
<rect x="1005.2" y="944.8" width="32" height="75.2" fill="#e99585"/>
<rect x="1036.9" y="944.8" width="32" height="75.2" fill="#e89181"/>
<rect x="1068.6" y="944.8" width="32" height="75.2" fill="#e88878"/>
<rect x="1100.2" y="944.8" width="32" height="75.2" fill="#e77e6d"/>
<rect x="1131.9" y="944.8" width="32" height="75.2" fill="#e77664"/>
<rect x="1163.6" y="944.8" width="32" height="75.2" fill="#e76959"/>
<rect x="1195.3" y="944.8" width="32" height="75.2" fill="#e85d4d"/>
<rect x="1227" y="944.8" width="32" height="75.2" fill="#ea4c3e"/>
<rect x="941.8" y="1019.7" width="32" height="75.2" fill="#f5e4de"/>
<rect x="973.5" y="1019.7" width="32" height="75.2" fill="#eaa090"/>
<rect x="1005.2" y="1019.7" width="32" height="75.2" fill="#e99a8a"/>
<rect x="1036.9" y="1019.7" width="32" height="75.2" fill="#e99686"/>
<rect x="1068.6" y="1019.7" width="32" height="75.2" fill="#e88e7e"/>
<rect x="1100.2" y="1019.7" width="32" height="75.2" fill="#e88675"/>
<rect x="1131.9" y="1019.7" width="32" height="75.2" fill="#e77c6a"/>
<rect x="1163.6" y="1019.7" width="32" height="75.2" fill="#e77160"/>
<rect x="1195.3" y="1019.7" width="32" height="75.2" fill="#e76858"/>
<rect x="1227" y="1019.7" width="32" height="75.2" fill="#e85b4b"/>
<rect x="941.8" y="1094.6" width="32" height="75.2" fill="#ffffff"/>
<rect x="973.5" y="1094.6" width="32" height="75.2" fill="#eca99a"/>
<rect x="1005.2" y="1094.6" width="32" height="75.2" fill="#eba595"/>
<rect x="1036.9" y="1094.6" width="32" height="75.2" fill="#eaa090"/>
<rect x="1068.6" y="1094.6" width="32" height="75.2" fill="#ea9b8b"/>
<rect x="1100.2" y="1094.6" width="32" height="75.2" fill="#e89181"/>
<rect x="1131.9" y="1094.6" width="32" height="75.2" fill="#e88676"/>
<rect x="1163.6" y="1094.6" width="32" height="75.2" fill="#e77b69"/>
<rect x="1195.3" y="1094.6" width="32" height="75.2" fill="#e7705f"/>
<rect x="1227" y="1094.6" width="32" height="75.2" fill="#e76555"/>
<text x="957.6" y="835.5" font-size="8.2" text-anchor="middle" fill="#111" textLength="28" lengthAdjust="spacingAndGlyphs">24.63</text>
<text x="989.3" y="835.5" font-size="8.2" text-anchor="middle" fill="#111" textLength="28" lengthAdjust="spacingAndGlyphs">44.72</text>
<text x="1021" y="835.5" font-size="8.2" text-anchor="middle" fill="#111" textLength="28" lengthAdjust="spacingAndGlyphs">46.72</text>
<text x="1052.7" y="835.5" font-size="8.2" text-anchor="middle" fill="#111" textLength="28" lengthAdjust="spacingAndGlyphs">50.38</text>
<text x="1084.4" y="835.5" font-size="8.2" text-anchor="middle" fill="#111" textLength="28" lengthAdjust="spacingAndGlyphs">54.89</text>
<text x="1116.1" y="835.5" font-size="8.2" text-anchor="middle" fill="#111" textLength="22.4" lengthAdjust="spacingAndGlyphs">60.6</text>
<text x="1147.8" y="835.5" font-size="8.2" text-anchor="middle" fill="#111" textLength="28" lengthAdjust="spacingAndGlyphs">63.56</text>
<text x="1179.5" y="835.5" font-size="8.2" text-anchor="middle" fill="#111" textLength="28" lengthAdjust="spacingAndGlyphs">67.17</text>
<text x="1211.2" y="835.5" font-size="8.2" text-anchor="middle" fill="#111" textLength="28" lengthAdjust="spacingAndGlyphs">71.14</text>
<text x="1242.9" y="835.5" font-size="8.2" text-anchor="middle" fill="#111" textLength="28" lengthAdjust="spacingAndGlyphs">75.16</text>
<text x="957.6" y="910.4" font-size="8.2" text-anchor="middle" fill="#111" textLength="28" lengthAdjust="spacingAndGlyphs">16.92</text>
<text x="989.3" y="910.4" font-size="8.2" text-anchor="middle" fill="#111" textLength="28" lengthAdjust="spacingAndGlyphs">39.46</text>
<text x="1021" y="910.4" font-size="8.2" text-anchor="middle" fill="#111" textLength="28" lengthAdjust="spacingAndGlyphs">41.99</text>
<text x="1052.7" y="910.4" font-size="8.2" text-anchor="middle" fill="#111" textLength="28" lengthAdjust="spacingAndGlyphs">45.31</text>
<text x="1084.4" y="910.4" font-size="8.2" text-anchor="middle" fill="#111" textLength="28" lengthAdjust="spacingAndGlyphs">49.67</text>
<text x="1116.1" y="910.4" font-size="8.2" text-anchor="middle" fill="#111" textLength="28" lengthAdjust="spacingAndGlyphs">53.31</text>
<text x="1147.8" y="910.4" font-size="8.2" text-anchor="middle" fill="#111" textLength="28" lengthAdjust="spacingAndGlyphs">56.22</text>
<text x="1179.5" y="910.4" font-size="8.2" text-anchor="middle" fill="#111" textLength="28" lengthAdjust="spacingAndGlyphs">60.73</text>
<text x="1211.2" y="910.4" font-size="8.2" text-anchor="middle" fill="#111" textLength="28" lengthAdjust="spacingAndGlyphs">63.36</text>
<text x="1242.9" y="910.4" font-size="8.2" text-anchor="middle" fill="#111" textLength="28" lengthAdjust="spacingAndGlyphs">67.38</text>
<text x="957.6" y="985.2" font-size="8.2" text-anchor="middle" fill="#111" textLength="28" lengthAdjust="spacingAndGlyphs">12.63</text>
<text x="989.3" y="985.2" font-size="8.2" text-anchor="middle" fill="#111" textLength="28" lengthAdjust="spacingAndGlyphs">33.22</text>
<text x="1021" y="985.2" font-size="8.2" text-anchor="middle" fill="#111" textLength="28" lengthAdjust="spacingAndGlyphs">35.95</text>
<text x="1052.7" y="985.2" font-size="8.2" text-anchor="middle" fill="#111" textLength="28" lengthAdjust="spacingAndGlyphs">37.76</text>
<text x="1084.4" y="985.2" font-size="8.2" text-anchor="middle" fill="#111" textLength="28" lengthAdjust="spacingAndGlyphs">41.71</text>
<text x="1116.1" y="985.2" font-size="8.2" text-anchor="middle" fill="#111" textLength="28" lengthAdjust="spacingAndGlyphs">45.82</text>
<text x="1147.8" y="985.2" font-size="8.2" text-anchor="middle" fill="#111" textLength="28" lengthAdjust="spacingAndGlyphs">49.45</text>
<text x="1179.5" y="985.2" font-size="8.2" text-anchor="middle" fill="#111" textLength="28" lengthAdjust="spacingAndGlyphs">54.49</text>
<text x="1211.2" y="985.2" font-size="8.2" text-anchor="middle" fill="#111" textLength="28" lengthAdjust="spacingAndGlyphs">59.36</text>
<text x="1242.9" y="985.2" font-size="8.2" text-anchor="middle" fill="#111" textLength="28" lengthAdjust="spacingAndGlyphs">65.45</text>
<text x="957.6" y="1060.2" font-size="8.2" text-anchor="middle" fill="#111" textLength="22.4" lengthAdjust="spacingAndGlyphs">8.56</text>
<text x="989.3" y="1060.2" font-size="8.2" text-anchor="middle" fill="#111" textLength="28" lengthAdjust="spacingAndGlyphs">30.91</text>
<text x="1021" y="1060.2" font-size="8.2" text-anchor="middle" fill="#111" textLength="28" lengthAdjust="spacingAndGlyphs">33.86</text>
<text x="1052.7" y="1060.2" font-size="8.2" text-anchor="middle" fill="#111" textLength="28" lengthAdjust="spacingAndGlyphs">35.42</text>
<text x="1084.4" y="1060.2" font-size="8.2" text-anchor="middle" fill="#111" textLength="22.4" lengthAdjust="spacingAndGlyphs">38.9</text>
<text x="1116.1" y="1060.2" font-size="8.2" text-anchor="middle" fill="#111" textLength="28" lengthAdjust="spacingAndGlyphs">42.55</text>
<text x="1147.8" y="1060.2" font-size="8.2" text-anchor="middle" fill="#111" textLength="28" lengthAdjust="spacingAndGlyphs">46.67</text>
<text x="1179.5" y="1060.2" font-size="8.2" text-anchor="middle" fill="#111" textLength="28" lengthAdjust="spacingAndGlyphs">51.46</text>
<text x="1211.2" y="1060.2" font-size="8.2" text-anchor="middle" fill="#111" textLength="28" lengthAdjust="spacingAndGlyphs">55.19</text>
<text x="1242.9" y="1060.2" font-size="8.2" text-anchor="middle" fill="#111" textLength="28" lengthAdjust="spacingAndGlyphs">60.09</text>
<text x="957.6" y="1135" font-size="8.2" text-anchor="middle" fill="#111" textLength="5.6" lengthAdjust="spacingAndGlyphs">0</text>
<text x="989.3" y="1135" font-size="8.2" text-anchor="middle" fill="#111" textLength="28" lengthAdjust="spacingAndGlyphs">27.96</text>
<text x="1021" y="1135" font-size="8.2" text-anchor="middle" fill="#111" textLength="28" lengthAdjust="spacingAndGlyphs">29.47</text>
<text x="1052.7" y="1135" font-size="8.2" text-anchor="middle" fill="#111" textLength="28" lengthAdjust="spacingAndGlyphs">31.05</text>
<text x="1084.4" y="1135" font-size="8.2" text-anchor="middle" fill="#111" textLength="28" lengthAdjust="spacingAndGlyphs">33.15</text>
<text x="1116.1" y="1135" font-size="8.2" text-anchor="middle" fill="#111" textLength="28" lengthAdjust="spacingAndGlyphs">37.85</text>
<text x="1147.8" y="1135" font-size="8.2" text-anchor="middle" fill="#111" textLength="28" lengthAdjust="spacingAndGlyphs">42.46</text>
<text x="1179.5" y="1135" font-size="8.2" text-anchor="middle" fill="#111" textLength="28" lengthAdjust="spacingAndGlyphs">47.12</text>
<text x="1211.2" y="1135" font-size="8.2" text-anchor="middle" fill="#111" textLength="28" lengthAdjust="spacingAndGlyphs">51.63</text>
<text x="1242.9" y="1135" font-size="8.2" text-anchor="middle" fill="#111" textLength="28" lengthAdjust="spacingAndGlyphs">56.36</text>
<line x1="934.9" y1="832.5" x2="937.9" y2="832.5" stroke="#333" stroke-width="1"/>
<text x="929.5" y="838.7" text-anchor="end">8</text>
<line x1="934.9" y1="907.4" x2="937.9" y2="907.4" stroke="#333" stroke-width="1"/>
<text x="929.5" y="913.6" text-anchor="end">6</text>
<line x1="934.9" y1="982.2" x2="937.9" y2="982.2" stroke="#333" stroke-width="1"/>
<text x="929.5" y="988.5" text-anchor="end">4</text>
<line x1="934.9" y1="1057.2" x2="937.9" y2="1057.2" stroke="#333" stroke-width="1"/>
<text x="929.5" y="1063.4" text-anchor="end">2</text>
<line x1="934.9" y1="1132" x2="937.9" y2="1132" stroke="#333" stroke-width="1"/>
<text x="929.5" y="1138.2" text-anchor="end">0</text>
<line x1="957.6" y1="1176.2" x2="957.6" y2="1179.7" stroke="#333" stroke-width="1"/>
<text x="950.6" y="1200.2" text-anchor="middle">0</text>
<line x1="989.3" y1="1176.2" x2="989.3" y2="1179.7" stroke="#333" stroke-width="1"/>
<text x="1000.3" y="1191.2" text-anchor="end" transform="rotate(-45 1000.3 1191.2)">0.1</text>
<line x1="1021" y1="1176.2" x2="1021" y2="1179.7" stroke="#333" stroke-width="1"/>
<text x="1032" y="1191.2" text-anchor="end" transform="rotate(-45 1032 1191.2)">0.2</text>
<line x1="1052.7" y1="1176.2" x2="1052.7" y2="1179.7" stroke="#333" stroke-width="1"/>
<text x="1063.7" y="1191.2" text-anchor="end" transform="rotate(-45 1063.7 1191.2)">0.4</text>
<line x1="1084.4" y1="1176.2" x2="1084.4" y2="1179.7" stroke="#333" stroke-width="1"/>
<text x="1095.4" y="1191.2" text-anchor="end" transform="rotate(-45 1095.4 1191.2)">0.8</text>
<line x1="1116.1" y1="1176.2" x2="1116.1" y2="1179.7" stroke="#333" stroke-width="1"/>
<text x="1127.1" y="1191.2" text-anchor="end" transform="rotate(-45 1127.1 1191.2)">1.6</text>
<line x1="1147.8" y1="1176.2" x2="1147.8" y2="1179.7" stroke="#333" stroke-width="1"/>
<text x="1158.8" y="1191.2" text-anchor="end" transform="rotate(-45 1158.8 1191.2)">3.2</text>
<line x1="1179.5" y1="1176.2" x2="1179.5" y2="1179.7" stroke="#333" stroke-width="1"/>
<text x="1190.5" y="1191.2" text-anchor="end" transform="rotate(-45 1190.5 1191.2)">6.4</text>
<line x1="1211.2" y1="1176.2" x2="1211.2" y2="1179.7" stroke="#333" stroke-width="1"/>
<text x="1222.2" y="1191.2" text-anchor="end" transform="rotate(-45 1222.2 1191.2)">12.8</text>
<line x1="1242.9" y1="1176.2" x2="1242.9" y2="1179.7" stroke="#333" stroke-width="1"/>
<text x="1253.9" y="1191.2" text-anchor="end" transform="rotate(-45 1253.9 1191.2)">25.6</text>
<text x="1097" y="1243.5" text-anchor="middle" font-size="24">Doc (μM)</text>
<text x="891" y="977.2" text-anchor="middle" font-size="24" transform="rotate(-90 891 977.2)">CSN5i-3 (μM)</text>
<text x="1103.7" y="723.5" text-anchor="middle" font-size="24">inhibition(%)</text>
<rect x="1004.6" y="769.6" width="10.2" height="5.6" fill="#f9f0ec"/>
<rect x="1014.5" y="769.6" width="10.2" height="5.6" fill="#f5e4de"/>
<rect x="1024.4" y="769.6" width="10.2" height="5.6" fill="#f2d6cd"/>
<rect x="1034.2" y="769.6" width="10.2" height="5.6" fill="#f0ccc1"/>
<rect x="1044.1" y="769.6" width="10.2" height="5.6" fill="#efc1b6"/>
<rect x="1054" y="769.6" width="10.2" height="5.6" fill="#eeb8ab"/>
<rect x="1063.9" y="769.6" width="10.2" height="5.6" fill="#ecaea0"/>
<rect x="1073.8" y="769.6" width="10.2" height="5.6" fill="#eba394"/>
<rect x="1083.6" y="769.6" width="10.2" height="5.6" fill="#e99a8a"/>
<rect x="1093.5" y="769.6" width="10.2" height="5.6" fill="#e99383"/>
<rect x="1103.4" y="769.6" width="10.2" height="5.6" fill="#e88a7a"/>
<rect x="1113.3" y="769.6" width="10.2" height="5.6" fill="#e78271"/>
<rect x="1123.2" y="769.6" width="10.2" height="5.6" fill="#e77968"/>
<rect x="1133" y="769.6" width="10.2" height="5.6" fill="#e77160"/>
<rect x="1142.9" y="769.6" width="10.2" height="5.6" fill="#e76858"/>
<rect x="1152.8" y="769.6" width="10.2" height="5.6" fill="#e85f4f"/>
<rect x="1162.7" y="769.6" width="10.2" height="5.6" fill="#e85646"/>
<rect x="1172.6" y="769.6" width="10.2" height="5.6" fill="#ea4b3d"/>
<rect x="1182.4" y="769.6" width="10.2" height="5.6" fill="#ec4134"/>
<rect x="1192.3" y="769.6" width="10.2" height="5.6" fill="#ed342c"/>
<text x="1009.8" y="765" text-anchor="middle">0</text>
<text x="1052.9" y="765" text-anchor="middle">20</text>
<text x="1103.8" y="765" text-anchor="middle">40</text>
<text x="1158" y="765" text-anchor="middle">60</text>
<defs><linearGradient id="z484_0"><stop offset="0" stop-color="#f8e7e9"/><stop offset="0.042" stop-color="#e87f88"/><stop offset="0.083" stop-color="#e75760"/><stop offset="0.125" stop-color="#eb3e42"/><stop offset="0.167" stop-color="#eb3d41"/><stop offset="0.208" stop-color="#eb3f44"/><stop offset="0.25" stop-color="#eb4146"/><stop offset="0.292" stop-color="#ea4247"/><stop offset="0.333" stop-color="#ea4248"/><stop offset="0.375" stop-color="#ea4348"/><stop offset="0.417" stop-color="#ea4349"/><stop offset="0.458" stop-color="#ea4248"/><stop offset="0.5" stop-color="#ea4248"/><stop offset="0.542" stop-color="#eb4147"/><stop offset="0.583" stop-color="#eb4147"/><stop offset="0.625" stop-color="#eb4146"/><stop offset="0.667" stop-color="#eb4045"/><stop offset="0.708" stop-color="#eb3f44"/><stop offset="0.75" stop-color="#eb3f43"/><stop offset="0.792" stop-color="#eb3f44"/><stop offset="0.833" stop-color="#eb4045"/><stop offset="0.875" stop-color="#eb4146"/><stop offset="0.917" stop-color="#ea444a"/><stop offset="0.958" stop-color="#e9474e"/><stop offset="1" stop-color="#e94b53"/></linearGradient><linearGradient id="z484_1"><stop offset="0" stop-color="#f9e7ea"/><stop offset="0.042" stop-color="#e88089"/><stop offset="0.083" stop-color="#e75760"/><stop offset="0.125" stop-color="#eb3f44"/><stop offset="0.167" stop-color="#eb3e43"/><stop offset="0.208" stop-color="#eb4045"/><stop offset="0.25" stop-color="#ea4248"/><stop offset="0.292" stop-color="#ea4349"/><stop offset="0.333" stop-color="#ea4349"/><stop offset="0.375" stop-color="#ea444a"/><stop offset="0.417" stop-color="#ea444a"/><stop offset="0.458" stop-color="#ea444a"/><stop offset="0.5" stop-color="#ea4349"/><stop offset="0.542" stop-color="#ea4349"/><stop offset="0.583" stop-color="#ea4248"/><stop offset="0.625" stop-color="#ea4247"/><stop offset="0.667" stop-color="#eb4146"/><stop offset="0.708" stop-color="#eb4045"/><stop offset="0.75" stop-color="#eb4045"/><stop offset="0.792" stop-color="#eb4045"/><stop offset="0.833" stop-color="#eb4146"/><stop offset="0.875" stop-color="#ea4247"/><stop offset="0.917" stop-color="#ea454b"/><stop offset="0.958" stop-color="#e94950"/><stop offset="1" stop-color="#e84d55"/></linearGradient><linearGradient id="z484_2"><stop offset="0" stop-color="#f9e8ea"/><stop offset="0.042" stop-color="#e8818a"/><stop offset="0.083" stop-color="#e75861"/><stop offset="0.125" stop-color="#eb4045"/><stop offset="0.167" stop-color="#eb3f44"/><stop offset="0.208" stop-color="#eb4146"/><stop offset="0.25" stop-color="#ea4349"/><stop offset="0.292" stop-color="#ea444a"/><stop offset="0.333" stop-color="#ea454b"/><stop offset="0.375" stop-color="#ea454c"/><stop offset="0.417" stop-color="#ea454c"/><stop offset="0.458" stop-color="#ea454b"/><stop offset="0.5" stop-color="#ea454b"/><stop offset="0.542" stop-color="#ea444a"/><stop offset="0.583" stop-color="#ea444a"/><stop offset="0.625" stop-color="#ea4349"/><stop offset="0.667" stop-color="#ea4248"/><stop offset="0.708" stop-color="#eb4147"/><stop offset="0.75" stop-color="#eb4146"/><stop offset="0.792" stop-color="#eb4146"/><stop offset="0.833" stop-color="#ea4247"/><stop offset="0.875" stop-color="#ea4349"/><stop offset="0.917" stop-color="#ea464d"/><stop offset="0.958" stop-color="#e94a51"/><stop offset="1" stop-color="#e84f57"/></linearGradient><linearGradient id="z484_3"><stop offset="0" stop-color="#f9e8ea"/><stop offset="0.042" stop-color="#e9828b"/><stop offset="0.083" stop-color="#e75962"/><stop offset="0.125" stop-color="#eb4146"/><stop offset="0.167" stop-color="#eb4045"/><stop offset="0.208" stop-color="#ea4248"/><stop offset="0.25" stop-color="#ea454b"/><stop offset="0.292" stop-color="#ea464c"/><stop offset="0.333" stop-color="#ea464d"/><stop offset="0.375" stop-color="#e9474d"/><stop offset="0.417" stop-color="#e9474d"/><stop offset="0.458" stop-color="#e9474d"/><stop offset="0.5" stop-color="#ea464c"/><stop offset="0.542" stop-color="#ea454c"/><stop offset="0.583" stop-color="#ea454b"/><stop offset="0.625" stop-color="#ea444a"/><stop offset="0.667" stop-color="#ea4349"/><stop offset="0.708" stop-color="#ea4248"/><stop offset="0.75" stop-color="#ea4248"/><stop offset="0.792" stop-color="#ea4248"/><stop offset="0.833" stop-color="#ea4349"/><stop offset="0.875" stop-color="#ea444b"/><stop offset="0.917" stop-color="#e9484e"/><stop offset="0.958" stop-color="#e94b53"/><stop offset="1" stop-color="#e8515a"/></linearGradient><linearGradient id="z484_4"><stop offset="0" stop-color="#f9e8eb"/><stop offset="0.042" stop-color="#e9838c"/><stop offset="0.083" stop-color="#e75a63"/><stop offset="0.125" stop-color="#ea4248"/><stop offset="0.167" stop-color="#eb4147"/><stop offset="0.208" stop-color="#ea444a"/><stop offset="0.25" stop-color="#ea464c"/><stop offset="0.292" stop-color="#e9474d"/><stop offset="0.333" stop-color="#e9474e"/><stop offset="0.375" stop-color="#e9484f"/><stop offset="0.417" stop-color="#e9484f"/><stop offset="0.458" stop-color="#e9484f"/><stop offset="0.5" stop-color="#e9474e"/><stop offset="0.542" stop-color="#e9474d"/><stop offset="0.583" stop-color="#ea464d"/><stop offset="0.625" stop-color="#ea464c"/><stop offset="0.667" stop-color="#ea454b"/><stop offset="0.708" stop-color="#ea444a"/><stop offset="0.75" stop-color="#ea4349"/><stop offset="0.792" stop-color="#ea4449"/><stop offset="0.833" stop-color="#ea454b"/><stop offset="0.875" stop-color="#ea464c"/><stop offset="0.917" stop-color="#e94950"/><stop offset="0.958" stop-color="#e84d55"/><stop offset="1" stop-color="#e7535c"/></linearGradient><linearGradient id="z484_5"><stop offset="0" stop-color="#f9e9eb"/><stop offset="0.042" stop-color="#e9848d"/><stop offset="0.083" stop-color="#e75b64"/><stop offset="0.125" stop-color="#ea4449"/><stop offset="0.167" stop-color="#ea4348"/><stop offset="0.208" stop-color="#ea454b"/><stop offset="0.25" stop-color="#e9474e"/><stop offset="0.292" stop-color="#e9484f"/><stop offset="0.333" stop-color="#e94950"/><stop offset="0.375" stop-color="#e94950"/><stop offset="0.417" stop-color="#e94951"/><stop offset="0.458" stop-color="#e94950"/><stop offset="0.5" stop-color="#e94950"/><stop offset="0.542" stop-color="#e9484f"/><stop offset="0.583" stop-color="#e9484e"/><stop offset="0.625" stop-color="#e9474e"/><stop offset="0.667" stop-color="#ea464d"/><stop offset="0.708" stop-color="#ea454b"/><stop offset="0.75" stop-color="#ea454b"/><stop offset="0.792" stop-color="#ea454b"/><stop offset="0.833" stop-color="#ea464c"/><stop offset="0.875" stop-color="#e9474e"/><stop offset="0.917" stop-color="#e94a52"/><stop offset="0.958" stop-color="#e84f57"/><stop offset="1" stop-color="#e7555e"/></linearGradient><linearGradient id="z484_6"><stop offset="0" stop-color="#f9e9eb"/><stop offset="0.042" stop-color="#e9858e"/><stop offset="0.083" stop-color="#e65b65"/><stop offset="0.125" stop-color="#ea454b"/><stop offset="0.167" stop-color="#ea444a"/><stop offset="0.208" stop-color="#ea464d"/><stop offset="0.25" stop-color="#e94950"/><stop offset="0.292" stop-color="#e94a51"/><stop offset="0.333" stop-color="#e94a51"/><stop offset="0.375" stop-color="#e94b52"/><stop offset="0.417" stop-color="#e94b52"/><stop offset="0.458" stop-color="#e94b52"/><stop offset="0.5" stop-color="#e94a51"/><stop offset="0.542" stop-color="#e94951"/><stop offset="0.583" stop-color="#e94950"/><stop offset="0.625" stop-color="#e9484f"/><stop offset="0.667" stop-color="#e9474e"/><stop offset="0.708" stop-color="#ea464d"/><stop offset="0.75" stop-color="#ea464c"/><stop offset="0.792" stop-color="#ea464d"/><stop offset="0.833" stop-color="#e9474e"/><stop offset="0.875" stop-color="#e9484f"/><stop offset="0.917" stop-color="#e84c53"/><stop offset="0.958" stop-color="#e8515a"/><stop offset="1" stop-color="#e75760"/></linearGradient><linearGradient id="z484_7"><stop offset="0" stop-color="#f9eaeb"/><stop offset="0.042" stop-color="#e9868f"/><stop offset="0.083" stop-color="#e65c66"/><stop offset="0.125" stop-color="#ea464d"/><stop offset="0.167" stop-color="#ea454b"/><stop offset="0.208" stop-color="#e9484e"/><stop offset="0.25" stop-color="#e94a51"/><stop offset="0.292" stop-color="#e94b52"/><stop offset="0.333" stop-color="#e94b53"/><stop offset="0.375" stop-color="#e84c54"/><stop offset="0.417" stop-color="#e84c54"/><stop offset="0.458" stop-color="#e84c53"/><stop offset="0.5" stop-color="#e94b53"/><stop offset="0.542" stop-color="#e94b52"/><stop offset="0.583" stop-color="#e94a52"/><stop offset="0.625" stop-color="#e94a51"/><stop offset="0.667" stop-color="#e94950"/><stop offset="0.708" stop-color="#e9484f"/><stop offset="0.75" stop-color="#e9474e"/><stop offset="0.792" stop-color="#e9484e"/><stop offset="0.833" stop-color="#e9494f"/><stop offset="0.875" stop-color="#e94a51"/><stop offset="0.917" stop-color="#e84e55"/><stop offset="0.958" stop-color="#e7535c"/><stop offset="1" stop-color="#e75963"/></linearGradient><linearGradient id="z484_8"><stop offset="0" stop-color="#f9eaec"/><stop offset="0.042" stop-color="#e98790"/><stop offset="0.083" stop-color="#e65d67"/><stop offset="0.125" stop-color="#e9484e"/><stop offset="0.167" stop-color="#e9474d"/><stop offset="0.208" stop-color="#e94950"/><stop offset="0.25" stop-color="#e94b53"/><stop offset="0.292" stop-color="#e84c54"/><stop offset="0.333" stop-color="#e84d55"/><stop offset="0.375" stop-color="#e84e56"/><stop offset="0.417" stop-color="#e84e56"/><stop offset="0.458" stop-color="#e84e56"/><stop offset="0.5" stop-color="#e84d55"/><stop offset="0.542" stop-color="#e84c54"/><stop offset="0.583" stop-color="#e84c53"/><stop offset="0.625" stop-color="#e94b52"/><stop offset="0.667" stop-color="#e94a51"/><stop offset="0.708" stop-color="#e94950"/><stop offset="0.75" stop-color="#e94950"/><stop offset="0.792" stop-color="#e94950"/><stop offset="0.833" stop-color="#e94a51"/><stop offset="0.875" stop-color="#e94b53"/><stop offset="0.917" stop-color="#e85058"/><stop offset="0.958" stop-color="#e7555e"/><stop offset="1" stop-color="#e65b65"/></linearGradient><linearGradient id="z484_9"><stop offset="0" stop-color="#f9eaec"/><stop offset="0.042" stop-color="#e98992"/><stop offset="0.083" stop-color="#e65e68"/><stop offset="0.125" stop-color="#e94950"/><stop offset="0.167" stop-color="#e9484f"/><stop offset="0.208" stop-color="#e94a52"/><stop offset="0.25" stop-color="#e84d55"/><stop offset="0.292" stop-color="#e84e56"/><stop offset="0.333" stop-color="#e84f57"/><stop offset="0.375" stop-color="#e85058"/><stop offset="0.417" stop-color="#e85058"/><stop offset="0.458" stop-color="#e85058"/><stop offset="0.5" stop-color="#e84f57"/><stop offset="0.542" stop-color="#e84e56"/><stop offset="0.583" stop-color="#e84d55"/><stop offset="0.625" stop-color="#e84c54"/><stop offset="0.667" stop-color="#e94b53"/><stop offset="0.708" stop-color="#e94a52"/><stop offset="0.75" stop-color="#e94a51"/><stop offset="0.792" stop-color="#e94a52"/><stop offset="0.833" stop-color="#e94b53"/><stop offset="0.875" stop-color="#e84d54"/><stop offset="0.917" stop-color="#e8525a"/><stop offset="0.958" stop-color="#e75760"/><stop offset="1" stop-color="#e65d67"/></linearGradient><linearGradient id="z484_10"><stop offset="0" stop-color="#faebed"/><stop offset="0.042" stop-color="#ea8d95"/><stop offset="0.083" stop-color="#e65f69"/><stop offset="0.125" stop-color="#e94a51"/><stop offset="0.167" stop-color="#e94950"/><stop offset="0.208" stop-color="#e84c53"/><stop offset="0.25" stop-color="#e84f57"/><stop offset="0.292" stop-color="#e85059"/><stop offset="0.333" stop-color="#e8515a"/><stop offset="0.375" stop-color="#e8525a"/><stop offset="0.417" stop-color="#e8525b"/><stop offset="0.458" stop-color="#e8525a"/><stop offset="0.5" stop-color="#e85159"/><stop offset="0.542" stop-color="#e85059"/><stop offset="0.583" stop-color="#e85058"/><stop offset="0.625" stop-color="#e84f57"/><stop offset="0.667" stop-color="#e84d55"/><stop offset="0.708" stop-color="#e84c53"/><stop offset="0.75" stop-color="#e94b53"/><stop offset="0.792" stop-color="#e84c53"/><stop offset="0.833" stop-color="#e84d54"/><stop offset="0.875" stop-color="#e84f57"/><stop offset="0.917" stop-color="#e7545c"/><stop offset="0.958" stop-color="#e75962"/><stop offset="1" stop-color="#e6616b"/></linearGradient><linearGradient id="z484_11"><stop offset="0" stop-color="#faeced"/><stop offset="0.042" stop-color="#ea9098"/><stop offset="0.083" stop-color="#e6616b"/><stop offset="0.125" stop-color="#e84c53"/><stop offset="0.167" stop-color="#e94b52"/><stop offset="0.208" stop-color="#e84d55"/><stop offset="0.25" stop-color="#e85159"/><stop offset="0.292" stop-color="#e7525b"/><stop offset="0.333" stop-color="#e7535c"/><stop offset="0.375" stop-color="#e7545d"/><stop offset="0.417" stop-color="#e7545d"/><stop offset="0.458" stop-color="#e7545c"/><stop offset="0.5" stop-color="#e7535c"/><stop offset="0.542" stop-color="#e8525b"/><stop offset="0.583" stop-color="#e8525a"/><stop offset="0.625" stop-color="#e85159"/><stop offset="0.667" stop-color="#e84f57"/><stop offset="0.708" stop-color="#e84e56"/><stop offset="0.75" stop-color="#e84d55"/><stop offset="0.792" stop-color="#e84d55"/><stop offset="0.833" stop-color="#e84f57"/><stop offset="0.875" stop-color="#e85159"/><stop offset="0.917" stop-color="#e7565e"/><stop offset="0.958" stop-color="#e65b65"/><stop offset="1" stop-color="#e6646e"/></linearGradient><linearGradient id="z484_12"><stop offset="0" stop-color="#faecee"/><stop offset="0.042" stop-color="#ea939b"/><stop offset="0.083" stop-color="#e6626c"/><stop offset="0.125" stop-color="#e84d55"/><stop offset="0.167" stop-color="#e84c53"/><stop offset="0.208" stop-color="#e84f58"/><stop offset="0.25" stop-color="#e7535b"/><stop offset="0.292" stop-color="#e7545d"/><stop offset="0.333" stop-color="#e7555e"/><stop offset="0.375" stop-color="#e7565f"/><stop offset="0.417" stop-color="#e7565f"/><stop offset="0.458" stop-color="#e7565f"/><stop offset="0.5" stop-color="#e7555e"/><stop offset="0.542" stop-color="#e7545d"/><stop offset="0.583" stop-color="#e7545c"/><stop offset="0.625" stop-color="#e7535b"/><stop offset="0.667" stop-color="#e8515a"/><stop offset="0.708" stop-color="#e85058"/><stop offset="0.75" stop-color="#e84f57"/><stop offset="0.792" stop-color="#e84f58"/><stop offset="0.833" stop-color="#e85159"/><stop offset="0.875" stop-color="#e7535b"/><stop offset="0.917" stop-color="#e75861"/><stop offset="0.958" stop-color="#e65d67"/><stop offset="1" stop-color="#e76872"/></linearGradient><linearGradient id="z484_13"><stop offset="0" stop-color="#faedee"/><stop offset="0.042" stop-color="#ea969e"/><stop offset="0.083" stop-color="#e6646e"/><stop offset="0.125" stop-color="#e84f57"/><stop offset="0.167" stop-color="#e84e56"/><stop offset="0.208" stop-color="#e8515a"/><stop offset="0.25" stop-color="#e7555e"/><stop offset="0.292" stop-color="#e7565f"/><stop offset="0.333" stop-color="#e75760"/><stop offset="0.375" stop-color="#e75861"/><stop offset="0.417" stop-color="#e75861"/><stop offset="0.458" stop-color="#e75861"/><stop offset="0.5" stop-color="#e75760"/><stop offset="0.542" stop-color="#e7565f"/><stop offset="0.583" stop-color="#e7565e"/><stop offset="0.625" stop-color="#e7555d"/><stop offset="0.667" stop-color="#e7535c"/><stop offset="0.708" stop-color="#e8525a"/><stop offset="0.75" stop-color="#e85159"/><stop offset="0.792" stop-color="#e8515a"/><stop offset="0.833" stop-color="#e7535b"/><stop offset="0.875" stop-color="#e7555d"/><stop offset="0.917" stop-color="#e75a63"/><stop offset="0.958" stop-color="#e6616b"/><stop offset="1" stop-color="#e76b75"/></linearGradient><linearGradient id="z484_14"><stop offset="0" stop-color="#faedef"/><stop offset="0.042" stop-color="#eb99a1"/><stop offset="0.083" stop-color="#e66670"/><stop offset="0.125" stop-color="#e8515a"/><stop offset="0.167" stop-color="#e85058"/><stop offset="0.208" stop-color="#e7535c"/><stop offset="0.25" stop-color="#e75760"/><stop offset="0.292" stop-color="#e75862"/><stop offset="0.333" stop-color="#e75962"/><stop offset="0.375" stop-color="#e75a63"/><stop offset="0.417" stop-color="#e75a64"/><stop offset="0.458" stop-color="#e75a63"/><stop offset="0.5" stop-color="#e75962"/><stop offset="0.542" stop-color="#e75861"/><stop offset="0.583" stop-color="#e75861"/><stop offset="0.625" stop-color="#e75760"/><stop offset="0.667" stop-color="#e7555e"/><stop offset="0.708" stop-color="#e7545c"/><stop offset="0.75" stop-color="#e7535b"/><stop offset="0.792" stop-color="#e7535c"/><stop offset="0.833" stop-color="#e7555e"/><stop offset="0.875" stop-color="#e75760"/><stop offset="0.917" stop-color="#e65c65"/><stop offset="0.958" stop-color="#e6646e"/><stop offset="1" stop-color="#e76f79"/></linearGradient><linearGradient id="z484_15"><stop offset="0" stop-color="#faeeef"/><stop offset="0.042" stop-color="#eb9ca4"/><stop offset="0.083" stop-color="#e76771"/><stop offset="0.125" stop-color="#e7535c"/><stop offset="0.167" stop-color="#e8525a"/><stop offset="0.208" stop-color="#e7555e"/><stop offset="0.25" stop-color="#e75962"/><stop offset="0.292" stop-color="#e75a64"/><stop offset="0.333" stop-color="#e65b65"/><stop offset="0.375" stop-color="#e65c66"/><stop offset="0.417" stop-color="#e65c66"/><stop offset="0.458" stop-color="#e65c65"/><stop offset="0.5" stop-color="#e65b64"/><stop offset="0.542" stop-color="#e75a64"/><stop offset="0.583" stop-color="#e75963"/><stop offset="0.625" stop-color="#e75962"/><stop offset="0.667" stop-color="#e75760"/><stop offset="0.708" stop-color="#e7565f"/><stop offset="0.75" stop-color="#e7555e"/><stop offset="0.792" stop-color="#e7555e"/><stop offset="0.833" stop-color="#e75760"/><stop offset="0.875" stop-color="#e75962"/><stop offset="0.917" stop-color="#e65e68"/><stop offset="0.958" stop-color="#e76771"/><stop offset="1" stop-color="#e87780"/></linearGradient><linearGradient id="z484_16"><stop offset="0" stop-color="#fbeff0"/><stop offset="0.042" stop-color="#eb9fa6"/><stop offset="0.083" stop-color="#e76973"/><stop offset="0.125" stop-color="#e7555e"/><stop offset="0.167" stop-color="#e7545d"/><stop offset="0.208" stop-color="#e75761"/><stop offset="0.25" stop-color="#e65b64"/><stop offset="0.292" stop-color="#e65c66"/><stop offset="0.333" stop-color="#e65d67"/><stop offset="0.375" stop-color="#e65f68"/><stop offset="0.417" stop-color="#e65f69"/><stop offset="0.458" stop-color="#e65e68"/><stop offset="0.5" stop-color="#e65d67"/><stop offset="0.542" stop-color="#e65c66"/><stop offset="0.583" stop-color="#e65b65"/><stop offset="0.625" stop-color="#e75b64"/><stop offset="0.667" stop-color="#e75962"/><stop offset="0.708" stop-color="#e75861"/><stop offset="0.75" stop-color="#e75760"/><stop offset="0.792" stop-color="#e75760"/><stop offset="0.833" stop-color="#e75962"/><stop offset="0.875" stop-color="#e75b64"/><stop offset="0.917" stop-color="#e6616b"/><stop offset="0.958" stop-color="#e76b75"/><stop offset="1" stop-color="#e87e88"/></linearGradient><linearGradient id="z484_17"><stop offset="0" stop-color="#fbeff1"/><stop offset="0.042" stop-color="#eca2aa"/><stop offset="0.083" stop-color="#e76a74"/><stop offset="0.125" stop-color="#e75760"/><stop offset="0.167" stop-color="#e7565f"/><stop offset="0.208" stop-color="#e75963"/><stop offset="0.25" stop-color="#e65d67"/><stop offset="0.292" stop-color="#e65f69"/><stop offset="0.333" stop-color="#e6616b"/><stop offset="0.375" stop-color="#e6626c"/><stop offset="0.417" stop-color="#e6626c"/><stop offset="0.458" stop-color="#e6626c"/><stop offset="0.5" stop-color="#e6606a"/><stop offset="0.542" stop-color="#e65f69"/><stop offset="0.583" stop-color="#e65e68"/><stop offset="0.625" stop-color="#e65d66"/><stop offset="0.667" stop-color="#e65b65"/><stop offset="0.708" stop-color="#e75a63"/><stop offset="0.75" stop-color="#e75962"/><stop offset="0.792" stop-color="#e75963"/><stop offset="0.833" stop-color="#e65b64"/><stop offset="0.875" stop-color="#e65d66"/><stop offset="0.917" stop-color="#e6656f"/><stop offset="0.958" stop-color="#e76f79"/><stop offset="1" stop-color="#e9868f"/></linearGradient><linearGradient id="z484_18"><stop offset="0" stop-color="#fbf0f2"/><stop offset="0.042" stop-color="#eca7ae"/><stop offset="0.083" stop-color="#e76c76"/><stop offset="0.125" stop-color="#e75963"/><stop offset="0.167" stop-color="#e75861"/><stop offset="0.208" stop-color="#e65b65"/><stop offset="0.25" stop-color="#e6606a"/><stop offset="0.292" stop-color="#e6636d"/><stop offset="0.333" stop-color="#e6646e"/><stop offset="0.375" stop-color="#e6656f"/><stop offset="0.417" stop-color="#e66670"/><stop offset="0.458" stop-color="#e6656f"/><stop offset="0.5" stop-color="#e6646e"/><stop offset="0.542" stop-color="#e6626c"/><stop offset="0.583" stop-color="#e6616b"/><stop offset="0.625" stop-color="#e6606a"/><stop offset="0.667" stop-color="#e65d67"/><stop offset="0.708" stop-color="#e65c65"/><stop offset="0.75" stop-color="#e65b64"/><stop offset="0.792" stop-color="#e65b65"/><stop offset="0.833" stop-color="#e65d66"/><stop offset="0.875" stop-color="#e6606a"/><stop offset="0.917" stop-color="#e76872"/><stop offset="0.958" stop-color="#e87680"/><stop offset="1" stop-color="#ea939b"/></linearGradient><linearGradient id="z484_19"><stop offset="0" stop-color="#fbf1f2"/><stop offset="0.042" stop-color="#edacb3"/><stop offset="0.083" stop-color="#e7707a"/><stop offset="0.125" stop-color="#e65b65"/><stop offset="0.167" stop-color="#e75a63"/><stop offset="0.208" stop-color="#e65e68"/><stop offset="0.25" stop-color="#e6646e"/><stop offset="0.292" stop-color="#e66670"/><stop offset="0.333" stop-color="#e76872"/><stop offset="0.375" stop-color="#e76973"/><stop offset="0.417" stop-color="#e76973"/><stop offset="0.458" stop-color="#e76973"/><stop offset="0.5" stop-color="#e76771"/><stop offset="0.542" stop-color="#e66670"/><stop offset="0.583" stop-color="#e6656f"/><stop offset="0.625" stop-color="#e6636d"/><stop offset="0.667" stop-color="#e6616b"/><stop offset="0.708" stop-color="#e65e68"/><stop offset="0.75" stop-color="#e65d67"/><stop offset="0.792" stop-color="#e65e68"/><stop offset="0.833" stop-color="#e6606a"/><stop offset="0.875" stop-color="#e6636d"/><stop offset="0.917" stop-color="#e76c76"/><stop offset="0.958" stop-color="#e87e87"/><stop offset="1" stop-color="#eca0a8"/></linearGradient><linearGradient id="z484_20"><stop offset="0" stop-color="#fbf2f3"/><stop offset="0.042" stop-color="#edb1b7"/><stop offset="0.083" stop-color="#e8767f"/><stop offset="0.125" stop-color="#e65e67"/><stop offset="0.167" stop-color="#e65c65"/><stop offset="0.208" stop-color="#e6616b"/><stop offset="0.25" stop-color="#e76771"/><stop offset="0.292" stop-color="#e76a74"/><stop offset="0.333" stop-color="#e76b75"/><stop offset="0.375" stop-color="#e76c76"/><stop offset="0.417" stop-color="#e76d77"/><stop offset="0.458" stop-color="#e76c76"/><stop offset="0.5" stop-color="#e76b75"/><stop offset="0.542" stop-color="#e76973"/><stop offset="0.583" stop-color="#e76872"/><stop offset="0.625" stop-color="#e66670"/><stop offset="0.667" stop-color="#e6646e"/><stop offset="0.708" stop-color="#e6626c"/><stop offset="0.75" stop-color="#e6606a"/><stop offset="0.792" stop-color="#e6616b"/><stop offset="0.833" stop-color="#e6636d"/><stop offset="0.875" stop-color="#e76771"/><stop offset="0.917" stop-color="#e7707a"/><stop offset="0.958" stop-color="#e9868f"/><stop offset="1" stop-color="#edaeb5"/></linearGradient><linearGradient id="z484_21"><stop offset="0" stop-color="#fcf3f4"/><stop offset="0.042" stop-color="#eeb6bd"/><stop offset="0.083" stop-color="#e87b85"/><stop offset="0.125" stop-color="#e6616b"/><stop offset="0.167" stop-color="#e65e68"/><stop offset="0.208" stop-color="#e6646e"/><stop offset="0.25" stop-color="#e76b75"/><stop offset="0.292" stop-color="#e76d77"/><stop offset="0.333" stop-color="#e76f79"/><stop offset="0.375" stop-color="#e7727c"/><stop offset="0.417" stop-color="#e7737c"/><stop offset="0.458" stop-color="#e7717b"/><stop offset="0.5" stop-color="#e76e78"/><stop offset="0.542" stop-color="#e76d77"/><stop offset="0.583" stop-color="#e76c76"/><stop offset="0.625" stop-color="#e76a74"/><stop offset="0.667" stop-color="#e76872"/><stop offset="0.708" stop-color="#e6656f"/><stop offset="0.75" stop-color="#e6646e"/><stop offset="0.792" stop-color="#e6646e"/><stop offset="0.833" stop-color="#e76771"/><stop offset="0.875" stop-color="#e76a74"/><stop offset="0.917" stop-color="#e87882"/><stop offset="0.958" stop-color="#ea929b"/><stop offset="1" stop-color="#f0bdc3"/></linearGradient><linearGradient id="z484_22"><stop offset="0" stop-color="#fcf4f5"/><stop offset="0.042" stop-color="#efbcc2"/><stop offset="0.083" stop-color="#e9818a"/><stop offset="0.125" stop-color="#e6646e"/><stop offset="0.167" stop-color="#e6626c"/><stop offset="0.208" stop-color="#e76872"/><stop offset="0.25" stop-color="#e76e78"/><stop offset="0.292" stop-color="#e7737d"/><stop offset="0.333" stop-color="#e87780"/><stop offset="0.375" stop-color="#e87983"/><stop offset="0.417" stop-color="#e87a84"/><stop offset="0.458" stop-color="#e87982"/><stop offset="0.5" stop-color="#e87680"/><stop offset="0.542" stop-color="#e7737d"/><stop offset="0.583" stop-color="#e7707a"/><stop offset="0.625" stop-color="#e76d77"/><stop offset="0.667" stop-color="#e76b75"/><stop offset="0.708" stop-color="#e76872"/><stop offset="0.75" stop-color="#e76771"/><stop offset="0.792" stop-color="#e76872"/><stop offset="0.833" stop-color="#e76a74"/><stop offset="0.875" stop-color="#e76e78"/><stop offset="0.917" stop-color="#e88089"/><stop offset="0.958" stop-color="#eba0a8"/><stop offset="1" stop-color="#f2c9ce"/></linearGradient><linearGradient id="z484_23"><stop offset="0" stop-color="#fcf5f6"/><stop offset="0.042" stop-color="#f1c1c7"/><stop offset="0.083" stop-color="#e98790"/><stop offset="0.125" stop-color="#e76872"/><stop offset="0.167" stop-color="#e66670"/><stop offset="0.208" stop-color="#e76c76"/><stop offset="0.25" stop-color="#e8767f"/><stop offset="0.292" stop-color="#e87b84"/><stop offset="0.333" stop-color="#e87e87"/><stop offset="0.375" stop-color="#e8818a"/><stop offset="0.417" stop-color="#e9828b"/><stop offset="0.458" stop-color="#e88089"/><stop offset="0.5" stop-color="#e87d87"/><stop offset="0.542" stop-color="#e87b84"/><stop offset="0.583" stop-color="#e87882"/><stop offset="0.625" stop-color="#e8747e"/><stop offset="0.667" stop-color="#e76f79"/><stop offset="0.708" stop-color="#e76c76"/><stop offset="0.75" stop-color="#e76b75"/><stop offset="0.792" stop-color="#e76c76"/><stop offset="0.833" stop-color="#e76e78"/><stop offset="0.875" stop-color="#e8757f"/><stop offset="0.917" stop-color="#e98790"/><stop offset="0.958" stop-color="#edaab2"/><stop offset="1" stop-color="#f4d1d5"/></linearGradient><linearGradient id="z484_24"><stop offset="0" stop-color="#fdf6f7"/><stop offset="0.042" stop-color="#f2c7cc"/><stop offset="0.083" stop-color="#ea919a"/><stop offset="0.125" stop-color="#e76d77"/><stop offset="0.167" stop-color="#e76b75"/><stop offset="0.208" stop-color="#e7727c"/><stop offset="0.25" stop-color="#e87e87"/><stop offset="0.292" stop-color="#e9828c"/><stop offset="0.333" stop-color="#e9858e"/><stop offset="0.375" stop-color="#e98891"/><stop offset="0.417" stop-color="#e98a92"/><stop offset="0.458" stop-color="#e98790"/><stop offset="0.5" stop-color="#e9858e"/><stop offset="0.542" stop-color="#e9828b"/><stop offset="0.583" stop-color="#e88089"/><stop offset="0.625" stop-color="#e87d86"/><stop offset="0.667" stop-color="#e87882"/><stop offset="0.708" stop-color="#e7737d"/><stop offset="0.75" stop-color="#e7707a"/><stop offset="0.792" stop-color="#e7727c"/><stop offset="0.833" stop-color="#e87780"/><stop offset="0.875" stop-color="#e87d86"/><stop offset="0.917" stop-color="#ea929a"/><stop offset="0.958" stop-color="#eeb2b9"/><stop offset="1" stop-color="#f4d4d8"/></linearGradient><linearGradient id="z484_25"><stop offset="0" stop-color="#fdf7f8"/><stop offset="0.042" stop-color="#f3cdd1"/><stop offset="0.083" stop-color="#eb9ba3"/><stop offset="0.125" stop-color="#e8757f"/><stop offset="0.167" stop-color="#e7717b"/><stop offset="0.208" stop-color="#e87b85"/><stop offset="0.25" stop-color="#e9868f"/><stop offset="0.292" stop-color="#ea8c95"/><stop offset="0.333" stop-color="#ea9199"/><stop offset="0.375" stop-color="#ea949c"/><stop offset="0.417" stop-color="#ea959e"/><stop offset="0.458" stop-color="#ea939c"/><stop offset="0.5" stop-color="#ea8f98"/><stop offset="0.542" stop-color="#e98c94"/><stop offset="0.583" stop-color="#e98891"/><stop offset="0.625" stop-color="#e9858e"/><stop offset="0.667" stop-color="#e8818a"/><stop offset="0.708" stop-color="#e87c86"/><stop offset="0.75" stop-color="#e87a83"/><stop offset="0.792" stop-color="#e87b85"/><stop offset="0.833" stop-color="#e87f89"/><stop offset="0.875" stop-color="#e9858e"/><stop offset="0.917" stop-color="#eb9ca4"/><stop offset="0.958" stop-color="#efbbc1"/><stop offset="1" stop-color="#f5d8db"/></linearGradient><linearGradient id="z484_26"><stop offset="0" stop-color="#fdf8f9"/><stop offset="0.042" stop-color="#f4d3d7"/><stop offset="0.083" stop-color="#eca6ad"/><stop offset="0.125" stop-color="#e87f89"/><stop offset="0.167" stop-color="#e87c85"/><stop offset="0.208" stop-color="#e9858e"/><stop offset="0.25" stop-color="#ea939b"/><stop offset="0.292" stop-color="#eb99a1"/><stop offset="0.333" stop-color="#eb9da5"/><stop offset="0.375" stop-color="#eca0a8"/><stop offset="0.417" stop-color="#eca1a9"/><stop offset="0.458" stop-color="#eb9fa7"/><stop offset="0.5" stop-color="#eb9ca4"/><stop offset="0.542" stop-color="#eb99a1"/><stop offset="0.583" stop-color="#ea959e"/><stop offset="0.625" stop-color="#ea919a"/><stop offset="0.667" stop-color="#e98b94"/><stop offset="0.708" stop-color="#e9858f"/><stop offset="0.75" stop-color="#e9838d"/><stop offset="0.792" stop-color="#e9858e"/><stop offset="0.833" stop-color="#e98992"/><stop offset="0.875" stop-color="#ea929a"/><stop offset="0.917" stop-color="#eca7af"/><stop offset="0.958" stop-color="#f0c1c7"/><stop offset="1" stop-color="#f6dbdf"/></linearGradient><linearGradient id="z484_27"><stop offset="0" stop-color="#fdf9fa"/><stop offset="0.042" stop-color="#f5d9dd"/><stop offset="0.083" stop-color="#edb1b8"/><stop offset="0.125" stop-color="#e98c94"/><stop offset="0.167" stop-color="#e98790"/><stop offset="0.208" stop-color="#ea949c"/><stop offset="0.25" stop-color="#eca1a8"/><stop offset="0.292" stop-color="#eca6ae"/><stop offset="0.333" stop-color="#eca9b1"/><stop offset="0.375" stop-color="#edacb3"/><stop offset="0.417" stop-color="#edadb4"/><stop offset="0.458" stop-color="#edabb3"/><stop offset="0.5" stop-color="#eca9b0"/><stop offset="0.542" stop-color="#eca6ad"/><stop offset="0.583" stop-color="#eca3ab"/><stop offset="0.625" stop-color="#eb9fa7"/><stop offset="0.667" stop-color="#eb9aa2"/><stop offset="0.708" stop-color="#ea959d"/><stop offset="0.75" stop-color="#ea929a"/><stop offset="0.792" stop-color="#ea939c"/><stop offset="0.833" stop-color="#eb99a1"/><stop offset="0.875" stop-color="#eba0a8"/><stop offset="0.917" stop-color="#eeb3b9"/><stop offset="0.958" stop-color="#f2c8cd"/><stop offset="1" stop-color="#f6dfe2"/></linearGradient><linearGradient id="z484_28"><stop offset="0" stop-color="#fefafa"/><stop offset="0.042" stop-color="#f6e0e2"/><stop offset="0.083" stop-color="#f0bec4"/><stop offset="0.125" stop-color="#eb9da5"/><stop offset="0.167" stop-color="#eb99a1"/><stop offset="0.208" stop-color="#eca4ab"/><stop offset="0.25" stop-color="#edafb6"/><stop offset="0.292" stop-color="#eeb4ba"/><stop offset="0.333" stop-color="#efb7bd"/><stop offset="0.375" stop-color="#efb9c0"/><stop offset="0.417" stop-color="#efbac0"/><stop offset="0.458" stop-color="#efb9bf"/><stop offset="0.5" stop-color="#eeb6bd"/><stop offset="0.542" stop-color="#eeb3ba"/><stop offset="0.583" stop-color="#edb1b8"/><stop offset="0.625" stop-color="#edaeb5"/><stop offset="0.667" stop-color="#eca9b1"/><stop offset="0.708" stop-color="#eca5ac"/><stop offset="0.75" stop-color="#eca2aa"/><stop offset="0.792" stop-color="#eca4ab"/><stop offset="0.833" stop-color="#eca8af"/><stop offset="0.875" stop-color="#edaeb5"/><stop offset="0.917" stop-color="#f0bfc4"/><stop offset="0.958" stop-color="#f3ced3"/><stop offset="1" stop-color="#f7e3e6"/></linearGradient><linearGradient id="z484_29"><stop offset="0" stop-color="#fefbfb"/><stop offset="0.042" stop-color="#f8e6e8"/><stop offset="0.083" stop-color="#f2ccd0"/><stop offset="0.125" stop-color="#edafb6"/><stop offset="0.167" stop-color="#edabb3"/><stop offset="0.208" stop-color="#eeb5bb"/><stop offset="0.25" stop-color="#f0bec4"/><stop offset="0.292" stop-color="#f1c1c7"/><stop offset="0.333" stop-color="#f1c3c9"/><stop offset="0.375" stop-color="#f1c5ca"/><stop offset="0.417" stop-color="#f1c5ca"/><stop offset="0.458" stop-color="#f1c4ca"/><stop offset="0.5" stop-color="#f1c3c8"/><stop offset="0.542" stop-color="#f0c1c7"/><stop offset="0.583" stop-color="#f0bfc5"/><stop offset="0.625" stop-color="#f0bdc3"/><stop offset="0.667" stop-color="#efbac0"/><stop offset="0.708" stop-color="#eeb6bc"/><stop offset="0.75" stop-color="#eeb3ba"/><stop offset="0.792" stop-color="#eeb5bb"/><stop offset="0.833" stop-color="#efb9bf"/><stop offset="0.875" stop-color="#f0bec3"/><stop offset="0.917" stop-color="#f2c8cd"/><stop offset="0.958" stop-color="#f4d5d9"/><stop offset="1" stop-color="#f8e7e9"/></linearGradient><linearGradient id="z484_30"><stop offset="0" stop-color="#fefcfc"/><stop offset="0.042" stop-color="#f9ebed"/><stop offset="0.083" stop-color="#f4d6da"/><stop offset="0.125" stop-color="#f1c2c7"/><stop offset="0.167" stop-color="#f0bfc5"/><stop offset="0.208" stop-color="#f1c5ca"/><stop offset="0.25" stop-color="#f2cbcf"/><stop offset="0.292" stop-color="#f3cdd2"/><stop offset="0.333" stop-color="#f3cfd3"/><stop offset="0.375" stop-color="#f3d0d4"/><stop offset="0.417" stop-color="#f3d0d4"/><stop offset="0.458" stop-color="#f3cfd4"/><stop offset="0.5" stop-color="#f3ced3"/><stop offset="0.542" stop-color="#f3cdd1"/><stop offset="0.583" stop-color="#f3ccd0"/><stop offset="0.625" stop-color="#f2cacf"/><stop offset="0.667" stop-color="#f2c8cd"/><stop offset="0.708" stop-color="#f1c6cb"/><stop offset="0.75" stop-color="#f1c4ca"/><stop offset="0.792" stop-color="#f1c5ca"/><stop offset="0.833" stop-color="#f2c7cc"/><stop offset="0.875" stop-color="#f2cbcf"/><stop offset="0.917" stop-color="#f4d2d6"/><stop offset="0.958" stop-color="#f6dde0"/><stop offset="1" stop-color="#f9ebed"/></linearGradient><linearGradient id="z484_31"><stop offset="0" stop-color="#fefdfd"/><stop offset="0.042" stop-color="#fbf0f2"/><stop offset="0.083" stop-color="#f7e1e3"/><stop offset="0.125" stop-color="#f4d2d6"/><stop offset="0.167" stop-color="#f3d0d5"/><stop offset="0.208" stop-color="#f4d4d8"/><stop offset="0.25" stop-color="#f5d9dc"/><stop offset="0.292" stop-color="#f5dade"/><stop offset="0.333" stop-color="#f6dcdf"/><stop offset="0.375" stop-color="#f6dce0"/><stop offset="0.417" stop-color="#f6dde0"/><stop offset="0.458" stop-color="#f6dcdf"/><stop offset="0.5" stop-color="#f5dbde"/><stop offset="0.542" stop-color="#f5dade"/><stop offset="0.583" stop-color="#f5d9dd"/><stop offset="0.625" stop-color="#f5d8dc"/><stop offset="0.667" stop-color="#f5d6da"/><stop offset="0.708" stop-color="#f4d4d8"/><stop offset="0.75" stop-color="#f4d4d7"/><stop offset="0.792" stop-color="#f4d4d8"/><stop offset="0.833" stop-color="#f4d6d9"/><stop offset="0.875" stop-color="#f5d8dc"/><stop offset="0.917" stop-color="#f6dfe2"/><stop offset="0.958" stop-color="#f8e6e9"/><stop offset="1" stop-color="#fbeff0"/></linearGradient><linearGradient id="z484_32"><stop offset="0" stop-color="#fffefe"/><stop offset="0.042" stop-color="#fdf7f7"/><stop offset="0.083" stop-color="#faeef0"/><stop offset="0.125" stop-color="#f8e6e9"/><stop offset="0.167" stop-color="#f8e6e8"/><stop offset="0.208" stop-color="#f9e8ea"/><stop offset="0.25" stop-color="#f9e9eb"/><stop offset="0.292" stop-color="#f9eaec"/><stop offset="0.333" stop-color="#f9ebed"/><stop offset="0.375" stop-color="#faebed"/><stop offset="0.417" stop-color="#faebed"/><stop offset="0.458" stop-color="#faebed"/><stop offset="0.5" stop-color="#f9ebec"/><stop offset="0.542" stop-color="#f9eaec"/><stop offset="0.583" stop-color="#f9eaec"/><stop offset="0.625" stop-color="#f9e9eb"/><stop offset="0.667" stop-color="#f9e8eb"/><stop offset="0.708" stop-color="#f9e8ea"/><stop offset="0.75" stop-color="#f9e7e9"/><stop offset="0.792" stop-color="#f9e7ea"/><stop offset="0.833" stop-color="#f9e8ea"/><stop offset="0.875" stop-color="#f9e9eb"/><stop offset="0.917" stop-color="#faecee"/><stop offset="0.958" stop-color="#fbeff1"/><stop offset="1" stop-color="#fcf2f4"/></linearGradient><linearGradient id="z484_33"><stop offset="0" stop-color="#fffefe"/><stop offset="0.042" stop-color="#fefbfc"/><stop offset="0.083" stop-color="#fdf8f8"/><stop offset="0.125" stop-color="#fcf5f6"/><stop offset="0.167" stop-color="#fcf5f6"/><stop offset="0.208" stop-color="#fcf5f6"/><stop offset="0.25" stop-color="#fcf5f6"/><stop offset="0.292" stop-color="#fcf5f6"/><stop offset="0.333" stop-color="#fcf5f6"/><stop offset="0.375" stop-color="#fcf5f6"/><stop offset="0.417" stop-color="#fcf5f6"/><stop offset="0.458" stop-color="#fcf5f6"/><stop offset="0.5" stop-color="#fcf5f6"/><stop offset="0.542" stop-color="#fcf5f6"/><stop offset="0.583" stop-color="#fcf5f6"/><stop offset="0.625" stop-color="#fcf5f6"/><stop offset="0.667" stop-color="#fcf5f6"/><stop offset="0.708" stop-color="#fcf5f6"/><stop offset="0.75" stop-color="#fcf5f6"/><stop offset="0.792" stop-color="#fcf5f6"/><stop offset="0.833" stop-color="#fcf5f6"/><stop offset="0.875" stop-color="#fcf5f6"/><stop offset="0.917" stop-color="#fcf5f6"/><stop offset="0.958" stop-color="#fcf5f6"/><stop offset="1" stop-color="#fcf5f6"/></linearGradient></defs>
<rect x="484.2" y="789" width="347.3" height="11.7" fill="url(#z484_0)"/>
<rect x="484.2" y="800.3" width="347.3" height="11.7" fill="url(#z484_1)"/>
<rect x="484.2" y="811.6" width="347.3" height="11.7" fill="url(#z484_2)"/>
<rect x="484.2" y="822.9" width="347.3" height="11.7" fill="url(#z484_3)"/>
<rect x="484.2" y="834.2" width="347.3" height="11.7" fill="url(#z484_4)"/>
<rect x="484.2" y="845.5" width="347.3" height="11.7" fill="url(#z484_5)"/>
<rect x="484.2" y="856.8" width="347.3" height="11.7" fill="url(#z484_6)"/>
<rect x="484.2" y="868.1" width="347.3" height="11.7" fill="url(#z484_7)"/>
<rect x="484.2" y="879.4" width="347.3" height="11.7" fill="url(#z484_8)"/>
<rect x="484.2" y="890.7" width="347.3" height="11.7" fill="url(#z484_9)"/>
<rect x="484.2" y="902" width="347.3" height="11.7" fill="url(#z484_10)"/>
<rect x="484.2" y="913.3" width="347.3" height="11.7" fill="url(#z484_11)"/>
<rect x="484.2" y="924.6" width="347.3" height="11.7" fill="url(#z484_12)"/>
<rect x="484.2" y="935.9" width="347.3" height="11.7" fill="url(#z484_13)"/>
<rect x="484.2" y="947.2" width="347.3" height="11.7" fill="url(#z484_14)"/>
<rect x="484.2" y="958.5" width="347.3" height="11.7" fill="url(#z484_15)"/>
<rect x="484.2" y="969.8" width="347.3" height="11.7" fill="url(#z484_16)"/>
<rect x="484.2" y="981.1" width="347.3" height="11.7" fill="url(#z484_17)"/>
<rect x="484.2" y="992.5" width="347.3" height="11.7" fill="url(#z484_18)"/>
<rect x="484.2" y="1003.8" width="347.3" height="11.7" fill="url(#z484_19)"/>
<rect x="484.2" y="1015.1" width="347.3" height="11.7" fill="url(#z484_20)"/>
<rect x="484.2" y="1026.4" width="347.3" height="11.7" fill="url(#z484_21)"/>
<rect x="484.2" y="1037.7" width="347.3" height="11.7" fill="url(#z484_22)"/>
<rect x="484.2" y="1049" width="347.3" height="11.7" fill="url(#z484_23)"/>
<rect x="484.2" y="1060.3" width="347.3" height="11.7" fill="url(#z484_24)"/>
<rect x="484.2" y="1071.6" width="347.3" height="11.7" fill="url(#z484_25)"/>
<rect x="484.2" y="1082.9" width="347.3" height="11.7" fill="url(#z484_26)"/>
<rect x="484.2" y="1094.2" width="347.3" height="11.7" fill="url(#z484_27)"/>
<rect x="484.2" y="1105.5" width="347.3" height="11.7" fill="url(#z484_28)"/>
<rect x="484.2" y="1116.8" width="347.3" height="11.7" fill="url(#z484_29)"/>
<rect x="484.2" y="1128.1" width="347.3" height="11.7" fill="url(#z484_30)"/>
<rect x="484.2" y="1139.4" width="347.3" height="11.7" fill="url(#z484_31)"/>
<rect x="484.2" y="1150.7" width="347.3" height="11.7" fill="url(#z484_32)"/>
<rect x="484.2" y="1162" width="347.3" height="11.7" fill="url(#z484_33)"/>
<polyline points="485.7,789 485.8,800.1 485.8,811.3 485.9,822.4 486,833.6 486,844.7 486.1,855.8 486.2,867 486.2,878.1 486.3,889.3 486.5,900.4 486.6,911.5 486.8,922.7 487,933.8 487.2,944.9 487.4,956.1 487.6,967.2 487.8,978.4 488.1,989.5 488.6,1000.6 489.1,1011.8 489.4,1017.4 489.9,1028.5 490.6,1039.6 491.4,1050.8 492.3,1061.9 493.5,1073 494.3,1079 495.9,1089.8 498.2,1100.9 499.6,1106.5 503.2,1117.6 505.3,1123.2 509.4,1132.6 513.5,1139.9 517.9,1145.5 524.5,1149.8 534.5,1151 539.6,1151.1 544.6,1150.8 554.7,1149.5 564.7,1147.6 574.8,1146.2 584.3,1145.5 589.9,1145.1 600,1144.5 610,1144 620.1,1143.6 630.2,1143.5 640.2,1143.8 650.3,1144.3 660.4,1144.9 670.4,1145.4 675.5,1145.6 685.5,1146.1 695.6,1146.6 705.7,1147.2 715.7,1148 725.8,1148.7 735.9,1149.2 745.9,1149.4 756,1149.3 766.1,1148.8 776.1,1148.1 786.2,1147.2 793.2,1145.5 801.3,1142.4 806.3,1139.7 813.3,1134.3 818.2,1128.7 821.6,1123.2 826.2,1112 827.8,1106.5 830.1,1095.3 831.5,1086.8 831.5,1086.8" fill="none" stroke="#fff" stroke-opacity="0.75" stroke-width="0.9"/>
<polyline points="490.4,789 490.6,800.1 490.7,811.3 490.8,822.4 490.9,833.6 491.1,844.7 491.2,855.8 491.4,867 491.5,878.1 491.7,889.3 492,900.4 492.3,911.5 492.6,922.7 492.9,933.8 493.3,944.9 493.7,956.1 494.1,967.2 494.3,972.8 494.8,983.9 495.5,995.1 496.4,1006.2 497.4,1017.4 498.5,1028.5 499.3,1035.9 500.4,1045.2 501.9,1056.3 503.8,1067.5 504.8,1073 507.3,1084.2 509.4,1091.5 512.2,1100.9 514.4,1106.5 519.4,1117.6 523.3,1123.2 529.5,1126.6 539.6,1128.1 549.6,1125.8 555.5,1123.2 564.7,1118.5 569.8,1116.3 579.8,1113.3 586.5,1112 594.9,1110.7 605,1109.1 615.1,1107.7 625.1,1107 635.2,1107.3 645.3,1108.5 655.3,1110.1 665.4,1111.6 670.4,1112.3 680.5,1113.6 690.6,1114.8 700.6,1116.4 706.9,1117.6 715.7,1119.4 725.8,1121.5 735.9,1122.9 740.9,1123.4 751,1123.4 756,1123 766.1,1121.6 776.1,1119.7 785.2,1117.6 791.2,1114.1 796.3,1109.6 801.3,1103.8 806.3,1096.3 809.8,1089.8 812.3,1084.2 816.2,1073 817.8,1067.5 820.4,1056.3 821.6,1050.8 826,1039.6 828.4,1034.1 831.5,1026.3 831.5,1026.3" fill="none" stroke="#fff" stroke-opacity="0.75" stroke-width="0.9"/>
<polyline points="494.9,789 495.1,800.1 495.3,811.3 495.5,822.4 495.7,833.6 495.9,844.7 496.1,855.8 496.3,867 496.5,878.1 496.7,889.3 497.1,900.4 497.6,911.5 498,922.7 498.5,933.8 499,944.9 499.3,950.5 499.9,961.7 500.5,972.8 501.1,983.9 502.1,995.1 503.3,1006.2 504.3,1014.8 505.3,1022.9 506.8,1034.1 508.5,1045.2 509.4,1050.8 511.4,1061.9 513.9,1073 515.3,1078.6 518.4,1089.8 520.5,1095.3 524.5,1103.4 529.5,1106.5 539.6,1108.7 547.2,1106.5 554.7,1101.8 559.7,1097.8 564.7,1093.9 571.2,1089.8 579.8,1085.9 585.8,1084.2 594.9,1081.9 605,1079.4 610,1078.3 620.1,1076.6 630.2,1076.3 640.2,1077.5 645.6,1078.6 655.3,1081 665.4,1083.4 670.4,1084.4 680.5,1086.4 690.6,1088.3 696.7,1089.8 705.7,1092.2 715.5,1095.3 720.8,1097 730.8,1099.8 736.7,1100.9 745.9,1101.7 756,1101 761,1100 771.1,1097.3 777.5,1095.3 786.2,1092.2 791.2,1087.1 796.3,1080.3 800.4,1073 803.1,1067.5 806.3,1059.9 809.5,1050.8 811.9,1045.2 816.4,1035 819.2,1028.5 821.7,1022.9 826.3,1011.8 828.6,1006.2 831.5,999.2 831.5,999.2" fill="none" stroke="#fff" stroke-opacity="0.75" stroke-width="0.9"/>
<polyline points="499.3,789 499.4,794.6 499.6,805.7 499.8,816.8 500.1,828 500.3,839.1 500.6,850.3 500.9,861.4 501.2,872.5 501.5,883.7 501.8,894.8 502.3,906 502.9,917.1 503.5,928.2 504.1,939.4 504.5,944.9 505.1,956.1 505.9,967.2 506.6,978.4 507.5,989.5 508.8,1000.6 509.5,1006.2 510.9,1017.4 512.5,1028.5 514.3,1039.6 515.2,1045.2 517.2,1056.3 519.4,1065.9 521.6,1073 524.5,1081.3 529.5,1085.4 539.6,1088.5 549.1,1084.2 554.7,1079.1 559.7,1073.6 564.7,1068.2 569.8,1063.6 574.8,1060 582.4,1056.3 589.9,1053.6 598.3,1050.8 605,1048.7 615.1,1046.1 620.3,1045.2 630.2,1044.9 635.2,1045.4 645.3,1047.6 655.3,1050.6 660.4,1052.3 670.4,1055.3 675.5,1056.7 685.5,1059.3 694.6,1061.9 700.6,1064 709.2,1067.5 715.7,1070.3 722.1,1073 730.8,1076.3 740.9,1078.6 745.9,1078.9 751.3,1078.6 761,1076.6 770.9,1073 776.1,1070.8 783.3,1067.5 789.2,1061.9 792.8,1056.3 796.3,1049.7 801.3,1039.6 803.9,1034.1 806.6,1028.5 811.4,1018.1 814.2,1011.8 816.7,1006.2 821.4,995.2 823.8,989.5 826.5,983.2 830.7,972.8 831.5,971" fill="none" stroke="#fff" stroke-opacity="0.75" stroke-width="0.9"/>
<polyline points="503.5,789 503.7,800.1 504,811.3 504.3,822.4 504.5,828 504.8,839.1 505.1,850.3 505.4,861.4 505.8,872.5 506.1,883.7 506.5,894.8 507.1,906 507.7,917.1 508.4,928.2 509.2,939.4 509.6,944.9 510.4,956.1 511.2,967.2 512,978.4 513,989.5 514.2,1000.6 514.9,1006.2 516.4,1017.4 518.1,1028.5 519.4,1036.5 521.1,1045.2 523.9,1056.3 528,1061.9 534.5,1066.7 544.6,1065.6 549.6,1061.3 554.7,1055.3 559.7,1048 564.7,1040.6 569.8,1034.8 574.8,1030.7 579.8,1027.8 589.9,1023.9 594.9,1022.2 605,1019.1 611.4,1017.4 620.1,1015.7 630.2,1015.3 640.2,1016.8 645.3,1018 655.3,1021 661.3,1022.9 670.4,1025.6 680.5,1028.4 685.5,1029.8 695.6,1033.1 700.6,1035.2 709.3,1039.6 715.7,1043.4 720.8,1046.4 728.6,1050.8 735.9,1053.5 745.9,1055.1 756,1053.8 764.4,1050.8 771.1,1047.1 776.1,1044.1 783.3,1039.6 788.4,1034.1 791.8,1028.5 796.3,1020.1 800.4,1011.8 803.1,1006.2 806.3,999.5 810.9,989.5 813.4,983.9 816.4,977.3 820.8,967.2 823.1,961.7 826.5,953.7 830.1,944.9 831.5,941.4" fill="none" stroke="#fff" stroke-opacity="0.75" stroke-width="0.9"/>
<polyline points="507.5,789 507.8,800.1 508.1,811.3 508.5,822.4 508.9,833.6 509.2,844.7 509.4,850.3 509.8,861.4 510.2,872.5 510.6,883.7 511,894.8 511.5,906 512.3,917.1 513.1,928.2 513.9,939.4 514.4,945.5 515.2,956.1 516.1,967.2 517.1,978.4 518.1,989.5 519.1,1000.6 519.9,1006.2 521.8,1017.4 524,1028.5 526.5,1034.1 530.5,1039.6 539.6,1044.9 546.4,1039.6 550.5,1034.1 554.7,1027.1 559.7,1018.5 564.2,1011.8 568.9,1006.2 574.8,1001.1 579.8,998.2 587.8,995.1 594.9,992.7 605,989.6 610,988.1 620.1,986.1 630.2,985.8 640.2,987.2 648.9,989.5 655.3,991.5 665.4,994.6 670.4,996.1 680.5,998.9 686.7,1000.6 695.6,1003.6 701.7,1006.2 710.7,1010.9 715.7,1013.8 721.5,1017.4 730.8,1022.6 735.9,1024.8 745.9,1026.8 756,1025.2 761.5,1022.9 771.1,1017.6 776.1,1014.5 781.2,1011.6 787.3,1006.2 791.2,1000 796.3,990.6 799.6,983.9 802.3,978.4 806.3,969.9 810.1,961.7 812.7,956.1 816.4,947.7 820,939.4 822.4,933.8 826.5,924.2 829.4,917.1 831.5,911.9" fill="none" stroke="#fff" stroke-opacity="0.75" stroke-width="0.9"/>
<polyline points="511.5,789 511.8,800.1 512.2,811.3 512.5,822.4 512.9,833.6 513.4,844.7 513.8,855.8 514.2,867 514.5,872.5 514.9,883.7 515.4,894.8 515.8,906 516.6,917.1 517.4,928.2 518.3,939.4 519.3,950.5 519.8,956.1 521.1,967.2 522.4,978.4 523.8,989.5 524.6,995.1 529.5,1002.5 534.5,1007.6 544,1006.2 548.7,1000.6 552.2,995.1 555.6,989.5 559.7,982.5 564.7,975 569.8,969.2 574.8,965.1 581.1,961.7 589.9,958.3 596.7,956.1 605,953.5 615.1,950.9 620.1,950.1 630.2,949.7 636.6,950.5 645.3,952.4 655.3,955.5 660.4,957.1 670.4,960.1 676.2,961.7 685.5,964.2 694.6,967.2 700.6,969.7 707,972.8 715.7,977.8 720.8,980.9 725.9,983.9 735.9,988.8 740.9,990.2 751,990.4 756,989.1 766.1,984.5 771.1,981.6 776.3,978.4 785.1,972.8 789.2,967.2 792.5,961.7 796.3,954.5 801.1,944.9 803.7,939.4 806.4,933.8 811.4,923 814,917.1 816.5,911.5 821.3,900.4 823.6,894.8 826.5,888.1 830.6,878.1 831.5,875.9" fill="none" stroke="#fff" stroke-opacity="0.75" stroke-width="0.9"/>
<polyline points="515.4,789 515.7,800.1 516.1,811.3 516.5,822.4 516.9,833.6 517.4,844.7 517.8,855.8 518.3,867 518.8,878.1 519.3,889.3 519.6,894.8 520.3,906 521.1,917.1 522.2,928.2 523.4,939.4 524.5,948.4 529.5,956.1 534.5,961.2 539.6,962.5 544.6,959.5 549.6,953 554.5,944.9 557.8,939.4 561.2,933.8 565,928.2 569.9,922.7 577.5,917.1 584.9,913.7 591,911.5 600,908.6 609.1,906 615.1,904.5 625.1,903.3 635.2,903.8 645.1,906 650.3,907.5 660.4,910.6 665.4,912.2 675.5,915 683,917.1 690.6,919.4 699.2,922.7 705.7,925.7 710.7,928.4 719.7,933.8 725.8,937.5 730.8,940.2 740.9,943.8 751,944 761,940.7 766.1,938.1 773.3,933.8 781.2,929.1 786.2,925.6 791.2,917.5 794.4,911.5 797.4,906 801.3,898 805.5,889.3 808.1,883.7 811.4,876.5 815.6,867 818.1,861.4 821.4,853.7 825.2,844.7 827.5,839.1 831.5,829.4 831.5,829.4" fill="none" stroke="#fff" stroke-opacity="0.75" stroke-width="0.9"/>
<polyline points="519.1,789 519.4,798.2 519.8,805.7 520.3,816.8 520.9,828 521.5,839.1 522.1,850.3 522.8,861.4 523.5,872.5 524.2,883.7 525.6,889.3 529.5,895.2 534.8,900.4 541.5,900.4 547.5,894.8 551.3,889.3 554.7,883.7 559.7,875.2 564.7,867.7 569.8,861.9 574.8,857.8 579.8,854.9 589.9,851 594.9,849.3 605,846.2 610.4,844.7 620.1,842.8 630.2,842.4 640.2,843.8 645.3,845.1 655.3,848.1 662.1,850.3 670.4,852.7 680.5,855.5 685.5,856.9 695.6,860.2 700.6,862.3 709.8,867 715.7,870.5 720.8,873.6 728.7,878.1 735.9,881.4 745.9,883.4 756,881.8 764.3,878.1 771.1,874.2 776.1,871.2 782.9,867 788.2,861.4 791.7,855.8 796.3,847.2 800.3,839.1 803,833.6 806.3,826.6 810.8,816.8 813.3,811.3 816.4,804.4 820.6,794.6 823,789 823,789" fill="none" stroke="#fff" stroke-opacity="0.75" stroke-width="0.9"/>
<polyline points="523.8,789 524.4,800.1 527.2,805.7 531.5,811.3 539.6,815.6 545.6,811.3 549.9,805.7 554.7,797.8 559.7,789.2 559.8,789" fill="none" stroke="#fff" stroke-opacity="0.75" stroke-width="0.9"/>
<polyline points="723.1,789 730.8,793.3 735.9,795.5 745.9,797.5 756,795.8 761,793.8 769.8,789 769.8,789" fill="none" stroke="#fff" stroke-opacity="0.75" stroke-width="0.9"/>
<rect x="711.8" y="798.5" width="77" height="182.8" fill="#000" fill-opacity="0.07" stroke="#fff" stroke-width="1" stroke-dasharray="2 2"/>
<line x1="480.8" y1="789" x2="480.8" y2="1175.3" stroke="#111" stroke-width="1.1" stroke-dasharray="1.3 2.6"/>
<line x1="519.3" y1="789" x2="519.3" y2="1175.3" stroke="#111" stroke-width="1.1" stroke-dasharray="1.3 2.6"/>
<line x1="557.8" y1="789" x2="557.8" y2="1175.3" stroke="#111" stroke-width="1.1" stroke-dasharray="1.3 2.6"/>
<line x1="596.3" y1="789" x2="596.3" y2="1175.3" stroke="#111" stroke-width="1.1" stroke-dasharray="1.3 2.6"/>
<line x1="634.8" y1="789" x2="634.8" y2="1175.3" stroke="#111" stroke-width="1.1" stroke-dasharray="1.3 2.6"/>
<line x1="673.3" y1="789" x2="673.3" y2="1175.3" stroke="#111" stroke-width="1.1" stroke-dasharray="1.3 2.6"/>
<line x1="711.8" y1="789" x2="711.8" y2="1175.3" stroke="#111" stroke-width="1.1" stroke-dasharray="1.3 2.6"/>
<line x1="750.3" y1="789" x2="750.3" y2="1175.3" stroke="#111" stroke-width="1.1" stroke-dasharray="1.3 2.6"/>
<line x1="788.8" y1="789" x2="788.8" y2="1175.3" stroke="#111" stroke-width="1.1" stroke-dasharray="1.3 2.6"/>
<line x1="827.3" y1="789" x2="827.3" y2="1175.3" stroke="#111" stroke-width="1.1" stroke-dasharray="1.3 2.6"/>
<line x1="481.2" y1="1164" x2="831.5" y2="1164" stroke="#111" stroke-width="1.1" stroke-dasharray="1.3 2.6"/>
<text x="470.6" y="1172" text-anchor="end">0</text>
<line x1="477.2" y1="1164" x2="481.2" y2="1164" stroke="#333" stroke-width="1"/>
<line x1="481.2" y1="1072.6" x2="831.5" y2="1072.6" stroke="#111" stroke-width="1.1" stroke-dasharray="1.3 2.6"/>
<text x="470.6" y="1080.6" text-anchor="end">2</text>
<line x1="477.2" y1="1072.6" x2="481.2" y2="1072.6" stroke="#333" stroke-width="1"/>
<line x1="481.2" y1="981.2" x2="831.5" y2="981.2" stroke="#111" stroke-width="1.1" stroke-dasharray="1.3 2.6"/>
<text x="470.6" y="989.2" text-anchor="end">4</text>
<line x1="477.2" y1="981.2" x2="481.2" y2="981.2" stroke="#333" stroke-width="1"/>
<line x1="481.2" y1="889.9" x2="831.5" y2="889.9" stroke="#111" stroke-width="1.1" stroke-dasharray="1.3 2.6"/>
<text x="470.6" y="897.9" text-anchor="end">6</text>
<line x1="477.2" y1="889.9" x2="481.2" y2="889.9" stroke="#333" stroke-width="1"/>
<line x1="481.2" y1="798.5" x2="831.5" y2="798.5" stroke="#111" stroke-width="1.1" stroke-dasharray="1.3 2.6"/>
<text x="470.6" y="806.5" text-anchor="end">8</text>
<line x1="477.2" y1="798.5" x2="481.2" y2="798.5" stroke="#333" stroke-width="1"/>
<line x1="480.8" y1="1174.3" x2="480.8" y2="1178.3" stroke="#333" stroke-width="1"/>
<text x="478.8" y="1199.3" text-anchor="middle">0</text>
<line x1="519.3" y1="1174.3" x2="519.3" y2="1178.3" stroke="#333" stroke-width="1"/>
<text x="530.3" y="1190.3" text-anchor="end" transform="rotate(-45 530.3 1190.3)">0.1</text>
<line x1="557.8" y1="1174.3" x2="557.8" y2="1178.3" stroke="#333" stroke-width="1"/>
<text x="568.8" y="1190.3" text-anchor="end" transform="rotate(-45 568.8 1190.3)">0.2</text>
<line x1="596.3" y1="1174.3" x2="596.3" y2="1178.3" stroke="#333" stroke-width="1"/>
<text x="607.3" y="1190.3" text-anchor="end" transform="rotate(-45 607.3 1190.3)">0.4</text>
<line x1="634.8" y1="1174.3" x2="634.8" y2="1178.3" stroke="#333" stroke-width="1"/>
<text x="645.8" y="1190.3" text-anchor="end" transform="rotate(-45 645.8 1190.3)">0.8</text>
<line x1="673.3" y1="1174.3" x2="673.3" y2="1178.3" stroke="#333" stroke-width="1"/>
<text x="684.3" y="1190.3" text-anchor="end" transform="rotate(-45 684.3 1190.3)">1.6</text>
<line x1="711.8" y1="1174.3" x2="711.8" y2="1178.3" stroke="#333" stroke-width="1"/>
<text x="722.8" y="1190.3" text-anchor="end" transform="rotate(-45 722.8 1190.3)">3.2</text>
<line x1="750.3" y1="1174.3" x2="750.3" y2="1178.3" stroke="#333" stroke-width="1"/>
<text x="761.3" y="1190.3" text-anchor="end" transform="rotate(-45 761.3 1190.3)">6.4</text>
<line x1="788.8" y1="1174.3" x2="788.8" y2="1178.3" stroke="#333" stroke-width="1"/>
<text x="799.8" y="1190.3" text-anchor="end" transform="rotate(-45 799.8 1190.3)">12.8</text>
<line x1="827.3" y1="1174.3" x2="827.3" y2="1178.3" stroke="#333" stroke-width="1"/>
<text x="838.3" y="1190.3" text-anchor="end" transform="rotate(-45 838.3 1190.3)">25.6</text>
<text x="665" y="1243.5" text-anchor="middle" font-size="24">PTX (μM)</text>
<text x="445" y="981.1" text-anchor="middle" font-size="24" transform="rotate(-90 445 981.1)">CSN5i-3 (μM)</text>
<text x="656.5" y="723.5" text-anchor="middle" font-size="24">ZIP synergy score:12.247</text>
<rect x="539.3" y="765.9" width="10.5" height="5.9" fill="#64c346"/>
<rect x="549.5" y="765.9" width="10.5" height="5.9" fill="#68c44a"/>
<rect x="559.7" y="765.9" width="10.5" height="5.9" fill="#6fc752"/>
<rect x="569.9" y="765.9" width="10.5" height="5.9" fill="#79ca5c"/>
<rect x="580.1" y="765.9" width="10.5" height="5.9" fill="#84ce68"/>
<rect x="590.3" y="765.9" width="10.5" height="5.9" fill="#8fd275"/>
<rect x="600.5" y="765.9" width="10.5" height="5.9" fill="#a3d98f"/>
<rect x="610.7" y="765.9" width="10.5" height="5.9" fill="#bde3b2"/>
<rect x="620.9" y="765.9" width="16.6" height="5.9" fill="#fbfbf8"/>
<rect x="637.4" y="765.9" width="14.1" height="5.9" fill="#f3ced3"/>
<rect x="651.3" y="765.9" width="14.1" height="5.9" fill="#eca2a9"/>
<rect x="665.1" y="765.9" width="14.1" height="5.9" fill="#e87f88"/>
<rect x="679" y="765.9" width="14.1" height="5.9" fill="#e76a74"/>
<rect x="692.8" y="765.9" width="14.1" height="5.9" fill="#e65f69"/>
<rect x="706.6" y="765.9" width="14.1" height="5.9" fill="#e7555e"/>
<rect x="720.5" y="765.9" width="14.1" height="5.9" fill="#e94a51"/>
<rect x="734.3" y="765.9" width="14.1" height="5.9" fill="#eb3e43"/>
<rect x="748.1" y="765.9" width="14.1" height="5.9" fill="#ed3234"/>
<rect x="762" y="765.9" width="14.1" height="5.9" fill="#ee2626"/>
<text x="539" y="760" text-anchor="middle" font-size="22.5">-30</text>
<text x="578.8" y="760" text-anchor="middle" font-size="22.5">-20</text>
<text x="615.6" y="760" text-anchor="middle" font-size="22.5">-10</text>
<text x="655.5" y="760" text-anchor="middle" font-size="22.5">0</text>
<text x="692.5" y="760" text-anchor="middle" font-size="22.5">10</text>
<text x="731.7" y="760" text-anchor="middle" font-size="22.5">20</text>
<text x="768" y="760" text-anchor="middle" font-size="22.5">30</text>
<defs><linearGradient id="z1377_0"><stop offset="0" stop-color="#f8e6e8"/><stop offset="0.042" stop-color="#e87d86"/><stop offset="0.083" stop-color="#e7565f"/><stop offset="0.125" stop-color="#eb3d41"/><stop offset="0.167" stop-color="#ec3b3f"/><stop offset="0.208" stop-color="#ec3c40"/><stop offset="0.25" stop-color="#eb3d42"/><stop offset="0.292" stop-color="#eb3d41"/><stop offset="0.333" stop-color="#ec3b40"/><stop offset="0.375" stop-color="#ec393d"/><stop offset="0.417" stop-color="#ec363a"/><stop offset="0.458" stop-color="#ed3336"/><stop offset="0.5" stop-color="#ed3032"/><stop offset="0.542" stop-color="#ed2e30"/><stop offset="0.583" stop-color="#ed2d2e"/><stop offset="0.625" stop-color="#ed2d2f"/><stop offset="0.667" stop-color="#ed2f30"/><stop offset="0.708" stop-color="#ed3032"/><stop offset="0.75" stop-color="#ed3335"/><stop offset="0.792" stop-color="#ec3639"/><stop offset="0.833" stop-color="#ec393d"/><stop offset="0.875" stop-color="#ec3c41"/><stop offset="0.917" stop-color="#eb4146"/><stop offset="0.958" stop-color="#ea454b"/><stop offset="1" stop-color="#e94950"/></linearGradient><linearGradient id="z1377_1"><stop offset="0" stop-color="#f8e6e9"/><stop offset="0.042" stop-color="#e87e87"/><stop offset="0.083" stop-color="#e7565f"/><stop offset="0.125" stop-color="#eb3e43"/><stop offset="0.167" stop-color="#ec3c41"/><stop offset="0.208" stop-color="#eb3d42"/><stop offset="0.25" stop-color="#eb3e43"/><stop offset="0.292" stop-color="#eb3e43"/><stop offset="0.333" stop-color="#ec3c41"/><stop offset="0.375" stop-color="#ec3a3e"/><stop offset="0.417" stop-color="#ec373b"/><stop offset="0.458" stop-color="#ed3436"/><stop offset="0.5" stop-color="#ed3033"/><stop offset="0.542" stop-color="#ed2e30"/><stop offset="0.583" stop-color="#ed2d2f"/><stop offset="0.625" stop-color="#ed2d2f"/><stop offset="0.667" stop-color="#ed2f31"/><stop offset="0.708" stop-color="#ed3133"/><stop offset="0.75" stop-color="#ed3336"/><stop offset="0.792" stop-color="#ec3639"/><stop offset="0.833" stop-color="#ec3a3e"/><stop offset="0.875" stop-color="#eb3d42"/><stop offset="0.917" stop-color="#ea4247"/><stop offset="0.958" stop-color="#ea464c"/><stop offset="1" stop-color="#e94a51"/></linearGradient><linearGradient id="z1377_2"><stop offset="0" stop-color="#f8e7e9"/><stop offset="0.042" stop-color="#e87f88"/><stop offset="0.083" stop-color="#e75760"/><stop offset="0.125" stop-color="#eb3f44"/><stop offset="0.167" stop-color="#eb3d42"/><stop offset="0.208" stop-color="#eb3e43"/><stop offset="0.25" stop-color="#eb4045"/><stop offset="0.292" stop-color="#eb3f44"/><stop offset="0.333" stop-color="#eb3e42"/><stop offset="0.375" stop-color="#ec3b40"/><stop offset="0.417" stop-color="#ec383c"/><stop offset="0.458" stop-color="#ed3538"/><stop offset="0.5" stop-color="#ed3134"/><stop offset="0.542" stop-color="#ed2f31"/><stop offset="0.583" stop-color="#ed2e30"/><stop offset="0.625" stop-color="#ed2e30"/><stop offset="0.667" stop-color="#ed3032"/><stop offset="0.708" stop-color="#ed3234"/><stop offset="0.75" stop-color="#ed3437"/><stop offset="0.792" stop-color="#ec373b"/><stop offset="0.833" stop-color="#ec3b3f"/><stop offset="0.875" stop-color="#eb3f43"/><stop offset="0.917" stop-color="#ea4349"/><stop offset="0.958" stop-color="#e9474e"/><stop offset="1" stop-color="#e84c54"/></linearGradient><linearGradient id="z1377_3"><stop offset="0" stop-color="#f8e7e9"/><stop offset="0.042" stop-color="#e8808a"/><stop offset="0.083" stop-color="#e75861"/><stop offset="0.125" stop-color="#eb4045"/><stop offset="0.167" stop-color="#eb3f44"/><stop offset="0.208" stop-color="#eb3f45"/><stop offset="0.25" stop-color="#eb4146"/><stop offset="0.292" stop-color="#eb4146"/><stop offset="0.333" stop-color="#eb3f44"/><stop offset="0.375" stop-color="#eb3d42"/><stop offset="0.417" stop-color="#ec3a3e"/><stop offset="0.458" stop-color="#ec373a"/><stop offset="0.5" stop-color="#ed3336"/><stop offset="0.542" stop-color="#ed3133"/><stop offset="0.583" stop-color="#ed3032"/><stop offset="0.625" stop-color="#ed3032"/><stop offset="0.667" stop-color="#ed3234"/><stop offset="0.708" stop-color="#ed3336"/><stop offset="0.75" stop-color="#ec3539"/><stop offset="0.792" stop-color="#ec393c"/><stop offset="0.833" stop-color="#ec3c41"/><stop offset="0.875" stop-color="#eb4045"/><stop offset="0.917" stop-color="#ea454b"/><stop offset="0.958" stop-color="#e94950"/><stop offset="1" stop-color="#e84f57"/></linearGradient><linearGradient id="z1377_4"><stop offset="0" stop-color="#f9e7ea"/><stop offset="0.042" stop-color="#e9818b"/><stop offset="0.083" stop-color="#e75962"/><stop offset="0.125" stop-color="#ea4247"/><stop offset="0.167" stop-color="#eb4045"/><stop offset="0.208" stop-color="#eb4146"/><stop offset="0.25" stop-color="#ea4248"/><stop offset="0.292" stop-color="#ea4248"/><stop offset="0.333" stop-color="#eb4146"/><stop offset="0.375" stop-color="#eb3f44"/><stop offset="0.417" stop-color="#ec3c40"/><stop offset="0.458" stop-color="#ec393d"/><stop offset="0.5" stop-color="#ec3639"/><stop offset="0.542" stop-color="#ed3436"/><stop offset="0.583" stop-color="#ed3335"/><stop offset="0.625" stop-color="#ed3336"/><stop offset="0.667" stop-color="#ed3437"/><stop offset="0.708" stop-color="#ec3639"/><stop offset="0.75" stop-color="#ec383b"/><stop offset="0.792" stop-color="#ec3a3f"/><stop offset="0.833" stop-color="#eb3e43"/><stop offset="0.875" stop-color="#ea4247"/><stop offset="0.917" stop-color="#ea464c"/><stop offset="0.958" stop-color="#e94a52"/><stop offset="1" stop-color="#e85159"/></linearGradient><linearGradient id="z1377_5"><stop offset="0" stop-color="#f9e8ea"/><stop offset="0.042" stop-color="#e9828c"/><stop offset="0.083" stop-color="#e75a63"/><stop offset="0.125" stop-color="#ea4349"/><stop offset="0.167" stop-color="#eb4147"/><stop offset="0.208" stop-color="#ea4248"/><stop offset="0.25" stop-color="#ea444a"/><stop offset="0.292" stop-color="#ea444a"/><stop offset="0.333" stop-color="#ea4349"/><stop offset="0.375" stop-color="#eb4146"/><stop offset="0.417" stop-color="#eb3f44"/><stop offset="0.458" stop-color="#ec3c40"/><stop offset="0.5" stop-color="#ec393d"/><stop offset="0.542" stop-color="#ec373b"/><stop offset="0.583" stop-color="#ec3639"/><stop offset="0.625" stop-color="#ec363a"/><stop offset="0.667" stop-color="#ec373b"/><stop offset="0.708" stop-color="#ec383c"/><stop offset="0.75" stop-color="#ec3a3e"/><stop offset="0.792" stop-color="#eb3d41"/><stop offset="0.833" stop-color="#eb4045"/><stop offset="0.875" stop-color="#ea4349"/><stop offset="0.917" stop-color="#e9484e"/><stop offset="0.958" stop-color="#e84d55"/><stop offset="1" stop-color="#e7535b"/></linearGradient><linearGradient id="z1377_6"><stop offset="0" stop-color="#f9e8ea"/><stop offset="0.042" stop-color="#e9848d"/><stop offset="0.083" stop-color="#e75b64"/><stop offset="0.125" stop-color="#ea444a"/><stop offset="0.167" stop-color="#ea4348"/><stop offset="0.208" stop-color="#ea444a"/><stop offset="0.25" stop-color="#ea464c"/><stop offset="0.292" stop-color="#ea464c"/><stop offset="0.333" stop-color="#ea454b"/><stop offset="0.375" stop-color="#ea4349"/><stop offset="0.417" stop-color="#eb4147"/><stop offset="0.458" stop-color="#eb3f44"/><stop offset="0.5" stop-color="#eb3d41"/><stop offset="0.542" stop-color="#ec3b3f"/><stop offset="0.583" stop-color="#ec3a3e"/><stop offset="0.625" stop-color="#ec3a3e"/><stop offset="0.667" stop-color="#ec3b3f"/><stop offset="0.708" stop-color="#ec3b40"/><stop offset="0.75" stop-color="#eb3d41"/><stop offset="0.792" stop-color="#eb3f44"/><stop offset="0.833" stop-color="#ea4247"/><stop offset="0.875" stop-color="#ea454b"/><stop offset="0.917" stop-color="#e94950"/><stop offset="0.958" stop-color="#e84f57"/><stop offset="1" stop-color="#e7555e"/></linearGradient><linearGradient id="z1377_7"><stop offset="0" stop-color="#f9e8eb"/><stop offset="0.042" stop-color="#e9858e"/><stop offset="0.083" stop-color="#e65c65"/><stop offset="0.125" stop-color="#ea464c"/><stop offset="0.167" stop-color="#ea444a"/><stop offset="0.208" stop-color="#ea454c"/><stop offset="0.25" stop-color="#e9474e"/><stop offset="0.292" stop-color="#e9484e"/><stop offset="0.333" stop-color="#e9474e"/><stop offset="0.375" stop-color="#ea464c"/><stop offset="0.417" stop-color="#ea444a"/><stop offset="0.458" stop-color="#ea4248"/><stop offset="0.5" stop-color="#eb4046"/><stop offset="0.542" stop-color="#eb3f44"/><stop offset="0.583" stop-color="#eb3e43"/><stop offset="0.625" stop-color="#eb3e43"/><stop offset="0.667" stop-color="#eb3e43"/><stop offset="0.708" stop-color="#eb3f44"/><stop offset="0.75" stop-color="#eb3f44"/><stop offset="0.792" stop-color="#eb4147"/><stop offset="0.833" stop-color="#ea444a"/><stop offset="0.875" stop-color="#e9474d"/><stop offset="0.917" stop-color="#e94b53"/><stop offset="0.958" stop-color="#e8515a"/><stop offset="1" stop-color="#e75760"/></linearGradient><linearGradient id="z1377_8"><stop offset="0" stop-color="#f9e9eb"/><stop offset="0.042" stop-color="#e9868f"/><stop offset="0.083" stop-color="#e65c66"/><stop offset="0.125" stop-color="#e9474e"/><stop offset="0.167" stop-color="#ea464c"/><stop offset="0.208" stop-color="#e9474d"/><stop offset="0.25" stop-color="#e94950"/><stop offset="0.292" stop-color="#e94950"/><stop offset="0.333" stop-color="#e94950"/><stop offset="0.375" stop-color="#e94950"/><stop offset="0.417" stop-color="#e9484e"/><stop offset="0.458" stop-color="#ea464c"/><stop offset="0.5" stop-color="#ea444a"/><stop offset="0.542" stop-color="#ea4348"/><stop offset="0.583" stop-color="#ea4248"/><stop offset="0.625" stop-color="#ea4247"/><stop offset="0.667" stop-color="#ea4247"/><stop offset="0.708" stop-color="#ea4247"/><stop offset="0.75" stop-color="#ea4248"/><stop offset="0.792" stop-color="#ea4349"/><stop offset="0.833" stop-color="#ea464c"/><stop offset="0.875" stop-color="#e9484f"/><stop offset="0.917" stop-color="#e84e56"/><stop offset="0.958" stop-color="#e7535c"/><stop offset="1" stop-color="#e75962"/></linearGradient><linearGradient id="z1377_9"><stop offset="0" stop-color="#f9e9eb"/><stop offset="0.042" stop-color="#e98790"/><stop offset="0.083" stop-color="#e65d67"/><stop offset="0.125" stop-color="#e9494f"/><stop offset="0.167" stop-color="#e9474e"/><stop offset="0.208" stop-color="#e9484f"/><stop offset="0.25" stop-color="#e94a52"/><stop offset="0.292" stop-color="#e84c54"/><stop offset="0.333" stop-color="#e84c54"/><stop offset="0.375" stop-color="#e84c54"/><stop offset="0.417" stop-color="#e94b53"/><stop offset="0.458" stop-color="#e94a51"/><stop offset="0.5" stop-color="#e9484f"/><stop offset="0.542" stop-color="#e9474e"/><stop offset="0.583" stop-color="#ea464d"/><stop offset="0.625" stop-color="#ea464c"/><stop offset="0.667" stop-color="#ea454b"/><stop offset="0.708" stop-color="#ea454b"/><stop offset="0.75" stop-color="#ea454b"/><stop offset="0.792" stop-color="#ea464c"/><stop offset="0.833" stop-color="#e9484e"/><stop offset="0.875" stop-color="#e94a51"/><stop offset="0.917" stop-color="#e85058"/><stop offset="0.958" stop-color="#e7555e"/><stop offset="1" stop-color="#e65b65"/></linearGradient><linearGradient id="z1377_10"><stop offset="0" stop-color="#f9eaec"/><stop offset="0.042" stop-color="#e98b93"/><stop offset="0.083" stop-color="#e65f69"/><stop offset="0.125" stop-color="#e94a51"/><stop offset="0.167" stop-color="#e9484f"/><stop offset="0.208" stop-color="#e94a51"/><stop offset="0.25" stop-color="#e84d55"/><stop offset="0.292" stop-color="#e84f57"/><stop offset="0.333" stop-color="#e84f57"/><stop offset="0.375" stop-color="#e84f57"/><stop offset="0.417" stop-color="#e84f57"/><stop offset="0.458" stop-color="#e84e56"/><stop offset="0.5" stop-color="#e84c54"/><stop offset="0.542" stop-color="#e94b53"/><stop offset="0.583" stop-color="#e94b52"/><stop offset="0.625" stop-color="#e94a51"/><stop offset="0.667" stop-color="#e94950"/><stop offset="0.708" stop-color="#e9474e"/><stop offset="0.75" stop-color="#e9474e"/><stop offset="0.792" stop-color="#e9484e"/><stop offset="0.833" stop-color="#e94950"/><stop offset="0.875" stop-color="#e84d55"/><stop offset="0.917" stop-color="#e8525b"/><stop offset="0.958" stop-color="#e75861"/><stop offset="1" stop-color="#e65e68"/></linearGradient><linearGradient id="z1377_11"><stop offset="0" stop-color="#f9ebec"/><stop offset="0.042" stop-color="#ea8e96"/><stop offset="0.083" stop-color="#e6606a"/><stop offset="0.125" stop-color="#e84c53"/><stop offset="0.167" stop-color="#e94a51"/><stop offset="0.208" stop-color="#e84c53"/><stop offset="0.25" stop-color="#e84f57"/><stop offset="0.292" stop-color="#e85159"/><stop offset="0.333" stop-color="#e8515a"/><stop offset="0.375" stop-color="#e8515a"/><stop offset="0.417" stop-color="#e8515a"/><stop offset="0.458" stop-color="#e85159"/><stop offset="0.5" stop-color="#e85058"/><stop offset="0.542" stop-color="#e84f57"/><stop offset="0.583" stop-color="#e84e56"/><stop offset="0.625" stop-color="#e84e55"/><stop offset="0.667" stop-color="#e84c54"/><stop offset="0.708" stop-color="#e94a52"/><stop offset="0.75" stop-color="#e94950"/><stop offset="0.792" stop-color="#e94a51"/><stop offset="0.833" stop-color="#e84c53"/><stop offset="0.875" stop-color="#e84f57"/><stop offset="0.917" stop-color="#e7545d"/><stop offset="0.958" stop-color="#e75a63"/><stop offset="1" stop-color="#e6616b"/></linearGradient><linearGradient id="z1377_12"><stop offset="0" stop-color="#faebed"/><stop offset="0.042" stop-color="#ea9199"/><stop offset="0.083" stop-color="#e6626c"/><stop offset="0.125" stop-color="#e84e56"/><stop offset="0.167" stop-color="#e84c53"/><stop offset="0.208" stop-color="#e84e56"/><stop offset="0.25" stop-color="#e8515a"/><stop offset="0.292" stop-color="#e7535c"/><stop offset="0.333" stop-color="#e7545c"/><stop offset="0.375" stop-color="#e7545c"/><stop offset="0.417" stop-color="#e7545c"/><stop offset="0.458" stop-color="#e7535c"/><stop offset="0.5" stop-color="#e7535b"/><stop offset="0.542" stop-color="#e8525a"/><stop offset="0.583" stop-color="#e8515a"/><stop offset="0.625" stop-color="#e85059"/><stop offset="0.667" stop-color="#e84f57"/><stop offset="0.708" stop-color="#e84d55"/><stop offset="0.75" stop-color="#e84c53"/><stop offset="0.792" stop-color="#e84c54"/><stop offset="0.833" stop-color="#e84e56"/><stop offset="0.875" stop-color="#e8515a"/><stop offset="0.917" stop-color="#e7565f"/><stop offset="0.958" stop-color="#e65c65"/><stop offset="1" stop-color="#e6656f"/></linearGradient><linearGradient id="z1377_13"><stop offset="0" stop-color="#faecee"/><stop offset="0.042" stop-color="#ea949c"/><stop offset="0.083" stop-color="#e6646e"/><stop offset="0.125" stop-color="#e85058"/><stop offset="0.167" stop-color="#e84e56"/><stop offset="0.208" stop-color="#e85058"/><stop offset="0.25" stop-color="#e7535c"/><stop offset="0.292" stop-color="#e7555e"/><stop offset="0.333" stop-color="#e7565f"/><stop offset="0.375" stop-color="#e7565f"/><stop offset="0.417" stop-color="#e7565f"/><stop offset="0.458" stop-color="#e7565f"/><stop offset="0.5" stop-color="#e7555e"/><stop offset="0.542" stop-color="#e7545d"/><stop offset="0.583" stop-color="#e7545d"/><stop offset="0.625" stop-color="#e7535c"/><stop offset="0.667" stop-color="#e8525a"/><stop offset="0.708" stop-color="#e85058"/><stop offset="0.75" stop-color="#e84e57"/><stop offset="0.792" stop-color="#e84f57"/><stop offset="0.833" stop-color="#e85159"/><stop offset="0.875" stop-color="#e7545c"/><stop offset="0.917" stop-color="#e75962"/><stop offset="0.958" stop-color="#e65f69"/><stop offset="1" stop-color="#e76973"/></linearGradient><linearGradient id="z1377_14"><stop offset="0" stop-color="#faedee"/><stop offset="0.042" stop-color="#eb979f"/><stop offset="0.083" stop-color="#e6656f"/><stop offset="0.125" stop-color="#e8525b"/><stop offset="0.167" stop-color="#e85058"/><stop offset="0.208" stop-color="#e8525b"/><stop offset="0.25" stop-color="#e7565e"/><stop offset="0.292" stop-color="#e75760"/><stop offset="0.333" stop-color="#e75861"/><stop offset="0.375" stop-color="#e75861"/><stop offset="0.417" stop-color="#e75862"/><stop offset="0.458" stop-color="#e75861"/><stop offset="0.5" stop-color="#e75761"/><stop offset="0.542" stop-color="#e75760"/><stop offset="0.583" stop-color="#e7565f"/><stop offset="0.625" stop-color="#e7555e"/><stop offset="0.667" stop-color="#e7545d"/><stop offset="0.708" stop-color="#e8525b"/><stop offset="0.75" stop-color="#e85159"/><stop offset="0.792" stop-color="#e85159"/><stop offset="0.833" stop-color="#e7535b"/><stop offset="0.875" stop-color="#e7565e"/><stop offset="0.917" stop-color="#e75b64"/><stop offset="0.958" stop-color="#e6636d"/><stop offset="1" stop-color="#e76c76"/></linearGradient><linearGradient id="z1377_15"><stop offset="0" stop-color="#faedef"/><stop offset="0.042" stop-color="#eb9aa2"/><stop offset="0.083" stop-color="#e76771"/><stop offset="0.125" stop-color="#e7545d"/><stop offset="0.167" stop-color="#e8525b"/><stop offset="0.208" stop-color="#e7545d"/><stop offset="0.25" stop-color="#e75861"/><stop offset="0.292" stop-color="#e75963"/><stop offset="0.333" stop-color="#e75a63"/><stop offset="0.375" stop-color="#e75a64"/><stop offset="0.417" stop-color="#e75a64"/><stop offset="0.458" stop-color="#e75a64"/><stop offset="0.5" stop-color="#e75a63"/><stop offset="0.542" stop-color="#e75962"/><stop offset="0.583" stop-color="#e75962"/><stop offset="0.625" stop-color="#e75861"/><stop offset="0.667" stop-color="#e7565f"/><stop offset="0.708" stop-color="#e7545d"/><stop offset="0.75" stop-color="#e7535b"/><stop offset="0.792" stop-color="#e7535c"/><stop offset="0.833" stop-color="#e7555e"/><stop offset="0.875" stop-color="#e75861"/><stop offset="0.917" stop-color="#e65d67"/><stop offset="0.958" stop-color="#e66670"/><stop offset="1" stop-color="#e7717b"/></linearGradient><linearGradient id="z1377_16"><stop offset="0" stop-color="#faeeef"/><stop offset="0.042" stop-color="#eb9da5"/><stop offset="0.083" stop-color="#e76973"/><stop offset="0.125" stop-color="#e7565f"/><stop offset="0.167" stop-color="#e7545d"/><stop offset="0.208" stop-color="#e7565f"/><stop offset="0.25" stop-color="#e75a63"/><stop offset="0.292" stop-color="#e65b65"/><stop offset="0.333" stop-color="#e65c66"/><stop offset="0.375" stop-color="#e65d67"/><stop offset="0.417" stop-color="#e65d67"/><stop offset="0.458" stop-color="#e65d67"/><stop offset="0.5" stop-color="#e65c66"/><stop offset="0.542" stop-color="#e65b65"/><stop offset="0.583" stop-color="#e75b64"/><stop offset="0.625" stop-color="#e75a63"/><stop offset="0.667" stop-color="#e75862"/><stop offset="0.708" stop-color="#e75760"/><stop offset="0.75" stop-color="#e7555e"/><stop offset="0.792" stop-color="#e7555e"/><stop offset="0.833" stop-color="#e75760"/><stop offset="0.875" stop-color="#e75a63"/><stop offset="0.917" stop-color="#e6616b"/><stop offset="0.958" stop-color="#e76a74"/><stop offset="1" stop-color="#e87983"/></linearGradient><linearGradient id="z1377_17"><stop offset="0" stop-color="#fbeff0"/><stop offset="0.042" stop-color="#eca1a9"/><stop offset="0.083" stop-color="#e76a74"/><stop offset="0.125" stop-color="#e75862"/><stop offset="0.167" stop-color="#e7565f"/><stop offset="0.208" stop-color="#e75861"/><stop offset="0.25" stop-color="#e65c65"/><stop offset="0.292" stop-color="#e65e68"/><stop offset="0.333" stop-color="#e6606a"/><stop offset="0.375" stop-color="#e6606a"/><stop offset="0.417" stop-color="#e6616b"/><stop offset="0.458" stop-color="#e6606a"/><stop offset="0.5" stop-color="#e65f69"/><stop offset="0.542" stop-color="#e65e68"/><stop offset="0.583" stop-color="#e65e67"/><stop offset="0.625" stop-color="#e65c66"/><stop offset="0.667" stop-color="#e75b64"/><stop offset="0.708" stop-color="#e75962"/><stop offset="0.75" stop-color="#e75760"/><stop offset="0.792" stop-color="#e75760"/><stop offset="0.833" stop-color="#e75962"/><stop offset="0.875" stop-color="#e65c66"/><stop offset="0.917" stop-color="#e6646e"/><stop offset="0.958" stop-color="#e76d77"/><stop offset="1" stop-color="#e9818a"/></linearGradient><linearGradient id="z1377_18"><stop offset="0" stop-color="#fbf0f1"/><stop offset="0.042" stop-color="#eca6ad"/><stop offset="0.083" stop-color="#e76d77"/><stop offset="0.125" stop-color="#e75a64"/><stop offset="0.167" stop-color="#e75861"/><stop offset="0.208" stop-color="#e75a64"/><stop offset="0.25" stop-color="#e65f69"/><stop offset="0.292" stop-color="#e6626c"/><stop offset="0.333" stop-color="#e6636d"/><stop offset="0.375" stop-color="#e6646e"/><stop offset="0.417" stop-color="#e6646e"/><stop offset="0.458" stop-color="#e6646e"/><stop offset="0.5" stop-color="#e6636d"/><stop offset="0.542" stop-color="#e6626c"/><stop offset="0.583" stop-color="#e6616b"/><stop offset="0.625" stop-color="#e6606a"/><stop offset="0.667" stop-color="#e65d67"/><stop offset="0.708" stop-color="#e75b64"/><stop offset="0.75" stop-color="#e75962"/><stop offset="0.792" stop-color="#e75963"/><stop offset="0.833" stop-color="#e65b64"/><stop offset="0.875" stop-color="#e65f69"/><stop offset="0.917" stop-color="#e76872"/><stop offset="0.958" stop-color="#e7747e"/><stop offset="1" stop-color="#e98b94"/></linearGradient><linearGradient id="z1377_19"><stop offset="0" stop-color="#fbf1f2"/><stop offset="0.042" stop-color="#edabb2"/><stop offset="0.083" stop-color="#e7717b"/><stop offset="0.125" stop-color="#e65d67"/><stop offset="0.167" stop-color="#e75a64"/><stop offset="0.208" stop-color="#e65d67"/><stop offset="0.25" stop-color="#e6626c"/><stop offset="0.292" stop-color="#e6656f"/><stop offset="0.333" stop-color="#e76771"/><stop offset="0.375" stop-color="#e76771"/><stop offset="0.417" stop-color="#e76872"/><stop offset="0.458" stop-color="#e76771"/><stop offset="0.5" stop-color="#e66670"/><stop offset="0.542" stop-color="#e6656f"/><stop offset="0.583" stop-color="#e6646e"/><stop offset="0.625" stop-color="#e6636d"/><stop offset="0.667" stop-color="#e6616b"/><stop offset="0.708" stop-color="#e65d67"/><stop offset="0.75" stop-color="#e65b65"/><stop offset="0.792" stop-color="#e65b65"/><stop offset="0.833" stop-color="#e65e68"/><stop offset="0.875" stop-color="#e6636d"/><stop offset="0.917" stop-color="#e76b75"/><stop offset="0.958" stop-color="#e87c85"/><stop offset="1" stop-color="#eb99a1"/></linearGradient><linearGradient id="z1377_20"><stop offset="0" stop-color="#fbf2f3"/><stop offset="0.042" stop-color="#edb0b7"/><stop offset="0.083" stop-color="#e87781"/><stop offset="0.125" stop-color="#e6606a"/><stop offset="0.167" stop-color="#e65d66"/><stop offset="0.208" stop-color="#e6606a"/><stop offset="0.25" stop-color="#e66670"/><stop offset="0.292" stop-color="#e76973"/><stop offset="0.333" stop-color="#e76a74"/><stop offset="0.375" stop-color="#e76b75"/><stop offset="0.417" stop-color="#e76b75"/><stop offset="0.458" stop-color="#e76b75"/><stop offset="0.5" stop-color="#e76a74"/><stop offset="0.542" stop-color="#e76973"/><stop offset="0.583" stop-color="#e76872"/><stop offset="0.625" stop-color="#e76771"/><stop offset="0.667" stop-color="#e6646e"/><stop offset="0.708" stop-color="#e6616b"/><stop offset="0.75" stop-color="#e65e68"/><stop offset="0.792" stop-color="#e65e68"/><stop offset="0.833" stop-color="#e6616b"/><stop offset="0.875" stop-color="#e66670"/><stop offset="0.917" stop-color="#e77079"/><stop offset="0.958" stop-color="#e9848d"/><stop offset="1" stop-color="#eca6ae"/></linearGradient><linearGradient id="z1377_21"><stop offset="0" stop-color="#fcf3f4"/><stop offset="0.042" stop-color="#eeb5bc"/><stop offset="0.083" stop-color="#e87d86"/><stop offset="0.125" stop-color="#e6646e"/><stop offset="0.167" stop-color="#e6606a"/><stop offset="0.208" stop-color="#e6646e"/><stop offset="0.25" stop-color="#e76973"/><stop offset="0.292" stop-color="#e76c76"/><stop offset="0.333" stop-color="#e76e78"/><stop offset="0.375" stop-color="#e76f79"/><stop offset="0.417" stop-color="#e77079"/><stop offset="0.458" stop-color="#e76f79"/><stop offset="0.5" stop-color="#e76d77"/><stop offset="0.542" stop-color="#e76c76"/><stop offset="0.583" stop-color="#e76c76"/><stop offset="0.625" stop-color="#e76a74"/><stop offset="0.667" stop-color="#e76872"/><stop offset="0.708" stop-color="#e6646e"/><stop offset="0.75" stop-color="#e6626c"/><stop offset="0.792" stop-color="#e6626c"/><stop offset="0.833" stop-color="#e6656f"/><stop offset="0.875" stop-color="#e76a74"/><stop offset="0.917" stop-color="#e87781"/><stop offset="0.958" stop-color="#ea8f98"/><stop offset="1" stop-color="#eeb5bb"/></linearGradient><linearGradient id="z1377_22"><stop offset="0" stop-color="#fcf4f5"/><stop offset="0.042" stop-color="#efbbc1"/><stop offset="0.083" stop-color="#e9838c"/><stop offset="0.125" stop-color="#e76771"/><stop offset="0.167" stop-color="#e6636d"/><stop offset="0.208" stop-color="#e76771"/><stop offset="0.25" stop-color="#e76d77"/><stop offset="0.292" stop-color="#e7727c"/><stop offset="0.333" stop-color="#e8757f"/><stop offset="0.375" stop-color="#e87780"/><stop offset="0.417" stop-color="#e87781"/><stop offset="0.458" stop-color="#e87680"/><stop offset="0.5" stop-color="#e8757e"/><stop offset="0.542" stop-color="#e7727c"/><stop offset="0.583" stop-color="#e7707a"/><stop offset="0.625" stop-color="#e76e78"/><stop offset="0.667" stop-color="#e76b75"/><stop offset="0.708" stop-color="#e76872"/><stop offset="0.75" stop-color="#e6656f"/><stop offset="0.792" stop-color="#e6656f"/><stop offset="0.833" stop-color="#e76872"/><stop offset="0.875" stop-color="#e76d77"/><stop offset="0.917" stop-color="#e87f88"/><stop offset="0.958" stop-color="#eb9da5"/><stop offset="1" stop-color="#f1c2c8"/></linearGradient><linearGradient id="z1377_23"><stop offset="0" stop-color="#fcf5f6"/><stop offset="0.042" stop-color="#f0c1c6"/><stop offset="0.083" stop-color="#e98a93"/><stop offset="0.125" stop-color="#e76b75"/><stop offset="0.167" stop-color="#e76771"/><stop offset="0.208" stop-color="#e76b75"/><stop offset="0.25" stop-color="#e7747d"/><stop offset="0.292" stop-color="#e87a83"/><stop offset="0.333" stop-color="#e87d86"/><stop offset="0.375" stop-color="#e87e88"/><stop offset="0.417" stop-color="#e87f88"/><stop offset="0.458" stop-color="#e87e87"/><stop offset="0.5" stop-color="#e87c86"/><stop offset="0.542" stop-color="#e87a84"/><stop offset="0.583" stop-color="#e87882"/><stop offset="0.625" stop-color="#e8757f"/><stop offset="0.667" stop-color="#e7707a"/><stop offset="0.708" stop-color="#e76c76"/><stop offset="0.75" stop-color="#e76973"/><stop offset="0.792" stop-color="#e76973"/><stop offset="0.833" stop-color="#e76c76"/><stop offset="0.875" stop-color="#e7747e"/><stop offset="0.917" stop-color="#e98790"/><stop offset="0.958" stop-color="#eca8af"/><stop offset="1" stop-color="#f2cbcf"/></linearGradient><linearGradient id="z1377_24"><stop offset="0" stop-color="#fcf6f6"/><stop offset="0.042" stop-color="#f2c7cc"/><stop offset="0.083" stop-color="#ea949c"/><stop offset="0.125" stop-color="#e7717b"/><stop offset="0.167" stop-color="#e76c76"/><stop offset="0.208" stop-color="#e7717b"/><stop offset="0.25" stop-color="#e87c85"/><stop offset="0.292" stop-color="#e9818b"/><stop offset="0.333" stop-color="#e9848d"/><stop offset="0.375" stop-color="#e9868f"/><stop offset="0.417" stop-color="#e9868f"/><stop offset="0.458" stop-color="#e9858e"/><stop offset="0.5" stop-color="#e9838d"/><stop offset="0.542" stop-color="#e9828b"/><stop offset="0.583" stop-color="#e88089"/><stop offset="0.625" stop-color="#e87d87"/><stop offset="0.667" stop-color="#e87982"/><stop offset="0.708" stop-color="#e7727c"/><stop offset="0.75" stop-color="#e76d77"/><stop offset="0.792" stop-color="#e76e78"/><stop offset="0.833" stop-color="#e7737c"/><stop offset="0.875" stop-color="#e87c86"/><stop offset="0.917" stop-color="#ea919a"/><stop offset="0.958" stop-color="#edafb6"/><stop offset="1" stop-color="#f3ced3"/></linearGradient><linearGradient id="z1377_25"><stop offset="0" stop-color="#fdf7f7"/><stop offset="0.042" stop-color="#f3ccd1"/><stop offset="0.083" stop-color="#eb9ea6"/><stop offset="0.125" stop-color="#e87a84"/><stop offset="0.167" stop-color="#e7747e"/><stop offset="0.208" stop-color="#e87a84"/><stop offset="0.25" stop-color="#e9848d"/><stop offset="0.292" stop-color="#e98b94"/><stop offset="0.333" stop-color="#ea8f97"/><stop offset="0.375" stop-color="#ea919a"/><stop offset="0.417" stop-color="#ea929a"/><stop offset="0.458" stop-color="#ea9199"/><stop offset="0.5" stop-color="#ea8e97"/><stop offset="0.542" stop-color="#e98b94"/><stop offset="0.583" stop-color="#e98891"/><stop offset="0.625" stop-color="#e9858e"/><stop offset="0.667" stop-color="#e9818a"/><stop offset="0.708" stop-color="#e87b85"/><stop offset="0.75" stop-color="#e87780"/><stop offset="0.792" stop-color="#e87781"/><stop offset="0.833" stop-color="#e87c85"/><stop offset="0.875" stop-color="#e9848e"/><stop offset="0.917" stop-color="#eb9ca4"/><stop offset="0.958" stop-color="#efb8be"/><stop offset="1" stop-color="#f4d2d6"/></linearGradient><linearGradient id="z1377_26"><stop offset="0" stop-color="#fdf8f8"/><stop offset="0.042" stop-color="#f4d3d7"/><stop offset="0.083" stop-color="#eca9b0"/><stop offset="0.125" stop-color="#e9848d"/><stop offset="0.167" stop-color="#e87e88"/><stop offset="0.208" stop-color="#e9848d"/><stop offset="0.25" stop-color="#ea9199"/><stop offset="0.292" stop-color="#eb98a0"/><stop offset="0.333" stop-color="#eb9ba3"/><stop offset="0.375" stop-color="#eb9da5"/><stop offset="0.417" stop-color="#eb9ea6"/><stop offset="0.458" stop-color="#eb9da5"/><stop offset="0.5" stop-color="#eb9ba3"/><stop offset="0.542" stop-color="#eb98a1"/><stop offset="0.583" stop-color="#ea969e"/><stop offset="0.625" stop-color="#ea929b"/><stop offset="0.667" stop-color="#ea8c95"/><stop offset="0.708" stop-color="#e9858e"/><stop offset="0.75" stop-color="#e8818a"/><stop offset="0.792" stop-color="#e9818a"/><stop offset="0.833" stop-color="#e9858e"/><stop offset="0.875" stop-color="#ea919a"/><stop offset="0.917" stop-color="#eca7ae"/><stop offset="0.958" stop-color="#f0bfc5"/><stop offset="1" stop-color="#f4d6da"/></linearGradient><linearGradient id="z1377_27"><stop offset="0" stop-color="#fdf9f9"/><stop offset="0.042" stop-color="#f5d9dc"/><stop offset="0.083" stop-color="#eeb4bb"/><stop offset="0.125" stop-color="#ea929b"/><stop offset="0.167" stop-color="#e98a93"/><stop offset="0.208" stop-color="#ea929b"/><stop offset="0.25" stop-color="#eb9fa7"/><stop offset="0.292" stop-color="#eca5ad"/><stop offset="0.333" stop-color="#eca8af"/><stop offset="0.375" stop-color="#ecaab1"/><stop offset="0.417" stop-color="#edaab2"/><stop offset="0.458" stop-color="#ecaab1"/><stop offset="0.5" stop-color="#eca8af"/><stop offset="0.542" stop-color="#eca6ad"/><stop offset="0.583" stop-color="#eca3ab"/><stop offset="0.625" stop-color="#eca1a8"/><stop offset="0.667" stop-color="#eb9ba3"/><stop offset="0.708" stop-color="#ea949c"/><stop offset="0.75" stop-color="#ea8e96"/><stop offset="0.792" stop-color="#ea8e97"/><stop offset="0.833" stop-color="#ea959d"/><stop offset="0.875" stop-color="#eb9fa7"/><stop offset="0.917" stop-color="#eeb3b9"/><stop offset="0.958" stop-color="#f1c6cb"/><stop offset="1" stop-color="#f5dade"/></linearGradient><linearGradient id="z1377_28"><stop offset="0" stop-color="#fefafa"/><stop offset="0.042" stop-color="#f6dfe2"/><stop offset="0.083" stop-color="#f0c1c6"/><stop offset="0.125" stop-color="#eca3ab"/><stop offset="0.167" stop-color="#eb9ca4"/><stop offset="0.208" stop-color="#eca3aa"/><stop offset="0.25" stop-color="#edadb4"/><stop offset="0.292" stop-color="#eeb3ba"/><stop offset="0.333" stop-color="#eeb6bc"/><stop offset="0.375" stop-color="#efb7be"/><stop offset="0.417" stop-color="#efb8be"/><stop offset="0.458" stop-color="#efb7bd"/><stop offset="0.5" stop-color="#eeb5bc"/><stop offset="0.542" stop-color="#eeb3ba"/><stop offset="0.583" stop-color="#edb1b8"/><stop offset="0.625" stop-color="#edafb6"/><stop offset="0.667" stop-color="#edaab1"/><stop offset="0.708" stop-color="#eca4ac"/><stop offset="0.75" stop-color="#eb9fa7"/><stop offset="0.792" stop-color="#eb9fa7"/><stop offset="0.833" stop-color="#eca5ac"/><stop offset="0.875" stop-color="#edaeb5"/><stop offset="0.917" stop-color="#f0bec4"/><stop offset="0.958" stop-color="#f3cdd1"/><stop offset="1" stop-color="#f6dfe2"/></linearGradient><linearGradient id="z1377_29"><stop offset="0" stop-color="#fefbfb"/><stop offset="0.042" stop-color="#f8e5e8"/><stop offset="0.083" stop-color="#f3cdd1"/><stop offset="0.125" stop-color="#eeb4bb"/><stop offset="0.167" stop-color="#edaeb5"/><stop offset="0.208" stop-color="#eeb4bb"/><stop offset="0.25" stop-color="#f0bdc3"/><stop offset="0.292" stop-color="#f0c1c6"/><stop offset="0.333" stop-color="#f1c2c8"/><stop offset="0.375" stop-color="#f1c3c9"/><stop offset="0.417" stop-color="#f1c4c9"/><stop offset="0.458" stop-color="#f1c3c9"/><stop offset="0.5" stop-color="#f1c2c8"/><stop offset="0.542" stop-color="#f0c1c6"/><stop offset="0.583" stop-color="#f0c0c5"/><stop offset="0.625" stop-color="#f0bec4"/><stop offset="0.667" stop-color="#efbbc1"/><stop offset="0.708" stop-color="#eeb5bc"/><stop offset="0.75" stop-color="#edb1b8"/><stop offset="0.792" stop-color="#edb1b8"/><stop offset="0.833" stop-color="#eeb6bc"/><stop offset="0.875" stop-color="#f0bdc3"/><stop offset="0.917" stop-color="#f2c8cd"/><stop offset="0.958" stop-color="#f4d4d8"/><stop offset="1" stop-color="#f8e4e6"/></linearGradient><linearGradient id="z1377_30"><stop offset="0" stop-color="#fefcfc"/><stop offset="0.042" stop-color="#f9ebec"/><stop offset="0.083" stop-color="#f5d7da"/><stop offset="0.125" stop-color="#f1c5ca"/><stop offset="0.167" stop-color="#f0c1c7"/><stop offset="0.208" stop-color="#f1c5ca"/><stop offset="0.25" stop-color="#f2cacf"/><stop offset="0.292" stop-color="#f3cdd1"/><stop offset="0.333" stop-color="#f3ced2"/><stop offset="0.375" stop-color="#f3cfd3"/><stop offset="0.417" stop-color="#f3cfd3"/><stop offset="0.458" stop-color="#f3cfd3"/><stop offset="0.5" stop-color="#f3ced2"/><stop offset="0.542" stop-color="#f3cdd1"/><stop offset="0.583" stop-color="#f3ccd1"/><stop offset="0.625" stop-color="#f2cbcf"/><stop offset="0.667" stop-color="#f2c8cd"/><stop offset="0.708" stop-color="#f1c5ca"/><stop offset="0.75" stop-color="#f1c3c8"/><stop offset="0.792" stop-color="#f1c3c8"/><stop offset="0.833" stop-color="#f1c6cb"/><stop offset="0.875" stop-color="#f2cacf"/><stop offset="0.917" stop-color="#f4d2d6"/><stop offset="0.958" stop-color="#f6dde0"/><stop offset="1" stop-color="#f9e8eb"/></linearGradient><linearGradient id="z1377_31"><stop offset="0" stop-color="#fefdfd"/><stop offset="0.042" stop-color="#fbf0f2"/><stop offset="0.083" stop-color="#f7e2e4"/><stop offset="0.125" stop-color="#f4d4d8"/><stop offset="0.167" stop-color="#f4d2d6"/><stop offset="0.208" stop-color="#f4d4d8"/><stop offset="0.25" stop-color="#f5d8dc"/><stop offset="0.292" stop-color="#f5dade"/><stop offset="0.333" stop-color="#f5dbdf"/><stop offset="0.375" stop-color="#f6dcdf"/><stop offset="0.417" stop-color="#f6dcdf"/><stop offset="0.458" stop-color="#f6dcdf"/><stop offset="0.5" stop-color="#f5dbde"/><stop offset="0.542" stop-color="#f5dade"/><stop offset="0.583" stop-color="#f5dadd"/><stop offset="0.625" stop-color="#f5d9dc"/><stop offset="0.667" stop-color="#f5d7da"/><stop offset="0.708" stop-color="#f4d4d8"/><stop offset="0.75" stop-color="#f4d3d7"/><stop offset="0.792" stop-color="#f4d3d7"/><stop offset="0.833" stop-color="#f4d5d8"/><stop offset="0.875" stop-color="#f5d8dc"/><stop offset="0.917" stop-color="#f6dfe2"/><stop offset="0.958" stop-color="#f8e6e8"/><stop offset="1" stop-color="#faedef"/></linearGradient><linearGradient id="z1377_32"><stop offset="0" stop-color="#fffefe"/><stop offset="0.042" stop-color="#fdf7f8"/><stop offset="0.083" stop-color="#fbeff0"/><stop offset="0.125" stop-color="#f9e8ea"/><stop offset="0.167" stop-color="#f8e7e9"/><stop offset="0.208" stop-color="#f9e8ea"/><stop offset="0.25" stop-color="#f9eaec"/><stop offset="0.292" stop-color="#f9eaec"/><stop offset="0.333" stop-color="#faebed"/><stop offset="0.375" stop-color="#faebed"/><stop offset="0.417" stop-color="#faebed"/><stop offset="0.458" stop-color="#faebed"/><stop offset="0.5" stop-color="#f9ebed"/><stop offset="0.542" stop-color="#f9ebec"/><stop offset="0.583" stop-color="#f9eaec"/><stop offset="0.625" stop-color="#f9eaec"/><stop offset="0.667" stop-color="#f9e9eb"/><stop offset="0.708" stop-color="#f9e8ea"/><stop offset="0.75" stop-color="#f8e7e9"/><stop offset="0.792" stop-color="#f9e7e9"/><stop offset="0.833" stop-color="#f9e8ea"/><stop offset="0.875" stop-color="#f9eaec"/><stop offset="0.917" stop-color="#faecee"/><stop offset="0.958" stop-color="#fbeff1"/><stop offset="1" stop-color="#fbf2f3"/></linearGradient><linearGradient id="z1377_33"><stop offset="0" stop-color="#fffefe"/><stop offset="0.042" stop-color="#fefbfc"/><stop offset="0.083" stop-color="#fdf8f8"/><stop offset="0.125" stop-color="#fcf5f6"/><stop offset="0.167" stop-color="#fcf5f6"/><stop offset="0.208" stop-color="#fcf5f6"/><stop offset="0.25" stop-color="#fcf5f6"/><stop offset="0.292" stop-color="#fcf5f6"/><stop offset="0.333" stop-color="#fcf5f6"/><stop offset="0.375" stop-color="#fcf5f6"/><stop offset="0.417" stop-color="#fcf5f6"/><stop offset="0.458" stop-color="#fcf5f6"/><stop offset="0.5" stop-color="#fcf5f6"/><stop offset="0.542" stop-color="#fcf5f6"/><stop offset="0.583" stop-color="#fcf5f6"/><stop offset="0.625" stop-color="#fcf5f6"/><stop offset="0.667" stop-color="#fcf5f6"/><stop offset="0.708" stop-color="#fcf5f6"/><stop offset="0.75" stop-color="#fcf5f6"/><stop offset="0.792" stop-color="#fcf5f6"/><stop offset="0.833" stop-color="#fcf5f6"/><stop offset="0.875" stop-color="#fcf5f6"/><stop offset="0.917" stop-color="#fcf5f6"/><stop offset="0.958" stop-color="#fcf5f6"/><stop offset="1" stop-color="#fcf5f6"/></linearGradient></defs>
<rect x="1377" y="789" width="348.2" height="11.7" fill="url(#z1377_0)"/>
<rect x="1377" y="800.3" width="348.2" height="11.7" fill="url(#z1377_1)"/>
<rect x="1377" y="811.6" width="348.2" height="11.7" fill="url(#z1377_2)"/>
<rect x="1377" y="822.9" width="348.2" height="11.7" fill="url(#z1377_3)"/>
<rect x="1377" y="834.2" width="348.2" height="11.7" fill="url(#z1377_4)"/>
<rect x="1377" y="845.5" width="348.2" height="11.7" fill="url(#z1377_5)"/>
<rect x="1377" y="856.8" width="348.2" height="11.7" fill="url(#z1377_6)"/>
<rect x="1377" y="868.1" width="348.2" height="11.7" fill="url(#z1377_7)"/>
<rect x="1377" y="879.4" width="348.2" height="11.7" fill="url(#z1377_8)"/>
<rect x="1377" y="890.8" width="348.2" height="11.7" fill="url(#z1377_9)"/>
<rect x="1377" y="902.1" width="348.2" height="11.7" fill="url(#z1377_10)"/>
<rect x="1377" y="913.4" width="348.2" height="11.7" fill="url(#z1377_11)"/>
<rect x="1377" y="924.7" width="348.2" height="11.7" fill="url(#z1377_12)"/>
<rect x="1377" y="936" width="348.2" height="11.7" fill="url(#z1377_13)"/>
<rect x="1377" y="947.3" width="348.2" height="11.7" fill="url(#z1377_14)"/>
<rect x="1377" y="958.6" width="348.2" height="11.7" fill="url(#z1377_15)"/>
<rect x="1377" y="969.9" width="348.2" height="11.7" fill="url(#z1377_16)"/>
<rect x="1377" y="981.2" width="348.2" height="11.7" fill="url(#z1377_17)"/>
<rect x="1377" y="992.5" width="348.2" height="11.7" fill="url(#z1377_18)"/>
<rect x="1377" y="1003.8" width="348.2" height="11.7" fill="url(#z1377_19)"/>
<rect x="1377" y="1015.1" width="348.2" height="11.7" fill="url(#z1377_20)"/>
<rect x="1377" y="1026.4" width="348.2" height="11.7" fill="url(#z1377_21)"/>
<rect x="1377" y="1037.7" width="348.2" height="11.7" fill="url(#z1377_22)"/>
<rect x="1377" y="1049" width="348.2" height="11.7" fill="url(#z1377_23)"/>
<rect x="1377" y="1060.3" width="348.2" height="11.7" fill="url(#z1377_24)"/>
<rect x="1377" y="1071.6" width="348.2" height="11.7" fill="url(#z1377_25)"/>
<rect x="1377" y="1083" width="348.2" height="11.7" fill="url(#z1377_26)"/>
<rect x="1377" y="1094.3" width="348.2" height="11.7" fill="url(#z1377_27)"/>
<rect x="1377" y="1105.6" width="348.2" height="11.7" fill="url(#z1377_28)"/>
<rect x="1377" y="1116.9" width="348.2" height="11.7" fill="url(#z1377_29)"/>
<rect x="1377" y="1128.2" width="348.2" height="11.7" fill="url(#z1377_30)"/>
<rect x="1377" y="1139.5" width="348.2" height="11.7" fill="url(#z1377_31)"/>
<rect x="1377" y="1150.8" width="348.2" height="11.7" fill="url(#z1377_32)"/>
<rect x="1377" y="1162.1" width="348.2" height="11.7" fill="url(#z1377_33)"/>
<polyline points="1378.3,789 1378.4,800.1 1378.5,811.3 1378.5,822.4 1378.6,833.6 1378.7,844.7 1378.7,855.9 1378.8,867 1378.9,878.1 1379,889.3 1379.1,900.4 1379.3,911.6 1379.4,922.7 1379.6,933.8 1379.8,945 1380,956.1 1380.2,967.3 1380.4,978.4 1380.8,989.6 1381.2,1000.7 1381.7,1011.8 1382,1018.9 1382.5,1028.6 1383.2,1039.7 1384,1050.8 1384.9,1062 1386.1,1073.1 1387.1,1080.3 1388.6,1089.8 1390.9,1101 1392.4,1106.5 1396.2,1117.7 1398.3,1123.3 1402.2,1132 1407.1,1140 1412.2,1145.5 1417.4,1148.7 1427.5,1150 1437.6,1150.3 1447.6,1149.5 1457.7,1147.9 1467.8,1146.4 1477.9,1145.6 1483,1145.3 1493.1,1144.8 1503.2,1144.5 1513.3,1144.2 1523.3,1144.2 1533.4,1144.3 1543.5,1144.6 1553.6,1145 1563.7,1145.4 1568.8,1145.5 1578.9,1145.9 1588.9,1146.3 1599,1146.9 1609.1,1147.7 1619.2,1148.6 1629.3,1149.4 1639.4,1149.9 1649.5,1149.9 1659.6,1149.5 1669.7,1148.6 1679.8,1147.3 1686.3,1145.5 1694.9,1142.3 1700,1139.8 1707.7,1134.4 1713.1,1128.8 1716.9,1123.3 1720.2,1116.9 1723.8,1106.5 1725.2,1101.2" fill="none" stroke="#fff" stroke-opacity="0.75" stroke-width="0.9"/>
<polyline points="1383,789 1383.1,800.1 1383.3,811.3 1383.4,822.4 1383.5,833.6 1383.7,844.7 1383.8,855.9 1383.9,867 1384.1,878.1 1384.2,889.3 1384.5,900.4 1384.8,911.6 1385.1,922.7 1385.5,933.8 1385.8,945 1386.2,956.1 1386.6,967.3 1387.1,978.4 1387.4,984 1388.1,995.1 1389,1006.3 1390,1017.4 1391.1,1028.6 1392.1,1037.4 1393.1,1045.3 1394.7,1056.4 1396.7,1067.6 1397.8,1073.1 1400.5,1084.3 1402.2,1090.1 1405.9,1101 1408.2,1106.5 1412.3,1114.9 1417.4,1121.8 1422.4,1123.9 1432.5,1126.3 1442.6,1125.5 1449.2,1123.3 1457.7,1119.5 1462.8,1117.3 1472.9,1114 1482.9,1112.1 1488,1111.4 1498.1,1110.3 1508.2,1109.5 1518.3,1109.1 1528.4,1109.2 1538.5,1109.9 1548.6,1110.9 1558.7,1111.9 1563.7,1112.5 1573.8,1113.4 1583.9,1114.4 1594,1115.8 1604,1117.7 1609.1,1119 1619.2,1121.5 1626.8,1123.3 1634.4,1124.7 1644.5,1125.4 1654.6,1124.7 1662.3,1123.3 1669.7,1121.6 1679.8,1117.8 1684.8,1114.1 1689.9,1109.6 1694.9,1103.9 1700,1096.9 1704,1089.8 1706.7,1084.3 1710.1,1075.8 1712.8,1067.6 1715.1,1058.9 1717.1,1050.8 1720.2,1043.3 1724.4,1034.1 1725.2,1032.5" fill="none" stroke="#fff" stroke-opacity="0.75" stroke-width="0.9"/>
<polyline points="1387.5,789 1387.6,800.1 1387.8,811.3 1388,822.4 1388.2,833.6 1388.4,844.7 1388.6,855.9 1388.8,867 1389,878.1 1389.3,889.3 1389.7,900.4 1390.1,911.6 1390.6,922.7 1391,933.8 1391.6,945 1392.1,956.1 1392.4,961.7 1393,972.8 1393.7,984 1394.8,995.1 1396,1006.3 1397.2,1015.4 1398.2,1023 1399.8,1034.1 1401.6,1045.3 1402.7,1050.8 1404.9,1062 1407.3,1071.7 1409.1,1078.7 1412.3,1088.6 1415.4,1095.4 1420.1,1101 1427.5,1104.7 1437.6,1106.1 1447.6,1102.4 1452.7,1099.2 1458.1,1095.4 1467.1,1089.8 1472.9,1087.2 1483,1084.3 1488,1083.3 1498.1,1081.5 1508.2,1080.3 1518.3,1079.6 1528.4,1079.9 1538.5,1080.9 1548.6,1082.4 1558.7,1084 1563.7,1084.8 1573.8,1086.3 1583.9,1087.9 1593.5,1089.8 1599,1091.3 1609.1,1094.7 1614.2,1096.7 1624.3,1100.6 1629.3,1102.2 1639.4,1104.3 1649.5,1104.3 1659.6,1102.3 1664.6,1100.7 1674.7,1096.9 1679.8,1093.1 1684.8,1087.4 1689.9,1080.4 1694.2,1073.1 1697,1067.6 1700,1060.9 1703.7,1050.8 1706.3,1045.3 1710.1,1037.7 1714.5,1028.6 1717.2,1023 1720.2,1016.8 1725.1,1006.3 1725.2,1006" fill="none" stroke="#fff" stroke-opacity="0.75" stroke-width="0.9"/>
<polyline points="1391.8,789 1392,800.1 1392.1,808.3 1392.3,816.9 1392.6,828 1392.8,839.1 1393.1,850.3 1393.4,861.4 1393.6,872.6 1393.9,883.7 1394.3,894.8 1394.9,906 1395.4,917.1 1396.1,928.3 1396.7,939.4 1397.2,947.1 1397.8,956.1 1398.5,967.3 1399.3,978.4 1400.3,989.6 1401.8,1000.7 1402.5,1006.3 1404.1,1017.4 1405.9,1028.6 1407.3,1036 1408.9,1045.3 1411.3,1056.4 1412.7,1062 1416.4,1073.1 1420.8,1078.7 1427.5,1083.3 1432.5,1085.1 1440.3,1084.3 1447.6,1080.2 1452.7,1075.7 1457.7,1070.9 1462.8,1066.3 1468.6,1062 1477.9,1057.2 1483,1055.5 1493.1,1052.8 1502.6,1050.8 1508.2,1050 1518.3,1049.2 1528.4,1049.5 1538.5,1050.8 1543.5,1051.8 1553.6,1053.9 1563.7,1056.1 1568.8,1057.2 1578.9,1059.2 1588.9,1061.6 1594,1063.1 1604.1,1067.2 1609.1,1069.7 1615.5,1073.1 1624.3,1077.7 1629.3,1079.9 1639.4,1082.7 1649.5,1082.8 1659.6,1080 1664.6,1077.8 1673.8,1073.1 1679.6,1067.6 1683.4,1062 1686.7,1056.4 1689.9,1050.2 1694.9,1040.3 1698.1,1034.1 1700.9,1028.6 1705,1020.4 1709.3,1011.8 1712,1006.3 1715.1,999.9 1720,989.6 1722.6,984 1725.2,978.5" fill="none" stroke="#fff" stroke-opacity="0.75" stroke-width="0.9"/>
<polyline points="1395.9,789 1396.2,800.1 1396.5,811.3 1396.8,822.4 1397.1,833.6 1397.2,839.1 1397.6,850.3 1397.9,861.4 1398.2,872.6 1398.6,883.7 1399,894.8 1399.7,906 1400.4,917.1 1401.1,928.3 1401.9,939.4 1402.3,945 1403.1,956.1 1404,967.3 1404.9,978.4 1405.9,989.6 1407.3,998.7 1408.4,1006.3 1410.1,1017.4 1412.1,1028.6 1413.2,1034.1 1415.8,1045.3 1417.4,1051.2 1422.4,1056.6 1430.1,1062 1437.6,1063.2 1442.6,1060.9 1447.9,1056.4 1452.9,1050.8 1457.7,1044.4 1462.8,1038.4 1467.8,1033.7 1476.8,1028.6 1483,1026.3 1493.1,1023.7 1498.1,1022.6 1508.2,1021 1518.3,1020.2 1528.4,1020.5 1538.5,1021.8 1545,1023 1553.6,1024.8 1563.7,1026.9 1571.3,1028.6 1578.9,1030.2 1588.9,1032.8 1594,1034.6 1604.1,1039.5 1609.1,1042.7 1614.2,1046.4 1620.1,1050.8 1629.3,1056.4 1634.4,1058.6 1644.5,1060.5 1654.6,1058.7 1659.8,1056.4 1669.1,1050.8 1674.7,1046.7 1679.8,1039.8 1682.9,1034.1 1686,1028.6 1689.9,1021.1 1694.7,1011.8 1697.5,1006.3 1700.4,1000.7 1705,991.5 1708.7,984 1711.5,978.4 1715.1,971 1719.5,961.7 1722.2,956.1 1725.2,949.6 1725.2,949.6" fill="none" stroke="#fff" stroke-opacity="0.75" stroke-width="0.9"/>
<polyline points="1400,789 1400.3,800.1 1400.6,811.3 1401,822.4 1401.3,833.6 1401.7,844.7 1402.1,855.9 1402.3,861.4 1402.7,872.6 1403.1,883.7 1403.5,894.8 1404.3,906 1405.1,917.1 1405.9,928.3 1406.8,939.4 1407.3,945.5 1408.2,956.1 1409.1,967.3 1410.1,978.4 1411.2,989.6 1412.3,997.9 1413.9,1006.3 1416.2,1017.4 1417.7,1023 1422.4,1029.3 1427.5,1035 1437.6,1038.5 1443.6,1034.1 1448.3,1028.6 1452.7,1022.4 1457.7,1015.5 1462.8,1009.4 1467.8,1004.8 1474.5,1000.7 1483,997.4 1491.6,995.1 1498.1,993.7 1508.2,992.1 1518.3,991.4 1528.4,991.7 1538.5,993 1548.6,994.9 1553.6,996 1563.7,998.1 1573.8,1000.3 1578.9,1001.3 1588.9,1004 1595.2,1006.3 1604.1,1010.6 1609.1,1013.8 1614.2,1017.5 1621.1,1023 1628.5,1028.6 1634.4,1032.1 1640.2,1034.1 1649.1,1034.1 1654.6,1032.2 1660.6,1028.6 1668.1,1023 1674.7,1017.8 1679.1,1011.8 1682.3,1006.3 1685.4,1000.7 1689.9,992.2 1694.1,984 1697,978.4 1700,972.6 1705,962.6 1708.2,956.1 1711,950.6 1715.1,942.2 1719.1,933.8 1721.7,928.3 1725.2,920.8 1725.2,920.8" fill="none" stroke="#fff" stroke-opacity="0.75" stroke-width="0.9"/>
<polyline points="1404,789 1404.3,800.1 1404.6,811.3 1405,822.4 1405.5,833.6 1405.9,844.7 1406.3,855.9 1406.8,867 1407.2,878.1 1407.5,883.7 1407.9,894.8 1408.7,906 1409.5,917.1 1410.4,928.3 1411.4,939.4 1412.3,949.6 1413.1,956.1 1414.4,967.3 1415.9,978.4 1417.4,989.6 1421.5,995.1 1426.3,1000.7 1432.5,1005.4 1442.6,1002.3 1447.6,996.5 1452.6,989.6 1456.7,984 1461.2,978.4 1466.8,972.8 1472.9,968.6 1477.9,966.3 1488,963.3 1495.9,961.7 1503.2,960.5 1513.3,959.5 1523.3,959.5 1533.4,960.5 1540.9,961.7 1548.6,963.2 1558.7,965.4 1568.1,967.3 1573.8,968.4 1583.9,970.6 1591.7,972.8 1599,975.7 1604.4,978.4 1612.9,984 1619.2,988.8 1624.3,992.7 1629.3,996.3 1638.3,1000.7 1644.5,1001.8 1650.7,1000.7 1659.6,996.4 1664.6,992.7 1669.7,988.8 1675.4,984 1679.8,978 1684.8,969 1688.7,961.7 1691.6,956.1 1694.9,949.8 1700,939.9 1703.1,933.8 1705.9,928.3 1710.1,919.9 1714.2,911.6 1716.9,906 1720.2,899.2 1724.8,889.3 1725.2,888.4" fill="none" stroke="#fff" stroke-opacity="0.75" stroke-width="0.9"/>
<polyline points="1407.8,789 1408.2,800.1 1408.6,811.3 1409,822.4 1409.5,833.6 1409.9,844.7 1410.4,855.9 1410.9,867 1411.4,878.1 1412,889.3 1412.3,896.7 1413,906 1414.2,917.1 1415.5,928.3 1416.8,939.4 1418,945 1422.4,950.9 1427.5,956.6 1437.6,960.2 1443.3,956.1 1448.1,950.6 1452.7,944.3 1457.7,937.4 1462.8,931.7 1467.8,927.4 1477.2,922.7 1483,921.2 1493.1,919.7 1503.2,919 1513.3,919.1 1523.3,920.1 1533.4,921.8 1538.5,922.8 1548.6,925.1 1558.7,927.3 1563.7,928.3 1573.8,930.1 1583.9,931.9 1593.2,933.8 1599,935.6 1608,939.4 1614.2,942.9 1619.2,946.1 1626.2,950.6 1634.4,955.1 1639.4,956.8 1649.5,956.6 1654.6,954.7 1661.3,950.6 1668.8,945 1674.7,940.4 1679.5,933.8 1682.8,928.3 1685.9,922.7 1689.9,915.4 1694.8,906 1697.7,900.4 1700.6,894.8 1705,886.1 1709,878.1 1711.7,872.6 1715.1,865.6 1719.7,855.9 1722.2,850.3 1725.2,843.8 1725.2,843.8" fill="none" stroke="#fff" stroke-opacity="0.75" stroke-width="0.9"/>
<polyline points="1411.6,789 1412,800.1 1412.3,808.9 1412.7,816.9 1413.4,828 1414,839.1 1414.7,850.3 1415.4,861.4 1416.1,872.6 1416.9,883.7 1417.4,891.2 1422.4,898 1427.5,903.8 1432.5,907.3 1440.4,906 1446.8,900.4 1451.6,894.8 1456.5,889.3 1462.6,883.7 1467.8,880.8 1477.9,879.3 1488,880.6 1498.1,882.2 1505.7,883.7 1513.3,885.3 1523.3,888 1528.4,889.5 1538.5,892.6 1545.9,894.8 1553.6,897 1563.7,899.3 1570.3,900.4 1578.9,901.7 1588.9,902.9 1599,904.5 1605.4,906 1614.2,908.8 1621.3,911.6 1629.3,914.2 1639.4,915.6 1649.5,913.5 1654.6,911.1 1662,906 1668.8,900.4 1674.7,895.4 1679.2,889.3 1682.6,883.7 1685.7,878.1 1689.9,870.2 1694.3,861.4 1697,855.9 1700,849.6 1704.8,839.1 1707.3,833.6 1710.1,827.3 1714.6,816.9 1716.9,811.3 1720.2,803.7 1724,794.6 1725.2,791.7" fill="none" stroke="#fff" stroke-opacity="0.75" stroke-width="0.9"/>
<polyline points="1416.2,789 1416.8,800.1 1417.4,811.3 1421.1,816.9 1425.3,822.4 1430.8,828 1437.6,830.7 1443.6,828 1450,822.4 1455.9,816.9 1462.8,811.9 1467.8,810.4 1473.7,811.3 1483,816.5 1488,820.7 1493.1,825.4 1498.1,830.4 1503.2,835.3 1508.2,840.1 1513.3,844.7 1519.8,850.3 1527.2,855.9 1533.4,860.1 1538.5,863.1 1546,867 1553.6,870.2 1561.1,872.6 1568.8,874.4 1578.9,875.7 1588.9,876 1599,875.8 1609.1,875.3 1619.2,874.8 1629.3,873.6 1634.4,872.5 1644.5,868.3 1649.5,864.9 1654.6,860.5 1659.6,855.2 1664.6,849 1669.7,842.1 1674.7,834.8 1678.1,828 1680.5,822.4 1684.7,811.3 1686.7,805.7 1689.9,796.6 1692.5,789 1692.5,789" fill="none" stroke="#fff" stroke-opacity="0.75" stroke-width="0.9"/>
<polyline points="1527.2,789 1528.4,798.3 1530.1,805.7 1533.4,814.5 1537.7,822.4 1541.8,828 1547,833.6 1553.6,838.9 1558.7,841.9 1564.8,844.7 1573.8,847.2 1583.9,848 1594,847.3 1604.1,845.3 1609.1,843.9 1619.2,840.3 1624.3,837.9 1631.2,833.6 1637.2,828 1641.1,822.4 1644.5,816 1648.3,805.7 1649.9,800.1 1652.1,789 1652.1,789" fill="none" stroke="#fff" stroke-opacity="0.75" stroke-width="0.9"/>
<rect x="1567.1" y="798" width="77.4" height="182.9" fill="#000" fill-opacity="0.07" stroke="#fff" stroke-width="1" stroke-dasharray="2 2"/>
<line x1="1373.5" y1="789" x2="1373.5" y2="1175.4" stroke="#111" stroke-width="1.1" stroke-dasharray="1.3 2.6"/>
<line x1="1412.2" y1="789" x2="1412.2" y2="1175.4" stroke="#111" stroke-width="1.1" stroke-dasharray="1.3 2.6"/>
<line x1="1450.9" y1="789" x2="1450.9" y2="1175.4" stroke="#111" stroke-width="1.1" stroke-dasharray="1.3 2.6"/>
<line x1="1489.7" y1="789" x2="1489.7" y2="1175.4" stroke="#111" stroke-width="1.1" stroke-dasharray="1.3 2.6"/>
<line x1="1528.4" y1="789" x2="1528.4" y2="1175.4" stroke="#111" stroke-width="1.1" stroke-dasharray="1.3 2.6"/>
<line x1="1567.1" y1="789" x2="1567.1" y2="1175.4" stroke="#111" stroke-width="1.1" stroke-dasharray="1.3 2.6"/>
<line x1="1605.8" y1="789" x2="1605.8" y2="1175.4" stroke="#111" stroke-width="1.1" stroke-dasharray="1.3 2.6"/>
<line x1="1644.5" y1="789" x2="1644.5" y2="1175.4" stroke="#111" stroke-width="1.1" stroke-dasharray="1.3 2.6"/>
<line x1="1683.3" y1="789" x2="1683.3" y2="1175.4" stroke="#111" stroke-width="1.1" stroke-dasharray="1.3 2.6"/>
<line x1="1722" y1="789" x2="1722" y2="1175.4" stroke="#111" stroke-width="1.1" stroke-dasharray="1.3 2.6"/>
<line x1="1374" y1="1163.8" x2="1725.2" y2="1163.8" stroke="#111" stroke-width="1.1" stroke-dasharray="1.3 2.6"/>
<text x="1364.5" y="1171.8" text-anchor="end">0</text>
<line x1="1370" y1="1163.8" x2="1374" y2="1163.8" stroke="#333" stroke-width="1"/>
<line x1="1374" y1="1072.3" x2="1725.2" y2="1072.3" stroke="#111" stroke-width="1.1" stroke-dasharray="1.3 2.6"/>
<text x="1364.5" y="1080.3" text-anchor="end">2</text>
<line x1="1370" y1="1072.3" x2="1374" y2="1072.3" stroke="#333" stroke-width="1"/>
<line x1="1374" y1="980.9" x2="1725.2" y2="980.9" stroke="#111" stroke-width="1.1" stroke-dasharray="1.3 2.6"/>
<text x="1364.5" y="988.9" text-anchor="end">4</text>
<line x1="1370" y1="980.9" x2="1374" y2="980.9" stroke="#333" stroke-width="1"/>
<line x1="1374" y1="889.5" x2="1725.2" y2="889.5" stroke="#111" stroke-width="1.1" stroke-dasharray="1.3 2.6"/>
<text x="1364.5" y="897.5" text-anchor="end">6</text>
<line x1="1370" y1="889.5" x2="1374" y2="889.5" stroke="#333" stroke-width="1"/>
<line x1="1374" y1="798" x2="1725.2" y2="798" stroke="#111" stroke-width="1.1" stroke-dasharray="1.3 2.6"/>
<text x="1364.5" y="806" text-anchor="end">8</text>
<line x1="1370" y1="798" x2="1374" y2="798" stroke="#333" stroke-width="1"/>
<line x1="1373.5" y1="1174.4" x2="1373.5" y2="1178.4" stroke="#333" stroke-width="1"/>
<text x="1371.5" y="1199.4" text-anchor="middle">0</text>
<line x1="1412.2" y1="1174.4" x2="1412.2" y2="1178.4" stroke="#333" stroke-width="1"/>
<text x="1423.2" y="1190.4" text-anchor="end" transform="rotate(-45 1423.2 1190.4)">0.1</text>
<line x1="1450.9" y1="1174.4" x2="1450.9" y2="1178.4" stroke="#333" stroke-width="1"/>
<text x="1461.9" y="1190.4" text-anchor="end" transform="rotate(-45 1461.9 1190.4)">0.2</text>
<line x1="1489.7" y1="1174.4" x2="1489.7" y2="1178.4" stroke="#333" stroke-width="1"/>
<text x="1500.7" y="1190.4" text-anchor="end" transform="rotate(-45 1500.7 1190.4)">0.4</text>
<line x1="1528.4" y1="1174.4" x2="1528.4" y2="1178.4" stroke="#333" stroke-width="1"/>
<text x="1539.4" y="1190.4" text-anchor="end" transform="rotate(-45 1539.4 1190.4)">0.8</text>
<line x1="1567.1" y1="1174.4" x2="1567.1" y2="1178.4" stroke="#333" stroke-width="1"/>
<text x="1578.1" y="1190.4" text-anchor="end" transform="rotate(-45 1578.1 1190.4)">1.6</text>
<line x1="1605.8" y1="1174.4" x2="1605.8" y2="1178.4" stroke="#333" stroke-width="1"/>
<text x="1616.8" y="1190.4" text-anchor="end" transform="rotate(-45 1616.8 1190.4)">3.2</text>
<line x1="1644.5" y1="1174.4" x2="1644.5" y2="1178.4" stroke="#333" stroke-width="1"/>
<text x="1655.5" y="1190.4" text-anchor="end" transform="rotate(-45 1655.5 1190.4)">6.4</text>
<line x1="1683.3" y1="1174.4" x2="1683.3" y2="1178.4" stroke="#333" stroke-width="1"/>
<text x="1694.3" y="1190.4" text-anchor="end" transform="rotate(-45 1694.3 1190.4)">12.8</text>
<line x1="1722" y1="1174.4" x2="1722" y2="1178.4" stroke="#333" stroke-width="1"/>
<text x="1733" y="1190.4" text-anchor="end" transform="rotate(-45 1733 1190.4)">25.6</text>
<text x="1559" y="1243.5" text-anchor="middle" font-size="24">Doc (μM)</text>
<text x="1326" y="981.2" text-anchor="middle" font-size="24" transform="rotate(-90 1326 981.2)">CSN5i-3 (μM)</text>
<text x="1552.5" y="729" text-anchor="middle" font-size="24">ZIP synergy score:10.911</text>
<rect x="1437.3" y="770.4" width="10.5" height="6.6" fill="#64c346"/>
<rect x="1447.5" y="770.4" width="10.5" height="6.6" fill="#68c44a"/>
<rect x="1457.7" y="770.4" width="10.5" height="6.6" fill="#6fc752"/>
<rect x="1467.9" y="770.4" width="10.5" height="6.6" fill="#79ca5c"/>
<rect x="1478.1" y="770.4" width="10.5" height="6.6" fill="#84ce68"/>
<rect x="1488.3" y="770.4" width="10.5" height="6.6" fill="#8fd275"/>
<rect x="1498.5" y="770.4" width="10.5" height="6.6" fill="#a3d98f"/>
<rect x="1508.8" y="770.4" width="10.5" height="6.6" fill="#bde3b2"/>
<rect x="1519" y="770.4" width="16.6" height="6.6" fill="#fbfbf8"/>
<rect x="1535.5" y="770.4" width="14.1" height="6.6" fill="#f3ced3"/>
<rect x="1549.4" y="770.4" width="14.1" height="6.6" fill="#eca2a9"/>
<rect x="1563.2" y="770.4" width="14.1" height="6.6" fill="#e87f88"/>
<rect x="1577.1" y="770.4" width="14.1" height="6.6" fill="#e76a74"/>
<rect x="1590.9" y="770.4" width="14.1" height="6.6" fill="#e65f69"/>
<rect x="1604.8" y="770.4" width="14.1" height="6.6" fill="#e7555e"/>
<rect x="1618.6" y="770.4" width="14.1" height="6.6" fill="#e94a51"/>
<rect x="1632.5" y="770.4" width="14.1" height="6.6" fill="#eb3e43"/>
<rect x="1646.3" y="770.4" width="14.1" height="6.6" fill="#ed3234"/>
<rect x="1660.2" y="770.4" width="14.1" height="6.6" fill="#ee2626"/>
<text x="1438" y="763.5" text-anchor="middle" font-size="22.5">-30</text>
<text x="1477.2" y="763.5" text-anchor="middle" font-size="22.5">-20</text>
<text x="1514.5" y="763.5" text-anchor="middle" font-size="22.5">-10</text>
<text x="1553.4" y="763.5" text-anchor="middle" font-size="22.5">0</text>
<text x="1590.9" y="763.5" text-anchor="middle" font-size="22.5">10</text>
<text x="1629" y="763.5" text-anchor="middle" font-size="22.5">20</text>
<text x="1665.8" y="763.5" text-anchor="middle" font-size="22.5">30</text>
<text x="3" y="1269.5">D</text>
<text x="410.5" y="1282" text-anchor="middle" textLength="65" lengthAdjust="spacingAndGlyphs">MCF-7</text>
<line x1="14.4" y1="1294" x2="877.8" y2="1294" stroke="#000" stroke-width="1.6"/>
<text x="892.5" y="1269.5">E</text>
<text x="1325.7" y="1282.3" text-anchor="middle" textLength="127" lengthAdjust="spacingAndGlyphs">MDA-MB-231</text>
<line x1="915.5" y1="1293.7" x2="1778.8" y2="1293.7" stroke="#000" stroke-width="1.6"/>
<line x1="87.3" y1="1473.7" x2="410.3" y2="1473.7" stroke="#000" stroke-width="1.7" stroke-dasharray="1.9 2.1"/>
<path d="M87.3 1330V1545.6H410.3" fill="none" stroke="#000" stroke-width="1.8"/>
<line x1="79.3" y1="1545.6" x2="87.3" y2="1545.6" stroke="#000" stroke-width="1.8"/>
<text x="76.3" y="1553.9" text-anchor="end">0</text>
<line x1="79.3" y1="1473.7" x2="87.3" y2="1473.7" stroke="#000" stroke-width="1.8"/>
<text x="76.3" y="1482" text-anchor="end">50</text>
<line x1="79.3" y1="1401.9" x2="87.3" y2="1401.9" stroke="#000" stroke-width="1.8"/>
<text x="76.3" y="1410.2" text-anchor="end">100</text>
<line x1="79.3" y1="1330" x2="87.3" y2="1330" stroke="#000" stroke-width="1.8"/>
<text x="76.3" y="1338.3" text-anchor="end">150</text>
<line x1="87.3" y1="1545.6" x2="87.3" y2="1553.6" stroke="#000" stroke-width="1.8"/>
<text x="87.3" y="1576.1" text-anchor="middle">-6</text>
<line x1="151.9" y1="1545.6" x2="151.9" y2="1553.6" stroke="#000" stroke-width="1.8"/>
<text x="151.9" y="1576.1" text-anchor="middle">-4</text>
<line x1="216.5" y1="1545.6" x2="216.5" y2="1553.6" stroke="#000" stroke-width="1.8"/>
<text x="216.5" y="1576.1" text-anchor="middle">-2</text>
<line x1="281.1" y1="1545.6" x2="281.1" y2="1553.6" stroke="#000" stroke-width="1.8"/>
<text x="281.1" y="1576.1" text-anchor="middle">0</text>
<line x1="345.7" y1="1545.6" x2="345.7" y2="1553.6" stroke="#000" stroke-width="1.8"/>
<text x="345.7" y="1576.1" text-anchor="middle">2</text>
<line x1="410.3" y1="1545.6" x2="410.3" y2="1553.6" stroke="#000" stroke-width="1.8"/>
<text x="410.3" y="1576.1" text-anchor="middle">4</text>
<text x="32" y="1440.8" text-anchor="middle" transform="rotate(-90 32 1440.8)">Relative Cell Viability (%)</text>
<text x="115.8" y="1603">Log<tspan dy="8.5">10</tspan><tspan dy="-8.5">[Paclitaxel] (μM)</tspan></text>
<polyline points="119.6,1422.6 126.2,1423.8 132.9,1425.1 139.5,1426.5 146.1,1428 152.7,1429.6 159.4,1431.3 166,1433.1 172.6,1435 179.2,1437 185.9,1439.2 192.5,1441.4 199.1,1443.8 205.7,1446.2 212.4,1448.8 219,1451.5 225.6,1454.2 232.2,1457 238.9,1459.9 245.5,1462.9 252.1,1465.9 258.7,1469 265.4,1472 272,1475.1 278.6,1478.2 285.2,1481.2 291.9,1484.2 298.5,1487.2 305.1,1490.1 311.7,1493 318.4,1495.8 325,1498.5 331.6,1501.1 338.2,1503.6 344.9,1506 351.5,1508.2 358.1,1510.4 364.7,1512.5 371.4,1514.4 378,1516.3" fill="none" stroke="#cb8a60" stroke-width="1.3"/>
<polyline points="119.6,1439.8 126.2,1441.8 132.9,1443.9 139.5,1446.2 146.1,1448.6 152.7,1451.1 159.4,1453.8 166,1456.7 172.6,1459.6 179.2,1462.7 185.9,1465.9 192.5,1469.2 199.1,1472.5 205.7,1475.9 212.4,1479.3 219,1482.8 225.6,1486.2 232.2,1489.6 238.9,1492.9 245.5,1496.1 252.1,1499.3 258.7,1502.3 265.4,1505.2 272,1508 278.6,1510.7 285.2,1513.1 291.9,1515.5 298.5,1517.7 305.1,1519.7 311.7,1521.6 318.4,1523.4 325,1525 331.6,1526.5 338.2,1527.9 344.9,1529.1 351.5,1530.3 358.1,1531.3 364.7,1532.2 371.4,1533.1 378,1533.9" fill="none" stroke="#6a93ab" stroke-width="1.3"/>
<polyline points="119.6,1459.1 126.2,1460.4 132.9,1461.8 139.5,1463.2 146.1,1464.6 152.7,1466 159.4,1467.5 166,1469 172.6,1470.5 179.2,1472.1 185.9,1473.6 192.5,1475.2 199.1,1476.7 205.7,1478.3 212.4,1479.9 219,1481.5 225.6,1483 232.2,1484.6 238.9,1486.2 245.5,1487.7 252.1,1489.2 258.7,1490.7 265.4,1492.2 272,1493.6 278.6,1495 285.2,1496.4 291.9,1497.7 298.5,1499.1 305.1,1500.3 311.7,1501.6 318.4,1502.8 325,1503.9 331.6,1505 338.2,1506.1 344.9,1507.2 351.5,1508.2 358.1,1509.1 364.7,1510 371.4,1510.9 378,1511.7" fill="none" stroke="#7db54a" stroke-width="1.3"/>
<path d="M119.6 1416.2L124.1 1420.7L119.6 1425.2L115.1 1420.7Z" fill="#cb8a60"/>
<path d="M151.9 1433L156.4 1437.5L151.9 1442L147.4 1437.5Z" fill="#cb8a60"/>
<path d="M184.2 1448.5L188.7 1453L184.2 1457.5L179.7 1453Z" fill="#cb8a60"/>
<path d="M216.5 1452.4L221 1456.9L216.5 1461.4L212 1456.9Z" fill="#cb8a60"/>
<path d="M248.8 1454.4L253.3 1458.9L248.8 1463.4L244.3 1458.9Z" fill="#cb8a60"/>
<path d="M281.1 1459.9L285.6 1464.4L281.1 1468.9L276.6 1464.4Z" fill="#cb8a60"/>
<path d="M313.4 1462.2L317.9 1466.7L313.4 1471.2L308.9 1466.7Z" fill="#cb8a60"/>
<path d="M345.7 1517.5L350.2 1522L345.7 1526.5L341.2 1522Z" fill="#cb8a60"/>
<path d="M378 1536.1L382.5 1540.6L378 1545.1L373.5 1540.6Z" fill="#cb8a60"/>
<circle cx="119.6" cy="1434.5" r="4.2" fill="#6a93ab"/>
<circle cx="151.9" cy="1458.4" r="4.2" fill="#6a93ab"/>
<circle cx="184.2" cy="1463.8" r="4.2" fill="#6a93ab"/>
<circle cx="216.5" cy="1481.6" r="4.2" fill="#6a93ab"/>
<circle cx="248.8" cy="1502.3" r="4.2" fill="#6a93ab"/>
<circle cx="281.1" cy="1511.5" r="4.2" fill="#6a93ab"/>
<circle cx="313.4" cy="1519.9" r="4.2" fill="#6a93ab"/>
<circle cx="345.7" cy="1526.8" r="4.2" fill="#6a93ab"/>
<circle cx="378" cy="1530.1" r="4.2" fill="#6a93ab"/>
<path d="M119.6 1437.6L124.5 1445.2L114.7 1445.2Z" fill="#7db54a"/>
<path d="M151.9 1474.1L156.8 1481.7L147 1481.7Z" fill="#7db54a"/>
<path d="M184.2 1470.2L189.1 1477.8L179.3 1477.8Z" fill="#7db54a"/>
<path d="M216.5 1484.7L221.4 1492.3L211.6 1492.3Z" fill="#7db54a"/>
<path d="M248.8 1486.9L253.7 1494.5L243.9 1494.5Z" fill="#7db54a"/>
<path d="M281.1 1488.9L286 1496.5L276.2 1496.5Z" fill="#7db54a"/>
<path d="M313.4 1488.1L318.3 1495.6L308.5 1495.6Z" fill="#7db54a"/>
<path d="M345.7 1493.5L350.6 1501.1L340.8 1501.1Z" fill="#7db54a"/>
<path d="M378 1516.5L382.9 1524.1L373.1 1524.1Z" fill="#7db54a"/>
<line x1="107.4" y1="1321.2" x2="131.4" y2="1321.2" stroke="#6a93ab" stroke-width="1.2"/>
<circle cx="119.4" cy="1321.2" r="3.8" fill="#6a93ab"/>
<text x="144" y="1329">Vector</text>
<text x="223.9" y="1329" textLength="145.5" lengthAdjust="spacing">IC50 : 0.003 μM</text>
<line x1="107.4" y1="1350.8" x2="131.4" y2="1350.8" stroke="#cb8a60" stroke-width="1.2"/>
<path d="M119.4 1346.8L123.5 1350.8L119.4 1354.8L115.4 1350.8Z" fill="#cb8a60"/>
<text x="144" y="1358.6">CUL4B</text>
<text x="223.9" y="1358.6" textLength="145.5" lengthAdjust="spacing">IC50 : 0.374 μM</text>
<line x1="107.4" y1="1382.1" x2="131.4" y2="1382.1" stroke="#7db54a" stroke-width="1.2"/>
<path d="M119.4 1377.9L123.8 1384.7L115 1384.7Z" fill="#7db54a"/>
<text x="144" y="1389.9">CUL4B+CSN5i-3</text>
<text x="229.4" y="1421" textLength="145.5" lengthAdjust="spacing">IC50 : 0.001 μM</text>
<line x1="535.6" y1="1471" x2="863.9" y2="1471" stroke="#000" stroke-width="1.7" stroke-dasharray="1.9 2.1"/>
<path d="M535.6 1325V1544H863.9" fill="none" stroke="#000" stroke-width="1.8"/>
<line x1="527.6" y1="1544" x2="535.6" y2="1544" stroke="#000" stroke-width="1.8"/>
<text x="524.6" y="1552.3" text-anchor="end">0</text>
<line x1="527.6" y1="1471" x2="535.6" y2="1471" stroke="#000" stroke-width="1.8"/>
<text x="524.6" y="1479.3" text-anchor="end">50</text>
<line x1="527.6" y1="1398" x2="535.6" y2="1398" stroke="#000" stroke-width="1.8"/>
<text x="524.6" y="1406.3" text-anchor="end">100</text>
<line x1="527.6" y1="1325" x2="535.6" y2="1325" stroke="#000" stroke-width="1.8"/>
<text x="524.6" y="1333.3" text-anchor="end">150</text>
<line x1="535.6" y1="1544" x2="535.6" y2="1552" stroke="#000" stroke-width="1.8"/>
<text x="535.6" y="1574.5" text-anchor="middle">-6</text>
<line x1="601.3" y1="1544" x2="601.3" y2="1552" stroke="#000" stroke-width="1.8"/>
<text x="601.3" y="1574.5" text-anchor="middle">-4</text>
<line x1="666.9" y1="1544" x2="666.9" y2="1552" stroke="#000" stroke-width="1.8"/>
<text x="666.9" y="1574.5" text-anchor="middle">-2</text>
<line x1="732.6" y1="1544" x2="732.6" y2="1552" stroke="#000" stroke-width="1.8"/>
<text x="732.6" y="1574.5" text-anchor="middle">0</text>
<line x1="798.2" y1="1544" x2="798.2" y2="1552" stroke="#000" stroke-width="1.8"/>
<text x="798.2" y="1574.5" text-anchor="middle">2</text>
<line x1="863.9" y1="1544" x2="863.9" y2="1552" stroke="#000" stroke-width="1.8"/>
<text x="863.9" y="1574.5" text-anchor="middle">4</text>
<text x="479.5" y="1439.5" text-anchor="middle" transform="rotate(-90 479.5 1439.5)">Relative Cell Viability (%)</text>
<text x="568.8" y="1600">Log<tspan dy="8.5">10</tspan><tspan dy="-8.5">[Docetaxel] (μM)</tspan></text>
<polyline points="568.4,1429.3 575.2,1430.7 581.9,1432.2 588.6,1433.7 595.4,1435.2 602.1,1436.8 608.8,1438.4 615.6,1440.1 622.3,1441.8 629,1443.5 635.8,1445.3 642.5,1447.1 649.2,1448.9 656,1450.8 662.7,1452.7 669.4,1454.7 676.2,1456.6 682.9,1458.6 689.6,1460.7 696.4,1462.7 703.1,1464.8 709.9,1466.9 716.6,1469 723.3,1471.2 730.1,1473.3 736.8,1475.5 743.5,1477.7 750.3,1479.9 757,1482.1 763.7,1484.3 770.5,1486.6 777.2,1488.8 783.9,1491 790.7,1493.2 797.4,1495.5 804.1,1497.7 810.9,1499.9 817.6,1502.1 824.3,1504.3 831.1,1506.4" fill="none" stroke="#cb8a60" stroke-width="1.3"/>
<polyline points="568.4,1427.7 575.2,1429.6 581.9,1431.5 588.6,1433.5 595.4,1435.5 602.1,1437.6 608.8,1439.8 615.6,1442 622.3,1444.3 629,1446.6 635.8,1449 642.5,1451.4 649.2,1453.8 656,1456.3 662.7,1458.9 669.4,1461.4 676.2,1464 682.9,1466.6 689.6,1469.2 696.4,1471.8 703.1,1474.4 709.9,1477 716.6,1479.5 723.3,1482.1 730.1,1484.6 736.8,1487.1 743.5,1489.6 750.3,1492 757,1494.4 763.7,1496.7 770.5,1499 777.2,1501.3 783.9,1503.4 790.7,1505.6 797.4,1507.6 804.1,1509.6 810.9,1511.5 817.6,1513.4 824.3,1515.2 831.1,1516.9" fill="none" stroke="#6a93ab" stroke-width="1.3"/>
<polyline points="568.4,1459.5 575.2,1461.2 581.9,1462.9 588.6,1464.6 595.4,1466.3 602.1,1468 608.8,1469.8 615.6,1471.5 622.3,1473.3 629,1475.1 635.8,1476.9 642.5,1478.7 649.2,1480.5 656,1482.3 662.7,1484 669.4,1485.8 676.2,1487.6 682.9,1489.3 689.6,1491.1 696.4,1492.8 703.1,1494.5 709.9,1496.2 716.6,1497.8 723.3,1499.5 730.1,1501.1 736.8,1502.7 743.5,1504.2 750.3,1505.7 757,1507.2 763.7,1508.6 770.5,1510 777.2,1511.4 783.9,1512.7 790.7,1514 797.4,1515.3 804.1,1516.5 810.9,1517.7 817.6,1518.8 824.3,1519.9 831.1,1521" fill="none" stroke="#7db54a" stroke-width="1.3"/>
<path d="M568.4 1410.9L572.9 1415.4L568.4 1419.9L563.9 1415.4Z" fill="#cb8a60"/>
<path d="M601.3 1440.5L605.8 1445L601.3 1449.5L596.8 1445Z" fill="#cb8a60"/>
<path d="M634.1 1451.6L638.6 1456.1L634.1 1460.6L629.6 1456.1Z" fill="#cb8a60"/>
<path d="M666.9 1457.2L671.4 1461.7L666.9 1466.2L662.4 1461.7Z" fill="#cb8a60"/>
<path d="M699.8 1463.3L704.2 1467.8L699.8 1472.3L695.2 1467.8Z" fill="#cb8a60"/>
<path d="M732.6 1461.4L737.1 1465.9L732.6 1470.4L728.1 1465.9Z" fill="#cb8a60"/>
<path d="M765.4 1466.1L769.9 1470.6L765.4 1475.1L760.9 1470.6Z" fill="#cb8a60"/>
<path d="M798.2 1479.9L802.7 1484.4L798.2 1488.9L793.7 1484.4Z" fill="#cb8a60"/>
<path d="M831.1 1528.4L835.6 1532.9L831.1 1537.4L826.6 1532.9Z" fill="#cb8a60"/>
<circle cx="568.4" cy="1424.9" r="4.2" fill="#6a93ab"/>
<circle cx="601.3" cy="1448.4" r="4.2" fill="#6a93ab"/>
<circle cx="634.1" cy="1461.7" r="4.2" fill="#6a93ab"/>
<circle cx="666.9" cy="1461.7" r="4.2" fill="#6a93ab"/>
<circle cx="699.8" cy="1465" r="4.2" fill="#6a93ab"/>
<circle cx="732.6" cy="1465.9" r="4.2" fill="#6a93ab"/>
<circle cx="765.4" cy="1470.6" r="4.2" fill="#6a93ab"/>
<circle cx="798.2" cy="1532.9" r="4.2" fill="#6a93ab"/>
<circle cx="831.1" cy="1540.6" r="4.2" fill="#6a93ab"/>
<path d="M568.4 1414.7L573.3 1422.3L563.5 1422.3Z" fill="#7db54a"/>
<path d="M601.3 1489.4L606.2 1497L596.4 1497Z" fill="#7db54a"/>
<path d="M634.1 1492.8L639 1500.4L629.2 1500.4Z" fill="#7db54a"/>
<path d="M666.9 1492.8L671.8 1500.4L662 1500.4Z" fill="#7db54a"/>
<path d="M699.8 1492.8L704.6 1500.4L694.9 1500.4Z" fill="#7db54a"/>
<path d="M732.6 1495.5L737.5 1503.1L727.7 1503.1Z" fill="#7db54a"/>
<path d="M765.4 1495.5L770.3 1503.1L760.5 1503.1Z" fill="#7db54a"/>
<path d="M798.2 1498.5L803.1 1506.1L793.3 1506.1Z" fill="#7db54a"/>
<path d="M831.1 1517.2L836 1524.7L826.2 1524.7Z" fill="#7db54a"/>
<line x1="556.3" y1="1316.2" x2="580.3" y2="1316.2" stroke="#6a93ab" stroke-width="1.2"/>
<circle cx="568.3" cy="1316.2" r="3.8" fill="#6a93ab"/>
<text x="593.8" y="1324">Vector</text>
<text x="678.3" y="1324" textLength="145.5" lengthAdjust="spacing">IC50 : 0.066 μM</text>
<line x1="556.3" y1="1345.3" x2="580.3" y2="1345.3" stroke="#cb8a60" stroke-width="1.2"/>
<path d="M568.3 1341.2L572.3 1345.3L568.3 1349.3L564.2 1345.3Z" fill="#cb8a60"/>
<text x="593.8" y="1353.1">CUL4B</text>
<text x="678.3" y="1353.1" textLength="145.5" lengthAdjust="spacing">IC50 : 0.286 μM</text>
<line x1="556.3" y1="1376.3" x2="580.3" y2="1376.3" stroke="#7db54a" stroke-width="1.2"/>
<path d="M568.3 1372.1L572.7 1378.9L563.9 1378.9Z" fill="#7db54a"/>
<text x="593.8" y="1384.1">CUL4B+CSN5i-3</text>
<text x="678.8" y="1414.1" textLength="145.5" lengthAdjust="spacing">IC50 : 0.001 μM</text>
<line x1="988.9" y1="1472.9" x2="1311.4" y2="1472.9" stroke="#000" stroke-width="1.7" stroke-dasharray="1.9 2.1"/>
<path d="M988.9 1329.2V1544.8H1311.4" fill="none" stroke="#000" stroke-width="1.8"/>
<line x1="980.9" y1="1544.8" x2="988.9" y2="1544.8" stroke="#000" stroke-width="1.8"/>
<text x="977.9" y="1553.1" text-anchor="end">0</text>
<line x1="980.9" y1="1472.9" x2="988.9" y2="1472.9" stroke="#000" stroke-width="1.8"/>
<text x="977.9" y="1481.2" text-anchor="end">50</text>
<line x1="980.9" y1="1401.1" x2="988.9" y2="1401.1" stroke="#000" stroke-width="1.8"/>
<text x="977.9" y="1409.4" text-anchor="end">100</text>
<line x1="980.9" y1="1329.2" x2="988.9" y2="1329.2" stroke="#000" stroke-width="1.8"/>
<text x="977.9" y="1337.5" text-anchor="end">150</text>
<line x1="988.9" y1="1544.8" x2="988.9" y2="1552.8" stroke="#000" stroke-width="1.8"/>
<text x="988.9" y="1575.3" text-anchor="middle">-6</text>
<line x1="1053.4" y1="1544.8" x2="1053.4" y2="1552.8" stroke="#000" stroke-width="1.8"/>
<text x="1053.4" y="1575.3" text-anchor="middle">-4</text>
<line x1="1117.9" y1="1544.8" x2="1117.9" y2="1552.8" stroke="#000" stroke-width="1.8"/>
<text x="1117.9" y="1575.3" text-anchor="middle">-2</text>
<line x1="1182.4" y1="1544.8" x2="1182.4" y2="1552.8" stroke="#000" stroke-width="1.8"/>
<text x="1182.4" y="1575.3" text-anchor="middle">0</text>
<line x1="1246.9" y1="1544.8" x2="1246.9" y2="1552.8" stroke="#000" stroke-width="1.8"/>
<text x="1246.9" y="1575.3" text-anchor="middle">2</text>
<line x1="1311.4" y1="1544.8" x2="1311.4" y2="1552.8" stroke="#000" stroke-width="1.8"/>
<text x="1311.4" y="1575.3" text-anchor="middle">4</text>
<text x="934" y="1440" text-anchor="middle" transform="rotate(-90 934 1440)">Relative Cell Viability (%)</text>
<text x="1018.5" y="1603">Log<tspan dy="8.5">10</tspan><tspan dy="-8.5">[Paclitaxel] (μM)</tspan></text>
<polyline points="1021.1,1409.7 1026.9,1410.3 1032.7,1410.9 1038.5,1411.6 1044.3,1412.3 1050.1,1413.2 1055.9,1414.1 1061.7,1415.1 1067.5,1416.3 1073.2,1417.5 1079,1418.8 1084.8,1420.3 1090.6,1421.9 1096.4,1423.6 1102.2,1425.5 1108,1427.5 1113.8,1429.7 1119.6,1431.9 1125.3,1434.4 1131.1,1436.9 1136.9,1439.6 1142.7,1442.4 1148.5,1445.2 1154.3,1448.2 1160.1,1451.2 1165.9,1454.2 1171.7,1457.3 1177.4,1460.4 1183.2,1463.5 1189,1466.5 1194.8,1469.4 1200.6,1472.3 1206.4,1475.1 1212.2,1477.7 1218,1480.3 1223.7,1482.7 1229.5,1485 1235.3,1487.1 1241.1,1489.2 1246.9,1491" fill="none" stroke="#cb8a60" stroke-width="1.3"/>
<polyline points="1021.1,1407 1026.9,1407.6 1032.7,1408.3 1038.5,1409.1 1044.3,1410 1050.1,1411 1055.9,1412.1 1061.7,1413.3 1067.5,1414.7 1073.2,1416.2 1079,1417.9 1084.8,1419.7 1090.6,1421.8 1096.4,1424 1102.2,1426.4 1108,1429 1113.8,1431.9 1119.6,1434.9 1125.3,1438.1 1131.1,1441.5 1136.9,1445.1 1142.7,1448.8 1148.5,1452.7 1154.3,1456.6 1160.1,1460.7 1165.9,1464.7 1171.7,1468.8 1177.4,1472.8 1183.2,1476.8 1189,1480.6 1194.8,1484.4 1200.6,1488 1206.4,1491.4 1212.2,1494.6 1218,1497.7 1223.7,1500.6 1229.5,1503.2 1235.3,1505.7 1241.1,1507.9 1246.9,1510" fill="none" stroke="#6a93ab" stroke-width="1.3"/>
<polyline points="1021.1,1433.5 1026.9,1434.8 1032.7,1436.1 1038.5,1437.5 1044.3,1438.9 1050.1,1440.4 1055.9,1441.8 1061.7,1443.4 1067.5,1444.9 1073.2,1446.5 1079,1448.1 1084.8,1449.7 1090.6,1451.4 1096.4,1453.1 1102.2,1454.8 1108,1456.5 1113.8,1458.2 1119.6,1460 1125.3,1461.8 1131.1,1463.5 1136.9,1465.3 1142.7,1467.1 1148.5,1468.9 1154.3,1470.7 1160.1,1472.4 1165.9,1474.2 1171.7,1476 1177.4,1477.7 1183.2,1479.5 1189,1481.2 1194.8,1482.9 1200.6,1484.6 1206.4,1486.2 1212.2,1487.9 1218,1489.5 1223.7,1491.1 1229.5,1492.6 1235.3,1494.1 1241.1,1495.6 1246.9,1497.1" fill="none" stroke="#7db54a" stroke-width="1.3"/>
<path d="M1021.1 1401.2L1025.7 1405.7L1021.1 1410.2L1016.6 1405.7Z" fill="#cb8a60"/>
<path d="M1053.4 1400.9L1057.9 1405.4L1053.4 1409.9L1048.9 1405.4Z" fill="#cb8a60"/>
<path d="M1085.7 1403.5L1090.2 1408L1085.7 1412.5L1081.2 1408Z" fill="#cb8a60"/>
<path d="M1117.9 1429.5L1122.4 1434L1117.9 1438.5L1113.4 1434Z" fill="#cb8a60"/>
<path d="M1150.2 1458.5L1154.7 1463L1150.2 1467.5L1145.7 1463Z" fill="#cb8a60"/>
<path d="M1182.4 1459.4L1186.9 1463.9L1182.4 1468.4L1177.9 1463.9Z" fill="#cb8a60"/>
<path d="M1214.7 1462.7L1219.2 1467.2L1214.7 1471.7L1210.2 1467.2Z" fill="#cb8a60"/>
<path d="M1246.9 1483L1251.4 1487.5L1246.9 1492L1242.4 1487.5Z" fill="#cb8a60"/>
<circle cx="1021.1" cy="1403.5" r="4.2" fill="#6a93ab"/>
<circle cx="1053.4" cy="1404.8" r="4.2" fill="#6a93ab"/>
<circle cx="1085.7" cy="1405.4" r="4.2" fill="#6a93ab"/>
<circle cx="1117.9" cy="1434" r="4.2" fill="#6a93ab"/>
<circle cx="1150.2" cy="1470.6" r="4.2" fill="#6a93ab"/>
<circle cx="1182.4" cy="1479" r="4.2" fill="#6a93ab"/>
<circle cx="1214.7" cy="1482.4" r="4.2" fill="#6a93ab"/>
<circle cx="1246.9" cy="1506.9" r="4.2" fill="#6a93ab"/>
<path d="M1021.1 1407.2L1026 1414.8L1016.2 1414.8Z" fill="#7db54a"/>
<path d="M1053.4 1442.6L1058.3 1450.1L1048.5 1450.1Z" fill="#7db54a"/>
<path d="M1085.7 1448.2L1090.6 1455.8L1080.8 1455.8Z" fill="#7db54a"/>
<path d="M1117.9 1470.9L1122.8 1478.5L1113 1478.5Z" fill="#7db54a"/>
<path d="M1150.2 1472.3L1155.1 1479.9L1145.2 1479.9Z" fill="#7db54a"/>
<path d="M1182.4 1468.9L1187.3 1476.4L1177.5 1476.4Z" fill="#7db54a"/>
<path d="M1214.7 1468.9L1219.6 1476.4L1209.8 1476.4Z" fill="#7db54a"/>
<path d="M1246.9 1497.2L1251.8 1504.8L1242 1504.8Z" fill="#7db54a"/>
<line x1="1008.8" y1="1320.4" x2="1032.8" y2="1320.4" stroke="#6a93ab" stroke-width="1.2"/>
<circle cx="1020.8" cy="1320.4" r="3.8" fill="#6a93ab"/>
<text x="1046.2" y="1328.2">Vector</text>
<text x="1130.8" y="1328.2" textLength="145.5" lengthAdjust="spacing">IC50 : 1.067 μM</text>
<line x1="1008.8" y1="1350" x2="1032.8" y2="1350" stroke="#cb8a60" stroke-width="1.2"/>
<path d="M1020.8 1346L1024.8 1350L1020.8 1354L1016.8 1350Z" fill="#cb8a60"/>
<text x="1046.2" y="1357.8">CUL4B</text>
<text x="1130.8" y="1357.8" textLength="145.5" lengthAdjust="spacing">IC50 : 6.982 μM</text>
<line x1="1008.8" y1="1381.3" x2="1032.8" y2="1381.3" stroke="#7db54a" stroke-width="1.2"/>
<path d="M1020.8 1377.1L1025.2 1383.9L1016.4 1383.9Z" fill="#7db54a"/>
<text x="1046.2" y="1389.1">CUL4B+CSN5i-3</text>
<text x="1134.4" y="1419" textLength="145.5" lengthAdjust="spacing">IC50 : 0.290 μM</text>
<line x1="1428.5" y1="1470.9" x2="1756.3" y2="1470.9" stroke="#000" stroke-width="1.7" stroke-dasharray="1.9 2.1"/>
<path d="M1428.5 1325V1543.9H1756.3" fill="none" stroke="#000" stroke-width="1.8"/>
<line x1="1420.5" y1="1543.9" x2="1428.5" y2="1543.9" stroke="#000" stroke-width="1.8"/>
<text x="1417.5" y="1552.2" text-anchor="end">0</text>
<line x1="1420.5" y1="1470.9" x2="1428.5" y2="1470.9" stroke="#000" stroke-width="1.8"/>
<text x="1417.5" y="1479.2" text-anchor="end">50</text>
<line x1="1420.5" y1="1398" x2="1428.5" y2="1398" stroke="#000" stroke-width="1.8"/>
<text x="1417.5" y="1406.3" text-anchor="end">100</text>
<line x1="1420.5" y1="1325" x2="1428.5" y2="1325" stroke="#000" stroke-width="1.8"/>
<text x="1417.5" y="1333.3" text-anchor="end">150</text>
<line x1="1428.5" y1="1543.9" x2="1428.5" y2="1551.9" stroke="#000" stroke-width="1.8"/>
<text x="1428.5" y="1574.4" text-anchor="middle">-6</text>
<line x1="1494.1" y1="1543.9" x2="1494.1" y2="1551.9" stroke="#000" stroke-width="1.8"/>
<text x="1494.1" y="1574.4" text-anchor="middle">-4</text>
<line x1="1559.6" y1="1543.9" x2="1559.6" y2="1551.9" stroke="#000" stroke-width="1.8"/>
<text x="1559.6" y="1574.4" text-anchor="middle">-2</text>
<line x1="1625.2" y1="1543.9" x2="1625.2" y2="1551.9" stroke="#000" stroke-width="1.8"/>
<text x="1625.2" y="1574.4" text-anchor="middle">0</text>
<line x1="1690.7" y1="1543.9" x2="1690.7" y2="1551.9" stroke="#000" stroke-width="1.8"/>
<text x="1690.7" y="1574.4" text-anchor="middle">2</text>
<line x1="1756.3" y1="1543.9" x2="1756.3" y2="1551.9" stroke="#000" stroke-width="1.8"/>
<text x="1756.3" y="1574.4" text-anchor="middle">4</text>
<text x="1371.5" y="1439.8" text-anchor="middle" transform="rotate(-90 1371.5 1439.8)">Relative Cell Viability (%)</text>
<text x="1458" y="1599">Log<tspan dy="8.5">10</tspan><tspan dy="-8.5">[Docetaxel] (μM)</tspan></text>
<polyline points="1461.3,1423.9 1468,1424.8 1474.7,1425.8 1481.5,1426.8 1488.2,1427.9 1494.9,1429 1501.6,1430.1 1508.3,1431.3 1515.1,1432.6 1521.8,1433.9 1528.5,1435.3 1535.2,1436.7 1542,1438.2 1548.7,1439.7 1555.4,1441.3 1562.1,1442.9 1568.9,1444.6 1575.6,1446.3 1582.3,1448.1 1589,1449.9 1595.8,1451.8 1602.5,1453.7 1609.2,1455.6 1615.9,1457.6 1622.7,1459.7 1629.4,1461.7 1636.1,1463.8 1642.8,1465.9 1649.6,1468 1656.3,1470.2 1663,1472.3 1669.7,1474.5 1676.5,1476.7 1683.2,1478.8 1689.9,1481 1696.6,1483.1 1703.3,1485.3 1710.1,1487.4 1716.8,1489.5 1723.5,1491.6" fill="none" stroke="#cb8a60" stroke-width="1.3"/>
<polyline points="1461.3,1408.6 1468,1409.8 1474.7,1411.1 1481.5,1412.5 1488.2,1414 1494.9,1415.7 1501.6,1417.5 1508.3,1419.4 1515.1,1421.5 1521.8,1423.7 1528.5,1426.1 1535.2,1428.6 1542,1431.4 1548.7,1434.2 1555.4,1437.2 1562.1,1440.4 1568.9,1443.7 1575.6,1447.2 1582.3,1450.8 1589,1454.4 1595.8,1458.2 1602.5,1462 1609.2,1465.9 1615.9,1469.8 1622.7,1473.8 1629.4,1477.7 1636.1,1481.5 1642.8,1485.4 1649.6,1489.1 1656.3,1492.7 1663,1496.3 1669.7,1499.7 1676.5,1502.9 1683.2,1506.1 1689.9,1509 1696.6,1511.9 1703.3,1514.5 1710.1,1517 1716.8,1519.3 1723.5,1521.5" fill="none" stroke="#6a93ab" stroke-width="1.3"/>
<polyline points="1461.3,1431.9 1468,1433.5 1474.7,1435.3 1481.5,1437.1 1488.2,1439 1494.9,1440.9 1501.6,1443 1508.3,1445.1 1515.1,1447.2 1521.8,1449.5 1528.5,1451.7 1535.2,1454.1 1542,1456.5 1548.7,1458.9 1555.4,1461.4 1562.1,1463.9 1568.9,1466.4 1575.6,1469 1582.3,1471.5 1589,1474.1 1595.8,1476.6 1602.5,1479.2 1609.2,1481.7 1615.9,1484.2 1622.7,1486.7 1629.4,1489.1 1636.1,1491.5 1642.8,1493.8 1649.6,1496.1 1656.3,1498.3 1663,1500.5 1669.7,1502.6 1676.5,1504.6 1683.2,1506.6 1689.9,1508.4 1696.6,1510.2 1703.3,1512 1710.1,1513.6 1716.8,1515.2 1723.5,1516.7" fill="none" stroke="#7db54a" stroke-width="1.3"/>
<path d="M1461.3 1418.7L1465.8 1423.2L1461.3 1427.7L1456.8 1423.2Z" fill="#cb8a60"/>
<path d="M1494.1 1440.9L1498.6 1445.4L1494.1 1449.9L1489.6 1445.4Z" fill="#cb8a60"/>
<path d="M1526.8 1440.9L1531.3 1445.4L1526.8 1449.9L1522.3 1445.4Z" fill="#cb8a60"/>
<path d="M1559.6 1445.4L1564.1 1449.9L1559.6 1454.4L1555.1 1449.9Z" fill="#cb8a60"/>
<path d="M1592.4 1439L1596.9 1443.5L1592.4 1448L1587.9 1443.5Z" fill="#cb8a60"/>
<path d="M1625.2 1443.7L1629.7 1448.2L1625.2 1452.7L1620.7 1448.2Z" fill="#cb8a60"/>
<path d="M1658 1445.4L1662.5 1449.9L1658 1454.4L1653.5 1449.9Z" fill="#cb8a60"/>
<path d="M1690.7 1455.1L1695.2 1459.6L1690.7 1464.1L1686.2 1459.6Z" fill="#cb8a60"/>
<path d="M1723.5 1534.6L1728 1539.1L1723.5 1543.6L1719 1539.1Z" fill="#cb8a60"/>
<circle cx="1461.3" cy="1405.6" r="4.2" fill="#6a93ab"/>
<circle cx="1494.1" cy="1407.6" r="4.2" fill="#6a93ab"/>
<circle cx="1526.8" cy="1427.3" r="4.2" fill="#6a93ab"/>
<circle cx="1559.6" cy="1446" r="4.2" fill="#6a93ab"/>
<circle cx="1592.4" cy="1468.2" r="4.2" fill="#6a93ab"/>
<circle cx="1625.2" cy="1477.9" r="4.2" fill="#6a93ab"/>
<circle cx="1658" cy="1478.5" r="4.2" fill="#6a93ab"/>
<circle cx="1690.7" cy="1500" r="4.2" fill="#6a93ab"/>
<circle cx="1723.5" cy="1542.4" r="4.2" fill="#6a93ab"/>
<path d="M1461.3 1405.1L1466.2 1412.7L1456.4 1412.7Z" fill="#7db54a"/>
<path d="M1494.1 1444.4L1499 1452L1489.2 1452Z" fill="#7db54a"/>
<path d="M1526.8 1452.9L1531.7 1460.4L1521.9 1460.4Z" fill="#7db54a"/>
<path d="M1559.6 1463.2L1564.5 1470.8L1554.7 1470.8Z" fill="#7db54a"/>
<path d="M1592.4 1479.6L1597.3 1487.2L1587.5 1487.2Z" fill="#7db54a"/>
<path d="M1625.2 1490.8L1630.1 1498.4L1620.3 1498.4Z" fill="#7db54a"/>
<path d="M1658 1477.4L1662.9 1485L1653.1 1485Z" fill="#7db54a"/>
<path d="M1690.7 1499.3L1695.6 1506.9L1685.8 1506.9Z" fill="#7db54a"/>
<path d="M1723.5 1514.7L1728.4 1522.3L1718.6 1522.3Z" fill="#7db54a"/>
<line x1="1448.9" y1="1316" x2="1472.9" y2="1316" stroke="#6a93ab" stroke-width="1.2"/>
<circle cx="1460.9" cy="1316" r="3.8" fill="#6a93ab"/>
<text x="1486.7" y="1323.8">Vector</text>
<text x="1567.8" y="1323.8" textLength="145.5" lengthAdjust="spacing">IC50 : 0.527 μM</text>
<line x1="1448.9" y1="1346.1" x2="1472.9" y2="1346.1" stroke="#cb8a60" stroke-width="1.2"/>
<path d="M1460.9 1342L1465 1346.1L1460.9 1350.1L1456.9 1346.1Z" fill="#cb8a60"/>
<text x="1486.7" y="1353.9">CUL4B</text>
<text x="1567.8" y="1353.9" textLength="145.5" lengthAdjust="spacing">IC50 : 7.606 μM</text>
<line x1="1448.9" y1="1377.3" x2="1472.9" y2="1377.3" stroke="#7db54a" stroke-width="1.2"/>
<path d="M1460.9 1373.1L1465.3 1379.9L1456.5 1379.9Z" fill="#7db54a"/>
<text x="1486.7" y="1385.1">CUL4B+CSN5i-3</text>
<text x="1572.6" y="1415.8" textLength="145.5" lengthAdjust="spacing">IC50 : 0.042 μM</text>
<text x="5.2" y="1672">F</text>
<line x1="40.2" y1="1673" x2="40.2" y2="2052.3" stroke="#000" stroke-width="1.6"/>
<text x="21.3" y="1865.5" text-anchor="middle" textLength="63.9" lengthAdjust="spacingAndGlyphs" transform="rotate(-90 21.3 1865.5)">MCF-7</text>
<text x="71.6" y="1757.5" text-anchor="middle" textLength="61" lengthAdjust="spacingAndGlyphs" transform="rotate(-90 71.6 1757.5)">Vector</text>
<text x="73.5" y="1861.7" text-anchor="middle" textLength="69.7" lengthAdjust="spacingAndGlyphs" transform="rotate(-90 73.5 1861.7)">CUL4B</text>
<text x="73.5" y="1985" text-anchor="middle" textLength="150" lengthAdjust="spacingAndGlyphs" transform="rotate(-90 73.5 1985)">CUL4B+CSN5i-3</text>
<text x="155.7" y="1693.8" text-anchor="middle" textLength="66.6" lengthAdjust="spacingAndGlyphs">DMSO</text>
<text x="391.3" y="1656.7" text-anchor="middle" textLength="151.5" lengthAdjust="spacingAndGlyphs">Paclitaxel (μM)</text>
<line x1="227.6" y1="1666.9" x2="545.9" y2="1666.9" stroke="#000" stroke-width="1.6"/>
<text x="267.2" y="1694" text-anchor="middle" textLength="25.6" lengthAdjust="spacingAndGlyphs">0.1</text>
<text x="384.6" y="1694" text-anchor="middle" textLength="28.3" lengthAdjust="spacingAndGlyphs">0.2</text>
<text x="502.2" y="1694" text-anchor="middle" textLength="28.3" lengthAdjust="spacingAndGlyphs">0.3</text>
<text x="634.6" y="1695.6" text-anchor="middle" textLength="65.6" lengthAdjust="spacingAndGlyphs">DMSO</text>
<text x="862" y="1657" text-anchor="middle" textLength="156" lengthAdjust="spacingAndGlyphs">Docetaxel (μM)</text>
<line x1="697" y1="1668.4" x2="1035.7" y2="1668.4" stroke="#000" stroke-width="1.6"/>
<text x="755.9" y="1695.6" text-anchor="middle" textLength="25.6" lengthAdjust="spacingAndGlyphs">0.1</text>
<text x="875.5" y="1695.6" text-anchor="middle" textLength="28.3" lengthAdjust="spacingAndGlyphs">0.2</text>
<text x="993.7" y="1695.6" text-anchor="middle" textLength="28.3" lengthAdjust="spacingAndGlyphs">0.3</text>
<circle cx="149.6" cy="1754.7" r="53.6" fill="#cfd1cd"/>
<circle cx="149.6" cy="1754.7" r="53.1" fill="url(#p1)"/>
<circle cx="149.6" cy="1754.7" r="53.6" fill="none" stroke="#111" stroke-width="1.5"/>
<circle cx="267.9" cy="1754.7" r="53.6" fill="#cfd1cd"/>
<circle cx="267.9" cy="1754.7" r="53.1" fill="url(#p2)"/>
<circle cx="267.9" cy="1754.7" r="53.6" fill="none" stroke="#111" stroke-width="1.5"/>
<circle cx="383.3" cy="1754.7" r="53.6" fill="#cfd1cd"/>
<circle cx="383.3" cy="1754.7" r="53.1" fill="url(#p3)"/>
<circle cx="383.3" cy="1754.7" r="53.6" fill="none" stroke="#111" stroke-width="1.5"/>
<circle cx="501" cy="1754.7" r="53.6" fill="#cfd1cd"/>
<circle cx="501" cy="1754.7" r="53.1" fill="url(#p4)"/>
<circle cx="501" cy="1754.7" r="53.6" fill="none" stroke="#111" stroke-width="1.5"/>
<circle cx="634.6" cy="1754.7" r="53.6" fill="#cfd1cd"/>
<circle cx="634.6" cy="1754.7" r="53.1" fill="url(#p5)"/>
<circle cx="634.6" cy="1754.7" r="53.6" fill="none" stroke="#111" stroke-width="1.5"/>
<circle cx="757" cy="1754.7" r="53.6" fill="#cfd1cd"/>
<circle cx="757" cy="1754.7" r="53.1" fill="url(#p6)"/>
<circle cx="757" cy="1754.7" r="53.6" fill="none" stroke="#111" stroke-width="1.5"/>
<circle cx="875" cy="1754.7" r="53.6" fill="#cfd1cd"/>
<circle cx="875" cy="1754.7" r="53.1" fill="url(#p7)"/>
<circle cx="875" cy="1754.7" r="53.6" fill="none" stroke="#111" stroke-width="1.5"/>
<circle cx="990.2" cy="1754.7" r="53.6" fill="#cfd1cd"/>
<circle cx="990.2" cy="1754.7" r="53.1" fill="url(#p8)"/>
<circle cx="990.2" cy="1754.7" r="53.6" fill="none" stroke="#111" stroke-width="1.5"/>
<circle cx="149.2" cy="1867" r="53.6" fill="#cfd1cd"/>
<circle cx="149.2" cy="1867" r="53.1" fill="url(#p9)"/>
<circle cx="149.2" cy="1867" r="53.6" fill="none" stroke="#111" stroke-width="1.5"/>
<circle cx="266.5" cy="1867" r="53.6" fill="#cfd1cd"/>
<circle cx="266.5" cy="1867" r="53.1" fill="url(#p10)"/>
<circle cx="266.5" cy="1867" r="53.6" fill="none" stroke="#111" stroke-width="1.5"/>
<circle cx="383.3" cy="1867" r="53.6" fill="#cfd1cd"/>
<circle cx="383.3" cy="1867" r="53.1" fill="url(#p11)"/>
<circle cx="383.3" cy="1867" r="53.6" fill="none" stroke="#111" stroke-width="1.5"/>
<circle cx="497.8" cy="1867" r="53.6" fill="#cfd1cd"/>
<circle cx="497.8" cy="1867" r="53.1" fill="url(#p12)"/>
<circle cx="497.8" cy="1867" r="53.6" fill="none" stroke="#111" stroke-width="1.5"/>
<circle cx="634.6" cy="1867" r="53.6" fill="#cfd1cd"/>
<circle cx="634.6" cy="1867" r="53.1" fill="url(#p13)"/>
<circle cx="634.6" cy="1867" r="53.6" fill="none" stroke="#111" stroke-width="1.5"/>
<circle cx="757" cy="1867" r="53.6" fill="#cfd1cd"/>
<circle cx="757" cy="1867" r="53.1" fill="url(#p14)"/>
<circle cx="757" cy="1867" r="53.6" fill="none" stroke="#111" stroke-width="1.5"/>
<circle cx="875" cy="1867" r="53.6" fill="#cfd1cd"/>
<circle cx="875" cy="1867" r="53.1" fill="url(#p15)"/>
<circle cx="875" cy="1867" r="53.6" fill="none" stroke="#111" stroke-width="1.5"/>
<circle cx="992.7" cy="1867" r="53.6" fill="#cfd1cd"/>
<circle cx="992.7" cy="1867" r="53.1" fill="url(#p16)"/>
<circle cx="992.7" cy="1867" r="53.6" fill="none" stroke="#111" stroke-width="1.5"/>
<circle cx="150" cy="1980.3" r="53.6" fill="#cfd1cd"/>
<circle cx="150" cy="1980.3" r="53.1" fill="url(#p17)"/>
<circle cx="150" cy="1980.3" r="53.6" fill="none" stroke="#111" stroke-width="1.5"/>
<circle cx="267.9" cy="1980.3" r="53.6" fill="#cfd1cd"/>
<circle cx="267.9" cy="1980.3" r="53.1" fill="url(#p18)"/>
<circle cx="267.9" cy="1980.3" r="53.6" fill="none" stroke="#111" stroke-width="1.5"/>
<circle cx="384.3" cy="1980.3" r="53.6" fill="#cfd1cd"/>
<circle cx="384.3" cy="1980.3" r="53.1" fill="url(#p19)"/>
<circle cx="384.3" cy="1980.3" r="53.6" fill="none" stroke="#111" stroke-width="1.5"/>
<circle cx="499.9" cy="1980.3" r="53.6" fill="#cfd1cd"/>
<circle cx="499.9" cy="1980.3" r="53.1" fill="url(#p20)"/>
<circle cx="499.9" cy="1980.3" r="53.6" fill="none" stroke="#111" stroke-width="1.5"/>
<circle cx="636" cy="1980.3" r="53.6" fill="#cfd1cd"/>
<circle cx="636" cy="1980.3" r="53.1" fill="url(#p21)"/>
<circle cx="636" cy="1980.3" r="53.6" fill="none" stroke="#111" stroke-width="1.5"/>
<circle cx="758.9" cy="1980.3" r="53.6" fill="#cfd1cd"/>
<circle cx="758.9" cy="1980.3" r="53.1" fill="url(#p22)"/>
<circle cx="758.9" cy="1980.3" r="53.6" fill="none" stroke="#111" stroke-width="1.5"/>
<circle cx="875" cy="1980.3" r="53.6" fill="#cfd1cd"/>
<circle cx="875" cy="1980.3" r="53.1" fill="url(#p23)"/>
<circle cx="875" cy="1980.3" r="53.6" fill="none" stroke="#111" stroke-width="1.5"/>
<circle cx="993" cy="1980.3" r="53.6" fill="#cfd1cd"/>
<circle cx="993" cy="1980.3" r="53.1" fill="url(#p24)"/>
<circle cx="993" cy="1980.3" r="53.6" fill="none" stroke="#111" stroke-width="1.5"/>
<rect x="1146.4" y="1869.1" width="16.7" height="81.9" fill="#6b93a8" stroke="#5d86a0" stroke-width="0.8"/>
<path d="M1154.7 1867.5V1870.7M1150.1 1867.5H1159.3M1150.1 1870.7H1159.3" stroke="#111" stroke-width="1.4" fill="none"/>
<rect x="1163.9" y="1734.8" width="16.7" height="216.2" fill="#c98b65" stroke="#bf7f58" stroke-width="0.8"/>
<path d="M1172.2 1724.3V1745.3M1167.6 1724.3H1176.8M1167.6 1745.3H1176.8" stroke="#111" stroke-width="1.4" fill="none"/>
<rect x="1181.4" y="1885" width="16.7" height="66" fill="#8bb05d" stroke="#7fa553" stroke-width="0.8"/>
<path d="M1189.7 1884.6V1885.4M1185.1 1884.6H1194.3M1185.1 1885.4H1194.3" stroke="#111" stroke-width="1.4" fill="none"/>
<rect x="1216.6" y="1922.3" width="16.7" height="28.7" fill="#6b93a8" stroke="#5d86a0" stroke-width="0.8"/>
<path d="M1224.9 1919.1V1925.6M1220.3 1919.1H1229.5M1220.3 1925.6H1229.5" stroke="#111" stroke-width="1.4" fill="none"/>
<rect x="1234.1" y="1898.3" width="16.7" height="52.7" fill="#c98b65" stroke="#bf7f58" stroke-width="0.8"/>
<path d="M1242.4 1895.9V1900.8M1237.8 1895.9H1247M1237.8 1900.8H1247" stroke="#111" stroke-width="1.4" fill="none"/>
<rect x="1251.6" y="1918.5" width="16.7" height="32.5" fill="#8bb05d" stroke="#7fa553" stroke-width="0.8"/>
<path d="M1259.9 1916.8V1920.1M1255.3 1916.8H1264.5M1255.3 1920.1H1264.5" stroke="#111" stroke-width="1.4" fill="none"/>
<rect x="1286.8" y="1933.8" width="16.7" height="17.2" fill="#6b93a8" stroke="#5d86a0" stroke-width="0.8"/>
<path d="M1295.1 1932.2V1935.4M1290.5 1932.2H1299.7M1290.5 1935.4H1299.7" stroke="#111" stroke-width="1.4" fill="none"/>
<rect x="1304.2" y="1904.4" width="16.7" height="46.6" fill="#c98b65" stroke="#bf7f58" stroke-width="0.8"/>
<path d="M1312.6 1902.8V1906M1308 1902.8H1317.2M1308 1906H1317.2" stroke="#111" stroke-width="1.4" fill="none"/>
<rect x="1321.8" y="1933.7" width="16.7" height="17.3" fill="#8bb05d" stroke="#7fa553" stroke-width="0.8"/>
<path d="M1330.1 1933.3V1934.1M1325.5 1933.3H1334.7M1325.5 1934.1H1334.7" stroke="#111" stroke-width="1.4" fill="none"/>
<rect x="1357" y="1942" width="16.7" height="9" fill="#6b93a8" stroke="#5d86a0" stroke-width="0.8"/>
<path d="M1365.3 1941.2V1942.8M1360.7 1941.2H1369.9M1360.7 1942.8H1369.9" stroke="#111" stroke-width="1.4" fill="none"/>
<rect x="1374.5" y="1918.2" width="16.7" height="32.8" fill="#c98b65" stroke="#bf7f58" stroke-width="0.8"/>
<path d="M1382.8 1915.8V1920.7M1378.2 1915.8H1387.4M1378.2 1920.7H1387.4" stroke="#111" stroke-width="1.4" fill="none"/>
<rect x="1392" y="1944.7" width="16.7" height="6.3" fill="#8bb05d" stroke="#7fa553" stroke-width="0.8"/>
<path d="M1400.3 1943.1V1946.3M1395.7 1943.1H1404.9M1395.7 1946.3H1404.9" stroke="#111" stroke-width="1.4" fill="none"/>
<text x="1172.2" y="1728.7" text-anchor="middle" font-size="29">***</text>
<text x="1242.4" y="1900" text-anchor="middle" font-size="29">*</text>
<text x="1312.6" y="1908" text-anchor="middle" font-size="29">*</text>
<text x="1382.8" y="1922" text-anchor="middle" font-size="29">*</text>
<path d="M1137.9 1705.3V1951H1417.9" fill="none" stroke="#111" stroke-width="1.8"/>
<line x1="1127.7" y1="1951" x2="1137.9" y2="1951" stroke="#111" stroke-width="1.8"/>
<line x1="1127.9" y1="1951" x2="1137.9" y2="1951" stroke="#111" stroke-width="1.8"/>
<text x="1121.4" y="1958.8" text-anchor="end">0</text>
<line x1="1127.9" y1="1869.1" x2="1137.9" y2="1869.1" stroke="#111" stroke-width="1.8"/>
<text x="1121.4" y="1876.9" text-anchor="end">1</text>
<line x1="1127.9" y1="1787.2" x2="1137.9" y2="1787.2" stroke="#111" stroke-width="1.8"/>
<text x="1121.4" y="1795" text-anchor="end">2</text>
<line x1="1127.9" y1="1705.3" x2="1137.9" y2="1705.3" stroke="#111" stroke-width="1.8"/>
<text x="1121.4" y="1713.1" text-anchor="end">3</text>
<line x1="1172.2" y1="1951" x2="1172.2" y2="1960.5" stroke="#111" stroke-width="1.8"/>
<line x1="1242.4" y1="1951" x2="1242.4" y2="1960.5" stroke="#111" stroke-width="1.8"/>
<line x1="1312.6" y1="1951" x2="1312.6" y2="1960.5" stroke="#111" stroke-width="1.8"/>
<line x1="1382.8" y1="1951" x2="1382.8" y2="1960.5" stroke="#111" stroke-width="1.8"/>
<text x="1172" y="1984.5" text-anchor="middle">DMSO</text>
<text x="1237.7" y="1984.5" text-anchor="middle">0.1</text>
<text x="1308" y="1984.5" text-anchor="middle">0.2</text>
<text x="1377.4" y="1984.5" text-anchor="middle">0.3</text>
<line x1="1232.3" y1="1998.5" x2="1417.9" y2="1998.5" stroke="#111" stroke-width="1.6"/>
<text x="1320.3" y="2023.5" text-anchor="middle">Paclitaxel (μM)</text>
<text x="1084.4" y="1833.2" text-anchor="middle" transform="rotate(-90 1084.4 1833.2)">Relative fold change</text>
<rect x="1202.2" y="1666.3" width="22.7" height="12.1" fill="#6b93a8"/>
<text x="1238.6" y="1680.5">Vector</text>
<rect x="1202.2" y="1697.9" width="22.7" height="12.4" fill="#c98b65"/>
<text x="1238.6" y="1712.3">CUL4B</text>
<rect x="1202.2" y="1728.3" width="22.7" height="11.7" fill="#8bb05d"/>
<text x="1238.6" y="1742.4">CUL4B+CSN5i-3</text>
<rect x="1510.6" y="1890.3" width="16.7" height="61.4" fill="#6b93a8" stroke="#5d86a0" stroke-width="0.8"/>
<path d="M1518.9 1889.7V1890.9M1514.3 1889.7H1523.5M1514.3 1890.9H1523.5" stroke="#111" stroke-width="1.4" fill="none"/>
<rect x="1528.1" y="1784.7" width="16.7" height="167" fill="#c98b65" stroke="#bf7f58" stroke-width="0.8"/>
<path d="M1536.4 1772.4V1797M1531.8 1772.4H1541M1531.8 1797H1541" stroke="#111" stroke-width="1.4" fill="none"/>
<rect x="1545.6" y="1908.4" width="16.7" height="43.3" fill="#8bb05d" stroke="#7fa553" stroke-width="0.8"/>
<path d="M1553.9 1907.2V1909.6M1549.3 1907.2H1558.5M1549.3 1909.6H1558.5" stroke="#111" stroke-width="1.4" fill="none"/>
<rect x="1580.8" y="1931.1" width="16.7" height="20.6" fill="#6b93a8" stroke="#5d86a0" stroke-width="0.8"/>
<path d="M1589.1 1929.3V1933M1584.5 1929.3H1593.7M1584.5 1933H1593.7" stroke="#111" stroke-width="1.4" fill="none"/>
<rect x="1598.2" y="1913.8" width="16.7" height="37.9" fill="#c98b65" stroke="#bf7f58" stroke-width="0.8"/>
<path d="M1606.6 1910.7V1916.9M1602 1910.7H1611.2M1602 1916.9H1611.2" stroke="#111" stroke-width="1.4" fill="none"/>
<rect x="1615.8" y="1933" width="16.7" height="18.7" fill="#8bb05d" stroke="#7fa553" stroke-width="0.8"/>
<path d="M1624.1 1932.4V1933.6M1619.5 1932.4H1628.7M1619.5 1933.6H1628.7" stroke="#111" stroke-width="1.4" fill="none"/>
<rect x="1651" y="1938.8" width="16.7" height="12.9" fill="#6b93a8" stroke="#5d86a0" stroke-width="0.8"/>
<path d="M1659.3 1938.2V1939.4M1654.7 1938.2H1663.9M1654.7 1939.4H1663.9" stroke="#111" stroke-width="1.4" fill="none"/>
<rect x="1668.5" y="1919.4" width="16.7" height="32.3" fill="#c98b65" stroke="#bf7f58" stroke-width="0.8"/>
<path d="M1676.8 1918.8V1920M1672.2 1918.8H1681.4M1672.2 1920H1681.4" stroke="#111" stroke-width="1.4" fill="none"/>
<rect x="1686" y="1939.4" width="16.7" height="12.3" fill="#8bb05d" stroke="#7fa553" stroke-width="0.8"/>
<path d="M1694.3 1938.8V1940M1689.7 1938.8H1698.9M1689.7 1940H1698.9" stroke="#111" stroke-width="1.4" fill="none"/>
<rect x="1721" y="1943" width="16.7" height="8.7" fill="#6b93a8" stroke="#5d86a0" stroke-width="0.8"/>
<path d="M1729.3 1941.8V1944.3M1724.7 1941.8H1733.9M1724.7 1944.3H1733.9" stroke="#111" stroke-width="1.4" fill="none"/>
<rect x="1738.5" y="1921.3" width="16.7" height="30.4" fill="#c98b65" stroke="#bf7f58" stroke-width="0.8"/>
<path d="M1746.8 1920.1V1922.5M1742.2 1920.1H1751.4M1742.2 1922.5H1751.4" stroke="#111" stroke-width="1.4" fill="none"/>
<rect x="1756" y="1947.5" width="16.7" height="4.2" fill="#8bb05d" stroke="#7fa553" stroke-width="0.8"/>
<path d="M1764.3 1946.8V1948.1M1759.7 1946.8H1768.9M1759.7 1948.1H1768.9" stroke="#111" stroke-width="1.4" fill="none"/>
<text x="1536.4" y="1778.4" text-anchor="middle" font-size="29">**</text>
<text x="1606.6" y="1917.6" text-anchor="middle" font-size="29">*</text>
<text x="1676.8" y="1924.6" text-anchor="middle" font-size="29">*</text>
<text x="1746.8" y="1928" text-anchor="middle" font-size="29">*</text>
<path d="M1502.2 1706.1V1951.7H1782.1" fill="none" stroke="#111" stroke-width="1.8"/>
<line x1="1492.4" y1="1951.7" x2="1502.2" y2="1951.7" stroke="#111" stroke-width="1.8"/>
<line x1="1492.2" y1="1951.7" x2="1502.2" y2="1951.7" stroke="#111" stroke-width="1.8"/>
<text x="1485.7" y="1959.5" text-anchor="end">0</text>
<line x1="1492.2" y1="1890.3" x2="1502.2" y2="1890.3" stroke="#111" stroke-width="1.8"/>
<text x="1485.7" y="1898.1" text-anchor="end">1</text>
<line x1="1492.2" y1="1828.9" x2="1502.2" y2="1828.9" stroke="#111" stroke-width="1.8"/>
<text x="1485.7" y="1836.7" text-anchor="end">2</text>
<line x1="1492.2" y1="1767.5" x2="1502.2" y2="1767.5" stroke="#111" stroke-width="1.8"/>
<text x="1485.7" y="1775.3" text-anchor="end">3</text>
<line x1="1492.2" y1="1706.1" x2="1502.2" y2="1706.1" stroke="#111" stroke-width="1.8"/>
<text x="1485.7" y="1713.9" text-anchor="end">4</text>
<line x1="1536.4" y1="1951.7" x2="1536.4" y2="1961.2" stroke="#111" stroke-width="1.8"/>
<line x1="1606.6" y1="1951.7" x2="1606.6" y2="1961.2" stroke="#111" stroke-width="1.8"/>
<line x1="1676.8" y1="1951.7" x2="1676.8" y2="1961.2" stroke="#111" stroke-width="1.8"/>
<line x1="1746.8" y1="1951.7" x2="1746.8" y2="1961.2" stroke="#111" stroke-width="1.8"/>
<text x="1535.5" y="1984.5" text-anchor="middle">DMSO</text>
<text x="1601.2" y="1984.5" text-anchor="middle">0.1</text>
<text x="1671.4" y="1984.5" text-anchor="middle">0.2</text>
<text x="1741.2" y="1984.5" text-anchor="middle">0.3</text>
<line x1="1588.3" y1="1998.5" x2="1774.4" y2="1998.5" stroke="#111" stroke-width="1.6"/>
<text x="1691" y="2030" text-anchor="middle">Docetaxel (μM)</text>
<text x="1449" y="1833.2" text-anchor="middle" transform="rotate(-90 1449 1833.2)">Relative fold change</text>
<rect x="1568" y="1667.4" width="22.7" height="12.2" fill="#6b93a8"/>
<text x="1604.4" y="1681.7">Vector</text>
<rect x="1568" y="1699.7" width="22.7" height="12.2" fill="#c98b65"/>
<text x="1604.4" y="1714">CUL4B</text>
<rect x="1568" y="1729.4" width="22.7" height="11.7" fill="#8bb05d"/>
<text x="1604.4" y="1743.5">CUL4B+CSN5i-3</text>
<text x="3.4" y="2089.5">G</text>
<line x1="40.2" y1="2099.7" x2="40.2" y2="2485.9" stroke="#000" stroke-width="1.6"/>
<text x="21.5" y="2292.8" text-anchor="middle" textLength="127.5" lengthAdjust="spacingAndGlyphs" transform="rotate(-90 21.5 2292.8)">MDA-MB-231</text>
<text x="71.6" y="2182.2" text-anchor="middle" textLength="62.4" lengthAdjust="spacingAndGlyphs" transform="rotate(-90 71.6 2182.2)">Vector</text>
<text x="73.5" y="2291.8" text-anchor="middle" textLength="67.5" lengthAdjust="spacingAndGlyphs" transform="rotate(-90 73.5 2291.8)">CUL4B</text>
<text x="73.5" y="2418.7" text-anchor="middle" textLength="158.7" lengthAdjust="spacingAndGlyphs" transform="rotate(-90 73.5 2418.7)">CUL4B+CSN5i-3</text>
<text x="156.2" y="2125.5" text-anchor="middle" textLength="65.6" lengthAdjust="spacingAndGlyphs">DMSO</text>
<text x="391.3" y="2087" text-anchor="middle" textLength="151.5" lengthAdjust="spacingAndGlyphs">Paclitaxel (μM)</text>
<line x1="226" y1="2098.6" x2="546" y2="2098.6" stroke="#000" stroke-width="1.6"/>
<text x="268.1" y="2125.5" text-anchor="middle">0.2</text>
<text x="382.8" y="2125.5" text-anchor="middle">0.4</text>
<text x="495" y="2125.5" text-anchor="middle">0.6</text>
<text x="638.5" y="2127" text-anchor="middle" textLength="65.6" lengthAdjust="spacingAndGlyphs">DMSO</text>
<text x="862.5" y="2087.5" text-anchor="middle" textLength="155" lengthAdjust="spacingAndGlyphs">Docetaxel (μM)</text>
<line x1="709.7" y1="2098.4" x2="1044.3" y2="2098.4" stroke="#000" stroke-width="1.6"/>
<text x="757" y="2127" text-anchor="middle">0.2</text>
<text x="871" y="2127" text-anchor="middle">0.4</text>
<text x="990.9" y="2127" text-anchor="middle">0.6</text>
<circle cx="150" cy="2188.6" r="53.5" fill="#d5d9d1"/>
<circle cx="150" cy="2188.6" r="53" fill="url(#p25)" filter="url(#soft)"/>
<circle cx="150" cy="2188.6" r="53.5" fill="none" stroke="#111" stroke-width="1.5"/>
<circle cx="270.1" cy="2188.6" r="53.5" fill="#d5d9d1"/>
<circle cx="270.1" cy="2188.6" r="53" fill="url(#p26)" filter="url(#soft)"/>
<circle cx="270.1" cy="2188.6" r="53.5" fill="none" stroke="#111" stroke-width="1.5"/>
<circle cx="384" cy="2188.6" r="53.5" fill="#d5d9d1"/>
<circle cx="384" cy="2188.6" r="53" fill="url(#p27)" filter="url(#soft)"/>
<circle cx="384" cy="2188.6" r="53.5" fill="none" stroke="#111" stroke-width="1.5"/>
<circle cx="497.8" cy="2188.6" r="53.5" fill="#d5d9d1"/>
<circle cx="497.8" cy="2188.6" r="53" fill="url(#p28)" filter="url(#soft)"/>
<circle cx="497.8" cy="2188.6" r="53.5" fill="none" stroke="#111" stroke-width="1.5"/>
<circle cx="637" cy="2188.6" r="53.5" fill="#d5d9d1"/>
<circle cx="637" cy="2188.6" r="53" fill="url(#p29)" filter="url(#soft)"/>
<circle cx="637" cy="2188.6" r="53.5" fill="none" stroke="#111" stroke-width="1.5"/>
<circle cx="758.9" cy="2188.6" r="53.5" fill="#d5d9d1"/>
<circle cx="758.9" cy="2188.6" r="53" fill="url(#p30)" filter="url(#soft)"/>
<circle cx="758.9" cy="2188.6" r="53.5" fill="none" stroke="#111" stroke-width="1.5"/>
<circle cx="875" cy="2188.6" r="53.5" fill="#d5d9d1"/>
<circle cx="875" cy="2188.6" r="53" fill="url(#p31)" filter="url(#soft)"/>
<circle cx="875" cy="2188.6" r="53.5" fill="none" stroke="#111" stroke-width="1.5"/>
<circle cx="991.2" cy="2188.6" r="53.5" fill="#d5d9d1"/>
<circle cx="991.2" cy="2188.6" r="53" fill="url(#p32)" filter="url(#soft)"/>
<circle cx="991.2" cy="2188.6" r="53.5" fill="none" stroke="#111" stroke-width="1.5"/>
<circle cx="150" cy="2303.7" r="53.5" fill="#d5d9d1"/>
<circle cx="150" cy="2303.7" r="53" fill="url(#p33)" filter="url(#soft)"/>
<circle cx="150" cy="2303.7" r="53.5" fill="none" stroke="#111" stroke-width="1.5"/>
<circle cx="270.1" cy="2303.7" r="53.5" fill="#d5d9d1"/>
<circle cx="270.1" cy="2303.7" r="53" fill="url(#p34)" filter="url(#soft)"/>
<circle cx="270.1" cy="2303.7" r="53.5" fill="none" stroke="#111" stroke-width="1.5"/>
<circle cx="384" cy="2303.7" r="53.5" fill="#d5d9d1"/>
<circle cx="384" cy="2303.7" r="53" fill="url(#p35)" filter="url(#soft)"/>
<circle cx="384" cy="2303.7" r="53.5" fill="none" stroke="#111" stroke-width="1.5"/>
<circle cx="497.8" cy="2303.7" r="53.5" fill="#d5d9d1"/>
<circle cx="497.8" cy="2303.7" r="53" fill="url(#p36)" filter="url(#soft)"/>
<circle cx="497.8" cy="2303.7" r="53.5" fill="none" stroke="#111" stroke-width="1.5"/>
<circle cx="637" cy="2303.7" r="53.5" fill="#d5d9d1"/>
<circle cx="637" cy="2303.7" r="53" fill="url(#p37)" filter="url(#soft)"/>
<circle cx="637" cy="2303.7" r="53.5" fill="none" stroke="#111" stroke-width="1.5"/>
<circle cx="757" cy="2303.7" r="53.5" fill="#d5d9d1"/>
<circle cx="757" cy="2303.7" r="53" fill="url(#p38)" filter="url(#soft)"/>
<circle cx="757" cy="2303.7" r="53.5" fill="none" stroke="#111" stroke-width="1.5"/>
<circle cx="875" cy="2303.7" r="53.5" fill="#d5d9d1"/>
<circle cx="875" cy="2303.7" r="53" fill="url(#p39)" filter="url(#soft)"/>
<circle cx="875" cy="2303.7" r="53.5" fill="none" stroke="#111" stroke-width="1.5"/>
<circle cx="991.7" cy="2303.7" r="53.5" fill="#d5d9d1"/>
<circle cx="991.7" cy="2303.7" r="53" fill="url(#p40)" filter="url(#soft)"/>
<circle cx="991.7" cy="2303.7" r="53.5" fill="none" stroke="#111" stroke-width="1.5"/>
<circle cx="150" cy="2418.6" r="53.5" fill="#d5d9d1"/>
<circle cx="150" cy="2418.6" r="53" fill="url(#p41)" filter="url(#soft)"/>
<circle cx="150" cy="2418.6" r="53.5" fill="none" stroke="#111" stroke-width="1.5"/>
<circle cx="270.1" cy="2418.6" r="53.5" fill="#d5d9d1"/>
<circle cx="270.1" cy="2418.6" r="53" fill="url(#p42)" filter="url(#soft)"/>
<circle cx="270.1" cy="2418.6" r="53.5" fill="none" stroke="#111" stroke-width="1.5"/>
<circle cx="384" cy="2418.6" r="53.5" fill="#d5d9d1"/>
<circle cx="384" cy="2418.6" r="53" fill="url(#p43)" filter="url(#soft)"/>
<circle cx="384" cy="2418.6" r="53.5" fill="none" stroke="#111" stroke-width="1.5"/>
<circle cx="498.9" cy="2418.6" r="53.5" fill="#d5d9d1"/>
<circle cx="498.9" cy="2418.6" r="53" fill="url(#p44)" filter="url(#soft)"/>
<circle cx="498.9" cy="2418.6" r="53.5" fill="none" stroke="#111" stroke-width="1.5"/>
<circle cx="637" cy="2418.6" r="53.5" fill="#d5d9d1"/>
<circle cx="637" cy="2418.6" r="53" fill="url(#p45)" filter="url(#soft)"/>
<circle cx="637" cy="2418.6" r="53.5" fill="none" stroke="#111" stroke-width="1.5"/>
<circle cx="758.9" cy="2418.6" r="53.5" fill="#d5d9d1"/>
<circle cx="758.9" cy="2418.6" r="53" fill="url(#p46)" filter="url(#soft)"/>
<circle cx="758.9" cy="2418.6" r="53.5" fill="none" stroke="#111" stroke-width="1.5"/>
<circle cx="875" cy="2418.6" r="53.5" fill="#d5d9d1"/>
<circle cx="875" cy="2418.6" r="53" fill="url(#p47)" filter="url(#soft)"/>
<circle cx="875" cy="2418.6" r="53.5" fill="none" stroke="#111" stroke-width="1.5"/>
<circle cx="991.7" cy="2418.6" r="53.5" fill="#d5d9d1"/>
<circle cx="991.7" cy="2418.6" r="53" fill="url(#p48)" filter="url(#soft)"/>
<circle cx="991.7" cy="2418.6" r="53.5" fill="none" stroke="#111" stroke-width="1.5"/>
<rect x="1147.6" y="2202.6" width="16.7" height="162.8" fill="#6b93a8" stroke="#5d86a0" stroke-width="0.8"/>
<path d="M1155.9 2196.7V2208.5M1151.3 2196.7H1160.5M1151.3 2208.5H1160.5" stroke="#111" stroke-width="1.4" fill="none"/>
<rect x="1165.1" y="2144.2" width="16.7" height="221.2" fill="#c98b65" stroke="#bf7f58" stroke-width="0.8"/>
<path d="M1173.4 2138.5V2149.9M1168.8 2138.5H1178M1168.8 2149.9H1178" stroke="#111" stroke-width="1.4" fill="none"/>
<rect x="1182.6" y="2239.7" width="16.7" height="125.7" fill="#8bb05d" stroke="#7fa553" stroke-width="0.8"/>
<path d="M1190.9 2235.3V2244.1M1186.3 2235.3H1195.5M1186.3 2244.1H1195.5" stroke="#111" stroke-width="1.4" fill="none"/>
<rect x="1217.2" y="2233.5" width="16.7" height="131.9" fill="#6b93a8" stroke="#5d86a0" stroke-width="0.8"/>
<path d="M1225.6 2221V2246.1M1221 2221H1230.2M1221 2246.1H1230.2" stroke="#111" stroke-width="1.4" fill="none"/>
<rect x="1234.8" y="2178.8" width="16.7" height="186.6" fill="#c98b65" stroke="#bf7f58" stroke-width="0.8"/>
<path d="M1243.1 2175.6V2182.1M1238.5 2175.6H1247.7M1238.5 2182.1H1247.7" stroke="#111" stroke-width="1.4" fill="none"/>
<rect x="1252.2" y="2277.2" width="16.7" height="88.2" fill="#8bb05d" stroke="#7fa553" stroke-width="0.8"/>
<path d="M1260.6 2273.1V2281.2M1256 2273.1H1265.2M1256 2281.2H1265.2" stroke="#111" stroke-width="1.4" fill="none"/>
<rect x="1286.8" y="2282.4" width="16.7" height="83" fill="#6b93a8" stroke="#5d86a0" stroke-width="0.8"/>
<path d="M1295.1 2275V2289.7M1290.5 2275H1299.7M1290.5 2289.7H1299.7" stroke="#111" stroke-width="1.4" fill="none"/>
<rect x="1304.2" y="2249" width="16.7" height="116.4" fill="#c98b65" stroke="#bf7f58" stroke-width="0.8"/>
<path d="M1312.6 2245.7V2252.3M1308 2245.7H1317.2M1308 2252.3H1317.2" stroke="#111" stroke-width="1.4" fill="none"/>
<rect x="1321.8" y="2318.2" width="16.7" height="47.2" fill="#8bb05d" stroke="#7fa553" stroke-width="0.8"/>
<path d="M1330.1 2314.9V2321.4M1325.5 2314.9H1334.7M1325.5 2321.4H1334.7" stroke="#111" stroke-width="1.4" fill="none"/>
<rect x="1356.5" y="2318.2" width="16.7" height="47.2" fill="#6b93a8" stroke="#5d86a0" stroke-width="0.8"/>
<path d="M1364.8 2314.9V2321.4M1360.2 2314.9H1369.4M1360.2 2321.4H1369.4" stroke="#111" stroke-width="1.4" fill="none"/>
<rect x="1374" y="2293.9" width="16.7" height="71.5" fill="#c98b65" stroke="#bf7f58" stroke-width="0.8"/>
<path d="M1382.3 2288.2V2299.6M1377.7 2288.2H1386.9M1377.7 2299.6H1386.9" stroke="#111" stroke-width="1.4" fill="none"/>
<rect x="1391.5" y="2350.3" width="16.7" height="15.1" fill="#8bb05d" stroke="#7fa553" stroke-width="0.8"/>
<path d="M1399.8 2345.4V2355.1M1395.2 2345.4H1404.4M1395.2 2355.1H1404.4" stroke="#111" stroke-width="1.4" fill="none"/>
<text x="1173.4" y="2142.9" text-anchor="middle" font-size="29">*</text>
<text x="1243.1" y="2180.3" text-anchor="middle" font-size="29">*</text>
<text x="1312.6" y="2252.8" text-anchor="middle" font-size="29">*</text>
<text x="1330.1" y="2321.9" text-anchor="middle" font-size="29">*</text>
<text x="1382.3" y="2295.7" text-anchor="middle" font-size="29">*</text>
<text x="1399.8" y="2338.2" text-anchor="middle" font-size="29">*</text>
<text x="1399.8" y="2352.3" text-anchor="middle" font-size="29">*</text>
<path d="M1139.4 2121.2V2365.4H1417.9" fill="none" stroke="#111" stroke-width="1.8"/>
<line x1="1130" y1="2365.4" x2="1139.4" y2="2365.4" stroke="#111" stroke-width="1.8"/>
<line x1="1129.4" y1="2365.4" x2="1139.4" y2="2365.4" stroke="#111" stroke-width="1.8"/>
<text x="1122.9" y="2373.2" text-anchor="end">0.0</text>
<line x1="1129.4" y1="2284" x2="1139.4" y2="2284" stroke="#111" stroke-width="1.8"/>
<text x="1122.9" y="2291.8" text-anchor="end">0.5</text>
<line x1="1129.4" y1="2202.6" x2="1139.4" y2="2202.6" stroke="#111" stroke-width="1.8"/>
<text x="1122.9" y="2210.4" text-anchor="end">1.0</text>
<line x1="1129.4" y1="2121.2" x2="1139.4" y2="2121.2" stroke="#111" stroke-width="1.8"/>
<text x="1122.9" y="2129" text-anchor="end">1.5</text>
<line x1="1173.4" y1="2365.4" x2="1173.4" y2="2374.9" stroke="#111" stroke-width="1.8"/>
<line x1="1243.1" y1="2365.4" x2="1243.1" y2="2374.9" stroke="#111" stroke-width="1.8"/>
<line x1="1312.6" y1="2365.4" x2="1312.6" y2="2374.9" stroke="#111" stroke-width="1.8"/>
<line x1="1382.3" y1="2365.4" x2="1382.3" y2="2374.9" stroke="#111" stroke-width="1.8"/>
<text x="1179.2" y="2398.1" text-anchor="middle">DMSO</text>
<text x="1245.9" y="2398.1" text-anchor="middle">0.2</text>
<text x="1315.5" y="2398.1" text-anchor="middle">0.4</text>
<text x="1385.2" y="2398.1" text-anchor="middle">0.6</text>
<line x1="1229" y1="2412.2" x2="1414.4" y2="2412.2" stroke="#111" stroke-width="1.6"/>
<text x="1325.7" y="2445" text-anchor="middle">Paclitaxel (μM)</text>
<text x="1080" y="2247" text-anchor="middle" transform="rotate(-90 1080 2247)">Relative fold change</text>
<rect x="1201" y="2064.2" width="22.7" height="11.8" fill="#6b93a8"/>
<text x="1237.4" y="2078.3">Vector</text>
<rect x="1201" y="2095.6" width="22.7" height="12.4" fill="#c98b65"/>
<text x="1237.4" y="2110">CUL4B</text>
<rect x="1201" y="2126.2" width="22.7" height="11.8" fill="#8bb05d"/>
<text x="1237.4" y="2140.3">CUL4B+CSN5i-3</text>
<rect x="1511.1" y="2239.8" width="16.7" height="123.7" fill="#6b93a8" stroke="#5d86a0" stroke-width="0.8"/>
<path d="M1519.4 2235.1V2244.5M1514.8 2235.1H1524M1514.8 2244.5H1524" stroke="#111" stroke-width="1.4" fill="none"/>
<rect x="1528.6" y="2173.9" width="16.7" height="189.6" fill="#c98b65" stroke="#bf7f58" stroke-width="0.8"/>
<path d="M1536.9 2168.3V2179.4M1532.3 2168.3H1541.5M1532.3 2179.4H1541.5" stroke="#111" stroke-width="1.4" fill="none"/>
<rect x="1546.1" y="2262.4" width="16.7" height="101.1" fill="#8bb05d" stroke="#7fa553" stroke-width="0.8"/>
<path d="M1554.4 2257.5V2267.4M1549.8 2257.5H1559M1549.8 2267.4H1559" stroke="#111" stroke-width="1.4" fill="none"/>
<rect x="1581.7" y="2271.7" width="16.7" height="91.8" fill="#6b93a8" stroke="#5d86a0" stroke-width="0.8"/>
<path d="M1590 2266.8V2276.7M1585.4 2266.8H1594.6M1585.4 2276.7H1594.6" stroke="#111" stroke-width="1.4" fill="none"/>
<rect x="1599.2" y="2200.8" width="16.7" height="162.7" fill="#c98b65" stroke="#bf7f58" stroke-width="0.8"/>
<path d="M1607.5 2192.2V2209.5M1602.9 2192.2H1612.1M1602.9 2209.5H1612.1" stroke="#111" stroke-width="1.4" fill="none"/>
<rect x="1616.7" y="2301" width="16.7" height="62.5" fill="#8bb05d" stroke="#7fa553" stroke-width="0.8"/>
<path d="M1625 2299.8V2302.3M1620.4 2299.8H1629.6M1620.4 2302.3H1629.6" stroke="#111" stroke-width="1.4" fill="none"/>
<rect x="1652.6" y="2315.8" width="16.7" height="47.7" fill="#6b93a8" stroke="#5d86a0" stroke-width="0.8"/>
<path d="M1660.9 2314.5V2317M1656.3 2314.5H1665.5M1656.3 2317H1665.5" stroke="#111" stroke-width="1.4" fill="none"/>
<rect x="1670.1" y="2251.2" width="16.7" height="112.3" fill="#c98b65" stroke="#bf7f58" stroke-width="0.8"/>
<path d="M1678.4 2244.4V2258M1673.8 2244.4H1683M1673.8 2258H1683" stroke="#111" stroke-width="1.4" fill="none"/>
<rect x="1687.6" y="2332.1" width="16.7" height="31.4" fill="#8bb05d" stroke="#7fa553" stroke-width="0.8"/>
<path d="M1695.9 2330.2V2333.9M1691.3 2330.2H1700.5M1691.3 2333.9H1700.5" stroke="#111" stroke-width="1.4" fill="none"/>
<rect x="1722.6" y="2334.4" width="16.7" height="29.1" fill="#6b93a8" stroke="#5d86a0" stroke-width="0.8"/>
<path d="M1730.9 2332.6V2336.3M1726.3 2332.6H1735.5M1726.3 2336.3H1735.5" stroke="#111" stroke-width="1.4" fill="none"/>
<rect x="1740.1" y="2279.3" width="16.7" height="84.2" fill="#c98b65" stroke="#bf7f58" stroke-width="0.8"/>
<path d="M1748.4 2273.7V2284.8M1743.8 2273.7H1753M1743.8 2284.8H1753" stroke="#111" stroke-width="1.4" fill="none"/>
<rect x="1757.6" y="2353" width="16.7" height="10.5" fill="#8bb05d" stroke="#7fa553" stroke-width="0.8"/>
<path d="M1765.9 2348V2357.9M1761.3 2348H1770.5M1761.3 2357.9H1770.5" stroke="#111" stroke-width="1.4" fill="none"/>
<text x="1536.9" y="2173.3" text-anchor="middle" font-size="29">*</text>
<text x="1607.5" y="2199" text-anchor="middle" font-size="29">*</text>
<text x="1678.4" y="2251.7" text-anchor="middle" font-size="29">*</text>
<text x="1748.4" y="2280.4" text-anchor="middle" font-size="29">*</text>
<path d="M1502.2 2116.1V2363.5H1783.7" fill="none" stroke="#111" stroke-width="1.8"/>
<line x1="1492.4" y1="2363.5" x2="1502.2" y2="2363.5" stroke="#111" stroke-width="1.8"/>
<line x1="1492.2" y1="2363.5" x2="1502.2" y2="2363.5" stroke="#111" stroke-width="1.8"/>
<text x="1485.7" y="2371.3" text-anchor="end">0.0</text>
<line x1="1492.2" y1="2301.7" x2="1502.2" y2="2301.7" stroke="#111" stroke-width="1.8"/>
<text x="1485.7" y="2309.5" text-anchor="end">0.5</text>
<line x1="1492.2" y1="2239.8" x2="1502.2" y2="2239.8" stroke="#111" stroke-width="1.8"/>
<text x="1485.7" y="2247.6" text-anchor="end">1.0</text>
<line x1="1492.2" y1="2177.9" x2="1502.2" y2="2177.9" stroke="#111" stroke-width="1.8"/>
<text x="1485.7" y="2185.8" text-anchor="end">1.5</text>
<line x1="1492.2" y1="2116.1" x2="1502.2" y2="2116.1" stroke="#111" stroke-width="1.8"/>
<text x="1485.7" y="2123.9" text-anchor="end">2.0</text>
<line x1="1536.9" y1="2363.5" x2="1536.9" y2="2373" stroke="#111" stroke-width="1.8"/>
<line x1="1607.5" y1="2363.5" x2="1607.5" y2="2373" stroke="#111" stroke-width="1.8"/>
<line x1="1678.4" y1="2363.5" x2="1678.4" y2="2373" stroke="#111" stroke-width="1.8"/>
<line x1="1748.4" y1="2363.5" x2="1748.4" y2="2373" stroke="#111" stroke-width="1.8"/>
<text x="1540.4" y="2397" text-anchor="middle">DMSO</text>
<text x="1607.3" y="2397" text-anchor="middle">0.2</text>
<text x="1676.7" y="2397" text-anchor="middle">0.4</text>
<text x="1746.3" y="2397" text-anchor="middle">0.6</text>
<line x1="1588.3" y1="2412.2" x2="1774.4" y2="2412.2" stroke="#111" stroke-width="1.6"/>
<text x="1677.5" y="2440" text-anchor="middle">Docetaxel (μM)</text>
<text x="1445" y="2247" text-anchor="middle" transform="rotate(-90 1445 2247)">Relative fold change</text>
<rect x="1568" y="2064.2" width="22.7" height="11.8" fill="#6b93a8"/>
<text x="1604.4" y="2078.3">Vector</text>
<rect x="1568" y="2095.6" width="22.7" height="12.4" fill="#c98b65"/>
<text x="1604.4" y="2110">CUL4B</text>
<rect x="1568" y="2126.2" width="22.7" height="11.8" fill="#8bb05d"/>
<text x="1604.4" y="2140.3">CUL4B+CSN5i-3</text>
</svg></body></html>
